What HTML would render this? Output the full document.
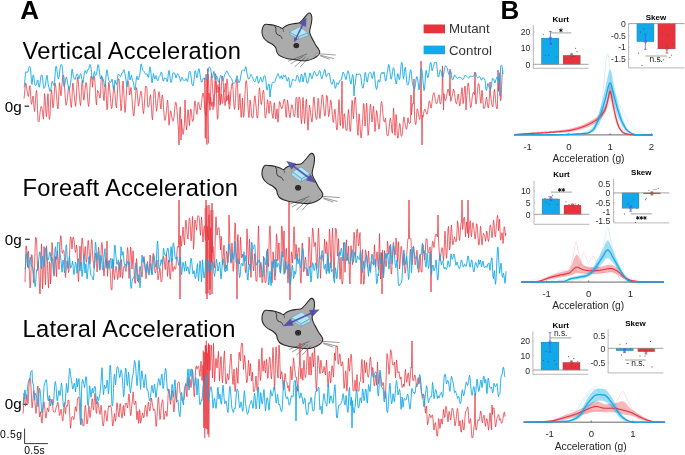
<!DOCTYPE html><html><head><meta charset="utf-8"><style>html,body{margin:0;padding:0;background:#fff;}svg{display:block;will-change:transform}text{font-family:"Liberation Sans",sans-serif;}</style></head><body>
<svg width="685" height="455" viewBox="0 0 685 455">
<rect width="685" height="455" fill="#fff"/>
<text x="20.2" y="18.5" font-size="26" font-weight="700" fill="#000">A</text>
<text x="500.6" y="18.7" font-size="26" font-weight="700" fill="#000">B</text>
<text x="22.6" letter-spacing="0.25" y="58.5" font-size="23.7" fill="#000">Vertical Acceleration</text>
<text x="22.6" letter-spacing="0.25" y="196.2" font-size="23.7" fill="#000">Foreaft Acceleration</text>
<text x="22.6" letter-spacing="0.25" y="336.9" font-size="23.7" fill="#000">Lateral Acceleration</text>
<text x="4.8" y="111.6" font-size="15.2" fill="#000">0g</text>
<line x1="24.5" x2="29.2" y1="106.2" y2="106.2" stroke="#222" stroke-width="1.2"/>
<text x="4.8" y="244.9" font-size="15.2" fill="#000">0g</text>
<line x1="25.1" x2="29.8" y1="239.3" y2="239.3" stroke="#222" stroke-width="1.2"/>
<text x="4.8" y="409.3" font-size="15.2" fill="#000">0g</text>
<line x1="22.9" x2="27.599999999999998" y1="404.3" y2="404.3" stroke="#222" stroke-width="1.2"/>
<path d="M24.6 428.6 V443.6 H47.9" fill="none" stroke="#222" stroke-width="0.9"/>
<text x="0.1" y="437.9" font-size="10.4" letter-spacing="0.6" fill="#000">0.5g</text>
<text x="24.3" y="453.6" font-size="10.4" letter-spacing="0.25" fill="#000">0.5s</text>
<rect x="423.6" y="24.5" width="21.4" height="8.8" fill="#e8333d"/>
<rect x="423.6" y="45.6" width="21.4" height="8.6" fill="#10a9ea"/>
<text x="449" y="33.3" font-size="13.3" fill="#333">Mutant</text>
<text x="449" y="54.6" font-size="13.3" fill="#333">Control</text>
<g transform="translate(296.3 45.6) scale(0.95) translate(-298.1 -187.7)">
<path d="M265.00 165.40 C266.20 164.90 268.38 165.45 270.00 165.60 C271.62 165.75 273.03 165.90 274.70 166.30 C276.37 166.70 278.53 167.45 280.00 168.00 C281.47 168.55 282.48 169.67 283.50 169.60 C284.52 169.53 285.02 168.23 286.10 167.60 C287.18 166.97 288.52 166.30 290.00 165.80 C291.48 165.30 293.25 164.90 295.00 164.60 C296.75 164.30 299.25 164.30 300.50 164.00 C301.75 163.70 301.65 163.55 302.50 162.80 C303.35 162.05 304.50 160.75 305.60 159.50 C306.70 158.25 308.15 156.32 309.10 155.30 C310.05 154.28 310.55 153.52 311.30 153.40 C312.05 153.28 313.07 153.75 313.60 154.60 C314.13 155.45 314.43 156.93 314.50 158.50 C314.57 160.07 314.32 162.08 314.00 164.00 C313.68 165.92 312.90 168.37 312.60 170.00 C312.30 171.63 312.02 172.45 312.20 173.80 C312.38 175.15 313.05 176.65 313.70 178.10 C314.35 179.55 315.25 180.93 316.10 182.50 C316.95 184.07 317.88 186.00 318.80 187.50 C319.72 189.00 320.93 190.33 321.60 191.50 C322.27 192.67 322.85 193.45 322.80 194.50 C322.75 195.55 322.43 196.65 321.30 197.80 C320.17 198.95 318.22 200.43 316.00 201.40 C313.78 202.37 311.08 203.38 308.00 203.60 C304.92 203.82 300.67 203.05 297.50 202.70 C294.33 202.35 291.18 201.93 289.00 201.50 C286.82 201.07 285.98 200.77 284.40 200.10 C282.82 199.43 280.68 198.60 279.50 197.50 C278.32 196.40 277.82 194.78 277.30 193.50 C276.78 192.22 277.20 191.05 276.40 189.80 C275.60 188.55 273.90 187.03 272.50 186.00 C271.10 184.97 269.33 184.52 268.00 183.60 C266.67 182.68 265.43 181.68 264.50 180.50 C263.57 179.32 262.82 177.83 262.40 176.50 C261.98 175.17 261.93 173.82 262.00 172.50 C262.07 171.18 262.30 169.78 262.80 168.60 C263.30 167.42 263.80 165.90 265.00 165.40 Z" fill="#ababab" stroke="#262626" stroke-width="1.1" stroke-linejoin="round"/>
<path d="M274.70 166.60 C275.02 167.03 276.28 168.17 276.60 169.20 C276.92 170.23 276.37 171.67 276.60 172.80 C276.83 173.93 277.20 175.23 278.00 176.00 C278.80 176.77 280.52 176.63 281.40 177.40 C282.28 178.17 282.98 180.07 283.30 180.60" fill="none" stroke="#262626" stroke-width="0.85"/>
<path d="M283.30 169.80 C283.52 170.03 284.42 170.63 284.60 171.20 C284.78 171.77 284.43 172.87 284.40 173.20" fill="none" stroke="#2e2e2e" stroke-width="0.6"/>
<ellipse cx="298.1" cy="187.7" rx="3.0" ry="2.8" fill="#1a1a1a"/>
<ellipse cx="298.3" cy="187.9" rx="1.7" ry="1.5" fill="none" stroke="#6a6a6a" stroke-width="0.5"/>
<ellipse cx="319.6" cy="197.2" rx="1.9" ry="1.1" fill="#f2b3c6" stroke="#555" stroke-width="0.3" transform="rotate(-20 319.6 197.2)"/>
<path d="M322.3 196.3 L339.6 197.6 M323.2 197.8 L337.6 201.4 M323.4 198.6 L333.4 202.2 M309.4 196.4 L289.3 204.3 M308.0 199.6 L296.4 210.0 M310.8 200.6 L302.2 210.2 M305.5 199.0 L292.0 207.0" fill="none" stroke="#333" stroke-width="0.5"/>
</g>
<path d="M307.70 32.80 L298.20 36.70 L298.80 39.30 L308.30 35.40 Z" fill="#a6dcee" stroke="#4f8aa0" stroke-width="0.45" stroke-linejoin="round"/>
<path d="M298.20 36.70 L289.60 32.10 L290.20 34.70 L298.80 39.30 Z" fill="#a6dcee" stroke="#4f8aa0" stroke-width="0.45" stroke-linejoin="round"/>
<path d="M289.60 32.10 L299.80 26.50 L307.70 32.80 L298.20 36.70 Z" fill="#b2e5f5" stroke="#4f8aa0" stroke-width="0.45" stroke-linejoin="round"/>
<line x1="295.32" y1="39.49" x2="303.71" y2="22.91" stroke="#4e4ea6" stroke-width="1.6" stroke-opacity="0.92"/>
<path d="M306.40 17.60 L305.95 26.90 L299.17 23.47 Z" fill="#4e4ea6" fill-opacity="0.92"/>
<path d="M293.90 42.30 L297.72 39.19 L294.15 37.38 Z" fill="#4e4ea6" fill-opacity="0.92"/>
<g transform="translate(0 0)">
<path d="M265.00 165.40 C266.20 164.90 268.38 165.45 270.00 165.60 C271.62 165.75 273.03 165.90 274.70 166.30 C276.37 166.70 278.53 167.45 280.00 168.00 C281.47 168.55 282.48 169.67 283.50 169.60 C284.52 169.53 285.02 168.23 286.10 167.60 C287.18 166.97 288.52 166.30 290.00 165.80 C291.48 165.30 293.25 164.90 295.00 164.60 C296.75 164.30 299.25 164.30 300.50 164.00 C301.75 163.70 301.65 163.55 302.50 162.80 C303.35 162.05 304.50 160.75 305.60 159.50 C306.70 158.25 308.15 156.32 309.10 155.30 C310.05 154.28 310.55 153.52 311.30 153.40 C312.05 153.28 313.07 153.75 313.60 154.60 C314.13 155.45 314.43 156.93 314.50 158.50 C314.57 160.07 314.32 162.08 314.00 164.00 C313.68 165.92 312.90 168.37 312.60 170.00 C312.30 171.63 312.02 172.45 312.20 173.80 C312.38 175.15 313.05 176.65 313.70 178.10 C314.35 179.55 315.25 180.93 316.10 182.50 C316.95 184.07 317.88 186.00 318.80 187.50 C319.72 189.00 320.93 190.33 321.60 191.50 C322.27 192.67 322.85 193.45 322.80 194.50 C322.75 195.55 322.43 196.65 321.30 197.80 C320.17 198.95 318.22 200.43 316.00 201.40 C313.78 202.37 311.08 203.38 308.00 203.60 C304.92 203.82 300.67 203.05 297.50 202.70 C294.33 202.35 291.18 201.93 289.00 201.50 C286.82 201.07 285.98 200.77 284.40 200.10 C282.82 199.43 280.68 198.60 279.50 197.50 C278.32 196.40 277.82 194.78 277.30 193.50 C276.78 192.22 277.20 191.05 276.40 189.80 C275.60 188.55 273.90 187.03 272.50 186.00 C271.10 184.97 269.33 184.52 268.00 183.60 C266.67 182.68 265.43 181.68 264.50 180.50 C263.57 179.32 262.82 177.83 262.40 176.50 C261.98 175.17 261.93 173.82 262.00 172.50 C262.07 171.18 262.30 169.78 262.80 168.60 C263.30 167.42 263.80 165.90 265.00 165.40 Z" fill="#ababab" stroke="#262626" stroke-width="1.1" stroke-linejoin="round"/>
<path d="M274.70 166.60 C275.02 167.03 276.28 168.17 276.60 169.20 C276.92 170.23 276.37 171.67 276.60 172.80 C276.83 173.93 277.20 175.23 278.00 176.00 C278.80 176.77 280.52 176.63 281.40 177.40 C282.28 178.17 282.98 180.07 283.30 180.60" fill="none" stroke="#262626" stroke-width="0.85"/>
<path d="M283.30 169.80 C283.52 170.03 284.42 170.63 284.60 171.20 C284.78 171.77 284.43 172.87 284.40 173.20" fill="none" stroke="#2e2e2e" stroke-width="0.6"/>
<ellipse cx="298.1" cy="187.7" rx="3.0" ry="2.8" fill="#1a1a1a"/>
<ellipse cx="298.3" cy="187.9" rx="1.7" ry="1.5" fill="none" stroke="#6a6a6a" stroke-width="0.5"/>
<ellipse cx="319.6" cy="197.2" rx="1.9" ry="1.1" fill="#f2b3c6" stroke="#555" stroke-width="0.3" transform="rotate(-20 319.6 197.2)"/>
<path d="M322.3 196.3 L339.6 197.6 M323.2 197.8 L337.6 201.4 M323.4 198.6 L333.4 202.2 M309.4 196.4 L289.3 204.3 M308.0 199.6 L296.4 210.0 M310.8 200.6 L302.2 210.2 M305.5 199.0 L292.0 207.0" fill="none" stroke="#333" stroke-width="0.5"/>
</g>
<path d="M310.00 173.80 L301.80 178.60 L300.60 182.00 L308.80 177.20 Z" fill="#a6dcee" stroke="#4f8aa0" stroke-width="0.45" stroke-linejoin="round"/>
<path d="M301.80 178.60 L292.50 171.60 L291.30 175.00 L300.60 182.00 Z" fill="#a6dcee" stroke="#4f8aa0" stroke-width="0.45" stroke-linejoin="round"/>
<path d="M292.50 171.60 L301.10 167.00 L310.00 173.80 L301.80 178.60 Z" fill="#b2e5f5" stroke="#4f8aa0" stroke-width="0.45" stroke-linejoin="round"/>
<line x1="291.63" y1="164.88" x2="310.57" y2="179.02" stroke="#4e4ea6" stroke-width="1.7" stroke-opacity="0.92"/>
<path d="M315.90 183.00 L306.01 180.36 L310.56 174.27 Z" fill="#4e4ea6" fill-opacity="0.92"/>
<path d="M286.30 160.90 L291.64 169.63 L296.19 163.54 Z" fill="#4e4ea6" fill-opacity="0.92"/>
<g transform="translate(0 145.0)">
<path d="M265.00 165.40 C266.20 164.90 268.38 165.45 270.00 165.60 C271.62 165.75 273.03 165.90 274.70 166.30 C276.37 166.70 278.53 167.45 280.00 168.00 C281.47 168.55 282.48 169.67 283.50 169.60 C284.52 169.53 285.02 168.23 286.10 167.60 C287.18 166.97 288.52 166.30 290.00 165.80 C291.48 165.30 293.25 164.90 295.00 164.60 C296.75 164.30 299.25 164.30 300.50 164.00 C301.75 163.70 301.65 163.55 302.50 162.80 C303.35 162.05 304.50 160.75 305.60 159.50 C306.70 158.25 308.15 156.32 309.10 155.30 C310.05 154.28 310.55 153.52 311.30 153.40 C312.05 153.28 313.07 153.75 313.60 154.60 C314.13 155.45 314.43 156.93 314.50 158.50 C314.57 160.07 314.32 162.08 314.00 164.00 C313.68 165.92 312.90 168.37 312.60 170.00 C312.30 171.63 312.02 172.45 312.20 173.80 C312.38 175.15 313.05 176.65 313.70 178.10 C314.35 179.55 315.25 180.93 316.10 182.50 C316.95 184.07 317.88 186.00 318.80 187.50 C319.72 189.00 320.93 190.33 321.60 191.50 C322.27 192.67 322.85 193.45 322.80 194.50 C322.75 195.55 322.43 196.65 321.30 197.80 C320.17 198.95 318.22 200.43 316.00 201.40 C313.78 202.37 311.08 203.38 308.00 203.60 C304.92 203.82 300.67 203.05 297.50 202.70 C294.33 202.35 291.18 201.93 289.00 201.50 C286.82 201.07 285.98 200.77 284.40 200.10 C282.82 199.43 280.68 198.60 279.50 197.50 C278.32 196.40 277.82 194.78 277.30 193.50 C276.78 192.22 277.20 191.05 276.40 189.80 C275.60 188.55 273.90 187.03 272.50 186.00 C271.10 184.97 269.33 184.52 268.00 183.60 C266.67 182.68 265.43 181.68 264.50 180.50 C263.57 179.32 262.82 177.83 262.40 176.50 C261.98 175.17 261.93 173.82 262.00 172.50 C262.07 171.18 262.30 169.78 262.80 168.60 C263.30 167.42 263.80 165.90 265.00 165.40 Z" fill="#ababab" stroke="#262626" stroke-width="1.1" stroke-linejoin="round"/>
<path d="M274.70 166.60 C275.02 167.03 276.28 168.17 276.60 169.20 C276.92 170.23 276.37 171.67 276.60 172.80 C276.83 173.93 277.20 175.23 278.00 176.00 C278.80 176.77 280.52 176.63 281.40 177.40 C282.28 178.17 282.98 180.07 283.30 180.60" fill="none" stroke="#262626" stroke-width="0.85"/>
<path d="M283.30 169.80 C283.52 170.03 284.42 170.63 284.60 171.20 C284.78 171.77 284.43 172.87 284.40 173.20" fill="none" stroke="#2e2e2e" stroke-width="0.6"/>
<ellipse cx="298.1" cy="187.7" rx="3.0" ry="2.8" fill="#1a1a1a"/>
<ellipse cx="298.3" cy="187.9" rx="1.7" ry="1.5" fill="none" stroke="#6a6a6a" stroke-width="0.5"/>
<ellipse cx="319.6" cy="197.2" rx="1.9" ry="1.1" fill="#f2b3c6" stroke="#555" stroke-width="0.3" transform="rotate(-20 319.6 197.2)"/>
<path d="M322.3 196.3 L339.6 197.6 M323.2 197.8 L337.6 201.4 M323.4 198.6 L333.4 202.2 M309.4 196.4 L289.3 204.3 M308.0 199.6 L296.4 210.0 M310.8 200.6 L302.2 210.2 M305.5 199.0 L292.0 207.0" fill="none" stroke="#333" stroke-width="0.5"/>
</g>
<path d="M310.20 318.60 L300.80 323.80 L301.10 326.60 L310.50 321.40 Z" fill="#a6dcee" stroke="#4f8aa0" stroke-width="0.45" stroke-linejoin="round"/>
<path d="M300.80 323.80 L291.40 317.40 L291.70 320.20 L301.10 326.60 Z" fill="#a6dcee" stroke="#4f8aa0" stroke-width="0.45" stroke-linejoin="round"/>
<path d="M291.40 317.40 L301.80 312.10 L310.20 318.60 L300.80 323.80 Z" fill="#b2e5f5" stroke="#4f8aa0" stroke-width="0.45" stroke-linejoin="round"/>
<line x1="289.36" y1="323.28" x2="313.24" y2="312.32" stroke="#4e4ea6" stroke-width="1.7" stroke-opacity="0.92"/>
<path d="M319.60 309.40 L312.10 317.03 L308.93 310.12 Z" fill="#4e4ea6" fill-opacity="0.92"/>
<path d="M283.00 326.20 L293.67 325.48 L290.50 318.57 Z" fill="#4e4ea6" fill-opacity="0.92"/>
<path d="M24.0 98.6 24.5 94.5 25.0 88.0 25.5 83.1 26.0 83.3 26.5 86.3 27.0 90.5 27.5 93.6 28.0 95.6 28.5 96.5 29.0 91.9 29.5 86.0 30.0 85.5 30.5 93.0 31.0 101.7 31.5 104.3 32.0 102.3 32.5 98.3 33.0 96.0 33.5 100.4 34.0 107.3 34.5 111.4 35.0 107.6 35.5 99.9 36.0 93.0 36.5 90.3 37.0 94.1 37.5 109.3 38.0 120.5 38.5 121.1 39.0 121.8 39.5 118.5 40.0 112.9 40.5 108.5 41.0 106.5 41.5 106.7 42.0 108.6 42.5 112.3 43.0 116.7 43.5 119.2 44.0 106.3 44.5 93.5 45.0 97.0 45.5 105.4 46.0 113.1 46.5 116.7 47.0 110.4 47.5 97.9 48.0 93.7 48.5 103.9 49.0 116.9 49.5 119.4 50.0 115.6 50.5 104.3 51.0 94.1 51.5 89.9 52.0 94.4 52.5 102.7 53.0 107.8 53.5 105.5 54.0 98.0 54.5 89.1 55.0 83.1 55.5 84.5 56.0 89.2 56.5 94.9 57.0 101.5 57.5 107.1 58.0 109.0 58.5 101.6 59.0 90.6 59.5 82.6 60.0 86.1 60.5 93.4 61.0 95.8 61.5 90.5 62.0 84.3 62.5 78.8 63.0 75.0 63.5 75.1 64.0 78.0 64.5 85.8 65.0 94.0 65.5 100.9 66.0 105.3 66.5 104.6 67.0 101.7 67.5 97.3 68.0 91.7 68.5 87.1 69.0 86.2 69.5 89.8 70.0 95.4 70.5 101.8 71.0 107.2 71.5 107.3 72.0 98.5 72.5 84.0 73.0 83.1 73.5 87.8 74.0 93.1 74.5 98.0 75.0 102.4 75.5 106.3 76.0 103.1 76.5 93.9 77.0 83.7 77.5 77.2 78.0 78.1 78.5 84.5 79.0 91.3 79.5 97.1 80.0 102.7 80.5 105.6 81.0 100.3 81.5 90.4 82.0 81.6 82.5 80.4 83.0 89.8 83.5 99.3 84.0 100.2 84.5 95.8 85.0 89.9 85.5 84.8 86.0 82.5 86.5 83.8 87.0 89.2 87.5 96.1 88.0 103.0 88.5 106.5 89.0 104.7 89.5 96.8 90.0 87.3 90.5 79.3 91.0 76.1 91.5 76.1 92.0 81.0 92.5 87.2 93.0 82.2 93.5 76.2 94.0 76.2 94.5 76.2 95.0 82.7 95.5 92.5 96.0 101.1 96.5 105.0 97.0 97.4 97.5 90.3 98.0 91.0 98.5 91.6 99.0 93.4 99.5 96.2 100.0 98.1 100.5 95.5 101.0 81.4 101.5 76.7 102.0 76.8 102.5 77.9 103.0 89.4 103.5 98.2 104.0 100.7 104.5 95.5 105.0 88.0 105.5 84.3 106.0 90.2 106.5 102.1 107.0 109.8 107.5 108.3 108.0 95.9 108.5 84.0 109.0 82.3 109.5 86.6 110.0 92.3 110.5 98.7 111.0 104.9 111.5 108.7 112.0 107.6 112.5 102.4 113.0 95.2 113.5 88.8 114.0 85.7 114.5 89.2 115.0 94.7 115.5 100.7 116.0 106.1 116.5 107.9 117.0 101.2 117.5 91.0 118.0 80.6 118.5 78.9 119.0 79.0 119.5 84.4 120.0 93.7 120.5 103.5 121.0 110.8 121.5 107.8 122.0 98.3 122.5 87.2 123.0 81.0 123.5 86.2 124.0 95.9 124.5 105.9 125.0 112.5 125.5 109.1 126.0 100.1 126.5 91.2 127.0 84.1 127.5 81.1 128.0 81.3 128.5 81.4 129.0 87.9 129.5 95.0 130.0 94.0 130.5 89.9 131.0 87.5 131.5 91.7 132.0 98.4 132.5 105.6 133.0 112.0 133.5 116.0 134.0 114.8 134.5 109.0 135.0 102.5 135.5 95.6 136.0 90.0 136.5 87.7 137.0 90.4 137.5 95.9 138.0 102.0 138.5 106.1 139.0 104.4 139.5 100.0 140.0 95.6 140.5 92.8 141.0 91.1 141.5 93.4 142.0 99.3 142.5 105.6 143.0 110.9 143.5 113.7 144.0 109.5 144.5 102.3 145.0 94.2 145.5 86.2 146.0 86.4 146.5 86.5 147.0 88.4 147.5 104.8 148.0 107.3 148.5 106.7 149.0 105.5 149.5 101.7 150.0 96.6 150.5 94.7 151.0 99.6 151.5 108.4 152.0 117.2 152.5 119.9 153.0 112.0 153.5 99.5 154.0 89.3 154.5 89.2 155.0 91.1 155.5 98.3 156.0 106.4 156.5 111.3 157.0 108.5 157.5 103.6 158.0 98.9 158.5 93.9 159.0 91.7 159.5 94.6 160.0 100.6 160.5 107.7 161.0 109.0 161.5 102.7 162.0 95.5 162.5 95.0 163.0 99.8 163.5 107.0 164.0 114.1 164.5 118.3 165.0 120.5 165.5 118.8 166.0 114.9 166.5 110.3 167.0 105.2 167.5 100.0 168.0 103.5 168.5 117.2 169.0 125.2 169.5 121.7 170.0 115.2 170.5 110.8 171.0 111.5 171.5 114.7 172.0 117.9 172.5 120.1 173.0 121.2 173.5 120.3 174.0 117.0 174.5 111.9 175.0 106.3 175.5 102.3 176.0 102.4 176.5 104.8 177.0 110.3 177.5 117.2 178.0 124.7 178.5 130.1 179.0 145.0 179.5 117.1 180.0 107.3 180.5 106.9 181.0 140.0 181.5 119.3 182.0 126.2 182.5 131.3 183.0 134.5 183.5 132.2 184.0 127.9 184.5 122.1 185.0 100.0 185.5 114.6 186.0 124.1 186.5 130.0 187.0 125.6 187.5 115.8 188.0 109.7 188.5 113.9 189.0 121.8 189.5 125.7 190.0 117.7 190.5 109.2 191.0 109.1 191.5 112.8 192.0 118.5 192.5 121.4 193.0 120.7 193.5 120.0 194.0 111.5 194.5 102.9 195.0 100.9 195.5 103.6 196.0 108.8 196.5 113.1 197.0 114.3 197.5 109.1 198.0 102.7 198.5 102.2 199.0 104.2 199.5 106.5 200.0 109.2 200.5 110.0 201.0 108.0 201.5 103.4 202.0 98.5 202.5 94.7 203.0 93.0 203.5 94.3 204.0 98.7 204.5 104.9 205.0 112.0 205.5 114.1 206.0 115.7 206.5 109.9 207.0 97.8 207.5 83.9 208.0 74.0 208.5 79.3 209.0 91.8 209.5 104.8 210.0 110.3 210.5 98.0 211.0 80.1 211.5 73.6 212.0 79.0 212.5 86.7 213.0 95.1 213.5 102.8 214.0 106.6 214.5 97.8 215.0 77.4 215.5 73.7 216.0 76.2 216.5 93.7 217.0 112.6 217.5 119.2 218.0 117.2 218.5 96.1 219.0 86.9 219.5 96.1 220.0 105.2 220.5 102.9 221.0 95.3 221.5 85.7 222.0 77.5 222.5 76.0 223.0 79.2 223.5 86.5 224.0 94.6 224.5 101.8 225.0 105.7 225.5 103.6 226.0 95.3 226.5 85.3 227.0 78.9 227.5 81.7 228.0 89.2 228.5 97.7 229.0 105.0 229.5 109.1 230.0 106.1 230.5 98.1 231.0 90.8 231.5 86.6 232.0 83.7 232.5 83.1 233.0 89.4 233.5 98.5 234.0 106.0 234.5 109.3 235.0 106.1 235.5 98.8 236.0 87.6 236.5 79.1 237.0 79.2 237.5 83.2 238.0 98.7 238.5 109.9 239.0 105.7 239.5 95.9 240.0 93.7 240.5 104.9 241.0 117.2 241.5 117.2 242.0 107.0 242.5 98.1 243.0 108.5 243.5 117.3 244.0 115.4 244.5 105.2 245.0 93.8 245.5 84.4 246.0 80.7 246.5 80.8 247.0 86.4 247.5 96.5 248.0 107.1 248.5 115.6 249.0 117.6 249.5 110.4 250.0 100.1 250.5 101.4 251.0 107.5 251.5 115.9 252.0 117.7 252.5 117.7 253.0 117.8 253.5 112.1 254.0 103.9 254.5 97.1 255.0 95.8 255.5 100.8 256.0 106.0 256.5 111.2 257.0 117.8 257.5 118.0 258.0 114.1 258.5 102.8 259.0 91.8 259.5 87.8 260.0 91.6 260.5 98.3 261.0 104.1 261.5 104.4 262.0 100.8 262.5 95.6 263.0 91.1 263.5 90.2 264.0 94.2 264.5 106.6 265.0 116.9 265.5 118.1 266.0 115.5 266.5 110.8 267.0 104.8 267.5 99.7 268.0 101.3 268.5 108.3 269.0 113.4 269.5 108.7 270.0 101.7 270.5 101.2 271.0 104.3 271.5 108.8 272.0 113.2 272.5 116.5 273.0 118.4 273.5 112.5 274.0 103.6 274.5 102.6 275.0 110.1 275.5 118.4 276.0 118.9 276.5 112.3 277.0 108.9 277.5 115.6 278.0 122.3 278.5 117.2 279.0 106.8 279.5 101.5 280.0 102.4 280.5 104.7 281.0 107.0 281.5 108.5 282.0 108.8 282.5 107.0 283.0 104.7 283.5 102.0 284.0 99.2 284.5 99.0 285.0 102.2 285.5 109.8 286.0 117.0 286.5 117.4 287.0 106.3 287.5 100.0 288.0 102.9 288.5 108.0 289.0 112.8 289.5 116.3 290.0 117.7 290.5 113.9 291.0 109.2 291.5 105.8 292.0 104.7 292.5 106.6 293.0 109.5 293.5 113.4 294.0 116.0 294.5 116.9 295.0 113.8 295.5 106.3 296.0 97.6 296.5 97.5 297.0 97.5 297.5 112.8 298.0 117.9 298.5 105.2 299.0 97.2 299.5 97.2 300.0 99.5 300.5 109.4 301.0 119.0 301.5 123.7 302.0 117.4 302.5 105.0 303.0 97.5 303.5 103.6 304.0 116.1 304.5 123.6 305.0 118.8 305.5 109.7 306.0 100.8 306.5 99.1 307.0 109.8 307.5 123.8 308.0 130.2 308.5 122.6 309.0 111.0 309.5 105.1 310.0 108.3 310.5 112.2 311.0 116.6 311.5 120.3 312.0 122.1 312.5 117.5 313.0 107.8 313.5 99.1 314.0 96.9 314.5 102.0 315.0 109.0 315.5 114.9 316.0 118.1 316.5 119.4 317.0 118.5 317.5 108.2 318.0 98.3 318.5 99.3 319.0 107.0 319.5 116.5 320.0 118.5 320.5 113.5 321.0 107.0 321.5 100.8 322.0 95.4 322.5 94.8 323.0 97.3 323.5 103.9 324.0 110.3 324.5 115.2 325.0 116.1 325.5 112.0 326.0 103.6 326.5 95.5 327.0 95.6 327.5 97.9 328.0 108.6 328.5 116.7 329.0 115.7 329.5 111.0 330.0 105.7 330.5 100.4 331.0 100.4 331.5 104.8 332.0 111.2 332.5 117.0 333.0 121.9 333.5 122.4 334.0 116.7 334.5 110.6 335.0 109.2 335.5 114.2 336.0 121.8 336.5 129.2 337.0 130.1 337.5 127.6 338.0 117.5 338.5 106.5 339.0 99.6 339.5 107.8 340.0 123.7 340.5 125.7 341.0 116.6 341.5 110.5 342.0 81.0 342.5 124.7 343.0 128.4 343.5 125.2 344.0 114.1 344.5 113.7 345.0 118.1 345.5 125.8 346.0 130.0 346.5 130.3 347.0 130.6 347.5 122.5 348.0 113.9 348.5 109.5 349.0 114.3 349.5 124.3 350.0 131.6 350.5 131.2 351.0 122.1 351.5 110.0 352.0 100.3 352.5 101.5 353.0 114.3 353.5 118.7 354.0 110.9 354.5 101.6 355.0 97.1 355.5 97.4 356.0 106.4 356.5 115.6 357.0 123.1 357.5 131.3 358.0 135.4 358.5 123.9 359.0 113.9 359.5 117.6 360.0 125.0 360.5 133.8 361.0 137.9 361.5 135.9 362.0 128.9 362.5 122.0 363.0 113.0 363.5 103.5 364.0 104.6 364.5 115.8 365.0 126.1 365.5 122.8 366.0 111.8 366.5 103.1 367.0 106.7 367.5 122.6 368.0 135.4 368.5 134.1 369.0 126.9 369.5 116.6 370.0 107.1 370.5 104.1 371.0 108.9 371.5 116.5 372.0 122.0 372.5 118.0 373.0 109.6 373.5 106.1 374.0 112.6 374.5 123.3 375.0 131.5 375.5 127.2 376.0 117.6 376.5 110.5 377.0 112.3 377.5 117.2 378.0 122.4 378.5 126.6 379.0 129.2 379.5 127.7 380.0 118.9 380.5 109.5 381.0 103.8 381.5 101.4 382.0 103.6 382.5 108.6 383.0 114.6 383.5 119.6 384.0 121.6 384.5 121.9 385.0 119.5 385.5 118.2 386.0 123.4 386.5 130.0 387.0 134.9 387.5 135.8 388.0 135.9 388.5 133.7 389.0 129.1 389.5 123.8 390.0 119.5 390.5 118.0 391.0 121.9 391.5 127.1 392.0 132.1 392.5 133.2 393.0 119.9 393.5 108.1 394.0 114.8 394.5 127.7 395.0 135.3 395.5 126.1 396.0 114.5 396.5 118.0 397.0 130.3 397.5 138.0 398.0 138.1 398.5 135.5 399.0 128.6 399.5 123.5 400.0 123.7 400.5 129.6 401.0 135.6 401.5 136.4 402.0 135.3 402.5 131.6 403.0 125.0 403.5 118.8 404.0 116.9 404.5 119.7 405.0 123.4 405.5 126.2 406.0 128.0 406.5 129.3 407.0 128.1 407.5 121.5 408.0 117.7 408.5 120.8 409.0 123.2 409.5 123.5 410.0 122.7 410.5 122.5 411.0 95.0 411.5 115.0 412.0 108.4 412.5 103.6 413.0 103.6 413.5 103.8 414.0 79.0 414.5 116.2 415.0 121.6 415.5 124.4 416.0 124.2 416.5 117.1 417.0 109.6 417.5 108.8 418.0 111.4 418.5 114.5 419.0 117.3 419.5 119.5 420.0 118.5 420.5 113.7 421.0 61.0 421.5 106.7 422.0 145.0 422.5 115.3 423.0 117.2 423.5 114.5 424.0 111.1 424.5 109.3 425.0 109.2 425.5 110.0 426.0 112.1 426.5 113.8 427.0 114.2 427.5 112.8 428.0 109.5 428.5 105.2 429.0 101.7 429.5 100.8 430.0 102.9 430.5 106.2 431.0 108.2 431.5 106.2 432.0 102.2 432.5 98.1 433.0 94.9 433.5 93.2 434.0 92.6 434.5 94.7 435.0 98.2 435.5 101.3 436.0 103.1 436.5 103.9 437.0 103.0 437.5 100.9 438.0 98.4 438.5 96.4 439.0 94.8 439.5 97.8 440.0 103.6 440.5 104.0 441.0 101.9 441.5 98.2 442.0 93.8 442.5 66.0 443.0 88.9 443.5 110.0 444.0 93.6 444.5 97.2 445.0 99.8 445.5 100.7 446.0 99.0 446.5 96.7 447.0 93.9 447.5 91.0 448.0 89.1 448.5 89.8 449.0 92.3 449.5 95.6 450.0 69.0 450.5 101.4 451.0 100.8 451.5 98.3 452.0 96.2 452.5 94.5 453.0 91.7 453.5 89.2 454.0 90.3 454.5 93.5 455.0 97.2 455.5 100.7 456.0 103.5 456.5 103.9 457.0 101.9 457.5 98.2 458.0 94.6 458.5 94.0 459.0 100.3 459.5 106.1 460.0 105.0 460.5 101.4 461.0 97.1 461.5 91.6 462.0 87.7 462.5 93.9 463.0 103.7 463.5 102.6 464.0 95.6 464.5 88.9 465.0 86.0 465.5 90.2 466.0 110.0 466.5 99.6 467.0 95.3 467.5 87.6 468.0 83.2 468.5 83.2 469.0 88.0 469.5 95.7 470.0 102.7 470.5 107.4 471.0 107.4 471.5 104.1 472.0 99.1 472.5 95.2 473.0 93.0 473.5 92.2 474.0 93.5 474.5 94.7 475.0 72.0 475.5 100.8 476.0 104.2 476.5 102.1 477.0 96.4 477.5 90.8 478.0 86.3 478.5 83.5 479.0 84.3 479.5 88.7 480.0 95.5 480.5 101.6 481.0 103.4 481.5 96.4 482.0 90.3 482.5 94.0 483.0 102.4 483.5 108.2 484.0 108.2 484.5 108.2 485.0 106.4 485.5 103.1 486.0 99.1 486.5 97.2 487.0 99.9 487.5 103.9 488.0 107.4 488.5 108.0 489.0 103.1 489.5 96.6 490.0 82.0 490.5 94.0 491.0 98.3 491.5 102.4 492.0 105.2 492.5 106.8 493.0 106.2 493.5 99.6 494.0 91.6 494.5 89.4 495.0 93.6 495.5 99.6 496.0 104.8 496.5 108.3 497.0 109.0 497.5 106.9 498.0 70.0 498.5 91.3 499.0 82.3 499.5 78.5 500.0 88.6 500.5 100.8 501.0 99.5 501.5 89.4 502.0 76.8 502.5 71.7 503.0 70.7" fill="none" stroke="#e8333d" stroke-width="0.9" stroke-linejoin="round" stroke-opacity="0.85"/>
<path d="M204.5 77.7 L205.3 138.3 L206.1 74.2 L206.9 144.6 L207.7 68.6 L208.5 143.4" fill="none" stroke="#e8333d" stroke-width="0.9" stroke-linejoin="round" stroke-opacity="0.85"/>
<path d="M208.0 102.9 208.5 96.2 209.0 93.0 209.5 98.5 210.0 104.4 210.5 97.5 211.0 97.4 211.5 106.4 212.0 102.2 212.5 102.0 213.0 109.9 213.5 104.9 214.0 94.4 214.5 93.6 215.0 93.7 215.5 80.7 216.0 81.9 216.5 89.9 217.0 92.6 217.5 86.6 218.0 84.6 218.5 92.5 219.0 91.0 219.5 79.4 220.0 96.1 220.5 104.4 221.0 99.7 221.5 94.2 222.0 98.2 222.5 103.5 223.0 101.5 223.5 93.9 224.0 90.6 224.5 91.7 225.0 85.3 225.5 83.2 226.0 95.3 226.5 101.3 227.0 95.5 227.5 99.6 228.0 100.2 228.5 94.3 229.0 104.3 229.5 101.2 230.0 91.5" fill="none" stroke="#e8333d" stroke-width="0.8" stroke-linejoin="round" stroke-opacity="0.85"/>
<path d="M24.0 87.3 24.5 85.7 25.0 78.7 25.5 72.4 26.0 71.6 26.5 72.6 27.0 72.4 27.5 72.0 28.0 71.9 28.5 69.9 29.0 67.3 29.5 66.4 30.0 66.5 30.5 67.7 31.0 74.6 31.5 82.7 32.0 84.4 32.5 80.0 33.0 75.2 33.5 75.0 34.0 78.3 34.5 82.5 35.0 85.0 35.5 85.3 36.0 85.3 36.5 84.8 37.0 81.9 37.5 79.9 38.0 80.5 38.5 83.8 39.0 86.9 39.5 87.0 40.0 83.3 40.5 79.0 41.0 76.1 41.5 74.9 42.0 75.1 42.5 77.6 43.0 82.5 43.5 86.7 44.0 88.4 44.5 87.8 45.0 86.7 45.5 84.2 46.0 80.3 46.5 76.7 47.0 75.2 47.5 78.2 48.0 83.1 48.5 86.1 49.0 87.5 49.5 90.0 50.0 91.5 50.5 90.8 51.0 88.1 51.5 84.6 52.0 81.4 52.5 81.6 53.0 83.4 53.5 84.1 54.0 85.6 54.5 82.6 55.0 75.6 55.5 68.5 56.0 66.2 56.5 66.6 57.0 70.1 57.5 74.8 58.0 77.9 58.5 79.0 59.0 77.1 59.5 73.1 60.0 68.6 60.5 65.8 61.0 64.5 61.5 64.6 62.0 65.6 62.5 69.6 63.0 77.0 63.5 84.0 64.0 86.5 64.5 85.7 65.0 83.3 65.5 80.2 66.0 77.6 66.5 77.0 67.0 79.1 67.5 82.3 68.0 85.1 68.5 87.7 69.0 89.5 69.5 89.0 70.0 86.6 70.5 83.8 71.0 79.8 71.5 73.9 72.0 69.1 72.5 70.0 73.0 74.1 73.5 76.9 74.0 77.7 74.5 78.8 75.0 79.6 75.5 79.1 76.0 76.7 76.5 74.5 77.0 73.8 77.5 74.2 78.0 75.7 78.5 77.9 79.0 78.8 79.5 77.4 80.0 74.7 80.5 73.6 81.0 74.7 81.5 76.9 82.0 79.7 82.5 82.0 83.0 82.6 83.5 79.6 84.0 75.8 84.5 72.5 85.0 70.6 85.5 70.7 86.0 72.6 86.5 73.6 87.0 72.0 87.5 69.9 88.0 69.2 88.5 69.6 89.0 68.1 89.5 65.4 90.0 64.5 90.5 65.3 91.0 68.0 91.5 72.6 92.0 77.3 92.5 79.3 93.0 79.3 93.5 76.6 94.0 72.7 94.5 71.5 95.0 73.7 95.5 75.3 96.0 75.4 96.5 74.7 97.0 71.5 97.5 66.7 98.0 64.6 98.5 65.7 99.0 68.7 99.5 72.3 100.0 76.4 100.5 79.0 101.0 77.7 101.5 75.6 102.0 77.0 102.5 78.8 103.0 78.7 103.5 79.8 104.0 82.8 104.5 86.8 105.0 86.1 105.5 81.9 106.0 76.0 106.5 71.4 107.0 69.8 107.5 72.2 108.0 76.1 108.5 79.0 109.0 80.7 109.5 81.6 110.0 82.2 110.5 82.4 111.0 82.1 111.5 80.8 112.0 79.1 112.5 81.4 113.0 86.0 113.5 89.8 114.0 88.7 114.5 83.6 115.0 80.1 115.5 81.9 116.0 84.1 116.5 84.6 117.0 82.7 117.5 78.5 118.0 74.7 118.5 74.0 119.0 75.0 119.5 75.3 120.0 76.1 120.5 76.7 121.0 75.5 121.5 73.2 122.0 72.8 122.5 73.0 123.0 71.9 123.5 70.2 124.0 69.7 124.5 71.8 125.0 74.2 125.5 76.7 126.0 80.3 126.5 84.4 127.0 86.8 127.5 84.7 128.0 78.5 128.5 72.1 129.0 71.2 129.5 75.7 130.0 80.0 130.5 79.2 131.0 76.5 131.5 75.1 132.0 77.9 132.5 80.6 133.0 81.3 133.5 82.8 134.0 86.2 134.5 89.2 135.0 90.1 135.5 86.7 136.0 81.5 136.5 77.5 137.0 76.2 137.5 77.9 138.0 79.9 138.5 79.3 139.0 77.3 139.5 75.8 140.0 73.2 140.5 67.7 141.0 64.0 141.5 64.1 142.0 67.1 142.5 69.7 143.0 70.3 143.5 70.8 144.0 71.3 144.5 72.5 145.0 73.6 145.5 74.0 146.0 74.4 146.5 74.1 147.0 73.8 147.5 74.9 148.0 77.3 148.5 77.2 149.0 73.8 149.5 69.6 150.0 66.9 150.5 68.6 151.0 73.4 151.5 79.3 152.0 82.9 152.5 80.5 153.0 75.9 153.5 73.6 154.0 76.0 154.5 78.5 155.0 79.0 155.5 76.6 156.0 75.6 156.5 77.3 157.0 79.6 157.5 80.9 158.0 80.4 158.5 78.5 159.0 76.8 159.5 76.2 160.0 75.5 160.5 74.3 161.0 72.6 161.5 71.9 162.0 74.0 162.5 77.6 163.0 80.9 163.5 81.1 164.0 79.2 164.5 77.8 165.0 78.1 165.5 78.5 166.0 78.2 166.5 79.7 167.0 81.6 167.5 81.4 168.0 76.8 168.5 71.8 169.0 70.4 169.5 73.2 170.0 77.0 170.5 80.8 171.0 82.7 171.5 81.8 172.0 79.0 172.5 75.7 173.0 73.1 173.5 72.6 174.0 73.3 174.5 73.2 175.0 74.0 175.5 76.4 176.0 78.0 176.5 76.9 177.0 74.8 177.5 73.6 178.0 74.1 178.5 75.2 179.0 75.7 179.5 77.1 180.0 79.6 180.5 81.5 181.0 80.6 181.5 78.6 182.0 77.2 182.5 78.3 183.0 79.7 183.5 80.0 184.0 80.3 184.5 81.0 185.0 80.5 185.5 79.5 186.0 78.5 186.5 79.1 187.0 80.9 187.5 81.5 188.0 79.6 188.5 75.8 189.0 72.8 189.5 71.6 190.0 71.2 190.5 72.5 191.0 76.0 191.5 80.6 192.0 84.2 192.5 85.8 193.0 85.7 193.5 83.8 194.0 79.7 194.5 74.7 195.0 70.8 195.5 70.8 196.0 73.6 196.5 77.3 197.0 77.8 197.5 75.3 198.0 72.2 198.5 69.1 199.0 68.7 199.5 70.9 200.0 74.4 200.5 77.9 201.0 80.6 201.5 82.1 202.0 82.1 202.5 80.6 203.0 78.8 203.5 77.9 204.0 78.1 204.5 79.0 205.0 79.2 205.5 78.8 206.0 79.1 206.5 79.8 207.0 80.1 207.5 77.2 208.0 72.3 208.5 68.6 209.0 67.2 209.5 67.2 210.0 67.7 210.5 68.7 211.0 71.4 211.5 75.2 212.0 77.9 212.5 77.6 213.0 75.2 213.5 72.8 214.0 71.4 214.5 73.9 215.0 78.2 215.5 79.8 216.0 77.6 216.5 75.9 217.0 76.8 217.5 78.7 218.0 80.5 218.5 82.1 219.0 82.1 219.5 79.7 220.0 77.3 220.5 75.6 221.0 75.3 221.5 76.5 222.0 79.3 222.5 81.0 223.0 80.5 223.5 79.3 224.0 77.3 224.5 75.3 225.0 74.2 225.5 73.4 226.0 72.2 226.5 71.1 227.0 71.1 227.5 71.7 228.0 73.0 228.5 74.7 229.0 75.7 229.5 75.9 230.0 76.8 230.5 77.6 231.0 78.1 231.5 78.6 232.0 79.8 232.5 81.4 233.0 82.7 233.5 83.4 234.0 83.7 234.5 83.1 235.0 82.4 235.5 81.5 236.0 79.5 236.5 76.8 237.0 75.6 237.5 77.5 238.0 80.2 238.5 82.2 239.0 82.8 239.5 82.1 240.0 80.5 240.5 77.9 241.0 74.8 241.5 72.1 242.0 70.6 242.5 70.0 243.0 69.9 243.5 70.2 244.0 70.8 244.5 70.8 245.0 68.9 245.5 66.8 246.0 66.9 246.5 70.1 247.0 73.7 247.5 76.2 248.0 78.1 248.5 79.0 249.0 79.0 249.5 78.2 250.0 76.6 250.5 74.9 251.0 74.4 251.5 75.3 252.0 76.2 252.5 77.4 253.0 78.7 253.5 80.1 254.0 81.0 254.5 81.5 255.0 81.8 255.5 80.8 256.0 78.6 256.5 77.0 257.0 76.2 257.5 78.0 258.0 81.7 258.5 83.4 259.0 82.2 259.5 80.9 260.0 79.3 260.5 77.5 261.0 77.6 261.5 79.8 262.0 81.9 262.5 81.9 263.0 80.6 263.5 78.2 264.0 76.0 264.5 75.6 265.0 76.1 265.5 77.5 266.0 81.4 266.5 87.0 267.0 90.2 267.5 89.2 268.0 86.4 268.5 84.2 269.0 84.1 269.5 85.0 270.0 97.0 270.5 90.3 271.0 89.0 271.5 86.2 272.0 83.6 272.5 82.3 273.0 81.9 273.5 82.3 274.0 82.2 274.5 82.3 275.0 81.4 275.5 79.7 276.0 78.1 276.5 76.8 277.0 75.8 277.5 74.3 278.0 73.5 278.5 74.6 279.0 76.4 279.5 77.6 280.0 78.5 280.5 77.7 281.0 75.9 281.5 75.9 282.0 78.2 282.5 79.1 283.0 77.4 283.5 75.2 284.0 75.4 284.5 76.5 285.0 76.2 285.5 75.4 286.0 77.1 286.5 79.4 287.0 81.1 287.5 80.9 288.0 79.1 288.5 77.5 289.0 79.2 289.5 83.4 290.0 87.4 290.5 87.2 291.0 85.5 291.5 83.8 292.0 81.5 292.5 79.3 293.0 79.4 293.5 79.8 294.0 80.1 294.5 80.0 295.0 80.5 295.5 80.7 296.0 79.3 296.5 76.9 297.0 75.2 297.5 75.5 298.0 76.4 298.5 78.4 299.0 80.9 299.5 82.4 300.0 81.4 300.5 78.9 301.0 76.0 301.5 73.9 302.0 75.6 302.5 79.5 303.0 82.1 303.5 79.9 304.0 76.4 304.5 73.9 305.0 72.7 305.5 74.4 306.0 77.6 306.5 81.0 307.0 83.0 307.5 83.2 308.0 82.4 308.5 80.0 309.0 77.5 309.5 75.0 310.0 72.9 310.5 73.3 311.0 76.1 311.5 78.3 312.0 78.8 312.5 77.6 313.0 75.1 313.5 73.1 314.0 71.9 314.5 71.4 315.0 72.1 315.5 73.5 316.0 74.8 316.5 75.8 317.0 76.1 317.5 75.4 318.0 74.6 318.5 73.6 319.0 71.6 319.5 70.5 320.0 71.1 320.5 73.2 321.0 76.3 321.5 78.7 322.0 78.7 322.5 76.6 323.0 74.8 323.5 73.5 324.0 71.7 324.5 69.5 325.0 69.7 325.5 73.3 326.0 76.4 326.5 76.6 327.0 75.3 327.5 73.9 328.0 73.5 328.5 73.5 329.0 73.1 329.5 74.1 330.0 76.8 330.5 80.5 331.0 82.9 331.5 83.7 332.0 84.4 332.5 83.7 333.0 81.4 333.5 79.7 334.0 81.1 334.5 84.5 335.0 87.6 335.5 88.4 336.0 86.4 336.5 83.7 337.0 82.6 337.5 83.6 338.0 84.4 338.5 84.2 339.0 82.9 339.5 81.2 340.0 80.2 340.5 80.1 341.0 80.2 341.5 79.2 342.0 76.9 342.5 73.6 343.0 72.0 343.5 72.5 344.0 73.9 344.5 75.1 345.0 76.3 345.5 78.6 346.0 79.6 346.5 78.0 347.0 74.6 347.5 71.6 348.0 70.7 348.5 71.5 349.0 73.8 349.5 76.8 350.0 80.0 350.5 82.9 351.0 84.0 351.5 81.9 352.0 77.4 352.5 74.5 353.0 75.6 353.5 80.0 354.0 96.0 354.5 86.0 355.0 85.5 355.5 82.4 356.0 77.2 356.5 73.6 357.0 74.2 357.5 75.1 358.0 74.4 358.5 74.3 359.0 74.0 359.5 74.0 360.0 74.1 360.5 75.1 361.0 77.8 361.5 82.0 362.0 85.4 362.5 88.0 363.0 88.2 363.5 86.4 364.0 82.6 364.5 77.5 365.0 72.9 365.5 72.4 366.0 75.7 366.5 79.5 367.0 82.0 367.5 81.9 368.0 78.0 368.5 74.3 369.0 73.3 369.5 72.9 370.0 72.7 370.5 72.3 371.0 73.3 371.5 75.7 372.0 78.3 372.5 78.2 373.0 75.9 373.5 72.6 374.0 71.6 374.5 74.9 375.0 79.9 375.5 84.8 376.0 88.0 376.5 89.5 377.0 88.4 377.5 84.5 378.0 81.1 378.5 79.8 379.0 81.0 379.5 82.1 380.0 80.6 380.5 76.9 381.0 73.9 381.5 72.8 382.0 72.1 382.5 72.7 383.0 73.8 383.5 72.9 384.0 72.1 384.5 74.3 385.0 78.5 385.5 81.2 386.0 80.7 386.5 77.4 387.0 74.2 387.5 71.5 388.0 68.0 388.5 64.6 389.0 64.6 389.5 68.2 390.0 71.9 390.5 75.8 391.0 79.2 391.5 78.9 392.0 75.6 392.5 71.5 393.0 68.7 393.5 67.7 394.0 68.6 394.5 72.6 395.0 77.2 395.5 80.5 396.0 83.5 396.5 84.0 397.0 79.1 397.5 73.9 398.0 73.8 398.5 76.0 399.0 78.7 399.5 79.7 400.0 76.8 400.5 71.7 401.0 65.7 401.5 62.5 402.0 62.5 402.5 66.8 403.0 75.6 403.5 79.1 404.0 75.8 404.5 71.2 405.0 67.3 405.5 67.5 406.0 72.5 406.5 79.6 407.0 83.8 407.5 84.8 408.0 84.9 408.5 84.3 409.0 81.2 409.5 75.6 410.0 71.5 410.5 69.7 411.0 70.7 411.5 75.5 412.0 80.7 412.5 83.7 413.0 85.7 413.5 87.4 414.0 88.7 414.5 89.2 415.0 87.3 415.5 83.7 416.0 79.9 416.5 76.8 417.0 76.7 417.5 78.5 418.0 81.3 418.5 86.0 419.0 90.0 419.5 87.8 420.0 80.1 420.5 73.1 421.0 68.4 421.5 68.1 422.0 70.8 422.5 75.5 423.0 81.1 423.5 87.0 424.0 90.6 424.5 89.4 425.0 83.5 425.5 74.9 426.0 70.4 426.5 71.1 427.0 74.5 427.5 77.3 428.0 77.6 428.5 75.9 429.0 72.3 429.5 68.4 430.0 64.3 430.5 62.5 431.0 62.5 431.5 66.3 432.0 70.9 432.5 69.8 433.0 67.4 433.5 66.4 434.0 64.8 434.5 62.5 435.0 62.5 435.5 62.5 436.0 62.5 436.5 62.5 437.0 67.0 437.5 72.6 438.0 76.6 438.5 77.1 439.0 75.9 439.5 73.0 440.0 70.4 440.5 69.8 441.0 70.9 441.5 73.3 442.0 75.9 442.5 77.5 443.0 77.6 443.5 75.2 444.0 71.9 444.5 69.2 445.0 67.1 445.5 65.9 446.0 66.0 446.5 67.2 447.0 67.7 447.5 68.9 448.0 71.6 448.5 74.1 449.0 74.5 449.5 73.5 450.0 72.0 450.5 70.8 451.0 71.9 451.5 75.5 452.0 78.8 452.5 79.9 453.0 79.7 453.5 78.1 454.0 76.1 454.5 75.0 455.0 75.2 455.5 75.9 456.0 77.1 456.5 77.9 457.0 78.3 457.5 78.6 458.0 78.1 458.5 77.5 459.0 77.4 459.5 77.2 460.0 76.9 460.5 77.1 461.0 77.8 461.5 78.6 462.0 79.0 462.5 79.3 463.0 79.5 463.5 79.0 464.0 77.7 464.5 76.2 465.0 75.3 465.5 75.4 466.0 75.9 466.5 76.2 467.0 76.5 467.5 77.0 468.0 77.6 468.5 78.3 469.0 77.8 469.5 76.9 470.0 76.0 470.5 76.0 471.0 76.2 471.5 76.6 472.0 76.7 472.5 76.5 473.0 76.6 473.5 76.3 474.0 75.3 474.5 74.1 475.0 72.8 475.5 72.9 476.0 74.5 476.5 76.2 477.0 76.8 477.5 77.5 478.0 77.9 478.5 77.4 479.0 76.6 479.5 76.6 480.0 77.1 480.5 78.0 481.0 79.3 481.5 80.2 482.0 79.3 482.5 78.1 483.0 77.7 483.5 78.0 484.0 78.4 484.5 78.9 485.0 80.3 485.5 84.0 486.0 89.4 486.5 90.5 487.0 88.7 487.5 84.1 488.0 83.3 488.5 85.5 489.0 87.0 489.5 88.1 490.0 88.8 490.5 89.4 491.0 87.8 491.5 84.4 492.0 80.8 492.5 78.4 493.0 78.4 493.5 79.1 494.0 80.2 494.5 82.1 495.0 83.0 495.5 81.0 496.0 79.4 496.5 78.3 497.0 76.7 497.5 76.8 498.0 80.3 498.5 81.5 499.0 78.0 499.5 72.8 500.0 96.0 500.5 67.5 501.0 65.4 501.5 65.3 502.0 66.6 502.5 69.9 503.0 74.0" fill="none" stroke="#10a9ea" stroke-width="1.0" stroke-linejoin="round" stroke-opacity="0.9"/>
<path d="M25.0 282.2 25.5 263.3 26.0 246.0 26.5 246.0 27.0 255.3 27.5 267.2 28.0 252.1 28.5 251.2 29.0 264.7 29.5 275.4 30.0 287.9 30.5 284.4 31.0 270.4 31.5 254.8 32.0 254.7 32.5 260.1 33.0 271.2 33.5 282.8 34.0 280.6 34.5 267.4 35.0 252.2 35.5 237.5 36.0 237.4 36.5 238.2 37.0 251.9 37.5 269.4 38.0 268.5 38.5 261.2 39.0 275.4 39.5 288.5 40.0 294.0 40.5 282.7 41.0 260.0 41.5 243.8 42.0 256.9 42.5 288.7 43.0 282.5 43.5 264.9 44.0 246.6 44.5 253.7 45.0 275.6 45.5 284.8 46.0 263.7 46.5 245.8 47.0 252.2 47.5 264.5 48.0 279.6 48.5 288.1 49.0 277.5 49.5 261.8 50.0 264.0 50.5 284.0 51.0 276.6 51.5 256.6 52.0 242.5 52.5 246.4 53.0 257.4 53.5 268.4 54.0 276.1 54.5 273.4 55.0 264.5 55.5 256.5 56.0 266.0 56.5 276.8 57.0 263.8 57.5 250.8 58.0 256.8 58.5 264.4 59.0 269.4 59.5 260.8 60.0 246.7 60.5 235.8 61.0 235.9 61.5 242.2 62.0 252.1 62.5 253.3 63.0 251.6 63.5 250.3 64.0 250.7 64.5 259.8 65.0 270.0 65.5 277.5 66.0 272.4 66.5 264.6 67.0 260.9 67.5 261.9 68.0 268.4 68.5 272.5 69.0 270.7 69.5 256.8 70.0 243.0 70.5 236.9 71.0 237.5 71.5 242.6 72.0 249.0 72.5 241.1 73.0 237.2 73.5 237.2 74.0 240.2 74.5 244.5 75.0 250.0 75.5 252.3 76.0 249.8 76.5 245.0 77.0 248.3 77.5 262.4 78.0 275.2 78.5 281.6 79.0 270.9 79.5 255.0 80.0 246.1 80.5 258.2 81.0 266.2 81.5 246.4 82.0 238.1 82.5 238.2 83.0 246.1 83.5 257.4 84.0 258.8 84.5 255.8 85.0 247.6 85.5 246.6 86.0 261.3 86.5 262.4 87.0 258.1 87.5 249.6 88.0 240.4 88.5 240.7 89.0 248.9 89.5 257.0 90.0 263.8 90.5 257.8 91.0 248.3 91.5 239.6 92.0 240.4 92.5 251.9 93.0 259.8 93.5 263.4 94.0 268.2 94.5 267.0 95.0 261.6 95.5 253.2 96.0 254.2 96.5 263.3 97.0 271.9 97.5 268.4 98.0 255.1 98.5 247.2 99.0 250.7 99.5 260.7 100.0 270.3 100.5 264.6 101.0 254.3 101.5 243.5 102.0 242.5 102.5 249.4 103.0 260.3 103.5 271.0 104.0 276.0 104.5 270.3 105.0 263.3 105.5 259.8 106.0 258.9 106.5 266.4 107.0 241.0 107.5 276.4 108.0 268.5 108.5 262.1 109.0 260.3 109.5 260.9 110.0 268.4 110.5 277.0 111.0 288.0 111.5 289.8 112.0 289.7 112.5 273.0 113.0 259.9 113.5 268.5 114.0 277.0 114.5 279.6 115.0 273.4 115.5 268.5 116.0 266.2 116.5 267.5 117.0 273.3 117.5 279.5 118.0 278.2 118.5 270.0 119.0 262.3 119.5 266.6 120.0 277.5 120.5 276.1 121.0 262.0 121.5 259.5 122.0 271.4 122.5 278.3 123.0 273.8 123.5 268.7 124.0 266.3 124.5 266.0 125.0 267.2 125.5 269.4 126.0 271.4 126.5 263.8 127.0 254.6 127.5 247.6 128.0 250.6 128.5 267.1 129.0 278.4 129.5 272.4 130.0 259.1 130.5 247.0 131.0 248.1 131.5 259.1 132.0 269.1 132.5 261.0 133.0 250.8 133.5 257.1 134.0 269.1 134.5 281.2 135.0 283.3 135.5 283.2 136.0 268.5 136.5 258.6 137.0 264.0 137.5 272.4 138.0 280.5 138.5 282.3 139.0 276.2 139.5 270.0 140.0 266.3 140.5 269.0 141.0 271.0 141.5 274.6 142.0 277.1 142.5 271.6 143.0 264.5 143.5 258.5 144.0 256.4 144.5 260.1 145.0 264.4 145.5 270.5 146.0 278.6 146.5 274.4 147.0 264.2 147.5 261.6 148.0 266.9 148.5 271.6 149.0 272.9 149.5 263.7 150.0 255.0 150.5 257.0 151.0 267.6 151.5 273.3 152.0 266.5 152.5 259.3 153.0 253.4 153.5 253.5 154.0 262.0 154.5 268.4 155.0 272.1 155.5 273.1 156.0 270.6 156.5 264.5 157.0 260.2 157.5 270.3 158.0 279.8 158.5 277.6 159.0 274.0 159.5 269.8 160.0 268.4 160.5 274.4 161.0 281.8 161.5 281.8 162.0 280.3 162.5 269.1 163.0 259.2 163.5 256.3 164.0 258.7 164.5 262.9 165.0 268.8 165.5 269.5 166.0 257.1 166.5 253.5 167.0 264.4 167.5 276.4 168.0 269.9 168.5 259.9 169.0 263.0 169.5 270.9 170.0 278.8 170.5 279.0 171.0 269.7 171.5 258.2 172.0 258.9 172.5 269.3 173.0 271.6 173.5 268.6 174.0 267.3 174.5 266.5 175.0 269.1 175.5 269.3 176.0 266.6 176.5 259.6 177.0 252.0 177.5 246.6 178.0 246.6 178.5 247.3 179.0 200.0 179.5 245.6 180.0 299.0 180.5 235.8 181.0 242.2 181.5 246.2 182.0 240.5 182.5 233.1 183.0 227.1 183.5 232.3 184.0 241.0 184.5 245.0 185.0 235.1 185.5 222.1 186.0 220.1 186.5 225.4 187.0 232.0 187.5 237.9 188.0 239.0 188.5 230.8 189.0 220.2 189.5 217.9 190.0 219.9 190.5 230.9 191.0 240.9 191.5 238.3 192.0 226.9 192.5 216.4 193.0 229.5 193.5 249.2 194.0 243.8 194.5 224.4 195.0 220.0 195.5 221.6 196.0 226.0 196.5 230.1 197.0 223.7 197.5 217.6 198.0 215.7 198.5 215.8 199.0 216.8 199.5 221.9 200.0 230.4 200.5 235.3 201.0 225.6 201.5 216.9 202.0 223.1 202.5 234.0 203.0 242.0 203.5 234.6 204.0 226.3 204.5 225.9 205.0 233.2 205.5 240.5 206.0 200.0 206.5 226.8 207.0 299.0 207.5 226.6 208.0 234.3 208.5 239.9 209.0 205.0 209.5 235.1 210.0 295.0 210.5 227.8 211.0 245.0 211.5 262.4 212.0 203.0 212.5 252.6 213.0 246.5 213.5 252.8 214.0 266.4 214.5 268.1 215.0 249.5 215.5 225.8 216.0 216.7 216.5 223.3 217.0 235.1 217.5 230.9 218.0 228.0 218.5 227.7 219.0 227.8 219.5 232.5 220.0 243.5 220.5 249.9 221.0 236.3 221.5 237.8 222.0 256.5 222.5 265.0 223.0 259.9 223.5 250.9 224.0 245.2 224.5 257.2 225.0 269.6 225.5 267.4 226.0 259.4 226.5 251.2 227.0 253.7 227.5 258.2 228.0 262.8 228.5 255.8 229.0 215.0 229.5 229.6 230.0 245.4 230.5 259.7 231.0 263.3 231.5 252.5 232.0 243.2 232.5 253.2 233.0 271.0 233.5 271.2 234.0 259.0 234.5 234.6 235.0 222.8 235.5 225.1 236.0 251.5 236.5 254.9 237.0 299.0 237.5 240.0 238.0 234.5 238.5 246.7 239.0 261.9 239.5 264.0 240.0 250.1 240.5 237.2 241.0 245.8 241.5 258.0 242.0 257.4 242.5 254.3 243.0 256.6 243.5 258.2 244.0 259.2 244.5 261.8 245.0 266.6 245.5 272.7 246.0 272.5 246.5 246.7 247.0 228.9 247.5 240.3 248.0 254.1 248.5 264.8 249.0 256.2 249.5 239.2 250.0 249.1 250.5 268.6 251.0 277.4 251.5 260.6 252.0 248.8 252.5 258.2 253.0 265.4 253.5 270.8 254.0 265.7 254.5 253.7 255.0 255.4 255.5 271.4 256.0 280.9 256.5 281.1 257.0 281.3 257.5 261.7 258.0 240.3 258.5 226.0 259.0 242.7 259.5 270.9 260.0 277.4 260.5 263.5 261.0 262.4 261.5 272.5 262.0 282.6 262.5 282.6 263.0 278.7 263.5 256.4 264.0 261.3 264.5 273.6 265.0 282.7 265.5 282.7 266.0 282.0 266.5 267.5 267.0 254.6 267.5 248.8 268.0 262.5 268.5 266.6 269.0 247.4 269.5 229.7 270.0 225.8 270.5 238.4 271.0 258.2 271.5 275.2 272.0 282.8 272.5 275.1 273.0 251.8 273.5 255.4 274.0 268.4 274.5 278.4 275.0 280.1 275.5 264.4 276.0 246.5 276.5 233.9 277.0 237.5 277.5 260.4 278.0 260.4 278.5 245.2 279.0 243.0 279.5 253.4 280.0 265.3 280.5 273.1 281.0 264.0 281.5 226.2 282.0 226.3 282.5 234.4 283.0 257.1 283.5 243.9 284.0 230.9 284.5 252.1 285.0 272.7 285.5 265.4 286.0 249.0 286.5 248.4 287.0 259.5 287.5 275.3 288.0 283.0 288.5 276.0 289.0 202.0 289.5 268.4 290.0 300.0 290.5 271.5 291.0 262.2 291.5 251.9 292.0 255.9 292.5 263.2 293.0 254.4 293.5 238.4 294.0 226.7 294.5 235.3 295.0 259.3 295.5 256.3 296.0 244.4 296.5 248.5 297.0 259.1 297.5 260.5 298.0 252.3 298.5 249.4 299.0 247.7 299.5 253.8 300.0 267.6 300.5 280.1 301.0 283.2 301.5 272.4 302.0 244.0 302.5 242.9 303.0 260.7 303.5 271.6 304.0 271.6 304.5 266.4 305.0 262.1 305.5 257.1 306.0 261.2 306.5 272.0 307.0 276.0 307.5 275.1 308.0 268.1 308.5 252.8 309.0 237.1 309.5 239.7 310.0 255.9 310.5 267.3 311.0 267.5 311.5 256.2 312.0 239.9 312.5 227.9 313.0 230.1 313.5 237.4 314.0 246.5 314.5 245.8 315.0 242.3 315.5 242.7 316.0 253.5 316.5 268.7 317.0 268.6 317.5 253.3 318.0 236.3 318.5 228.2 319.0 238.9 319.5 253.0 320.0 265.9 320.5 278.3 321.0 268.7 321.5 255.4 322.0 256.0 322.5 255.6 323.0 258.5 323.5 261.6 324.0 250.0 324.5 239.0 325.0 245.1 325.5 251.9 326.0 253.7 326.5 241.7 327.0 243.4 327.5 258.6 328.0 271.4 328.5 261.4 329.0 243.4 329.5 229.0 330.0 236.4 330.5 255.0 331.0 267.8 331.5 259.9 332.0 238.6 332.5 228.2 333.0 239.5 333.5 262.7 334.0 278.3 334.5 264.2 335.0 243.4 335.5 228.4 336.0 228.4 336.5 230.6 337.0 241.4 337.5 256.1 338.0 249.0 338.5 238.7 339.0 250.8 339.5 265.1 340.0 279.3 340.5 271.7 341.0 257.1 341.5 271.1 342.0 283.9 342.5 283.9 343.0 279.4 343.5 242.6 344.0 247.8 344.5 261.2 345.0 272.3 345.5 264.4 346.0 244.6 346.5 239.8 347.0 257.6 347.5 260.3 348.0 252.1 348.5 246.2 349.0 256.7 349.5 278.7 350.0 284.0 350.5 258.9 351.0 245.7 351.5 252.3 352.0 258.6 352.5 264.7 353.0 260.9 353.5 243.5 354.0 232.2 354.5 235.7 355.0 245.5 355.5 257.0 356.0 249.0 356.5 233.5 357.0 229.2 357.5 229.2 358.0 240.2 358.5 246.0 359.0 243.8 359.5 235.9 360.0 232.5 360.5 256.7 361.0 284.2 361.5 274.0 362.0 254.4 362.5 249.6 363.0 268.0 363.5 284.2 364.0 284.2 364.5 278.2 365.0 258.4 365.5 249.9 366.0 252.5 366.5 255.9 367.0 262.7 367.5 267.3 368.0 260.9 368.5 251.0 369.0 256.2 369.5 267.2 370.0 271.1 370.5 269.3 371.0 263.5 371.5 261.2 372.0 262.5 372.5 263.1 373.0 263.8 373.5 260.4 374.0 253.9 374.5 244.8 375.0 257.8 375.5 267.1 376.0 263.9 376.5 256.6 377.0 251.9 377.5 257.5 378.0 264.8 378.5 269.9 379.0 248.3 379.5 233.5 380.0 255.5 380.5 279.0 381.0 269.6 381.5 252.7 382.0 294.0 382.5 250.3 383.0 262.4 383.5 274.0 384.0 261.7 384.5 250.6 385.0 257.8 385.5 263.1 386.0 266.7 386.5 264.9 387.0 252.6 387.5 241.1 388.0 245.7 388.5 254.3 389.0 253.5 389.5 246.6 390.0 245.5 390.5 252.0 391.0 272.6 391.5 274.1 392.0 266.6 392.5 255.2 393.0 244.7 393.5 242.4 394.0 247.2 394.5 251.6 395.0 255.0 395.5 252.1 396.0 238.0 396.5 241.7 397.0 255.6 397.5 261.5 398.0 245.5 398.5 241.7 399.0 258.9 399.5 269.0 400.0 264.5 400.5 254.8 401.0 246.3 401.5 246.8 402.0 253.1 402.5 259.3 403.0 265.3 403.5 260.0 404.0 253.9 404.5 266.2 405.0 273.2 405.5 272.0 406.0 266.5 406.5 257.9 407.0 251.2 407.5 243.5 408.0 238.5 408.5 238.5 409.0 200.0 409.5 238.6 410.0 238.6 410.5 238.6 411.0 238.6 411.5 254.5 412.0 264.9 412.5 262.7 413.0 253.4 413.5 246.2 414.0 248.5 414.5 256.9 415.0 264.9 415.5 264.4 416.0 259.1 416.5 251.7 417.0 250.3 417.5 257.3 418.0 268.1 418.5 272.3 419.0 272.2 419.5 265.7 420.0 254.6 420.5 258.2 421.0 271.0 421.5 272.1 422.0 272.0 422.5 257.0 423.0 244.7 423.5 249.4 424.0 254.5 424.5 260.1 425.0 258.6 425.5 248.0 426.0 239.2 426.5 239.0 427.0 238.8 427.5 247.3 428.0 253.2 428.5 252.7 429.0 250.9 429.5 248.7 430.0 246.9 430.5 252.8 431.0 292.0 431.5 253.3 432.0 246.5 432.5 241.4 433.0 241.4 433.5 246.3 434.0 247.5 434.5 244.6 435.0 237.6 435.5 234.6 436.0 234.4 436.5 234.1 437.0 236.3 437.5 236.9 438.0 215.0 438.5 239.0 439.0 248.0 439.5 256.2 440.0 260.7 440.5 257.9 441.0 253.1 441.5 250.1 442.0 247.7 442.5 248.4 443.0 255.5 443.5 260.7 444.0 254.0 444.5 239.6 445.0 231.1 445.5 239.8 446.0 251.9 446.5 258.2 447.0 253.4 447.5 241.1 448.0 228.9 448.5 226.4 449.0 235.7 449.5 250.0 450.0 248.2 450.5 240.5 451.0 229.3 451.5 224.9 452.0 233.4 452.5 244.1 453.0 244.8 453.5 242.2 454.0 238.6 454.5 236.9 455.0 238.9 455.5 240.6 456.0 241.8 456.5 240.3 457.0 230.6 457.5 220.8 458.0 223.5 458.5 230.0 459.0 236.1 459.5 240.5 460.0 236.5 460.5 228.7 461.0 222.7 461.5 222.6 462.0 200.0 462.5 229.5 463.0 227.2 463.5 218.8 464.0 217.5 464.5 217.5 465.0 226.6 465.5 236.7 466.0 228.7 466.5 222.0 467.0 226.8 467.5 233.4 468.0 200.0 468.5 238.0 469.0 233.4 469.5 227.1 470.0 220.6 470.5 221.5 471.0 234.9 471.5 236.7 472.0 230.2 472.5 224.3 473.0 222.7 473.5 225.5 474.0 229.6 474.5 234.9 475.0 238.9 475.5 236.8 476.0 230.5 476.5 223.8 477.0 224.1 477.5 229.6 478.0 236.9 478.5 244.1 479.0 245.1 479.5 241.2 480.0 233.5 480.5 226.2 481.0 230.2 481.5 239.8 482.0 244.9 482.5 241.5 483.0 235.5 483.5 233.4 484.0 234.9 484.5 235.3 485.0 237.1 485.5 241.2 486.0 238.3 486.5 231.0 487.0 231.9 487.5 235.5 488.0 240.0 488.5 241.6 489.0 238.2 489.5 231.9 490.0 225.4 490.5 225.0 491.0 228.8 491.5 233.5 492.0 237.7 492.5 234.1 493.0 226.2 493.5 220.1 494.0 223.6 494.5 231.3 495.0 236.5 495.5 236.7 496.0 230.2 496.5 223.7 497.0 218.8 497.5 215.3 498.0 218.4 498.5 230.7 499.0 225.7 499.5 219.3 500.0 229.8 500.5 240.2 501.0 239.3 501.5 236.3 502.0 232.7 502.5 236.6 503.0 243.5 503.5 240.6 504.0 227.5 504.5 226.7 505.0 230.7 505.5 235.7 506.0 233.1" fill="none" stroke="#e8333d" stroke-width="0.9" stroke-linejoin="round" stroke-opacity="0.85"/>
<path d="M205.0 208.0 L206.0 293.9 L207.0 205.5 L208.0 293.4 L209.0 214.7 L210.0 289.6 L211.0 210.0 L212.0 294.1 L213.0 210.1" fill="none" stroke="#e8333d" stroke-width="0.8" stroke-linejoin="round" stroke-opacity="0.85"/>
<path d="M25.0 269.1 25.5 266.5 26.0 260.8 26.5 254.1 27.0 252.6 27.5 258.8 28.0 264.6 28.5 268.2 29.0 265.7 29.5 262.1 30.0 257.9 30.5 256.9 31.0 264.1 31.5 266.3 32.0 266.1 32.5 266.9 33.0 269.0 33.5 274.4 34.0 277.9 34.5 281.4 35.0 286.6 35.5 285.4 36.0 278.1 36.5 269.7 37.0 270.5 37.5 270.7 38.0 264.9 38.5 260.7 39.0 256.9 39.5 252.1 40.0 251.7 40.5 257.0 41.0 265.8 41.5 268.8 42.0 261.0 42.5 256.2 43.0 260.3 43.5 264.4 44.0 266.6 44.5 263.5 45.0 256.3 45.5 249.0 46.0 247.7 46.5 253.0 47.0 259.3 47.5 260.4 48.0 259.4 48.5 259.5 49.0 256.7 49.5 252.4 50.0 252.0 50.5 255.0 51.0 260.8 51.5 261.5 52.0 257.4 52.5 258.6 53.0 267.5 53.5 273.8 54.0 269.7 54.5 258.3 55.0 248.9 55.5 246.7 56.0 253.6 56.5 259.4 57.0 254.8 57.5 242.5 58.0 242.4 58.5 242.4 59.0 242.4 59.5 248.9 60.0 254.3 60.5 256.8 61.0 260.7 61.5 266.0 62.0 272.2 62.5 264.9 63.0 260.0 63.5 262.4 64.0 268.2 64.5 272.9 65.0 269.9 65.5 257.6 66.0 246.2 66.5 244.7 67.0 254.8 67.5 264.5 68.0 268.6 68.5 265.8 69.0 258.7 69.5 256.1 70.0 262.1 70.5 268.2 71.0 267.5 71.5 265.7 72.0 264.6 72.5 261.1 73.0 264.0 73.5 272.8 74.0 274.7 74.5 270.9 75.0 265.9 75.5 262.0 76.0 263.7 76.5 268.7 77.0 273.3 77.5 269.5 78.0 263.0 78.5 258.7 79.0 261.8 79.5 267.5 80.0 271.1 80.5 266.4 81.0 262.2 81.5 269.2 82.0 276.5 82.5 274.8 83.0 268.2 83.5 258.0 84.0 254.5 84.5 264.0 85.0 273.0 85.5 265.2 86.0 263.7 86.5 273.2 87.0 278.8 87.5 275.9 88.0 268.9 88.5 260.5 89.0 256.5 89.5 261.0 90.0 267.0 90.5 272.6 91.0 275.4 91.5 276.0 92.0 276.5 92.5 277.2 93.0 279.9 93.5 279.1 94.0 271.1 94.5 259.8 95.0 249.2 95.5 242.0 96.0 245.8 96.5 256.0 97.0 260.4 97.5 257.8 98.0 253.4 98.5 250.9 99.0 262.1 99.5 269.6 100.0 265.9 100.5 259.5 101.0 255.3 101.5 258.9 102.0 264.5 102.5 269.5 103.0 270.2 103.5 264.3 104.0 256.9 104.5 251.8 105.0 248.6 105.5 258.9 106.0 268.2 106.5 268.1 107.0 265.9 107.5 261.2 108.0 263.2 108.5 267.5 109.0 268.5 109.5 265.6 110.0 261.6 110.5 258.1 111.0 258.7 111.5 268.4 112.0 267.6 112.5 258.8 113.0 264.5 113.5 268.9 114.0 257.6 114.5 246.0 115.0 245.0 115.5 251.1 116.0 256.7 116.5 261.4 117.0 264.5 117.5 263.4 118.0 260.3 118.5 260.2 119.0 265.7 119.5 269.2 120.0 270.1 120.5 259.6 121.0 246.7 121.5 250.6 122.0 255.4 122.5 252.6 123.0 251.6 123.5 255.1 124.0 261.7 124.5 264.5 125.0 265.3 125.5 264.2 126.0 266.0 126.5 267.3 127.0 263.9 127.5 261.3 128.0 261.1 128.5 264.7 129.0 263.5 129.5 262.2 130.0 268.3 130.5 281.2 131.0 288.4 131.5 287.9 132.0 282.0 132.5 278.8 133.0 278.7 133.5 277.3 134.0 277.1 134.5 277.4 135.0 272.4 135.5 265.6 136.0 262.7 136.5 267.3 137.0 276.3 137.5 280.9 138.0 279.6 138.5 277.2 139.0 274.7 139.5 280.3 140.0 287.8 140.5 280.4 141.0 271.3 141.5 263.1 142.0 255.1 142.5 258.7 143.0 262.3 143.5 257.7 144.0 258.2 144.5 264.1 145.0 268.7 145.5 272.4 146.0 272.4 146.5 268.0 147.0 263.9 147.5 266.7 148.0 271.3 148.5 273.9 149.0 275.1 149.5 273.1 150.0 267.7 150.5 263.7 151.0 267.2 151.5 271.6 152.0 275.0 152.5 273.4 153.0 265.0 153.5 257.6 154.0 255.6 154.5 258.5 155.0 261.7 155.5 265.9 156.0 267.1 156.5 258.4 157.0 246.7 157.5 240.9 158.0 245.5 158.5 262.7 159.0 269.0 159.5 267.7 160.0 266.5 160.5 264.0 161.0 259.6 161.5 259.8 162.0 263.6 162.5 264.4 163.0 255.7 163.5 248.3 164.0 251.0 164.5 254.4 165.0 255.0 165.5 255.8 166.0 255.1 166.5 253.3 167.0 251.0 167.5 248.3 168.0 248.0 168.5 251.2 169.0 257.1 169.5 262.3 170.0 258.8 170.5 252.1 171.0 246.7 171.5 249.9 172.0 261.5 172.5 254.5 173.0 244.2 173.5 242.8 174.0 246.7 174.5 250.9 175.0 256.2 175.5 259.1 176.0 258.6 176.5 257.7 177.0 257.5 177.5 257.1 178.0 261.2 178.5 265.3 179.0 263.8 179.5 261.9 180.0 259.9 180.5 257.0 181.0 265.8 181.5 274.7 182.0 271.0 182.5 265.3 183.0 262.3 183.5 263.3 184.0 267.5 184.5 271.3 185.0 267.4 185.5 261.3 186.0 266.1 186.5 271.0 187.0 268.8 187.5 267.1 188.0 266.9 188.5 269.8 189.0 273.1 189.5 274.1 190.0 268.5 190.5 261.5 191.0 258.2 191.5 259.0 192.0 264.6 192.5 271.6 193.0 274.0 193.5 272.0 194.0 270.7 194.5 273.1 195.0 277.4 195.5 278.6 196.0 276.0 196.5 271.9 197.0 266.7 197.5 263.5 198.0 274.4 198.5 280.8 199.0 274.9 199.5 267.2 200.0 260.8 200.5 263.2 201.0 272.3 201.5 281.9 202.0 273.1 202.5 259.9 203.0 265.7 203.5 273.1 204.0 278.1 204.5 277.2 205.0 271.4 205.5 265.2 206.0 258.9 206.5 260.6 207.0 266.8 207.5 271.1 208.0 272.6 208.5 268.4 209.0 260.7 209.5 261.5 210.0 267.9 210.5 271.3 211.0 268.0 211.5 265.5 212.0 264.5 212.5 261.8 213.0 262.5 213.5 267.6 214.0 273.7 214.5 276.4 215.0 273.5 215.5 268.5 216.0 263.6 216.5 259.3 217.0 262.5 217.5 268.4 218.0 271.0 218.5 269.2 219.0 265.9 219.5 262.1 220.0 265.5 220.5 272.9 221.0 279.0 221.5 274.9 222.0 267.0 222.5 260.1 223.0 258.8 223.5 260.4 224.0 265.0 224.5 269.6 225.0 271.6 225.5 272.1 226.0 268.6 226.5 265.0 227.0 271.0 227.5 265.9 228.0 254.2 228.5 246.6 229.0 243.9 229.5 246.9 230.0 251.7 230.5 257.4 231.0 261.9 231.5 261.1 232.0 256.8 232.5 252.7 233.0 255.3 233.5 259.1 234.0 255.7 234.5 248.8 235.0 241.4 235.5 248.0 236.0 262.1 236.5 263.4 237.0 263.6 237.5 261.0 238.0 258.4 238.5 264.2 239.0 272.5 239.5 277.7 240.0 276.5 240.5 271.6 241.0 264.6 241.5 263.2 242.0 263.8 242.5 265.1 243.0 266.0 243.5 256.2 244.0 251.7 244.5 257.8 245.0 261.3 245.5 257.4 246.0 255.4 246.5 261.6 247.0 272.4 247.5 279.2 248.0 280.1 248.5 272.4 249.0 264.9 249.5 264.3 250.0 269.5 250.5 270.5 251.0 254.3 251.5 242.1 252.0 242.7 252.5 247.7 253.0 249.1 253.5 247.7 254.0 246.2 254.5 244.7 255.0 247.1 255.5 260.3 256.0 265.1 256.5 264.8 257.0 263.1 257.5 261.6 258.0 262.5 258.5 261.7 259.0 259.8 259.5 260.9 260.0 262.6 260.5 263.4 261.0 265.2 261.5 266.6 262.0 270.7 262.5 277.1 263.0 273.3 263.5 262.5 264.0 257.7 264.5 258.3 265.0 261.4 265.5 264.7 266.0 262.6 266.5 253.8 267.0 250.5 267.5 261.9 268.0 275.4 268.5 284.8 269.0 284.3 269.5 275.6 270.0 271.3 270.5 278.9 271.0 285.6 271.5 276.1 272.0 261.4 272.5 264.2 273.0 267.7 273.5 264.2 274.0 259.5 274.5 259.9 275.0 268.2 275.5 275.6 276.0 263.3 276.5 259.3 277.0 267.2 277.5 266.0 278.0 263.5 278.5 263.4 279.0 264.2 279.5 267.3 280.0 271.7 280.5 273.2 281.0 267.7 281.5 258.7 282.0 251.7 282.5 251.7 283.0 258.8 283.5 267.5 284.0 274.4 284.5 274.0 285.0 268.0 285.5 261.4 286.0 261.7 286.5 267.2 287.0 269.7 287.5 266.7 288.0 266.1 288.5 264.9 289.0 264.0 289.5 273.6 290.0 284.8 290.5 284.7 291.0 280.0 291.5 273.7 292.0 267.0 292.5 265.3 293.0 270.1 293.5 278.6 294.0 276.8 294.5 271.0 295.0 271.8 295.5 274.2 296.0 271.4 296.5 258.9 297.0 253.9 297.5 258.2 298.0 263.9 298.5 262.3 299.0 258.8 299.5 258.5 300.0 263.7 300.5 268.0 301.0 267.3 301.5 261.3 302.0 254.3 302.5 249.1 303.0 248.5 303.5 253.6 304.0 263.0 304.5 268.1 305.0 267.7 305.5 267.7 306.0 268.5 306.5 269.8 307.0 269.0 307.5 270.3 308.0 275.1 308.5 275.8 309.0 272.0 309.5 266.3 310.0 266.6 310.5 275.4 311.0 282.1 311.5 278.6 312.0 269.0 312.5 262.6 313.0 263.5 313.5 266.9 314.0 270.2 314.5 270.5 315.0 266.4 315.5 263.4 316.0 263.4 316.5 267.7 317.0 272.6 317.5 278.6 318.0 278.3 318.5 268.3 319.0 258.4 319.5 256.8 320.0 258.3 320.5 259.2 321.0 257.1 321.5 253.4 322.0 250.5 322.5 250.7 323.0 257.0 323.5 264.2 324.0 268.7 324.5 269.1 325.0 265.3 325.5 264.0 326.0 271.0 326.5 274.2 327.0 263.5 327.5 253.5 328.0 257.0 328.5 265.4 329.0 273.5 329.5 273.1 330.0 262.5 330.5 262.5 331.0 267.8 331.5 271.5 332.0 269.8 332.5 269.7 333.0 270.8 333.5 274.7 334.0 281.2 334.5 282.6 335.0 274.2 335.5 267.8 336.0 271.8 336.5 278.3 337.0 278.6 337.5 272.9 338.0 264.4 338.5 257.4 339.0 252.8 339.5 251.9 340.0 255.7 340.5 254.2 341.0 249.0 341.5 248.2 342.0 252.0 342.5 258.7 343.0 261.0 343.5 254.6 344.0 246.2 344.5 242.4 345.0 243.3 345.5 249.8 346.0 256.9 346.5 261.0 347.0 257.0 347.5 253.5 348.0 256.5 348.5 261.4 349.0 263.9 349.5 263.6 350.0 262.6 350.5 261.7 351.0 258.1 351.5 252.7 352.0 249.6 352.5 250.4 353.0 256.2 353.5 262.2 354.0 257.9 354.5 251.9 355.0 253.9 355.5 259.5 356.0 262.9 356.5 262.1 357.0 258.4 357.5 255.9 358.0 258.1 358.5 259.1 359.0 259.1 359.5 259.3 360.0 253.9 360.5 250.5 361.0 255.9 361.5 263.5 362.0 269.8 362.5 272.5 363.0 266.4 363.5 261.1 364.0 265.4 364.5 268.3 365.0 263.8 365.5 259.5 366.0 256.5 366.5 254.8 367.0 257.5 367.5 263.5 368.0 270.9 368.5 276.4 369.0 268.6 369.5 264.6 370.0 269.2 370.5 272.6 371.0 265.3 371.5 255.9 372.0 254.0 372.5 256.1 373.0 261.0 373.5 265.0 374.0 265.3 374.5 262.9 375.0 259.1 375.5 260.4 376.0 272.8 376.5 283.6 377.0 283.6 377.5 278.5 378.0 273.8 378.5 275.7 379.0 269.0 379.5 254.4 380.0 252.7 380.5 261.3 381.0 263.6 381.5 262.5 382.0 260.2 382.5 261.2 383.0 271.2 383.5 277.8 384.0 271.2 384.5 260.8 385.0 253.1 385.5 255.2 386.0 258.6 386.5 256.2 387.0 253.6 387.5 253.5 388.0 257.3 388.5 264.5 389.0 269.1 389.5 264.4 390.0 252.2 390.5 244.1 391.0 248.4 391.5 258.4 392.0 263.8 392.5 261.2 393.0 252.9 393.5 245.7 394.0 246.7 394.5 255.0 395.0 262.8 395.5 266.9 396.0 267.9 396.5 263.3 397.0 259.9 397.5 265.1 398.0 277.2 398.5 285.1 399.0 285.7 399.5 285.7 400.0 284.1 400.5 283.7 401.0 283.5 401.5 282.5 402.0 278.7 402.5 270.3 403.0 260.7 403.5 252.2 404.0 249.9 404.5 256.9 405.0 263.2 405.5 264.4 406.0 260.0 406.5 256.1 407.0 258.9 407.5 265.2 408.0 272.6 408.5 279.6 409.0 278.1 409.5 265.2 410.0 252.1 410.5 249.1 411.0 263.8 411.5 272.7 412.0 262.9 412.5 251.8 413.0 246.9 413.5 250.2 414.0 252.3 414.5 254.6 415.0 257.6 415.5 258.0 416.0 258.2 416.5 256.6 417.0 260.5 417.5 267.3 418.0 268.7 418.5 264.5 419.0 259.1 419.5 257.2 420.0 254.8 420.5 254.2 421.0 254.8 421.5 251.2 422.0 245.9 422.5 243.1 423.0 251.8 423.5 253.3 424.0 250.3 424.5 251.4 425.0 259.8 425.5 266.2 426.0 267.1 426.5 263.0 427.0 253.3 427.5 256.7 428.0 264.4 428.5 268.5 429.0 265.9 429.5 259.0 430.0 251.9 430.5 256.2 431.0 269.2 431.5 275.1 432.0 269.2 432.5 265.4 433.0 264.9 433.5 267.2 434.0 270.7 434.5 268.9 435.0 268.3 435.5 264.6 436.0 259.9 436.5 263.5 437.0 273.3 437.5 279.9 438.0 279.8 438.5 270.9 439.0 262.2 439.5 256.6 440.0 254.5 440.5 258.5 441.0 263.0 441.5 264.9 442.0 262.3 442.5 260.8 443.0 261.3 443.5 265.5 444.0 268.6 444.5 268.9 445.0 267.3 445.5 267.8 446.0 268.9 446.5 269.5 447.0 267.9 447.5 264.0 448.0 260.8 448.5 261.8 449.0 264.6 449.5 266.8 450.0 265.8 450.5 258.0 451.0 253.8 451.5 255.6 452.0 259.3 452.5 259.1 453.0 257.6 453.5 255.2 454.0 254.0 454.5 255.5 455.0 258.7 455.5 262.7 456.0 265.3 456.5 263.3 457.0 261.9 457.5 263.2 458.0 265.6 458.5 266.8 459.0 268.0 459.5 268.6 460.0 267.2 460.5 264.4 461.0 260.9 461.5 259.9 462.0 261.3 462.5 263.8 463.0 266.6 463.5 267.1 464.0 265.9 464.5 264.2 465.0 264.3 465.5 265.4 466.0 266.4 466.5 265.2 467.0 261.9 467.5 258.1 468.0 255.9 468.5 257.2 469.0 260.8 469.5 265.2 470.0 267.3 470.5 266.1 471.0 262.5 471.5 259.8 472.0 260.7 472.5 264.7 473.0 268.6 473.5 271.6 474.0 272.0 474.5 268.7 475.0 264.8 475.5 262.4 476.0 262.9 476.5 264.9 477.0 266.6 477.5 267.6 478.0 265.9 478.5 259.7 479.0 260.6 479.5 264.3 480.0 262.5 480.5 260.1 481.0 263.1 481.5 267.0 482.0 265.2 482.5 262.5 483.0 261.1 483.5 263.9 484.0 267.2 484.5 267.4 485.0 267.1 485.5 267.2 486.0 266.2 486.5 266.4 487.0 267.4 487.5 264.9 488.0 263.5 488.5 263.9 489.0 262.9 489.5 267.7 490.0 270.3 490.5 266.3 491.0 261.8 491.5 257.9 492.0 257.7 492.5 267.2 493.0 276.8 493.5 278.6 494.0 272.6 494.5 270.7 495.0 279.1 495.5 284.3 496.0 280.1 496.5 269.7 497.0 258.0 497.5 247.5 498.0 246.9 498.5 254.3 499.0 265.3 499.5 273.3 500.0 270.7 500.5 265.8 501.0 263.2 501.5 266.7 502.0 275.1 502.5 277.5 503.0 275.4 503.5 273.1 504.0 275.7 504.5 280.0 505.0 283.3 505.5 278.6 506.0 271.2" fill="none" stroke="#10a9ea" stroke-width="1.0" stroke-linejoin="round" stroke-opacity="0.9"/>
<path d="M23.0 413.5 23.5 408.8 24.0 393.3 24.5 396.3 25.0 401.2 25.5 406.1 26.0 403.3 26.5 397.5 27.0 394.7 27.5 401.1 28.0 403.6 28.5 396.8 29.0 386.0 29.5 378.9 30.0 378.0 30.5 379.3 31.0 387.0 31.5 398.3 32.0 407.8 32.5 406.5 33.0 398.8 33.5 392.0 34.0 390.7 34.5 395.2 35.0 402.2 35.5 408.5 36.0 413.4 36.5 407.3 37.0 396.3 37.5 387.2 38.0 386.0 38.5 394.2 39.0 406.6 39.5 416.9 40.0 416.1 40.5 411.8 41.0 415.2 41.5 421.2 42.0 423.2 42.5 417.8 43.0 410.2 43.5 403.9 44.0 401.9 44.5 405.4 45.0 410.4 45.5 415.4 46.0 418.1 46.5 415.0 47.0 410.6 47.5 407.9 48.0 409.3 48.5 411.8 49.0 408.5 49.5 399.0 50.0 399.0 50.5 399.1 51.0 400.2 51.5 402.7 52.0 399.2 52.5 402.5 53.0 409.4 53.5 411.8 54.0 411.8 54.5 412.3 55.0 412.1 55.5 411.0 56.0 408.0 56.5 405.8 57.0 406.0 57.5 402.5 58.0 402.2 58.5 405.9 59.0 411.9 59.5 415.4 60.0 414.1 60.5 411.4 61.0 409.3 61.5 411.6 62.0 416.9 62.5 421.0 63.0 420.2 63.5 413.6 64.0 404.3 64.5 402.5 65.0 411.2 65.5 413.7 66.0 408.1 66.5 405.5 67.0 406.3 67.5 406.0 68.0 400.3 68.5 400.3 69.0 400.3 69.5 409.9 70.0 419.7 70.5 428.2 71.0 423.0 71.5 417.6 72.0 417.2 72.5 416.3 73.0 417.0 73.5 419.7 74.0 419.2 74.5 415.2 75.0 408.7 75.5 406.7 76.0 410.0 76.5 411.4 77.0 405.8 77.5 398.7 78.0 397.5 78.5 397.2 79.0 397.0 79.5 406.3 80.0 418.1 80.5 424.3 81.0 422.6 81.5 418.4 82.0 418.5 82.5 420.9 83.0 426.0 83.5 425.8 84.0 425.6 84.5 415.1 85.0 406.0 85.5 405.4 86.0 411.7 86.5 418.5 87.0 424.0 87.5 422.0 88.0 416.3 88.5 409.6 89.0 406.0 89.5 412.2 90.0 417.5 90.5 413.6 91.0 409.9 91.5 405.4 92.0 398.6 92.5 399.0 93.0 406.5 93.5 410.0 94.0 405.6 94.5 397.3 95.0 393.3 95.5 398.6 96.0 411.0 96.5 413.4 97.0 408.1 97.5 401.8 98.0 401.9 98.5 405.5 99.0 409.1 99.5 412.8 100.0 414.4 100.5 410.6 101.0 405.4 101.5 408.0 102.0 415.3 102.5 422.9 103.0 425.9 103.5 425.9 104.0 420.8 104.5 413.6 105.0 410.4 105.5 411.2 106.0 414.7 106.5 419.4 107.0 421.3 107.5 417.3 108.0 410.2 108.5 405.8 109.0 406.1 109.5 407.0 110.0 405.4 110.5 405.5 111.0 406.9 111.5 408.5 112.0 417.0 112.5 425.8 113.0 426.0 113.5 422.3 114.0 416.7 114.5 413.6 115.0 417.4 115.5 421.2 116.0 417.5 116.5 407.4 117.0 402.7 117.5 406.0 118.0 410.7 118.5 414.3 119.0 417.0 119.5 410.6 120.0 403.6 120.5 403.9 121.0 411.1 121.5 416.3 122.0 418.2 122.5 414.8 123.0 407.1 123.5 405.5 124.0 412.9 124.5 415.7 125.0 407.0 125.5 403.2 126.0 403.8 126.5 403.1 127.0 405.4 127.5 408.0 128.0 404.4 128.5 398.0 129.0 393.8 129.5 398.6 130.0 409.3 130.5 415.6 131.0 415.0 131.5 408.3 132.0 403.3 132.5 398.7 133.0 391.8 133.5 393.7 134.0 404.6 134.5 404.6 135.0 404.1 135.5 401.0 136.0 402.2 136.5 416.4 137.0 419.7 137.5 411.7 138.0 411.2 138.5 423.3 139.0 421.3 139.5 409.6 140.0 411.5 140.5 423.2 141.0 421.8 141.5 418.2 142.0 415.6 142.5 412.9 143.0 414.5 143.5 417.9 144.0 417.0 144.5 412.7 145.0 407.6 145.5 405.2 146.0 408.3 146.5 412.8 147.0 416.5 147.5 411.4 148.0 404.0 148.5 402.0 149.0 406.4 149.5 410.6 150.0 410.9 150.5 406.6 151.0 401.5 151.5 398.0 152.0 401.4 152.5 404.7 153.0 407.7 153.5 410.5 154.0 409.5 154.5 409.5 155.0 410.9 155.5 418.7 156.0 426.5 156.5 425.6 157.0 416.6 157.5 407.2 158.0 399.4 158.5 397.4 159.0 403.5 159.5 413.2 160.0 419.5 160.5 417.3 161.0 410.9 161.5 404.2 162.0 402.2 162.5 399.7 163.0 402.5 163.5 413.0 164.0 419.6 164.5 418.0 165.0 413.7 165.5 411.0 166.0 411.9 166.5 413.8 167.0 416.4 167.5 409.2 168.0 397.2 168.5 389.2 169.0 389.0 169.5 394.3 170.0 400.5 170.5 404.3 171.0 400.2 171.5 393.5 172.0 390.8 172.5 390.9 173.0 399.5 173.5 411.1 174.0 412.0 174.5 406.0 175.0 396.6 175.5 390.0 176.0 396.2 176.5 402.3 177.0 394.9 177.5 383.3 178.0 382.8 178.5 382.3 179.0 381.8 179.5 385.8 180.0 392.7 180.5 393.8 181.0 395.6 181.5 398.7 182.0 400.6 182.5 400.9 183.0 399.9 183.5 399.2 184.0 399.8 184.5 395.7 185.0 390.2 185.5 383.6 186.0 384.8 186.5 395.0 187.0 396.8 187.5 383.1 188.0 377.6 188.5 384.0 189.0 387.5 189.5 381.2 190.0 379.4 190.5 383.2 191.0 387.5 191.5 383.3 192.0 374.8 192.5 369.7 193.0 375.7 193.5 386.6 194.0 395.4 194.5 396.6 195.0 385.5 195.5 372.0 196.0 366.3 196.5 366.1 197.0 369.1 197.5 368.2 198.0 366.4 198.5 366.3 199.0 368.4 199.5 373.5 200.0 376.3 200.5 368.8 201.0 361.3 201.5 368.9 202.0 380.5 202.5 372.7 203.0 365.0 203.5 375.6 204.0 384.6 204.5 384.7 205.0 373.0 205.5 356.2 206.0 345.4 206.5 350.3 207.0 360.7 207.5 369.7 208.0 359.6 208.5 343.4 209.0 347.8 209.5 362.7 210.0 370.4 210.5 360.4 211.0 345.1 211.5 345.8 212.0 362.9 212.5 378.1 213.0 365.4 213.5 343.4 214.0 361.1 214.5 381.8 215.0 376.4 215.5 362.8 216.0 358.4 216.5 363.2 217.0 368.1 217.5 362.2 218.0 356.0 218.5 351.4 219.0 367.9 219.5 381.0 220.0 370.4 220.5 359.8 221.0 356.6 221.5 365.3 222.0 377.6 222.5 382.7 223.0 375.4 223.5 364.6 224.0 355.6 224.5 350.9 225.0 364.6 225.5 380.9 226.0 384.1 226.5 383.1 227.0 378.0 227.5 373.7 228.0 375.9 228.5 379.9 229.0 378.8 229.5 370.3 230.0 363.6 230.5 357.6 231.0 354.0 231.5 361.1 232.0 371.1 232.5 379.0 233.0 384.4 233.5 378.8 234.0 369.2 234.5 382.4 235.0 391.6 235.5 390.5 236.0 378.7 236.5 367.7 237.0 369.7 237.5 381.3 238.0 383.4 238.5 367.9 239.0 352.3 239.5 352.5 240.0 358.8 240.5 360.9 241.0 348.1 241.5 343.3 242.0 343.4 242.5 343.4 243.0 358.2 243.5 369.6 244.0 363.6 244.5 355.3 245.0 359.6 245.5 365.9 246.0 374.1 246.5 382.4 247.0 382.8 247.5 378.8 248.0 367.8 248.5 360.3 249.0 366.0 249.5 375.8 250.0 370.0 250.5 363.6 251.0 371.7 251.5 381.0 252.0 379.6 252.5 372.2 253.0 382.7 253.5 391.5 254.0 391.5 254.5 391.4 255.0 388.2 255.5 379.6 256.0 376.0 256.5 382.8 257.0 390.2 257.5 391.4 258.0 381.6 258.5 364.6 259.0 359.2 259.5 364.9 260.0 374.7 260.5 380.5 261.0 374.9 261.5 353.1 262.0 347.8 262.5 365.2 263.0 371.2 263.5 368.5 264.0 360.8 264.5 360.9 265.0 370.1 265.5 373.0 266.0 365.0 266.5 359.1 267.0 364.3 267.5 378.4 268.0 377.9 268.5 369.4 269.0 362.9 269.5 356.9 270.0 358.4 270.5 367.0 271.0 375.4 271.5 379.0 272.0 370.5 272.5 358.5 273.0 347.6 273.5 357.0 274.0 374.9 274.5 389.8 275.0 379.4 275.5 360.8 276.0 346.8 276.5 352.3 277.0 363.6 277.5 373.4 278.0 378.1 278.5 359.6 279.0 345.0 279.5 350.8 280.0 367.1 280.5 378.8 281.0 374.8 281.5 371.6 282.0 372.8 282.5 379.3 283.0 385.3 283.5 389.8 284.0 386.9 284.5 377.9 285.0 373.5 285.5 375.1 286.0 381.6 286.5 381.9 287.0 382.4 287.5 387.7 288.0 386.9 288.5 385.7 289.0 391.3 289.5 391.3 290.0 380.6 290.5 366.6 291.0 366.6 291.5 377.9 292.0 380.0 292.5 374.2 293.0 364.7 293.5 357.9 294.0 361.7 294.5 368.2 295.0 371.1 295.5 375.8 296.0 377.8 296.5 377.5 297.0 383.0 297.5 391.3 298.0 386.4 298.5 375.0 299.0 367.3 299.5 364.5 300.0 343.0 300.5 376.1 301.0 378.7 301.5 370.6 302.0 368.2 302.5 378.9 303.0 380.2 303.5 365.8 304.0 360.3 304.5 367.6 305.0 375.7 305.5 377.8 306.0 374.3 306.5 366.6 307.0 357.7 307.5 348.5 308.0 353.6 308.5 365.7 309.0 374.9 309.5 366.6 310.0 356.8 310.5 364.0 311.0 375.1 311.5 372.9 312.0 353.6 312.5 352.8 313.0 360.0 313.5 366.9 314.0 357.1 314.5 348.0 315.0 356.4 315.5 372.2 316.0 386.7 316.5 391.3 317.0 379.7 317.5 365.4 318.0 355.7 318.5 357.5 319.0 362.8 319.5 369.5 320.0 373.8 320.5 362.3 321.0 360.2 321.5 365.9 322.0 369.7 322.5 373.0 323.0 372.1 323.5 370.3 324.0 366.4 324.5 367.6 325.0 373.4 325.5 375.0 326.0 366.6 326.5 360.0 327.0 368.0 327.5 378.7 328.0 386.7 328.5 383.5 329.0 373.6 329.5 371.1 330.0 375.4 330.5 383.1 331.0 381.0 331.5 371.3 332.0 365.7 332.5 368.3 333.0 372.1 333.5 377.2 334.0 366.0 334.5 352.9 335.0 358.2 335.5 360.5 336.0 346.1 336.5 346.1 337.0 346.1 337.5 347.2 338.0 363.7 338.5 364.1 339.0 359.3 339.5 353.8 340.0 354.1 340.5 360.1 341.0 365.8 341.5 365.9 342.0 363.4 342.5 361.7 343.0 365.0 343.5 376.8 344.0 388.4 344.5 386.4 345.0 379.4 345.5 370.8 346.0 372.6 346.5 388.3 347.0 391.2 347.5 381.9 348.0 367.0 348.5 358.0 349.0 368.5 349.5 371.2 350.0 364.6 350.5 358.7 351.0 354.2 351.5 355.4 352.0 367.2 352.5 379.9 353.0 390.7 353.5 391.2 354.0 391.0 354.5 385.7 355.0 380.3 355.5 386.3 356.0 391.2 356.5 381.6 357.0 374.5 357.5 385.3 358.0 391.2 358.5 391.2 359.0 390.5 359.5 382.3 360.0 381.8 360.5 380.5 361.0 372.4 361.5 363.0 362.0 359.4 362.5 370.9 363.0 383.1 363.5 382.5 364.0 368.8 364.5 360.4 365.0 366.6 365.5 372.7 366.0 366.8 366.5 362.3 367.0 368.0 367.5 374.1 368.0 376.8 368.5 377.3 369.0 373.7 369.5 366.1 370.0 359.0 370.5 357.0 371.0 362.5 371.5 368.9 372.0 374.2 372.5 367.6 373.0 367.7 373.5 376.1 374.0 384.9 374.5 386.0 375.0 382.2 375.5 375.4 376.0 375.6 376.5 385.2 377.0 376.1 377.5 362.0 378.0 373.4 378.5 383.7 379.0 378.9 379.5 373.6 380.0 373.1 380.5 374.3 381.0 378.7 381.5 382.4 382.0 385.7 382.5 385.1 383.0 382.3 383.5 383.8 384.0 390.0 384.5 393.4 385.0 398.5 385.5 396.0 386.0 381.2 386.5 364.4 387.0 353.6 387.5 355.3 388.0 360.0 388.5 366.8 389.0 374.4 389.5 370.6 390.0 359.8 390.5 349.7 391.0 350.6 391.5 352.4 392.0 359.5 392.5 364.6 393.0 365.3 393.5 364.9 394.0 363.2 394.5 362.0 395.0 369.5 395.5 377.9 396.0 369.0 396.5 359.9 397.0 365.0 397.5 371.3 398.0 373.0 398.5 372.2 399.0 371.5 399.5 375.0 400.0 379.0 400.5 379.1 401.0 376.9 401.5 382.5 402.0 387.4 402.5 387.4 403.0 386.3 403.5 383.9 404.0 386.6 404.5 383.9 405.0 372.4 405.5 369.4 406.0 375.4 406.5 382.3 407.0 381.4 407.5 377.0 408.0 373.4 408.5 372.8 409.0 379.8 409.5 386.1 410.0 379.9 410.5 373.1 411.0 367.0 411.5 367.7 412.0 341.0 412.5 375.9 413.0 380.6 413.5 380.6 414.0 377.8 414.5 375.3 415.0 375.0 415.5 377.3 416.0 382.1 416.5 386.5 417.0 387.0 417.5 382.3 418.0 377.7 418.5 378.1 419.0 383.7 419.5 381.8 420.0 377.4 420.5 379.8 421.0 385.0 421.5 391.5 422.0 396.5 422.5 398.3 423.0 396.9 423.5 393.9 424.0 395.3 424.5 400.1 425.0 408.7 425.5 413.2 426.0 408.6 426.5 405.9 427.0 416.6 427.5 424.8 428.0 423.2 428.5 420.2 429.0 417.1 429.5 414.0 430.0 415.6 430.5 417.4 431.0 417.8 431.5 416.8 432.0 414.9 432.5 415.2 433.0 419.0 433.5 426.2 434.0 430.1 434.5 427.3 435.0 423.4 435.5 422.6 436.0 426.9 436.5 432.2 437.0 436.0 437.5 436.1 438.0 429.6 438.5 418.6 439.0 419.6 439.5 425.4 440.0 428.4 440.5 424.1 441.0 418.8 441.5 419.9 442.0 423.9 442.5 423.9 443.0 415.3 443.5 409.4 444.0 413.3 444.5 417.5 445.0 416.9 445.5 407.6 446.0 406.3 446.5 407.7 447.0 413.0 447.5 418.1 448.0 421.9 448.5 417.3 449.0 411.4 449.5 412.2 450.0 416.3 450.5 420.1 451.0 418.8 451.5 413.1 452.0 408.7 452.5 408.1 453.0 409.3 453.5 412.8 454.0 417.0 454.5 421.9 455.0 425.9 455.5 424.0 456.0 420.5 456.5 416.5 457.0 410.4 457.5 408.4 458.0 411.8 458.5 419.2 459.0 425.9 459.5 423.1 460.0 420.8 460.5 427.2 461.0 432.0 461.5 432.1 462.0 424.9 462.5 419.8 463.0 425.0 463.5 429.5 464.0 430.1 464.5 425.2 465.0 417.0 465.5 411.8 466.0 411.6 466.5 410.5 467.0 408.7 467.5 407.0 468.0 407.1 468.5 415.4 469.0 423.4 469.5 423.3 470.0 420.8 470.5 418.6 471.0 423.1 471.5 432.9 472.0 437.9 472.5 437.9 473.0 437.1 473.5 431.7 474.0 426.8 474.5 424.3 475.0 393.0 475.5 425.9 476.0 430.1 476.5 429.3 477.0 426.4 477.5 421.4 478.0 419.6 478.5 420.7 479.0 420.6 479.5 419.4 480.0 415.4 480.5 411.0 481.0 411.3 481.5 416.6 482.0 421.2 482.5 423.0 483.0 418.9 483.5 416.1 484.0 415.2 484.5 417.9 485.0 423.8 485.5 426.4 486.0 422.4 486.5 418.9 487.0 418.6 487.5 422.0 488.0 426.0 488.5 430.2 489.0 426.0 489.5 418.4 490.0 412.9 490.5 417.1 491.0 425.2 491.5 429.7 492.0 405.0 492.5 414.5 493.0 408.0 493.5 408.0 494.0 408.0 494.5 414.7 495.0 422.3 495.5 426.9 496.0 425.0 496.5 420.9 497.0 418.5 497.5 416.7 498.0 415.5 498.5 414.3 499.0 415.9 499.5 420.2 500.0 419.7 500.5 418.7 501.0 421.4 501.5 423.4 502.0 422.9 502.5 421.6 503.0 418.5 503.5 415.7 504.0 412.3 504.5 412.1 505.0 416.7" fill="none" stroke="#e8333d" stroke-width="0.9" stroke-linejoin="round" stroke-opacity="0.85"/>
<path d="M203.2 350.4 L203.7 427.5 L204.2 352.6 L204.8 437.6 L205.3 345.5 L205.8 427.9 L206.3 341.1 L206.8 428.7 L207.3 353.0 L207.8 434.0 L208.4 345.5 L208.9 436.8 L209.4 344.8" fill="none" stroke="#e8333d" stroke-width="1.1" stroke-linejoin="round" stroke-opacity="0.85"/>
<path d="M23.0 404.6 23.5 401.1 24.0 396.9 24.5 391.9 25.0 389.9 25.5 393.5 26.0 399.2 26.5 398.2 27.0 394.0 27.5 388.8 28.0 383.6 28.5 381.5 29.0 379.5 29.5 379.4 30.0 378.0 30.5 372.8 31.0 371.9 31.5 371.1 32.0 370.4 32.5 383.0 33.0 383.2 33.5 385.0 34.0 395.4 34.5 400.2 35.0 395.6 35.5 393.3 36.0 394.5 36.5 396.0 37.0 397.7 37.5 402.4 38.0 406.8 38.5 401.6 39.0 393.2 39.5 388.3 40.0 389.5 40.5 394.2 41.0 401.5 41.5 410.8 42.0 413.1 42.5 411.2 43.0 403.8 43.5 395.2 44.0 386.5 44.5 383.8 45.0 382.7 45.5 380.5 46.0 379.6 46.5 380.0 47.0 385.7 47.5 395.0 48.0 400.0 48.5 400.9 49.0 396.2 49.5 395.5 50.0 400.5 50.5 406.0 51.0 403.5 51.5 403.7 52.0 403.2 52.5 403.3 53.0 404.8 53.5 403.4 54.0 395.6 54.5 386.8 55.0 382.4 55.5 381.5 56.0 385.7 56.5 393.3 57.0 400.7 57.5 400.6 58.0 397.0 58.5 392.5 59.0 390.5 59.5 393.5 60.0 395.5 60.5 393.0 61.0 386.3 61.5 383.0 62.0 386.4 62.5 394.5 63.0 403.2 63.5 406.4 64.0 406.2 64.5 405.8 65.0 404.3 65.5 398.6 66.0 390.1 66.5 383.4 67.0 386.7 67.5 392.7 68.0 391.7 68.5 385.4 69.0 375.4 69.5 368.2 70.0 370.0 70.5 374.6 71.0 377.8 71.5 380.3 72.0 384.4 72.5 388.9 73.0 389.0 73.5 385.7 74.0 383.8 74.5 383.2 75.0 387.5 75.5 391.9 76.0 387.1 76.5 378.4 77.0 380.0 77.5 386.9 78.0 383.0 78.5 379.8 79.0 378.6 79.5 386.3 80.0 396.7 80.5 402.9 81.0 425.0 81.5 391.1 82.0 383.1 82.5 379.5 83.0 380.5 83.5 383.4 84.0 384.4 84.5 387.6 85.0 384.3 85.5 378.9 86.0 376.6 86.5 377.2 87.0 387.0 87.5 402.8 88.0 405.7 88.5 405.7 89.0 396.8 89.5 385.8 90.0 387.6 90.5 394.3 91.0 397.3 91.5 394.3 92.0 389.7 92.5 388.3 93.0 393.0 93.5 392.7 94.0 389.2 94.5 386.5 95.0 386.3 95.5 387.6 96.0 397.0 96.5 404.1 97.0 400.1 97.5 396.7 98.0 398.9 98.5 400.5 99.0 398.4 99.5 396.4 100.0 393.2 100.5 388.2 101.0 382.6 101.5 373.4 102.0 367.7 102.5 376.8 103.0 389.3 103.5 394.7 104.0 389.6 104.5 385.1 105.0 386.8 105.5 388.1 106.0 388.3 106.5 387.4 107.0 380.0 107.5 380.6 108.0 388.6 108.5 393.8 109.0 388.7 109.5 375.3 110.0 365.6 110.5 365.1 111.0 375.6 111.5 393.2 112.0 405.7 112.5 405.7 113.0 400.6 113.5 388.3 114.0 377.2 114.5 374.0 115.0 378.8 115.5 384.9 116.0 380.4 116.5 372.0 117.0 367.3 117.5 366.5 118.0 367.5 118.5 369.4 119.0 373.6 119.5 377.6 120.0 376.8 120.5 373.4 121.0 369.8 121.5 370.3 122.0 374.7 122.5 380.2 123.0 388.5 123.5 396.7 124.0 394.8 124.5 385.4 125.0 374.9 125.5 368.0 126.0 369.2 126.5 376.0 127.0 384.6 127.5 385.6 128.0 378.3 128.5 372.1 129.0 376.1 129.5 384.1 130.0 390.0 130.5 393.0 131.0 388.8 131.5 384.6 132.0 380.6 132.5 375.8 133.0 374.5 133.5 371.7 134.0 365.4 134.5 360.5 135.0 362.0 135.5 364.9 136.0 371.6 136.5 380.5 137.0 385.7 137.5 381.4 138.0 374.7 138.5 366.0 139.0 360.4 139.5 365.0 140.0 380.0 140.5 389.3 141.0 381.5 141.5 372.4 142.0 370.8 142.5 376.3 143.0 379.3 143.5 382.7 144.0 387.8 144.5 385.2 145.0 378.1 145.5 374.4 146.0 378.3 146.5 385.5 147.0 390.1 147.5 389.7 148.0 391.1 148.5 395.4 149.0 398.1 149.5 400.2 150.0 401.1 150.5 397.7 151.0 391.7 151.5 386.7 152.0 385.3 152.5 388.5 153.0 392.7 153.5 392.8 154.0 388.1 154.5 384.0 155.0 387.5 155.5 393.9 156.0 397.4 156.5 394.0 157.0 388.6 157.5 385.6 158.0 382.5 158.5 378.7 159.0 378.8 159.5 381.7 160.0 385.5 160.5 384.8 161.0 379.0 161.5 375.1 162.0 374.1 162.5 380.4 163.0 388.5 163.5 387.7 164.0 381.2 164.5 375.8 165.0 371.4 165.5 368.5 166.0 370.1 166.5 377.3 167.0 385.5 167.5 390.7 168.0 390.8 168.5 389.8 169.0 391.7 169.5 394.4 170.0 397.2 170.5 400.1 171.0 400.4 171.5 392.4 172.0 384.4 172.5 384.9 173.0 390.9 173.5 397.1 174.0 391.8 174.5 382.0 175.0 379.8 175.5 386.6 176.0 395.6 176.5 400.6 177.0 400.9 177.5 399.9 178.0 400.6 178.5 406.7 179.0 412.6 179.5 415.8 180.0 416.7 180.5 409.0 181.0 395.6 181.5 392.2 182.0 395.2 182.5 399.6 183.0 403.9 183.5 405.0 184.0 393.7 184.5 387.2 185.0 386.5 185.5 385.0 186.0 384.8 186.5 385.7 187.0 381.2 187.5 374.0 188.0 368.9 188.5 375.7 189.0 390.2 189.5 381.9 190.0 369.4 190.5 373.3 191.0 376.3 191.5 369.2 192.0 369.3 192.5 370.1 193.0 380.6 193.5 385.3 194.0 386.5 194.5 385.7 195.0 382.3 195.5 377.8 196.0 377.5 196.5 386.3 197.0 395.0 197.5 390.4 198.0 378.9 198.5 381.3 199.0 392.8 199.5 401.6 200.0 404.9 200.5 404.2 201.0 401.3 201.5 399.6 202.0 400.5 202.5 395.1 203.0 387.0 203.5 384.5 204.0 384.8 204.5 382.4 205.0 380.0 205.5 379.5 206.0 376.6 206.5 374.7 207.0 382.7 207.5 391.7 208.0 398.8 208.5 401.3 209.0 397.5 209.5 393.5 210.0 390.7 210.5 387.5 211.0 386.6 211.5 388.7 212.0 392.6 212.5 399.7 213.0 408.2 213.5 407.4 214.0 400.0 214.5 398.3 215.0 401.3 215.5 405.8 216.0 408.4 216.5 405.1 217.0 398.9 217.5 390.7 218.0 387.2 218.5 394.0 219.0 399.1 219.5 396.3 220.0 394.1 220.5 398.7 221.0 403.5 221.5 404.3 222.0 397.3 222.5 388.6 223.0 385.1 223.5 390.0 224.0 397.3 224.5 403.3 225.0 403.8 225.5 401.3 226.0 400.9 226.5 402.5 227.0 407.4 227.5 411.7 228.0 412.5 228.5 406.3 229.0 395.8 229.5 387.6 230.0 386.3 230.5 389.7 231.0 397.2 231.5 404.4 232.0 408.5 232.5 409.9 233.0 411.7 233.5 412.6 234.0 409.3 234.5 407.9 235.0 408.7 235.5 405.4 236.0 397.9 236.5 392.1 237.0 389.7 237.5 389.0 238.0 390.8 238.5 395.8 239.0 402.2 239.5 407.5 240.0 407.7 240.5 404.4 241.0 401.8 241.5 403.7 242.0 407.9 242.5 411.3 243.0 410.4 243.5 402.1 244.0 393.4 244.5 390.7 245.0 396.9 245.5 403.5 246.0 406.6 246.5 410.3 247.0 413.2 247.5 414.3 248.0 413.0 248.5 412.4 249.0 408.5 249.5 405.5 250.0 404.2 250.5 403.8 251.0 401.2 251.5 400.4 252.0 402.7 252.5 405.8 253.0 408.4 253.5 404.9 254.0 398.0 254.5 393.0 255.0 395.4 255.5 403.4 256.0 408.8 256.5 407.8 257.0 400.3 257.5 393.8 258.0 388.6 258.5 387.1 259.0 398.4 259.5 408.8 260.0 401.8 260.5 392.6 261.0 393.3 261.5 401.2 262.0 403.8 262.5 403.4 263.0 398.6 263.5 392.2 264.0 389.5 264.5 395.8 265.0 405.7 265.5 410.9 266.0 406.5 266.5 401.1 267.0 397.6 267.5 398.0 268.0 401.2 268.5 406.6 269.0 410.2 269.5 405.9 270.0 397.5 270.5 390.2 271.0 391.5 271.5 394.5 272.0 396.1 272.5 395.1 273.0 392.7 273.5 389.4 274.0 387.0 274.5 386.6 275.0 390.7 275.5 396.9 276.0 402.8 276.5 403.0 277.0 397.9 277.5 394.2 278.0 397.5 278.5 402.8 279.0 404.8 279.5 404.0 280.0 406.3 280.5 409.2 281.0 410.4 281.5 411.7 282.0 409.9 282.5 404.4 283.0 393.2 283.5 382.1 284.0 380.3 284.5 382.7 285.0 390.5 285.5 394.9 286.0 397.2 286.5 398.9 287.0 398.3 287.5 396.8 288.0 398.5 288.5 401.8 289.0 404.7 289.5 405.2 290.0 403.5 290.5 400.4 291.0 397.6 291.5 395.6 292.0 396.2 292.5 397.0 293.0 396.8 293.5 392.7 294.0 383.3 294.5 380.7 295.0 380.6 295.5 380.6 296.0 421.0 296.5 386.8 297.0 387.4 297.5 384.9 298.0 384.9 298.5 390.3 299.0 395.2 299.5 398.1 300.0 398.1 300.5 393.5 301.0 392.8 301.5 395.5 302.0 397.0 302.5 399.0 303.0 403.0 303.5 404.0 304.0 401.2 304.5 398.1 305.0 398.5 305.5 403.7 306.0 409.7 306.5 414.3 307.0 414.6 307.5 414.6 308.0 411.9 308.5 403.4 309.0 402.5 309.5 404.0 310.0 403.4 310.5 400.1 311.0 397.4 311.5 398.0 312.0 403.9 312.5 408.9 313.0 411.0 313.5 410.8 314.0 410.8 314.5 405.2 315.0 396.2 315.5 392.5 316.0 390.8 316.5 390.5 317.0 391.2 317.5 390.4 318.0 388.8 318.5 387.2 319.0 388.6 319.5 401.7 320.0 409.6 320.5 407.5 321.0 406.2 321.5 410.8 322.0 414.1 322.5 408.7 323.0 401.3 323.5 395.9 324.0 393.6 324.5 395.7 325.0 400.8 325.5 402.5 326.0 403.1 326.5 406.2 327.0 404.3 327.5 396.2 328.0 386.2 328.5 384.1 329.0 394.8 329.5 403.3 330.0 400.4 330.5 397.0 331.0 395.8 331.5 397.4 332.0 400.6 332.5 402.1 333.0 403.2 333.5 400.2 334.0 393.1 334.5 386.5 335.0 384.7 335.5 391.9 336.0 405.7 336.5 417.4 337.0 417.4 337.5 417.5 338.0 410.8 338.5 405.8 339.0 405.0 339.5 405.1 340.0 405.3 340.5 404.7 341.0 403.7 341.5 402.3 342.0 400.6 342.5 397.7 343.0 393.7 343.5 394.5 344.0 399.8 344.5 404.1 345.0 405.1 345.5 402.2 346.0 395.5 346.5 398.7 347.0 406.4 347.5 411.8 348.0 412.4 348.5 404.1 349.0 390.6 349.5 387.3 350.0 396.8 350.5 405.4 351.0 402.1 351.5 397.3 352.0 428.0 352.5 400.7 353.0 406.8 353.5 410.7 354.0 413.1 354.5 411.8 355.0 407.1 355.5 401.1 356.0 394.1 356.5 389.5 357.0 392.2 357.5 400.1 358.0 406.6 358.5 408.1 359.0 406.9 359.5 403.2 360.0 398.4 360.5 397.8 361.0 399.9 361.5 402.8 362.0 396.8 362.5 388.9 363.0 390.2 363.5 395.6 364.0 400.7 364.5 400.2 365.0 393.1 365.5 389.0 366.0 389.6 366.5 395.9 367.0 402.7 367.5 402.9 368.0 392.0 368.5 384.6 369.0 386.8 369.5 389.8 370.0 391.6 370.5 387.2 371.0 378.5 371.5 373.6 372.0 373.4 372.5 375.5 373.0 376.8 373.5 377.9 374.0 377.4 374.5 374.1 375.0 372.1 375.5 372.2 376.0 372.0 376.5 373.1 377.0 379.7 377.5 387.6 378.0 394.8 378.5 396.1 379.0 388.2 379.5 374.7 380.0 370.0 380.5 374.5 381.0 385.7 381.5 387.0 382.0 387.3 382.5 388.5 383.0 387.8 383.5 393.2 384.0 401.1 384.5 402.1 385.0 395.6 385.5 390.9 386.0 394.4 386.5 404.2 387.0 411.6 387.5 412.6 388.0 409.3 388.5 401.6 389.0 393.0 389.5 385.7 390.0 383.2 390.5 389.5 391.0 399.3 391.5 403.9 392.0 402.8 392.5 398.5 393.0 393.7 393.5 396.2 394.0 400.7 394.5 401.8 395.0 395.9 395.5 389.5 396.0 384.2 396.5 380.5 397.0 383.3 397.5 389.4 398.0 395.0 398.5 393.9 399.0 391.1 399.5 389.4 400.0 391.6 400.5 399.9 401.0 409.2 401.5 407.4 402.0 397.1 402.5 398.6 403.0 407.3 403.5 404.5 404.0 399.1 404.5 398.4 405.0 399.6 405.5 399.8 406.0 399.9 406.5 399.3 407.0 395.9 407.5 394.2 408.0 394.8 408.5 398.7 409.0 402.8 409.5 406.9 410.0 409.1 410.5 406.3 411.0 398.8 411.5 391.1 412.0 388.3 412.5 389.4 413.0 391.8 413.5 392.6 414.0 392.1 414.5 393.5 415.0 393.4 415.5 389.7 416.0 385.8 416.5 384.2 417.0 384.2 417.5 384.7 418.0 384.5 418.5 381.6 419.0 378.1 419.5 374.8 420.0 374.8 420.5 381.0 421.0 389.1 421.5 393.4 422.0 393.4 422.5 394.8 423.0 397.7 423.5 403.8 424.0 406.9 424.5 403.0 425.0 398.1 425.5 394.2 426.0 389.7 426.5 385.7 427.0 387.0 427.5 393.5 428.0 400.3 428.5 402.8 429.0 400.7 429.5 399.1 430.0 398.1 430.5 396.5 431.0 397.0 431.5 396.7 432.0 390.8 432.5 382.3 433.0 385.6 433.5 393.4 434.0 398.6 434.5 397.5 435.0 392.5 435.5 389.6 436.0 390.4 436.5 392.1 437.0 396.0 437.5 398.6 438.0 395.7 438.5 396.3 439.0 398.1 439.5 397.3 440.0 395.0 440.5 393.6 441.0 392.9 441.5 392.2 442.0 394.5 442.5 397.4 443.0 395.5 443.5 387.2 444.0 378.5 444.5 374.7 445.0 374.7 445.5 374.7 446.0 380.5 446.5 383.9 447.0 382.5 447.5 380.6 448.0 380.6 448.5 381.8 449.0 385.3 449.5 390.4 450.0 391.4 450.5 385.6 451.0 379.2 451.5 376.4 452.0 377.5 452.5 380.7 453.0 382.0 453.5 384.2 454.0 389.6 454.5 392.6 455.0 391.9 455.5 391.0 456.0 392.6 456.5 393.7 457.0 395.8 457.5 398.4 458.0 397.9 458.5 396.5 459.0 396.7 459.5 401.7 460.0 403.4 460.5 403.4 461.0 401.8 461.5 395.1 462.0 391.0 462.5 389.8 463.0 393.0 463.5 395.8 464.0 394.9 464.5 392.0 465.0 389.3 465.5 385.8 466.0 383.0 466.5 381.9 467.0 383.6 467.5 385.5 468.0 384.5 468.5 381.5 469.0 377.8 469.5 375.3 470.0 377.5 470.5 383.4 471.0 389.0 471.5 392.8 472.0 395.5 472.5 394.4 473.0 390.0 473.5 386.9 474.0 386.5 474.5 389.8 475.0 393.6 475.5 395.5 476.0 390.1 476.5 383.4 477.0 379.1 477.5 381.5 478.0 386.8 478.5 391.4 479.0 391.3 479.5 388.0 480.0 384.8 480.5 381.4 481.0 380.0 481.5 384.1 482.0 387.7 482.5 385.1 483.0 380.4 483.5 376.4 484.0 375.9 484.5 381.5 485.0 382.9 485.5 379.6 486.0 380.9 486.5 390.9 487.0 393.6 487.5 386.2 488.0 378.8 488.5 378.1 489.0 382.2 489.5 385.8 490.0 387.5 490.5 388.3 491.0 388.0 491.5 387.0 492.0 389.6 492.5 392.9 493.0 391.9 493.5 386.6 494.0 383.4 494.5 385.1 495.0 386.5 495.5 386.3 496.0 386.0 496.5 384.6 497.0 383.5 497.5 387.8 498.0 393.5 498.5 396.8 499.0 394.6 499.5 394.1 500.0 393.0 500.5 383.6 501.0 377.1 501.5 375.2 502.0 375.1 502.5 371.8 503.0 367.5 503.5 367.2 504.0 370.2 504.5 374.7 505.0 377.2" fill="none" stroke="#10a9ea" stroke-width="1.0" stroke-linejoin="round" stroke-opacity="0.9"/>
<text x="560.75" y="21.7" font-size="8" font-weight="700" fill="#000" text-anchor="middle">Kurt</text>
<rect x="541.4" y="38.1" width="17.50" height="26.20" fill="#10a9ea" stroke="#3a3a3a" stroke-width="0.35" stroke-opacity="0.6"/>
<rect x="563.1" y="55.3" width="17.20" height="9.00" fill="#e8333d" stroke="#3a3a3a" stroke-width="0.35" stroke-opacity="0.6"/>
<line x1="533.3" x2="588.6" y1="64.3" y2="64.3" stroke="#8c8c8c" stroke-width="0.8"/>
<path d="M533.3 25 V68.3 H588.6" fill="none" stroke="#9a9a9a" stroke-width="0.7"/>
<text x="530.4" y="35.10" font-size="8.6" fill="#262626" text-anchor="end">20</text>
<line x1="533.3" x2="534.5" y1="32.1" y2="32.1" stroke="#9a9a9a" stroke-width="0.5"/>
<text x="530.4" y="51.30" font-size="8.6" fill="#262626" text-anchor="end">10</text>
<line x1="533.3" x2="534.5" y1="48.3" y2="48.3" stroke="#9a9a9a" stroke-width="0.5"/>
<text x="530.4" y="67.70" font-size="8.6" fill="#262626" text-anchor="end">0</text>
<line x1="533.3" x2="534.5" y1="64.7" y2="64.7" stroke="#9a9a9a" stroke-width="0.5"/>
<circle cx="543.6" cy="34.2" r="0.55" fill="#555"/>
<circle cx="551.6" cy="43.4" r="0.55" fill="#555"/>
<circle cx="548.6" cy="55.1" r="0.55" fill="#555"/>
<circle cx="545.3" cy="55.1" r="0.55" fill="#555"/>
<circle cx="556.7" cy="57.0" r="0.55" fill="#555"/>
<circle cx="575.5" cy="48.3" r="0.55" fill="#555"/>
<circle cx="573.4" cy="56.2" r="0.55" fill="#555"/>
<circle cx="566.8" cy="58.3" r="0.55" fill="#555"/>
<circle cx="571.0" cy="58.3" r="0.55" fill="#555"/>
<circle cx="574.3" cy="56.5" r="0.55" fill="#555"/>
<circle cx="577.0" cy="51.6" r="0.55" fill="#555"/>
<path d="M550.4 31.4 V44.3 M549.0 31.4 H551.8 M549.0 44.3 H551.8" fill="none" stroke="#4a55e8" stroke-width="0.7"/>
<circle cx="550.4" cy="38.0" r="1.3" fill="none" stroke="#4a55e8" stroke-width="0.6"/>
<path d="M571.7 53.8 V56.8 M570.3000000000001 53.8 H573.1 M570.3000000000001 56.8 H573.1" fill="none" stroke="#b04040" stroke-width="0.7"/>
<circle cx="571.7" cy="55.3" r="1.3" fill="none" stroke="#b04040" stroke-width="0.6"/>
<line x1="550.4" x2="571.4" y1="32.9" y2="32.9" stroke="#8c8c8c" stroke-width="0.8"/>
<path d="M560.90 28.85L560.90 31.75M559.64 29.58L562.16 31.03M562.16 29.58L559.64 31.03" stroke="#111" stroke-width="0.95" stroke-linecap="round"/>
<text x="656.0" y="20.0" font-size="8" font-weight="700" fill="#000" text-anchor="middle">Skew</text>
<rect x="636.9" y="23.6" width="17.10" height="18.10" fill="#10a9ea" stroke="#3a3a3a" stroke-width="0.35" stroke-opacity="0.6"/>
<rect x="657.9" y="23.6" width="17.40" height="25.30" fill="#e8333d" stroke="#3a3a3a" stroke-width="0.35" stroke-opacity="0.6"/>
<line x1="628.6" x2="684.3" y1="23.6" y2="23.6" stroke="#8c8c8c" stroke-width="0.8"/>
<path d="M628.6 23.6 V67.9 H684.3" fill="none" stroke="#9a9a9a" stroke-width="0.7"/>
<text x="625.9" y="27.30" font-size="8.6" fill="#262626" text-anchor="end">0</text>
<line x1="628.6" x2="629.8000000000001" y1="24.3" y2="24.3" stroke="#9a9a9a" stroke-width="0.5"/>
<text x="625.9" y="39.00" font-size="8.6" fill="#262626" text-anchor="end">-0.5</text>
<line x1="628.6" x2="629.8000000000001" y1="36.0" y2="36.0" stroke="#9a9a9a" stroke-width="0.5"/>
<text x="625.9" y="50.40" font-size="8.6" fill="#262626" text-anchor="end">-1</text>
<line x1="628.6" x2="629.8000000000001" y1="47.4" y2="47.4" stroke="#9a9a9a" stroke-width="0.5"/>
<text x="625.9" y="62.30" font-size="8.6" fill="#262626" text-anchor="end">-1.5</text>
<line x1="628.6" x2="629.8000000000001" y1="59.3" y2="59.3" stroke="#9a9a9a" stroke-width="0.5"/>
<circle cx="640.5" cy="32.1" r="0.55" fill="#555"/>
<circle cx="643.9" cy="28.9" r="0.55" fill="#555"/>
<circle cx="651.6" cy="28.3" r="0.55" fill="#555"/>
<circle cx="638.6" cy="53.1" r="0.55" fill="#555"/>
<circle cx="642.0" cy="65.4" r="0.55" fill="#555"/>
<circle cx="662.0" cy="33.1" r="0.55" fill="#555"/>
<circle cx="667.4" cy="35.1" r="0.55" fill="#555"/>
<circle cx="672.9" cy="44.4" r="0.55" fill="#555"/>
<circle cx="669.9" cy="57.4" r="0.55" fill="#555"/>
<circle cx="671.4" cy="55.1" r="0.55" fill="#555"/>
<circle cx="663.6" cy="59.6" r="0.55" fill="#555"/>
<circle cx="657.4" cy="59.4" r="0.55" fill="#555"/>
<path d="M645.4 34.3 V49.3 M644.0 34.3 H646.8 M644.0 49.3 H646.8" fill="none" stroke="#4a55e8" stroke-width="0.7"/>
<circle cx="645.4" cy="41.7" r="1.3" fill="none" stroke="#4a55e8" stroke-width="0.6"/>
<path d="M666.9 44.3 V53.1 M665.5 44.3 H668.3 M665.5 53.1 H668.3" fill="none" stroke="#b04040" stroke-width="0.7"/>
<circle cx="666.9" cy="48.9" r="1.3" fill="none" stroke="#b04040" stroke-width="0.6"/>
<line x1="645.4" x2="666.9" y1="56.0" y2="56.0" stroke="#8c8c8c" stroke-width="0.8"/>
<text x="656.15" y="61.6" font-size="8.4" fill="#222" text-anchor="middle">n.s.</text>
<line x1="514.2" x2="652.5" y1="134.9" y2="134.9" stroke="#262626" stroke-width="0.7"/>
<line x1="527.70" x2="527.70" y1="134.9" y2="133.3" stroke="#262626" stroke-width="0.6"/>
<text x="527.70" y="149.6" font-size="9.6" fill="#262626" text-anchor="middle">-1</text>
<line x1="568.90" x2="568.90" y1="134.9" y2="133.3" stroke="#262626" stroke-width="0.6"/>
<text x="568.90" y="149.6" font-size="9.6" fill="#262626" text-anchor="middle">0</text>
<line x1="610.10" x2="610.10" y1="134.9" y2="133.3" stroke="#262626" stroke-width="0.6"/>
<text x="610.10" y="149.6" font-size="9.6" fill="#262626" text-anchor="middle">1</text>
<line x1="651.30" x2="651.30" y1="134.9" y2="133.3" stroke="#262626" stroke-width="0.6"/>
<text x="651.30" y="149.6" font-size="9.6" fill="#262626" text-anchor="middle">2</text>
<text x="588.5" y="162.3" font-size="10.3" fill="#262626" text-anchor="middle">Acceleration (g)</text>
<path d="M514.2 134.7 514.5 134.7 514.9 134.6 515.2 134.6 515.6 134.6 515.9 134.6 516.3 134.5 516.6 134.5 517.0 134.5 517.3 134.4 517.7 134.4 518.0 134.4 518.4 134.3 518.7 134.3 519.1 134.3 519.4 134.3 519.7 134.2 520.1 134.2 520.4 134.2 520.8 134.1 521.1 134.1 521.5 134.1 521.8 134.0 522.2 134.0 522.5 134.0 522.9 134.0 523.2 133.9 523.6 133.9 523.9 133.9 524.3 133.9 524.6 133.8 524.9 133.8 525.3 133.8 525.6 133.7 526.0 133.7 526.3 133.7 526.7 133.7 527.0 133.6 527.4 133.6 527.7 133.6 528.1 133.6 528.4 133.5 528.8 133.5 529.1 133.5 529.5 133.5 529.8 133.4 530.1 133.4 530.5 133.4 530.8 133.4 531.2 133.3 531.5 133.3 531.9 133.3 532.2 133.3 532.6 133.2 532.9 133.2 533.3 133.2 533.6 133.2 534.0 133.1 534.3 133.1 534.7 133.1 535.0 133.1 535.3 133.1 535.7 133.0 536.0 133.0 536.4 133.0 536.7 133.0 537.1 133.0 537.4 132.9 537.8 132.9 538.1 132.9 538.5 132.9 538.8 132.8 539.2 132.8 539.5 132.8 539.8 132.8 540.2 132.8 540.5 132.7 540.9 132.7 541.2 132.7 541.6 132.7 541.9 132.7 542.3 132.6 542.6 132.6 543.0 132.6 543.3 132.6 543.7 132.5 544.0 132.5 544.4 132.5 544.7 132.5 545.0 132.4 545.4 132.4 545.7 132.4 546.1 132.4 546.4 132.3 546.8 132.3 547.1 132.3 547.5 132.3 547.8 132.2 548.2 132.2 548.5 132.2 548.9 132.2 549.2 132.1 549.6 132.1 549.9 132.1 550.2 132.0 550.6 132.0 550.9 132.0 551.3 132.0 551.6 131.9 552.0 131.9 552.3 131.9 552.7 131.9 553.0 131.8 553.4 131.8 553.7 131.8 554.1 131.7 554.4 131.7 554.8 131.7 555.1 131.6 555.4 131.6 555.8 131.6 556.1 131.6 556.5 131.5 556.8 131.5 557.2 131.5 557.5 131.4 557.9 131.4 558.2 131.4 558.6 131.3 558.9 131.3 559.3 131.3 559.6 131.2 560.0 131.2 560.3 131.2 560.6 131.1 561.0 131.1 561.3 131.1 561.7 131.0 562.0 131.0 562.4 130.9 562.7 130.9 563.1 130.9 563.4 130.8 563.8 130.8 564.1 130.7 564.5 130.7 564.8 130.7 565.2 130.6 565.5 130.6 565.8 130.5 566.2 130.5 566.5 130.4 566.9 130.4 567.2 130.3 567.6 130.3 567.9 130.2 568.3 130.2 568.6 130.1 569.0 130.1 569.3 130.0 569.7 130.0 570.0 129.9 570.4 129.8 570.7 129.8 571.0 129.7 571.4 129.6 571.7 129.6 572.1 129.5 572.4 129.4 572.8 129.3 573.1 129.2 573.5 129.1 573.8 129.1 574.2 129.0 574.5 128.9 574.9 128.8 575.2 128.7 575.6 128.6 575.9 128.4 576.2 128.3 576.6 128.2 576.9 128.1 577.3 128.0 577.6 127.9 578.0 127.8 578.3 127.6 578.7 127.5 579.0 127.4 579.4 127.3 579.7 127.2 580.1 127.0 580.4 126.9 580.8 126.8 581.1 126.6 581.4 126.5 581.8 126.4 582.1 126.3 582.5 126.1 582.8 126.0 583.2 125.8 583.5 125.7 583.9 125.6 584.2 125.4 584.6 125.2 584.9 125.1 585.3 124.9 585.6 124.8 585.9 124.6 586.3 124.4 586.6 124.2 587.0 124.1 587.3 123.9 587.7 123.7 588.0 123.5 588.4 123.3 588.7 123.1 589.1 123.0 589.4 122.8 589.8 122.6 590.1 122.4 590.5 122.2 590.8 122.0 591.1 121.8 591.5 121.6 591.8 121.4 592.2 121.2 592.5 120.9 592.9 120.7 593.2 120.5 593.6 120.3 593.9 120.1 594.3 119.8 594.6 119.6 595.0 119.4 595.3 119.1 595.7 118.9 596.0 118.6 596.3 118.3 596.7 118.1 597.0 117.8 597.4 117.5 597.7 117.2 598.1 116.9 598.4 116.6 598.8 116.3 599.1 115.9 599.5 115.6 599.8 115.2 600.2 114.8 600.5 114.4 600.9 114.0 601.2 113.5 601.5 113.1 601.9 112.6 602.2 112.2 602.6 111.7 602.9 111.2 603.3 110.7 603.6 110.2 604.0 109.6 604.3 109.0 604.7 108.4 605.0 107.7 605.4 107.0 605.7 106.2 606.1 105.2 606.4 104.2 606.7 103.0 607.1 101.7 607.4 100.4 607.8 99.1 608.1 97.7 608.5 96.0 608.8 94.0 609.2 91.9 609.5 89.7 609.9 87.8 610.2 86.2 610.6 85.1 610.9 84.6 611.3 85.0 611.6 86.1 611.9 87.8 612.3 89.9 612.6 92.2 613.0 94.6 613.3 97.0 613.7 99.1 614.0 101.0 614.4 102.9 614.7 104.8 615.1 106.7 615.4 108.6 615.8 110.5 616.1 112.3 616.5 114.0 616.8 115.6 617.1 117.0 617.5 118.4 617.8 119.7 618.2 121.0 618.5 122.2 618.9 123.4 619.2 124.5 619.6 125.5 619.9 126.3 620.3 127.1 620.6 127.7 621.0 128.3 621.3 128.8 621.7 129.4 622.0 129.9 622.3 130.4 622.7 130.8 623.0 131.3 623.4 131.6 623.7 132.0 624.1 132.3 624.4 132.6 624.8 132.8 625.1 133.0 625.5 133.1 625.8 133.2 626.2 133.3 626.5 133.4 626.9 133.5 627.2 133.6 627.5 133.7 627.9 133.8 628.2 133.9 628.6 134.0 628.9 134.1 629.3 134.2 629.6 134.2 630.0 134.3 630.3 134.4 630.7 134.4 631.0 134.5 631.4 134.6 631.7 134.6 632.0 134.7 632.4 134.7 632.7 134.7 633.1 134.8 633.4 134.8 633.8 134.8 634.1 134.9 634.5 134.9 634.8 134.9 635.2 134.9 635.5 134.9 635.9 134.9 636.2 134.9 636.6 134.9 636.9 134.9 637.2 134.9 637.6 134.9 637.9 134.9 638.3 134.9 638.6 134.9 639.0 134.9 639.3 134.9 639.7 134.9 640.0 134.9 640.4 134.9 640.7 134.9 641.1 134.9 641.4 134.9 641.8 134.9 642.1 134.9 642.4 134.9 642.8 134.9 643.1 134.9 643.5 134.9 643.8 134.9 644.2 134.9 644.5 134.9 644.9 134.9 645.2 134.9 645.6 134.9 645.9 134.9 646.3 134.9 646.6 134.9 647.0 134.9 647.3 134.9 647.6 134.9 648.0 134.9 648.3 134.9 648.7 134.9 649.0 134.9 649.4 134.9 649.7 134.9 650.1 134.9 650.4 134.9 650.8 134.9 651.1 134.9 651.5 134.9 651.8 134.9 652.2 134.9 652.5 134.9" fill="none" stroke="#e8333d" stroke-width="0.5" stroke-opacity="0.18"/>
<path d="M514.2 133.8 514.5 133.8 514.9 133.7 515.2 133.7 515.6 133.7 515.9 133.7 516.3 133.7 516.6 133.7 517.0 133.7 517.3 133.7 517.7 133.6 518.0 133.6 518.4 133.6 518.7 133.6 519.1 133.6 519.4 133.6 519.7 133.6 520.1 133.6 520.4 133.5 520.8 133.5 521.1 133.5 521.5 133.5 521.8 133.5 522.2 133.5 522.5 133.5 522.9 133.5 523.2 133.4 523.6 133.4 523.9 133.4 524.3 133.4 524.6 133.4 524.9 133.4 525.3 133.4 525.6 133.4 526.0 133.3 526.3 133.3 526.7 133.3 527.0 133.3 527.4 133.3 527.7 133.3 528.1 133.3 528.4 133.2 528.8 133.2 529.1 133.2 529.5 133.2 529.8 133.2 530.1 133.2 530.5 133.2 530.8 133.2 531.2 133.1 531.5 133.1 531.9 133.1 532.2 133.1 532.6 133.1 532.9 133.1 533.3 133.0 533.6 133.0 534.0 133.0 534.3 133.0 534.7 133.0 535.0 133.0 535.3 132.9 535.7 132.9 536.0 132.9 536.4 132.9 536.7 132.9 537.1 132.9 537.4 132.9 537.8 132.8 538.1 132.8 538.5 132.8 538.8 132.8 539.2 132.8 539.5 132.8 539.8 132.7 540.2 132.7 540.5 132.7 540.9 132.7 541.2 132.7 541.6 132.7 541.9 132.6 542.3 132.6 542.6 132.6 543.0 132.6 543.3 132.6 543.7 132.5 544.0 132.5 544.4 132.5 544.7 132.5 545.0 132.5 545.4 132.5 545.7 132.4 546.1 132.4 546.4 132.4 546.8 132.4 547.1 132.4 547.5 132.3 547.8 132.3 548.2 132.3 548.5 132.3 548.9 132.3 549.2 132.2 549.6 132.2 549.9 132.2 550.2 132.2 550.6 132.2 550.9 132.1 551.3 132.1 551.6 132.1 552.0 132.1 552.3 132.0 552.7 132.0 553.0 132.0 553.4 132.0 553.7 131.9 554.1 131.9 554.4 131.9 554.8 131.9 555.1 131.8 555.4 131.8 555.8 131.8 556.1 131.7 556.5 131.7 556.8 131.7 557.2 131.7 557.5 131.6 557.9 131.6 558.2 131.6 558.6 131.5 558.9 131.5 559.3 131.5 559.6 131.4 560.0 131.4 560.3 131.4 560.6 131.3 561.0 131.3 561.3 131.3 561.7 131.2 562.0 131.2 562.4 131.1 562.7 131.1 563.1 131.0 563.4 131.0 563.8 130.9 564.1 130.9 564.5 130.8 564.8 130.8 565.2 130.7 565.5 130.6 565.8 130.6 566.2 130.5 566.5 130.5 566.9 130.4 567.2 130.3 567.6 130.3 567.9 130.2 568.3 130.1 568.6 130.1 569.0 130.0 569.3 129.9 569.7 129.9 570.0 129.8 570.4 129.7 570.7 129.7 571.0 129.6 571.4 129.5 571.7 129.4 572.1 129.4 572.4 129.3 572.8 129.2 573.1 129.1 573.5 129.1 573.8 129.0 574.2 128.9 574.5 128.8 574.9 128.8 575.2 128.7 575.6 128.6 575.9 128.5 576.2 128.4 576.6 128.3 576.9 128.3 577.3 128.2 577.6 128.1 578.0 128.0 578.3 127.9 578.7 127.8 579.0 127.7 579.4 127.6 579.7 127.5 580.1 127.4 580.4 127.3 580.8 127.2 581.1 127.1 581.4 127.0 581.8 126.9 582.1 126.8 582.5 126.6 582.8 126.5 583.2 126.4 583.5 126.3 583.9 126.2 584.2 126.1 584.6 126.0 584.9 125.8 585.3 125.7 585.6 125.6 585.9 125.5 586.3 125.4 586.6 125.2 587.0 125.1 587.3 125.0 587.7 124.9 588.0 124.7 588.4 124.6 588.7 124.5 589.1 124.3 589.4 124.2 589.8 124.1 590.1 123.9 590.5 123.8 590.8 123.6 591.1 123.5 591.5 123.3 591.8 123.2 592.2 123.0 592.5 122.8 592.9 122.7 593.2 122.5 593.6 122.3 593.9 122.1 594.3 121.9 594.6 121.7 595.0 121.5 595.3 121.3 595.7 121.1 596.0 120.9 596.3 120.6 596.7 120.4 597.0 120.2 597.4 119.9 597.7 119.6 598.1 119.4 598.4 119.1 598.8 118.8 599.1 118.5 599.5 118.3 599.8 118.0 600.2 117.6 600.5 117.3 600.9 117.0 601.2 116.6 601.5 116.2 601.9 115.8 602.2 115.4 602.6 114.9 602.9 114.4 603.3 113.8 603.6 113.2 604.0 112.5 604.3 111.7 604.7 111.0 605.0 110.2 605.4 109.4 605.7 108.5 606.1 107.5 606.4 106.3 606.7 105.0 607.1 103.8 607.4 102.6 607.8 101.6 608.1 100.7 608.5 100.2 608.8 99.9 609.2 100.1 609.5 100.6 609.9 101.5 610.2 102.5 610.6 103.8 610.9 105.1 611.3 106.5 611.6 107.9 611.9 109.2 612.3 110.4 612.6 111.5 613.0 112.6 613.3 113.7 613.7 114.8 614.0 115.9 614.4 117.0 614.7 118.1 615.1 119.1 615.4 120.1 615.8 121.1 616.1 121.9 616.5 122.7 616.8 123.5 617.1 124.3 617.5 125.0 617.8 125.8 618.2 126.5 618.5 127.1 618.9 127.7 619.2 128.3 619.6 128.8 619.9 129.3 620.3 129.6 620.6 130.0 621.0 130.3 621.3 130.7 621.7 131.0 622.0 131.3 622.3 131.6 622.7 131.9 623.0 132.1 623.4 132.4 623.7 132.6 624.1 132.8 624.4 133.0 624.8 133.2 625.1 133.3 625.5 133.4 625.8 133.5 626.2 133.6 626.5 133.7 626.9 133.8 627.2 133.8 627.5 133.9 627.9 133.9 628.2 134.0 628.6 134.1 628.9 134.1 629.3 134.2 629.6 134.2 630.0 134.3 630.3 134.3 630.7 134.4 631.0 134.4 631.4 134.5 631.7 134.5 632.0 134.5 632.4 134.6 632.7 134.6 633.1 134.6 633.4 134.7 633.8 134.7 634.1 134.7 634.5 134.8 634.8 134.8 635.2 134.8 635.5 134.8 635.9 134.8 636.2 134.9 636.6 134.9 636.9 134.9 637.2 134.9 637.6 134.9 637.9 134.9 638.3 134.9 638.6 134.9 639.0 134.9 639.3 134.9 639.7 134.9 640.0 134.9 640.4 134.9 640.7 134.9 641.1 134.9 641.4 134.9 641.8 134.9 642.1 134.9 642.4 134.9 642.8 134.9 643.1 134.9 643.5 134.9 643.8 134.9 644.2 134.9 644.5 134.9 644.9 134.9 645.2 134.9 645.6 134.9 645.9 134.9 646.3 134.9 646.6 134.9 647.0 134.9 647.3 134.9 647.6 134.9 648.0 134.9 648.3 134.9 648.7 134.9 649.0 134.9 649.4 134.9 649.7 134.9 650.1 134.9 650.4 134.9 650.8 134.9 651.1 134.9 651.5 134.9 651.8 134.9 652.2 134.9 652.5 134.9" fill="none" stroke="#e8333d" stroke-width="0.5" stroke-opacity="0.18"/>
<path d="M514.2 133.3 514.5 133.3 514.9 133.3 515.2 133.3 515.6 133.3 515.9 133.3 516.3 133.3 516.6 133.2 517.0 133.2 517.3 133.2 517.7 133.2 518.0 133.2 518.4 133.2 518.7 133.2 519.1 133.1 519.4 133.1 519.7 133.1 520.1 133.1 520.4 133.1 520.8 133.1 521.1 133.1 521.5 133.0 521.8 133.0 522.2 133.0 522.5 133.0 522.9 133.0 523.2 133.0 523.6 133.0 523.9 132.9 524.3 132.9 524.6 132.9 524.9 132.9 525.3 132.9 525.6 132.9 526.0 132.8 526.3 132.8 526.7 132.8 527.0 132.8 527.4 132.8 527.7 132.8 528.1 132.8 528.4 132.7 528.8 132.7 529.1 132.7 529.5 132.7 529.8 132.7 530.1 132.7 530.5 132.6 530.8 132.6 531.2 132.6 531.5 132.6 531.9 132.6 532.2 132.5 532.6 132.5 532.9 132.5 533.3 132.5 533.6 132.5 534.0 132.5 534.3 132.4 534.7 132.4 535.0 132.4 535.3 132.4 535.7 132.4 536.0 132.3 536.4 132.3 536.7 132.3 537.1 132.3 537.4 132.3 537.8 132.2 538.1 132.2 538.5 132.2 538.8 132.2 539.2 132.2 539.5 132.1 539.8 132.1 540.2 132.1 540.5 132.1 540.9 132.1 541.2 132.0 541.6 132.0 541.9 132.0 542.3 132.0 542.6 132.0 543.0 131.9 543.3 131.9 543.7 131.9 544.0 131.9 544.4 131.9 544.7 131.8 545.0 131.8 545.4 131.8 545.7 131.8 546.1 131.8 546.4 131.7 546.8 131.7 547.1 131.7 547.5 131.7 547.8 131.6 548.2 131.6 548.5 131.6 548.9 131.6 549.2 131.5 549.6 131.5 549.9 131.5 550.2 131.5 550.6 131.4 550.9 131.4 551.3 131.4 551.6 131.4 552.0 131.3 552.3 131.3 552.7 131.3 553.0 131.2 553.4 131.2 553.7 131.2 554.1 131.2 554.4 131.1 554.8 131.1 555.1 131.1 555.4 131.0 555.8 131.0 556.1 131.0 556.5 130.9 556.8 130.9 557.2 130.9 557.5 130.8 557.9 130.8 558.2 130.8 558.6 130.7 558.9 130.7 559.3 130.7 559.6 130.6 560.0 130.6 560.3 130.5 560.6 130.5 561.0 130.5 561.3 130.4 561.7 130.4 562.0 130.3 562.4 130.3 562.7 130.2 563.1 130.2 563.4 130.1 563.8 130.1 564.1 130.0 564.5 129.9 564.8 129.9 565.2 129.8 565.5 129.8 565.8 129.7 566.2 129.6 566.5 129.6 566.9 129.5 567.2 129.4 567.6 129.3 567.9 129.3 568.3 129.2 568.6 129.1 569.0 129.1 569.3 129.0 569.7 128.9 570.0 128.8 570.4 128.7 570.7 128.7 571.0 128.6 571.4 128.5 571.7 128.4 572.1 128.3 572.4 128.3 572.8 128.2 573.1 128.1 573.5 128.0 573.8 127.9 574.2 127.8 574.5 127.7 574.9 127.7 575.2 127.6 575.6 127.5 575.9 127.4 576.2 127.3 576.6 127.2 576.9 127.1 577.3 127.0 577.6 126.9 578.0 126.8 578.3 126.7 578.7 126.6 579.0 126.5 579.4 126.4 579.7 126.3 580.1 126.2 580.4 126.1 580.8 126.0 581.1 125.9 581.4 125.8 581.8 125.6 582.1 125.5 582.5 125.4 582.8 125.3 583.2 125.2 583.5 125.0 583.9 124.9 584.2 124.8 584.6 124.7 584.9 124.5 585.3 124.4 585.6 124.3 585.9 124.2 586.3 124.0 586.6 123.9 587.0 123.8 587.3 123.6 587.7 123.5 588.0 123.4 588.4 123.2 588.7 123.1 589.1 122.9 589.4 122.8 589.8 122.7 590.1 122.5 590.5 122.4 590.8 122.2 591.1 122.1 591.5 121.9 591.8 121.8 592.2 121.6 592.5 121.4 592.9 121.3 593.2 121.1 593.6 120.9 593.9 120.8 594.3 120.6 594.6 120.4 595.0 120.2 595.3 120.0 595.7 119.9 596.0 119.7 596.3 119.5 596.7 119.3 597.0 119.1 597.4 118.8 597.7 118.6 598.1 118.4 598.4 118.1 598.8 117.9 599.1 117.6 599.5 117.4 599.8 117.1 600.2 116.8 600.5 116.5 600.9 116.2 601.2 116.0 601.5 115.6 601.9 115.3 602.2 115.0 602.6 114.7 602.9 114.4 603.3 114.0 603.6 113.7 604.0 113.3 604.3 113.0 604.7 112.6 605.0 112.1 605.4 111.7 605.7 111.3 606.1 110.8 606.4 110.3 606.7 109.7 607.1 109.0 607.4 108.3 607.8 107.6 608.1 106.8 608.5 105.9 608.8 105.0 609.2 104.1 609.5 103.2 609.9 102.3 610.2 101.1 610.6 99.8 610.9 98.4 611.3 96.9 611.6 95.5 611.9 94.2 612.3 93.0 612.6 92.1 613.0 91.5 613.3 91.2 613.7 91.3 614.0 91.9 614.4 92.8 614.7 93.9 615.1 95.3 615.4 96.8 615.8 98.4 616.1 100.0 616.5 101.6 616.8 103.1 617.1 104.4 617.5 105.6 617.8 106.9 618.2 108.2 618.5 109.5 618.9 110.8 619.2 112.0 619.6 113.3 619.9 114.5 620.3 115.7 620.6 116.8 621.0 117.9 621.3 118.9 621.7 119.8 622.0 120.7 622.3 121.6 622.7 122.4 623.0 123.3 623.4 124.1 623.7 124.9 624.1 125.6 624.4 126.3 624.8 126.9 625.1 127.5 625.5 128.0 625.8 128.4 626.2 128.8 626.5 129.2 626.9 129.6 627.2 129.9 627.5 130.3 627.9 130.6 628.2 131.0 628.6 131.3 628.9 131.6 629.3 131.8 629.6 132.1 630.0 132.3 630.3 132.5 630.7 132.7 631.0 132.9 631.4 133.1 631.7 133.2 632.0 133.3 632.4 133.4 632.7 133.4 633.1 133.5 633.4 133.6 633.8 133.7 634.1 133.7 634.5 133.8 634.8 133.9 635.2 133.9 635.5 134.0 635.9 134.0 636.2 134.1 636.6 134.2 636.9 134.2 637.2 134.3 637.6 134.3 637.9 134.4 638.3 134.4 638.6 134.5 639.0 134.5 639.3 134.5 639.7 134.6 640.0 134.6 640.4 134.6 640.7 134.7 641.1 134.7 641.4 134.7 641.8 134.8 642.1 134.8 642.4 134.8 642.8 134.8 643.1 134.8 643.5 134.9 643.8 134.9 644.2 134.9 644.5 134.9 644.9 134.9 645.2 134.9 645.6 134.9 645.9 134.9 646.3 134.9 646.6 134.9 647.0 134.9 647.3 134.9 647.6 134.9 648.0 134.9 648.3 134.9 648.7 134.9 649.0 134.9 649.4 134.9 649.7 134.9 650.1 134.9 650.4 134.9 650.8 134.9 651.1 134.9 651.5 134.9 651.8 134.9 652.2 134.9 652.5 134.9" fill="none" stroke="#e8333d" stroke-width="0.5" stroke-opacity="0.15"/>
<path d="M514.20 134.49 L514.55 134.44 L514.89 134.39 L515.24 134.35 L515.59 134.30 L515.93 134.26 L516.28 134.21 L516.63 134.17 L516.97 134.12 L517.32 134.08 L517.67 134.03 L518.01 133.99 L518.36 133.94 L518.71 133.90 L519.05 133.86 L519.40 133.81 L519.75 133.77 L520.09 133.73 L520.44 133.69 L520.79 133.65 L521.13 133.61 L521.48 133.56 L521.83 133.52 L522.17 133.48 L522.52 133.44 L522.87 133.40 L523.21 133.37 L523.56 133.33 L523.91 133.29 L524.25 133.25 L524.60 133.21 L524.95 133.18 L525.29 133.14 L525.64 133.11 L525.98 133.07 L526.33 133.03 L526.68 133.00 L527.02 132.97 L527.37 132.93 L527.72 132.90 L528.06 132.87 L528.41 132.83 L528.76 132.80 L529.10 132.77 L529.45 132.74 L529.80 132.71 L530.14 132.68 L530.49 132.65 L530.84 132.62 L531.18 132.59 L531.53 132.57 L531.88 132.54 L532.22 132.51 L532.57 132.48 L532.92 132.46 L533.26 132.43 L533.61 132.41 L533.96 132.38 L534.30 132.36 L534.65 132.33 L535.00 132.30 L535.34 132.28 L535.69 132.26 L536.04 132.23 L536.38 132.21 L536.73 132.18 L537.08 132.16 L537.42 132.13 L537.77 132.11 L538.12 132.09 L538.46 132.06 L538.81 132.04 L539.16 132.01 L539.50 131.99 L539.85 131.97 L540.20 131.94 L540.54 131.92 L540.89 131.89 L541.24 131.87 L541.58 131.84 L541.93 131.82 L542.28 131.79 L542.62 131.77 L542.97 131.74 L543.32 131.72 L543.66 131.69 L544.01 131.66 L544.36 131.64 L544.70 131.61 L545.05 131.58 L545.40 131.55 L545.74 131.52 L546.09 131.50 L546.44 131.47 L546.78 131.44 L547.13 131.41 L547.48 131.38 L547.82 131.34 L548.17 131.31 L548.52 131.28 L548.86 131.25 L549.21 131.22 L549.55 131.18 L549.90 131.15 L550.25 131.12 L550.59 131.09 L550.94 131.06 L551.29 131.02 L551.63 130.99 L551.98 130.96 L552.33 130.93 L552.67 130.89 L553.02 130.86 L553.37 130.83 L553.71 130.79 L554.06 130.76 L554.41 130.73 L554.75 130.69 L555.10 130.66 L555.45 130.63 L555.79 130.59 L556.14 130.56 L556.49 130.52 L556.83 130.49 L557.18 130.45 L557.53 130.41 L557.87 130.38 L558.22 130.34 L558.57 130.30 L558.91 130.27 L559.26 130.23 L559.61 130.19 L559.95 130.15 L560.30 130.11 L560.65 130.07 L560.99 130.03 L561.34 129.99 L561.69 129.94 L562.03 129.90 L562.38 129.86 L562.73 129.81 L563.07 129.77 L563.42 129.72 L563.77 129.68 L564.11 129.63 L564.46 129.58 L564.81 129.54 L565.15 129.49 L565.50 129.44 L565.85 129.39 L566.19 129.33 L566.54 129.28 L566.89 129.23 L567.23 129.17 L567.58 129.12 L567.93 129.06 L568.27 129.01 L568.62 128.95 L568.97 128.89 L569.31 128.83 L569.66 128.76 L570.01 128.70 L570.35 128.63 L570.70 128.56 L571.05 128.48 L571.39 128.40 L571.74 128.33 L572.08 128.24 L572.43 128.16 L572.78 128.07 L573.12 127.99 L573.47 127.90 L573.82 127.80 L574.16 127.71 L574.51 127.61 L574.86 127.51 L575.20 127.41 L575.55 127.31 L575.90 127.21 L576.24 127.10 L576.59 126.99 L576.94 126.88 L577.28 126.77 L577.63 126.66 L577.98 126.54 L578.32 126.43 L578.67 126.31 L579.02 126.19 L579.36 126.07 L579.71 125.95 L580.06 125.83 L580.40 125.71 L580.75 125.58 L581.10 125.46 L581.44 125.33 L581.79 125.20 L582.14 125.06 L582.48 124.92 L582.83 124.78 L583.18 124.63 L583.52 124.48 L583.87 124.32 L584.22 124.16 L584.56 123.99 L584.91 123.83 L585.26 123.66 L585.60 123.48 L585.95 123.31 L586.30 123.13 L586.64 122.95 L586.99 122.76 L587.34 122.58 L587.68 122.39 L588.03 122.21 L588.38 122.02 L588.72 121.83 L589.07 121.64 L589.42 121.45 L589.76 121.26 L590.11 121.06 L590.46 120.87 L590.80 120.68 L591.15 120.49 L591.50 120.29 L591.84 120.10 L592.19 119.90 L592.54 119.70 L592.88 119.49 L593.23 119.28 L593.58 119.07 L593.92 118.85 L594.27 118.63 L594.62 118.41 L594.96 118.17 L595.31 117.93 L595.65 117.69 L596.00 117.44 L596.35 117.18 L596.69 116.91 L597.04 116.63 L597.39 116.35 L597.73 116.05 L598.08 115.73 L598.43 115.39 L598.77 115.04 L599.12 114.67 L599.47 114.29 L599.81 113.90 L600.16 113.49 L600.51 113.07 L600.85 112.65 L601.20 112.21 L601.55 111.77 L601.89 111.33 L602.24 110.89 L602.59 110.44 L602.93 109.97 L603.28 109.47 L603.63 108.94 L603.97 108.37 L604.32 107.74 L604.67 107.06 L605.01 106.29 L605.36 105.37 L605.71 104.33 L606.05 103.20 L606.40 101.98 L606.75 100.69 L607.09 99.37 L607.44 97.92 L607.79 96.06 L608.13 93.91 L608.48 91.65 L608.83 89.47 L609.17 87.53 L609.52 86.01 L609.87 85.09 L610.21 84.95 L610.56 85.61 L610.91 86.94 L611.25 88.78 L611.60 90.97 L611.95 93.33 L612.29 95.72 L612.64 97.96 L612.99 99.91 L613.33 101.67 L613.68 103.46 L614.03 105.27 L614.37 107.06 L614.72 108.82 L615.07 110.54 L615.41 112.19 L615.76 113.75 L616.11 115.21 L616.45 116.56 L616.80 117.89 L617.15 119.20 L617.49 120.47 L617.84 121.68 L618.18 122.83 L618.53 123.89 L618.88 124.85 L619.22 125.69 L619.57 126.39 L619.92 127.01 L620.26 127.60 L620.61 128.18 L620.96 128.72 L621.30 129.24 L621.65 129.73 L622.00 130.18 L622.34 130.61 L622.69 131.00 L623.04 131.35 L623.38 131.66 L623.73 131.94 L624.08 132.17 L624.42 132.36 L624.77 132.51 L625.12 132.66 L625.46 132.80 L625.81 132.94 L626.16 133.08 L626.50 133.21 L626.85 133.34 L627.20 133.46 L627.54 133.58 L627.89 133.70 L628.24 133.81 L628.58 133.91 L628.93 134.02 L629.28 134.11 L629.62 134.20 L629.97 134.29 L630.32 134.37 L630.66 134.45 L631.01 134.52 L631.36 134.58 L631.70 134.64 L632.05 134.69 L632.40 134.74 L632.74 134.78 L633.09 134.82 L633.44 134.85 L633.78 134.87 L634.13 134.89 L634.48 134.90 L634.82 134.90 L635.17 134.90 L635.52 134.90 L635.86 134.90 L636.21 134.90 L636.56 134.90 L636.90 134.90 L637.25 134.90 L637.60 134.90 L637.94 134.90 L638.29 134.90 L638.64 134.90 L638.98 134.90 L639.33 134.90 L639.68 134.90 L640.02 134.90 L640.37 134.90 L640.72 134.90 L641.06 134.90 L641.41 134.90 L641.75 134.90 L642.10 134.90 L642.45 134.90 L642.79 134.90 L643.14 134.90 L643.49 134.90 L643.83 134.90 L644.18 134.90 L644.53 134.90 L644.87 134.90 L645.22 134.90 L645.57 134.90 L645.91 134.90 L646.26 134.90 L646.61 134.90 L646.95 134.90 L647.30 134.90 L647.65 134.90 L647.99 134.90 L648.34 134.90 L648.69 134.90 L649.03 134.90 L649.38 134.90 L649.73 134.90 L650.07 134.90 L650.42 134.90 L650.77 134.90 L651.11 134.90 L651.46 134.90 L651.81 134.90 L652.15 134.90 L652.50 134.90 L652.50 134.90 L652.15 134.90 L651.81 134.90 L651.46 134.90 L651.11 134.90 L650.77 134.90 L650.42 134.90 L650.07 134.90 L649.73 134.90 L649.38 134.90 L649.03 134.90 L648.69 134.90 L648.34 134.90 L647.99 134.90 L647.65 134.90 L647.30 134.90 L646.95 134.90 L646.61 134.90 L646.26 134.90 L645.91 134.90 L645.57 134.90 L645.22 134.90 L644.87 134.90 L644.53 134.90 L644.18 134.90 L643.83 134.90 L643.49 134.90 L643.14 134.90 L642.79 134.90 L642.45 134.90 L642.10 134.90 L641.75 134.90 L641.41 134.90 L641.06 134.90 L640.72 134.90 L640.37 134.90 L640.02 134.90 L639.68 134.90 L639.33 134.90 L638.98 134.90 L638.64 134.90 L638.29 134.90 L637.94 134.90 L637.60 134.90 L637.25 134.90 L636.90 134.90 L636.56 134.90 L636.21 134.90 L635.86 134.90 L635.52 134.90 L635.17 134.90 L634.82 134.90 L634.48 134.90 L634.13 134.90 L633.78 134.89 L633.44 134.89 L633.09 134.88 L632.74 134.87 L632.40 134.86 L632.05 134.84 L631.70 134.83 L631.36 134.81 L631.01 134.79 L630.66 134.77 L630.32 134.75 L629.97 134.72 L629.62 134.70 L629.28 134.67 L628.93 134.64 L628.58 134.61 L628.24 134.58 L627.89 134.54 L627.54 134.50 L627.20 134.46 L626.85 134.42 L626.50 134.38 L626.16 134.34 L625.81 134.29 L625.46 134.24 L625.12 134.19 L624.77 134.14 L624.42 134.08 L624.08 134.00 L623.73 133.87 L623.38 133.71 L623.04 133.51 L622.69 133.28 L622.34 133.02 L622.00 132.73 L621.65 132.41 L621.30 132.07 L620.96 131.71 L620.61 131.33 L620.26 130.93 L619.92 130.52 L619.57 130.09 L619.22 129.61 L618.88 129.02 L618.53 128.34 L618.18 127.58 L617.84 126.74 L617.49 125.85 L617.15 124.91 L616.80 123.92 L616.45 122.91 L616.11 121.86 L615.76 120.67 L615.41 119.35 L615.07 117.93 L614.72 116.43 L614.37 114.90 L614.03 113.35 L613.68 111.81 L613.33 110.32 L612.99 108.91 L612.64 107.41 L612.29 105.73 L611.95 103.97 L611.60 102.25 L611.25 100.68 L610.91 99.36 L610.56 98.41 L610.21 97.93 L609.87 98.04 L609.52 98.69 L609.17 99.76 L608.83 101.14 L608.48 102.69 L608.13 104.30 L607.79 105.84 L607.44 107.19 L607.09 108.25 L606.75 109.21 L606.40 110.15 L606.05 111.05 L605.71 111.89 L605.36 112.68 L605.01 113.40 L604.67 114.04 L604.32 114.62 L603.97 115.18 L603.63 115.70 L603.28 116.19 L602.93 116.66 L602.59 117.10 L602.24 117.52 L601.89 117.92 L601.55 118.29 L601.20 118.66 L600.85 119.01 L600.51 119.34 L600.16 119.66 L599.81 119.97 L599.47 120.27 L599.12 120.55 L598.77 120.83 L598.43 121.10 L598.08 121.36 L597.73 121.61 L597.39 121.86 L597.04 122.10 L596.69 122.34 L596.35 122.57 L596.00 122.80 L595.65 123.03 L595.31 123.25 L594.96 123.47 L594.62 123.68 L594.27 123.89 L593.92 124.10 L593.58 124.30 L593.23 124.50 L592.88 124.70 L592.54 124.89 L592.19 125.08 L591.84 125.26 L591.50 125.44 L591.15 125.62 L590.80 125.79 L590.46 125.96 L590.11 126.12 L589.76 126.28 L589.42 126.44 L589.07 126.59 L588.72 126.74 L588.38 126.89 L588.03 127.04 L587.68 127.18 L587.34 127.32 L586.99 127.46 L586.64 127.60 L586.30 127.73 L585.95 127.86 L585.60 127.99 L585.26 128.12 L584.91 128.24 L584.56 128.37 L584.22 128.48 L583.87 128.60 L583.52 128.72 L583.18 128.83 L582.83 128.94 L582.48 129.04 L582.14 129.15 L581.79 129.25 L581.44 129.35 L581.10 129.45 L580.75 129.54 L580.40 129.64 L580.06 129.73 L579.71 129.83 L579.36 129.92 L579.02 130.02 L578.67 130.11 L578.32 130.20 L577.98 130.29 L577.63 130.38 L577.28 130.47 L576.94 130.56 L576.59 130.65 L576.24 130.73 L575.90 130.82 L575.55 130.90 L575.20 130.98 L574.86 131.06 L574.51 131.14 L574.16 131.22 L573.82 131.29 L573.47 131.36 L573.12 131.43 L572.78 131.50 L572.43 131.57 L572.08 131.63 L571.74 131.70 L571.39 131.75 L571.05 131.81 L570.70 131.86 L570.35 131.92 L570.01 131.96 L569.66 132.01 L569.31 132.05 L568.97 132.09 L568.62 132.13 L568.27 132.17 L567.93 132.20 L567.58 132.24 L567.23 132.27 L566.89 132.31 L566.54 132.34 L566.19 132.37 L565.85 132.40 L565.50 132.43 L565.15 132.46 L564.81 132.49 L564.46 132.52 L564.11 132.55 L563.77 132.58 L563.42 132.61 L563.07 132.63 L562.73 132.66 L562.38 132.69 L562.03 132.71 L561.69 132.74 L561.34 132.76 L560.99 132.79 L560.65 132.81 L560.30 132.83 L559.95 132.86 L559.61 132.88 L559.26 132.90 L558.91 132.92 L558.57 132.94 L558.22 132.97 L557.87 132.99 L557.53 133.01 L557.18 133.03 L556.83 133.05 L556.49 133.07 L556.14 133.09 L555.79 133.11 L555.45 133.12 L555.10 133.14 L554.75 133.16 L554.41 133.18 L554.06 133.20 L553.71 133.22 L553.37 133.24 L553.02 133.25 L552.67 133.27 L552.33 133.29 L551.98 133.31 L551.63 133.33 L551.29 133.34 L550.94 133.36 L550.59 133.38 L550.25 133.40 L549.90 133.42 L549.55 133.43 L549.21 133.45 L548.86 133.47 L548.52 133.49 L548.17 133.51 L547.82 133.53 L547.48 133.54 L547.13 133.56 L546.78 133.58 L546.44 133.60 L546.09 133.62 L545.74 133.63 L545.40 133.65 L545.05 133.67 L544.70 133.68 L544.36 133.70 L544.01 133.72 L543.66 133.74 L543.32 133.75 L542.97 133.77 L542.62 133.79 L542.28 133.80 L541.93 133.82 L541.58 133.83 L541.24 133.85 L540.89 133.87 L540.54 133.88 L540.20 133.90 L539.85 133.91 L539.50 133.93 L539.16 133.94 L538.81 133.96 L538.46 133.98 L538.12 133.99 L537.77 134.01 L537.42 134.02 L537.08 134.04 L536.73 134.05 L536.38 134.06 L536.04 134.08 L535.69 134.09 L535.34 134.11 L535.00 134.12 L534.65 134.14 L534.30 134.15 L533.96 134.16 L533.61 134.18 L533.26 134.19 L532.92 134.21 L532.57 134.22 L532.22 134.23 L531.88 134.25 L531.53 134.26 L531.18 134.27 L530.84 134.29 L530.49 134.30 L530.14 134.31 L529.80 134.32 L529.45 134.34 L529.10 134.35 L528.76 134.36 L528.41 134.37 L528.06 134.39 L527.72 134.40 L527.37 134.41 L527.02 134.42 L526.68 134.44 L526.33 134.45 L525.98 134.46 L525.64 134.47 L525.29 134.48 L524.95 134.50 L524.60 134.51 L524.25 134.52 L523.91 134.53 L523.56 134.54 L523.21 134.55 L522.87 134.57 L522.52 134.58 L522.17 134.59 L521.83 134.60 L521.48 134.61 L521.13 134.62 L520.79 134.63 L520.44 134.64 L520.09 134.65 L519.75 134.66 L519.40 134.67 L519.05 134.69 L518.71 134.70 L518.36 134.71 L518.01 134.72 L517.67 134.73 L517.32 134.74 L516.97 134.75 L516.63 134.76 L516.28 134.77 L515.93 134.78 L515.59 134.79 L515.24 134.80 L514.89 134.81 L514.55 134.81 L514.20 134.82 Z" fill="#e8333d" fill-opacity="0.35"/>
<path d="M514.2 134.9 514.5 134.9 514.9 134.9 515.2 134.9 515.6 134.9 515.9 134.9 516.3 134.9 516.6 134.9 517.0 134.9 517.3 134.9 517.7 134.9 518.0 134.9 518.4 134.9 518.7 134.9 519.1 134.9 519.4 134.9 519.7 134.9 520.1 134.9 520.4 134.9 520.8 134.9 521.1 134.9 521.5 134.9 521.8 134.9 522.2 134.9 522.5 134.9 522.9 134.9 523.2 134.9 523.6 134.9 523.9 134.9 524.3 134.9 524.6 134.9 524.9 134.9 525.3 134.9 525.6 134.9 526.0 134.9 526.3 134.9 526.7 134.9 527.0 134.9 527.4 134.9 527.7 134.9 528.1 134.9 528.4 134.9 528.8 134.9 529.1 134.9 529.5 134.9 529.8 134.9 530.1 134.9 530.5 134.9 530.8 134.9 531.2 134.9 531.5 134.9 531.9 134.9 532.2 134.9 532.6 134.9 532.9 134.9 533.3 134.9 533.6 134.9 534.0 134.9 534.3 134.9 534.7 134.9 535.0 134.9 535.3 134.9 535.7 134.9 536.0 134.9 536.4 134.9 536.7 134.9 537.1 134.9 537.4 134.9 537.8 134.9 538.1 134.9 538.5 134.9 538.8 134.9 539.2 134.9 539.5 134.9 539.8 134.9 540.2 134.9 540.5 134.9 540.9 134.9 541.2 134.9 541.6 134.9 541.9 134.9 542.3 134.9 542.6 134.9 543.0 134.9 543.3 134.9 543.7 134.9 544.0 134.9 544.4 134.9 544.7 134.9 545.0 134.9 545.4 134.9 545.7 134.9 546.1 134.9 546.4 134.9 546.8 134.9 547.1 134.9 547.5 134.9 547.8 134.9 548.2 134.9 548.5 134.9 548.9 134.9 549.2 134.9 549.6 134.9 549.9 134.9 550.2 134.9 550.6 134.9 550.9 134.9 551.3 134.9 551.6 134.9 552.0 134.9 552.3 134.9 552.7 134.9 553.0 134.9 553.4 134.9 553.7 134.9 554.1 134.9 554.4 134.9 554.8 134.9 555.1 134.9 555.4 134.9 555.8 134.9 556.1 134.9 556.5 134.9 556.8 134.9 557.2 134.9 557.5 134.9 557.9 134.9 558.2 134.9 558.6 134.9 558.9 134.9 559.3 134.9 559.6 134.9 560.0 134.9 560.3 134.9 560.6 134.9 561.0 134.9 561.3 134.9 561.7 134.9 562.0 134.9 562.4 134.9 562.7 134.9 563.1 134.9 563.4 134.9 563.8 134.9 564.1 134.9 564.5 134.9 564.8 134.9 565.2 134.9 565.5 134.9 565.8 134.9 566.2 134.9 566.5 134.9 566.9 134.9 567.2 134.9 567.6 134.9 567.9 134.9 568.3 134.9 568.6 134.9 569.0 134.9 569.3 134.9 569.7 134.9 570.0 134.9 570.4 134.9 570.7 134.9 571.0 134.9 571.4 134.9 571.7 134.9 572.1 134.9 572.4 134.9 572.8 134.9 573.1 134.9 573.5 134.9 573.8 134.9 574.2 134.9 574.5 134.9 574.9 134.9 575.2 134.9 575.6 134.9 575.9 134.9 576.2 134.9 576.6 134.9 576.9 134.9 577.3 134.9 577.6 134.9 578.0 134.9 578.3 134.9 578.7 134.9 579.0 134.9 579.4 134.9 579.7 134.9 580.1 134.9 580.4 134.9 580.8 134.9 581.1 134.9 581.4 134.9 581.8 134.9 582.1 134.9 582.5 134.9 582.8 134.9 583.2 134.9 583.5 134.9 583.9 134.9 584.2 134.8 584.6 134.8 584.9 134.7 585.3 134.6 585.6 134.5 585.9 134.4 586.3 134.2 586.6 134.1 587.0 133.9 587.3 133.7 587.7 133.6 588.0 133.4 588.4 133.1 588.7 132.9 589.1 132.7 589.4 132.5 589.8 132.2 590.1 132.0 590.5 131.7 590.8 131.5 591.1 131.2 591.5 130.9 591.8 130.7 592.2 130.4 592.5 130.0 592.9 129.6 593.2 129.2 593.6 128.8 593.9 128.3 594.3 127.8 594.6 127.3 595.0 126.7 595.3 126.1 595.7 125.5 596.0 124.8 596.3 124.1 596.7 123.3 597.0 122.6 597.4 121.8 597.7 120.9 598.1 120.0 598.4 118.9 598.8 117.6 599.1 116.2 599.5 114.7 599.8 113.1 600.2 111.3 600.5 109.5 600.9 107.6 601.2 105.7 601.5 103.7 601.9 101.7 602.2 99.4 602.6 96.6 602.9 93.4 603.3 89.9 603.6 86.2 604.0 82.3 604.3 78.4 604.7 74.5 605.0 70.8 605.4 67.2 605.7 63.8 606.1 60.9 606.4 58.3 606.7 56.3 607.1 54.8 607.4 54.0 607.8 54.0 608.1 54.9 608.5 56.6 608.8 59.0 609.2 61.9 609.5 65.4 609.9 69.1 610.2 73.1 610.6 77.2 610.9 81.3 611.3 85.2 611.6 88.9 611.9 92.2 612.3 95.1 612.6 97.3 613.0 99.3 613.3 101.2 613.7 103.1 614.0 105.0 614.4 106.7 614.7 108.5 615.1 110.1 615.4 111.7 615.8 113.2 616.1 114.7 616.5 116.0 616.8 117.3 617.1 118.5 617.5 119.6 617.8 120.6 618.2 121.5 618.5 122.4 618.9 123.2 619.2 123.9 619.6 124.7 619.9 125.4 620.3 126.1 620.6 126.8 621.0 127.4 621.3 128.0 621.7 128.6 622.0 129.2 622.3 129.7 622.7 130.1 623.0 130.6 623.4 131.0 623.7 131.3 624.1 131.6 624.4 131.8 624.8 132.1 625.1 132.3 625.5 132.5 625.8 132.7 626.2 132.9 626.5 133.0 626.9 133.2 627.2 133.4 627.5 133.6 627.9 133.7 628.2 133.9 628.6 134.0 628.9 134.1 629.3 134.3 629.6 134.4 630.0 134.5 630.3 134.6 630.7 134.7 631.0 134.7 631.4 134.8 631.7 134.8 632.0 134.9 632.4 134.9 632.7 134.9 633.1 134.9 633.4 134.9 633.8 134.9 634.1 134.9 634.5 134.9 634.8 134.9 635.2 134.9 635.5 134.9 635.9 134.9 636.2 134.9 636.6 134.9 636.9 134.9 637.2 134.9 637.6 134.9 637.9 134.9 638.3 134.9 638.6 134.9 639.0 134.9 639.3 134.9 639.7 134.9 640.0 134.9 640.4 134.9 640.7 134.9 641.1 134.9 641.4 134.9 641.8 134.9 642.1 134.9 642.4 134.9 642.8 134.9 643.1 134.9 643.5 134.9 643.8 134.9 644.2 134.9 644.5 134.9 644.9 134.9 645.2 134.9 645.6 134.9 645.9 134.9 646.3 134.9 646.6 134.9 647.0 134.9 647.3 134.9 647.6 134.9 648.0 134.9 648.3 134.9 648.7 134.9 649.0 134.9 649.4 134.9 649.7 134.9 650.1 134.9 650.4 134.9 650.8 134.9 651.1 134.9 651.5 134.9 651.8 134.9 652.2 134.9 652.5 134.9" fill="none" stroke="#10a9ea" stroke-width="0.55" stroke-opacity="0.3"/>
<path d="M514.2 134.9 514.5 134.9 514.9 134.9 515.2 134.9 515.6 134.9 515.9 134.9 516.3 134.9 516.6 134.9 517.0 134.9 517.3 134.9 517.7 134.9 518.0 134.9 518.4 134.9 518.7 134.9 519.1 134.9 519.4 134.9 519.7 134.9 520.1 134.9 520.4 134.9 520.8 134.9 521.1 134.9 521.5 134.9 521.8 134.9 522.2 134.9 522.5 134.9 522.9 134.9 523.2 134.9 523.6 134.9 523.9 134.9 524.3 134.9 524.6 134.9 524.9 134.9 525.3 134.9 525.6 134.9 526.0 134.9 526.3 134.9 526.7 134.9 527.0 134.9 527.4 134.9 527.7 134.9 528.1 134.9 528.4 134.9 528.8 134.9 529.1 134.9 529.5 134.9 529.8 134.9 530.1 134.9 530.5 134.9 530.8 134.9 531.2 134.9 531.5 134.9 531.9 134.9 532.2 134.9 532.6 134.9 532.9 134.9 533.3 134.9 533.6 134.9 534.0 134.9 534.3 134.9 534.7 134.9 535.0 134.9 535.3 134.9 535.7 134.9 536.0 134.9 536.4 134.9 536.7 134.9 537.1 134.9 537.4 134.9 537.8 134.9 538.1 134.9 538.5 134.9 538.8 134.9 539.2 134.9 539.5 134.9 539.8 134.9 540.2 134.9 540.5 134.9 540.9 134.9 541.2 134.9 541.6 134.9 541.9 134.9 542.3 134.9 542.6 134.9 543.0 134.9 543.3 134.9 543.7 134.9 544.0 134.9 544.4 134.9 544.7 134.9 545.0 134.9 545.4 134.9 545.7 134.9 546.1 134.9 546.4 134.9 546.8 134.9 547.1 134.9 547.5 134.9 547.8 134.9 548.2 134.9 548.5 134.9 548.9 134.9 549.2 134.9 549.6 134.9 549.9 134.9 550.2 134.9 550.6 134.9 550.9 134.9 551.3 134.9 551.6 134.9 552.0 134.9 552.3 134.8 552.7 134.8 553.0 134.8 553.4 134.8 553.7 134.8 554.1 134.8 554.4 134.8 554.8 134.8 555.1 134.8 555.4 134.8 555.8 134.8 556.1 134.8 556.5 134.8 556.8 134.8 557.2 134.8 557.5 134.8 557.9 134.7 558.2 134.7 558.6 134.7 558.9 134.7 559.3 134.7 559.6 134.7 560.0 134.7 560.3 134.7 560.6 134.7 561.0 134.7 561.3 134.6 561.7 134.6 562.0 134.6 562.4 134.6 562.7 134.6 563.1 134.6 563.4 134.6 563.8 134.6 564.1 134.5 564.5 134.5 564.8 134.5 565.2 134.5 565.5 134.5 565.8 134.5 566.2 134.5 566.5 134.4 566.9 134.4 567.2 134.4 567.6 134.4 567.9 134.4 568.3 134.4 568.6 134.3 569.0 134.3 569.3 134.3 569.7 134.3 570.0 134.3 570.4 134.3 570.7 134.2 571.0 134.2 571.4 134.2 571.7 134.2 572.1 134.1 572.4 134.1 572.8 134.1 573.1 134.1 573.5 134.1 573.8 134.0 574.2 134.0 574.5 134.0 574.9 134.0 575.2 133.9 575.6 133.9 575.9 133.9 576.2 133.9 576.6 133.8 576.9 133.8 577.3 133.8 577.6 133.8 578.0 133.7 578.3 133.7 578.7 133.7 579.0 133.6 579.4 133.6 579.7 133.6 580.1 133.6 580.4 133.5 580.8 133.5 581.1 133.5 581.4 133.4 581.8 133.4 582.1 133.4 582.5 133.3 582.8 133.3 583.2 133.3 583.5 133.2 583.9 133.2 584.2 133.2 584.6 133.1 584.9 133.1 585.3 133.0 585.6 133.0 585.9 133.0 586.3 132.9 586.6 132.9 587.0 132.8 587.3 132.8 587.7 132.7 588.0 132.5 588.4 132.4 588.7 132.2 589.1 132.0 589.4 131.8 589.8 131.5 590.1 131.3 590.5 131.0 590.8 130.7 591.1 130.4 591.5 130.1 591.8 129.7 592.2 129.4 592.5 129.0 592.9 128.6 593.2 128.3 593.6 127.8 593.9 127.3 594.3 126.6 594.6 125.9 595.0 125.1 595.3 124.3 595.7 123.5 596.0 122.6 596.3 121.6 596.7 120.7 597.0 119.8 597.4 118.9 597.7 117.9 598.1 117.0 598.4 116.0 598.8 115.0 599.1 113.9 599.5 112.8 599.8 111.7 600.2 110.6 600.5 109.4 600.9 108.3 601.2 107.0 601.5 105.8 601.9 104.5 602.2 103.1 602.6 101.7 602.9 100.2 603.3 98.7 603.6 97.2 604.0 95.6 604.3 94.1 604.7 92.5 605.0 91.0 605.4 89.5 605.7 88.1 606.1 86.4 606.4 84.7 606.7 82.8 607.1 80.9 607.4 79.0 607.8 77.1 608.1 75.4 608.5 73.8 608.8 72.4 609.2 71.3 609.5 70.5 609.9 70.0 610.2 69.9 610.6 70.3 610.9 71.0 611.3 72.1 611.6 73.5 611.9 75.1 612.3 76.8 612.6 78.7 613.0 80.7 613.3 82.6 613.7 84.5 614.0 86.4 614.4 88.0 614.7 89.6 615.1 91.1 615.4 92.7 615.8 94.3 616.1 95.9 616.5 97.5 616.8 99.1 617.1 100.7 617.5 102.3 617.8 103.8 618.2 105.2 618.5 106.6 618.9 107.9 619.2 109.1 619.6 110.4 619.9 111.6 620.3 112.8 620.6 114.0 621.0 115.1 621.3 116.2 621.7 117.2 622.0 118.2 622.3 119.2 622.7 120.1 623.0 120.9 623.4 121.7 623.7 122.6 624.1 123.4 624.4 124.2 624.8 124.9 625.1 125.7 625.5 126.4 625.8 127.0 626.2 127.7 626.5 128.2 626.9 128.8 627.2 129.2 627.5 129.6 627.9 130.0 628.2 130.3 628.6 130.6 628.9 130.9 629.3 131.2 629.6 131.5 630.0 131.7 630.3 132.0 630.7 132.3 631.0 132.5 631.4 132.7 631.7 133.0 632.0 133.2 632.4 133.4 632.7 133.6 633.1 133.7 633.4 133.9 633.8 134.0 634.1 134.1 634.5 134.3 634.8 134.3 635.2 134.4 635.5 134.5 635.9 134.5 636.2 134.5 636.6 134.5 636.9 134.6 637.2 134.6 637.6 134.6 637.9 134.6 638.3 134.6 638.6 134.6 639.0 134.6 639.3 134.7 639.7 134.7 640.0 134.7 640.4 134.7 640.7 134.7 641.1 134.7 641.4 134.7 641.8 134.7 642.1 134.7 642.4 134.7 642.8 134.8 643.1 134.8 643.5 134.8 643.8 134.8 644.2 134.8 644.5 134.8 644.9 134.8 645.2 134.8 645.6 134.8 645.9 134.8 646.3 134.8 646.6 134.8 647.0 134.8 647.3 134.8 647.6 134.8 648.0 134.9 648.3 134.9 648.7 134.9 649.0 134.9 649.4 134.9 649.7 134.9 650.1 134.9 650.4 134.9 650.8 134.9 651.1 134.9 651.5 134.9 651.8 134.9 652.2 134.9 652.5 134.9" fill="none" stroke="#10a9ea" stroke-width="0.5" stroke-opacity="0.25"/>
<path d="M514.2 134.9 514.5 134.9 514.9 134.9 515.2 134.9 515.6 134.9 515.9 134.9 516.3 134.9 516.6 134.9 517.0 134.9 517.3 134.9 517.7 134.9 518.0 134.9 518.4 134.9 518.7 134.9 519.1 134.9 519.4 134.9 519.7 134.9 520.1 134.9 520.4 134.9 520.8 134.9 521.1 134.9 521.5 134.9 521.8 134.9 522.2 134.9 522.5 134.9 522.9 134.9 523.2 134.9 523.6 134.9 523.9 134.9 524.3 134.9 524.6 134.9 524.9 134.9 525.3 134.9 525.6 134.9 526.0 134.9 526.3 134.9 526.7 134.9 527.0 134.9 527.4 134.9 527.7 134.9 528.1 134.9 528.4 134.9 528.8 134.9 529.1 134.9 529.5 134.9 529.8 134.9 530.1 134.9 530.5 134.9 530.8 134.9 531.2 134.9 531.5 134.9 531.9 134.9 532.2 134.9 532.6 134.9 532.9 134.9 533.3 134.9 533.6 134.9 534.0 134.8 534.3 134.8 534.7 134.8 535.0 134.8 535.3 134.8 535.7 134.8 536.0 134.8 536.4 134.8 536.7 134.8 537.1 134.8 537.4 134.8 537.8 134.8 538.1 134.8 538.5 134.8 538.8 134.8 539.2 134.8 539.5 134.8 539.8 134.8 540.2 134.8 540.5 134.8 540.9 134.8 541.2 134.8 541.6 134.8 541.9 134.8 542.3 134.8 542.6 134.8 543.0 134.7 543.3 134.7 543.7 134.7 544.0 134.7 544.4 134.7 544.7 134.7 545.0 134.7 545.4 134.7 545.7 134.7 546.1 134.7 546.4 134.7 546.8 134.7 547.1 134.7 547.5 134.7 547.8 134.7 548.2 134.7 548.5 134.7 548.9 134.6 549.2 134.6 549.6 134.6 549.9 134.6 550.2 134.6 550.6 134.6 550.9 134.6 551.3 134.6 551.6 134.6 552.0 134.6 552.3 134.6 552.7 134.6 553.0 134.6 553.4 134.5 553.7 134.5 554.1 134.5 554.4 134.5 554.8 134.5 555.1 134.5 555.4 134.5 555.8 134.5 556.1 134.5 556.5 134.5 556.8 134.5 557.2 134.5 557.5 134.4 557.9 134.4 558.2 134.4 558.6 134.4 558.9 134.4 559.3 134.4 559.6 134.4 560.0 134.4 560.3 134.4 560.6 134.3 561.0 134.3 561.3 134.3 561.7 134.3 562.0 134.3 562.4 134.3 562.7 134.3 563.1 134.3 563.4 134.3 563.8 134.2 564.1 134.2 564.5 134.2 564.8 134.2 565.2 134.2 565.5 134.2 565.8 134.2 566.2 134.2 566.5 134.1 566.9 134.1 567.2 134.1 567.6 134.1 567.9 134.1 568.3 134.1 568.6 134.1 569.0 134.0 569.3 134.0 569.7 134.0 570.0 134.0 570.4 134.0 570.7 134.0 571.0 134.0 571.4 133.9 571.7 133.9 572.1 133.9 572.4 133.9 572.8 133.9 573.1 133.9 573.5 133.9 573.8 133.8 574.2 133.8 574.5 133.8 574.9 133.8 575.2 133.8 575.6 133.8 575.9 133.7 576.2 133.7 576.6 133.7 576.9 133.7 577.3 133.7 577.6 133.6 578.0 133.6 578.3 133.6 578.7 133.6 579.0 133.6 579.4 133.6 579.7 133.5 580.1 133.5 580.4 133.5 580.8 133.4 581.1 133.4 581.4 133.3 581.8 133.3 582.1 133.2 582.5 133.1 582.8 133.0 583.2 132.9 583.5 132.8 583.9 132.7 584.2 132.6 584.6 132.4 584.9 132.3 585.3 132.2 585.6 132.0 585.9 131.9 586.3 131.7 586.6 131.6 587.0 131.4 587.3 131.2 587.7 131.0 588.0 130.9 588.4 130.7 588.7 130.5 589.1 130.3 589.4 130.1 589.8 129.8 590.1 129.5 590.5 129.2 590.8 128.9 591.1 128.5 591.5 128.1 591.8 127.7 592.2 127.3 592.5 126.9 592.9 126.4 593.2 126.0 593.6 125.5 593.9 125.1 594.3 124.6 594.6 124.2 595.0 123.8 595.3 123.3 595.7 122.8 596.0 122.4 596.3 121.9 596.7 121.4 597.0 120.9 597.4 120.4 597.7 119.8 598.1 119.3 598.4 118.7 598.8 118.2 599.1 117.6 599.5 117.0 599.8 116.5 600.2 115.9 600.5 115.3 600.9 114.6 601.2 114.0 601.5 113.3 601.9 112.6 602.2 111.9 602.6 111.2 602.9 110.5 603.3 109.7 603.6 109.0 604.0 108.2 604.3 107.5 604.7 106.7 605.0 106.0 605.4 105.3 605.7 104.5 606.1 103.8 606.4 103.1 606.7 102.3 607.1 101.5 607.4 100.6 607.8 99.7 608.1 98.8 608.5 97.9 608.8 96.9 609.2 96.0 609.5 95.2 609.9 94.3 610.2 93.6 610.6 92.8 610.9 92.2 611.3 91.7 611.6 91.3 611.9 90.9 612.3 90.7 612.6 90.7 613.0 90.8 613.3 91.1 613.7 91.4 614.0 91.9 614.4 92.5 614.7 93.2 615.1 94.0 615.4 94.8 615.8 95.7 616.1 96.6 616.5 97.6 616.8 98.5 617.1 99.5 617.5 100.4 617.8 101.3 618.2 102.2 618.5 103.0 618.9 103.7 619.2 104.5 619.6 105.2 619.9 106.0 620.3 106.8 620.6 107.6 621.0 108.3 621.3 109.1 621.7 109.9 622.0 110.7 622.3 111.5 622.7 112.2 623.0 113.0 623.4 113.7 623.7 114.4 624.1 115.1 624.4 115.7 624.8 116.4 625.1 117.0 625.5 117.6 625.8 118.2 626.2 118.8 626.5 119.4 626.9 120.0 627.2 120.5 627.5 121.1 627.9 121.6 628.2 122.1 628.6 122.7 628.9 123.2 629.3 123.6 629.6 124.1 630.0 124.5 630.3 125.0 630.7 125.4 631.0 125.8 631.4 126.2 631.7 126.6 632.0 127.0 632.4 127.3 632.7 127.7 633.1 128.1 633.4 128.5 633.8 128.8 634.1 129.1 634.5 129.5 634.8 129.8 635.2 130.1 635.5 130.4 635.9 130.6 636.2 130.9 636.6 131.1 636.9 131.3 637.2 131.4 637.6 131.6 637.9 131.7 638.3 131.9 638.6 132.0 639.0 132.2 639.3 132.3 639.7 132.5 640.0 132.6 640.4 132.7 640.7 132.9 641.1 133.0 641.4 133.1 641.8 133.2 642.1 133.4 642.4 133.5 642.8 133.6 643.1 133.7 643.5 133.8 643.8 133.9 644.2 134.0 644.5 134.0 644.9 134.1 645.2 134.2 645.6 134.3 645.9 134.3 646.3 134.4 646.6 134.5 647.0 134.5 647.3 134.5 647.6 134.6 648.0 134.6 648.3 134.6 648.7 134.6 649.0 134.6 649.4 134.7 649.7 134.7 650.1 134.7 650.4 134.7 650.8 134.7 651.1 134.7 651.5 134.7 651.8 134.7 652.2 134.7 652.5 134.7" fill="none" stroke="#10a9ea" stroke-width="0.5" stroke-opacity="0.25"/>
<path d="M514.2 134.9 514.5 134.9 514.9 134.9 515.2 134.9 515.6 134.9 515.9 134.9 516.3 134.9 516.6 134.9 517.0 134.9 517.3 134.9 517.7 134.9 518.0 134.9 518.4 134.9 518.7 134.9 519.1 134.9 519.4 134.9 519.7 134.9 520.1 134.9 520.4 134.9 520.8 134.9 521.1 134.9 521.5 134.9 521.8 134.9 522.2 134.9 522.5 134.9 522.9 134.9 523.2 134.9 523.6 134.9 523.9 134.9 524.3 134.9 524.6 134.9 524.9 134.9 525.3 134.9 525.6 134.9 526.0 134.9 526.3 134.9 526.7 134.9 527.0 134.9 527.4 134.9 527.7 134.9 528.1 134.9 528.4 134.9 528.8 134.9 529.1 134.9 529.5 134.9 529.8 134.9 530.1 134.9 530.5 134.9 530.8 134.9 531.2 134.9 531.5 134.9 531.9 134.9 532.2 134.9 532.6 134.9 532.9 134.9 533.3 134.9 533.6 134.9 534.0 134.9 534.3 134.9 534.7 134.9 535.0 134.9 535.3 134.9 535.7 134.9 536.0 134.9 536.4 134.9 536.7 134.9 537.1 134.9 537.4 134.9 537.8 134.9 538.1 134.9 538.5 134.9 538.8 134.9 539.2 134.9 539.5 134.9 539.8 134.9 540.2 134.9 540.5 134.9 540.9 134.9 541.2 134.9 541.6 134.9 541.9 134.9 542.3 134.9 542.6 134.9 543.0 134.9 543.3 134.9 543.7 134.9 544.0 134.9 544.4 134.9 544.7 134.9 545.0 134.9 545.4 134.9 545.7 134.9 546.1 134.9 546.4 134.9 546.8 134.9 547.1 134.9 547.5 134.9 547.8 134.9 548.2 134.9 548.5 134.9 548.9 134.9 549.2 134.9 549.6 134.9 549.9 134.9 550.2 134.9 550.6 134.9 550.9 134.9 551.3 134.9 551.6 134.9 552.0 134.9 552.3 134.9 552.7 134.9 553.0 134.9 553.4 134.9 553.7 134.9 554.1 134.9 554.4 134.9 554.8 134.9 555.1 134.9 555.4 134.9 555.8 134.9 556.1 134.9 556.5 134.9 556.8 134.9 557.2 134.8 557.5 134.8 557.9 134.8 558.2 134.8 558.6 134.8 558.9 134.8 559.3 134.8 559.6 134.8 560.0 134.8 560.3 134.8 560.6 134.8 561.0 134.8 561.3 134.8 561.7 134.8 562.0 134.7 562.4 134.7 562.7 134.7 563.1 134.7 563.4 134.7 563.8 134.7 564.1 134.7 564.5 134.7 564.8 134.7 565.2 134.7 565.5 134.6 565.8 134.6 566.2 134.6 566.5 134.6 566.9 134.6 567.2 134.6 567.6 134.6 567.9 134.6 568.3 134.5 568.6 134.5 569.0 134.5 569.3 134.5 569.7 134.5 570.0 134.5 570.4 134.4 570.7 134.4 571.0 134.4 571.4 134.4 571.7 134.4 572.1 134.4 572.4 134.3 572.8 134.3 573.1 134.3 573.5 134.3 573.8 134.3 574.2 134.2 574.5 134.2 574.9 134.2 575.2 134.2 575.6 134.2 575.9 134.1 576.2 134.1 576.6 134.1 576.9 134.1 577.3 134.0 577.6 134.0 578.0 134.0 578.3 134.0 578.7 133.9 579.0 133.9 579.4 133.9 579.7 133.9 580.1 133.8 580.4 133.8 580.8 133.8 581.1 133.7 581.4 133.7 581.8 133.7 582.1 133.7 582.5 133.6 582.8 133.6 583.2 133.6 583.5 133.5 583.9 133.5 584.2 133.5 584.6 133.4 584.9 133.4 585.3 133.4 585.6 133.3 585.9 133.3 586.3 133.2 586.6 133.2 587.0 133.2 587.3 133.1 587.7 133.1 588.0 133.0 588.4 132.9 588.7 132.7 589.1 132.6 589.4 132.4 589.8 132.2 590.1 132.0 590.5 131.7 590.8 131.4 591.1 131.1 591.5 130.8 591.8 130.5 592.2 130.2 592.5 129.8 592.9 129.5 593.2 129.1 593.6 128.7 593.9 128.1 594.3 127.5 594.6 126.8 595.0 126.0 595.3 125.2 595.7 124.3 596.0 123.4 596.3 122.5 596.7 121.6 597.0 120.7 597.4 119.8 597.7 118.9 598.1 117.9 598.4 116.9 598.8 115.8 599.1 114.8 599.5 113.6 599.8 112.5 600.2 111.3 600.5 110.2 600.9 108.9 601.2 107.6 601.5 106.3 601.9 104.8 602.2 103.4 602.6 101.9 602.9 100.4 603.3 98.9 603.6 97.3 604.0 95.9 604.3 94.4 604.7 92.9 605.0 91.2 605.4 89.4 605.7 87.6 606.1 85.7 606.4 83.9 606.7 82.2 607.1 80.7 607.4 79.5 607.8 78.5 608.1 77.9 608.5 77.7 608.8 78.0 609.2 78.7 609.5 79.8 609.9 81.1 610.2 82.7 610.6 84.5 610.9 86.4 611.3 88.3 611.6 90.2 611.9 92.0 612.3 93.6 612.6 95.1 613.0 96.7 613.3 98.2 613.7 99.8 614.0 101.4 614.4 102.9 614.7 104.5 615.1 106.0 615.4 107.5 615.8 108.9 616.1 110.2 616.5 111.5 616.8 112.7 617.1 113.9 617.5 115.1 617.8 116.2 618.2 117.4 618.5 118.4 618.9 119.4 619.2 120.4 619.6 121.3 619.9 122.2 620.3 123.0 620.6 123.8 621.0 124.6 621.3 125.4 621.7 126.1 622.0 126.8 622.3 127.5 622.7 128.2 623.0 128.8 623.4 129.3 623.7 129.8 624.1 130.2 624.4 130.5 624.8 130.8 625.1 131.1 625.5 131.4 625.8 131.7 626.2 132.0 626.5 132.2 626.9 132.5 627.2 132.7 627.5 133.0 627.9 133.2 628.2 133.4 628.6 133.6 628.9 133.8 629.3 133.9 629.6 134.1 630.0 134.2 630.3 134.3 630.7 134.4 631.0 134.5 631.4 134.5 631.7 134.6 632.0 134.6 632.4 134.6 632.7 134.6 633.1 134.6 633.4 134.6 633.8 134.6 634.1 134.7 634.5 134.7 634.8 134.7 635.2 134.7 635.5 134.7 635.9 134.7 636.2 134.7 636.6 134.7 636.9 134.7 637.2 134.8 637.6 134.8 637.9 134.8 638.3 134.8 638.6 134.8 639.0 134.8 639.3 134.8 639.7 134.8 640.0 134.8 640.4 134.8 640.7 134.8 641.1 134.8 641.4 134.8 641.8 134.8 642.1 134.9 642.4 134.9 642.8 134.9 643.1 134.9 643.5 134.9 643.8 134.9 644.2 134.9 644.5 134.9 644.9 134.9 645.2 134.9 645.6 134.9 645.9 134.9 646.3 134.9 646.6 134.9 647.0 134.9 647.3 134.9 647.6 134.9 648.0 134.9 648.3 134.9 648.7 134.9 649.0 134.9 649.4 134.9 649.7 134.9 650.1 134.9 650.4 134.9 650.8 134.9 651.1 134.9 651.5 134.9 651.8 134.9 652.2 134.9 652.5 134.9" fill="none" stroke="#10a9ea" stroke-width="0.5" stroke-opacity="0.2"/>
<path d="M514.2 134.9 514.5 134.9 514.9 134.9 515.2 134.9 515.6 134.9 515.9 134.9 516.3 134.9 516.6 134.9 517.0 134.9 517.3 134.9 517.7 134.9 518.0 134.9 518.4 134.9 518.7 134.9 519.1 134.9 519.4 134.9 519.7 134.9 520.1 134.9 520.4 134.9 520.8 134.9 521.1 134.9 521.5 134.9 521.8 134.9 522.2 134.9 522.5 134.9 522.9 134.9 523.2 134.9 523.6 134.9 523.9 134.9 524.3 134.9 524.6 134.9 524.9 134.9 525.3 134.8 525.6 134.8 526.0 134.8 526.3 134.8 526.7 134.8 527.0 134.8 527.4 134.8 527.7 134.8 528.1 134.8 528.4 134.8 528.8 134.8 529.1 134.8 529.5 134.8 529.8 134.8 530.1 134.8 530.5 134.8 530.8 134.8 531.2 134.8 531.5 134.8 531.9 134.8 532.2 134.8 532.6 134.8 532.9 134.8 533.3 134.8 533.6 134.8 534.0 134.8 534.3 134.8 534.7 134.8 535.0 134.8 535.3 134.8 535.7 134.8 536.0 134.8 536.4 134.7 536.7 134.7 537.1 134.7 537.4 134.7 537.8 134.7 538.1 134.7 538.5 134.7 538.8 134.7 539.2 134.7 539.5 134.7 539.8 134.7 540.2 134.7 540.5 134.7 540.9 134.7 541.2 134.7 541.6 134.7 541.9 134.7 542.3 134.7 542.6 134.7 543.0 134.7 543.3 134.6 543.7 134.6 544.0 134.6 544.4 134.6 544.7 134.6 545.0 134.6 545.4 134.6 545.7 134.6 546.1 134.6 546.4 134.6 546.8 134.6 547.1 134.6 547.5 134.6 547.8 134.6 548.2 134.6 548.5 134.6 548.9 134.5 549.2 134.5 549.6 134.5 549.9 134.5 550.2 134.5 550.6 134.5 550.9 134.5 551.3 134.5 551.6 134.5 552.0 134.5 552.3 134.5 552.7 134.5 553.0 134.5 553.4 134.4 553.7 134.4 554.1 134.4 554.4 134.4 554.8 134.4 555.1 134.4 555.4 134.4 555.8 134.4 556.1 134.4 556.5 134.4 556.8 134.4 557.2 134.4 557.5 134.3 557.9 134.3 558.2 134.3 558.6 134.3 558.9 134.3 559.3 134.3 559.6 134.3 560.0 134.3 560.3 134.3 560.6 134.3 561.0 134.3 561.3 134.2 561.7 134.2 562.0 134.2 562.4 134.2 562.7 134.2 563.1 134.2 563.4 134.2 563.8 134.2 564.1 134.2 564.5 134.1 564.8 134.1 565.2 134.1 565.5 134.1 565.8 134.1 566.2 134.1 566.5 134.1 566.9 134.1 567.2 134.1 567.6 134.0 567.9 134.0 568.3 134.0 568.6 134.0 569.0 134.0 569.3 134.0 569.7 134.0 570.0 134.0 570.4 133.9 570.7 133.9 571.0 133.9 571.4 133.9 571.7 133.9 572.1 133.9 572.4 133.9 572.8 133.9 573.1 133.8 573.5 133.8 573.8 133.8 574.2 133.8 574.5 133.8 574.9 133.8 575.2 133.8 575.6 133.7 575.9 133.7 576.2 133.7 576.6 133.7 576.9 133.7 577.3 133.7 577.6 133.6 578.0 133.6 578.3 133.6 578.7 133.5 579.0 133.5 579.4 133.4 579.7 133.3 580.1 133.3 580.4 133.2 580.8 133.1 581.1 133.0 581.4 132.9 581.8 132.8 582.1 132.7 582.5 132.6 582.8 132.5 583.2 132.4 583.5 132.3 583.9 132.2 584.2 132.1 584.6 132.0 584.9 131.8 585.3 131.7 585.6 131.6 585.9 131.4 586.3 131.3 586.6 131.2 587.0 131.0 587.3 130.9 587.7 130.7 588.0 130.5 588.4 130.3 588.7 130.1 589.1 129.8 589.4 129.5 589.8 129.3 590.1 129.0 590.5 128.6 590.8 128.3 591.1 128.0 591.5 127.7 591.8 127.3 592.2 127.0 592.5 126.6 592.9 126.3 593.2 125.9 593.6 125.6 593.9 125.2 594.3 124.9 594.6 124.5 595.0 124.2 595.3 123.8 595.7 123.4 596.0 123.1 596.3 122.7 596.7 122.3 597.0 121.9 597.4 121.5 597.7 121.0 598.1 120.6 598.4 120.2 598.8 119.7 599.1 119.3 599.5 118.9 599.8 118.4 600.2 117.9 600.5 117.5 600.9 117.0 601.2 116.5 601.5 116.0 601.9 115.4 602.2 114.9 602.6 114.4 602.9 113.8 603.3 113.2 603.6 112.7 604.0 112.1 604.3 111.5 604.7 110.9 605.0 110.3 605.4 109.8 605.7 109.2 606.1 108.6 606.4 108.1 606.7 107.5 607.1 107.0 607.4 106.4 607.8 105.7 608.1 105.1 608.5 104.4 608.8 103.7 609.2 103.0 609.5 102.3 609.9 101.6 610.2 100.9 610.6 100.2 610.9 99.5 611.3 98.9 611.6 98.3 611.9 97.8 612.3 97.3 612.6 96.8 613.0 96.5 613.3 96.2 613.7 96.0 614.0 95.9 614.4 95.9 614.7 96.0 615.1 96.2 615.4 96.5 615.8 96.8 616.1 97.3 616.5 97.8 616.8 98.3 617.1 98.9 617.5 99.6 617.8 100.3 618.2 101.0 618.5 101.7 618.9 102.4 619.2 103.2 619.6 103.9 619.9 104.6 620.3 105.3 620.6 106.0 621.0 106.6 621.3 107.2 621.7 107.8 622.0 108.4 622.3 108.9 622.7 109.5 623.0 110.1 623.4 110.7 623.7 111.3 624.1 111.9 624.4 112.6 624.8 113.2 625.1 113.8 625.5 114.3 625.8 114.9 626.2 115.5 626.5 116.1 626.9 116.6 627.2 117.1 627.5 117.7 627.9 118.2 628.2 118.6 628.6 119.1 628.9 119.6 629.3 120.1 629.6 120.5 630.0 121.0 630.3 121.4 630.7 121.9 631.0 122.3 631.4 122.7 631.7 123.2 632.0 123.6 632.4 124.0 632.7 124.4 633.1 124.7 633.4 125.1 633.8 125.4 634.1 125.8 634.5 126.1 634.8 126.4 635.2 126.7 635.5 127.0 635.9 127.4 636.2 127.7 636.6 128.0 636.9 128.3 637.2 128.6 637.6 128.8 637.9 129.1 638.3 129.4 638.6 129.7 639.0 129.9 639.3 130.2 639.7 130.4 640.0 130.6 640.4 130.8 640.7 131.0 641.1 131.2 641.4 131.4 641.8 131.6 642.1 131.7 642.4 131.9 642.8 132.0 643.1 132.1 643.5 132.2 643.8 132.3 644.2 132.4 644.5 132.5 644.9 132.7 645.2 132.8 645.6 132.9 645.9 133.0 646.3 133.1 646.6 133.2 647.0 133.3 647.3 133.4 647.6 133.5 648.0 133.5 648.3 133.6 648.7 133.7 649.0 133.8 649.4 133.9 649.7 133.9 650.1 134.0 650.4 134.1 650.8 134.2 651.1 134.2 651.5 134.3 651.8 134.3 652.2 134.4 652.5 134.4" fill="none" stroke="#10a9ea" stroke-width="0.5" stroke-opacity="0.2"/>
<path d="M514.20 134.90 L514.55 134.90 L514.89 134.90 L515.24 134.90 L515.59 134.90 L515.93 134.90 L516.28 134.90 L516.63 134.90 L516.97 134.90 L517.32 134.90 L517.67 134.90 L518.01 134.90 L518.36 134.90 L518.71 134.90 L519.05 134.90 L519.40 134.90 L519.75 134.90 L520.09 134.90 L520.44 134.90 L520.79 134.90 L521.13 134.90 L521.48 134.90 L521.83 134.90 L522.17 134.90 L522.52 134.90 L522.87 134.90 L523.21 134.90 L523.56 134.90 L523.91 134.90 L524.25 134.90 L524.60 134.90 L524.95 134.90 L525.29 134.90 L525.64 134.90 L525.98 134.90 L526.33 134.90 L526.68 134.90 L527.02 134.90 L527.37 134.90 L527.72 134.90 L528.06 134.90 L528.41 134.90 L528.76 134.90 L529.10 134.90 L529.45 134.90 L529.80 134.90 L530.14 134.90 L530.49 134.90 L530.84 134.90 L531.18 134.90 L531.53 134.90 L531.88 134.90 L532.22 134.90 L532.57 134.90 L532.92 134.90 L533.26 134.90 L533.61 134.90 L533.96 134.90 L534.30 134.90 L534.65 134.90 L535.00 134.90 L535.34 134.90 L535.69 134.90 L536.04 134.90 L536.38 134.90 L536.73 134.90 L537.08 134.90 L537.42 134.90 L537.77 134.90 L538.12 134.90 L538.46 134.90 L538.81 134.90 L539.16 134.90 L539.50 134.90 L539.85 134.90 L540.20 134.90 L540.54 134.90 L540.89 134.90 L541.24 134.90 L541.58 134.90 L541.93 134.90 L542.28 134.90 L542.62 134.90 L542.97 134.90 L543.32 134.90 L543.66 134.90 L544.01 134.90 L544.36 134.90 L544.70 134.90 L545.05 134.90 L545.40 134.90 L545.74 134.90 L546.09 134.90 L546.44 134.90 L546.78 134.89 L547.13 134.89 L547.48 134.89 L547.82 134.89 L548.17 134.89 L548.52 134.88 L548.86 134.88 L549.21 134.88 L549.55 134.87 L549.90 134.87 L550.25 134.87 L550.59 134.86 L550.94 134.86 L551.29 134.85 L551.63 134.85 L551.98 134.84 L552.33 134.84 L552.67 134.83 L553.02 134.82 L553.37 134.82 L553.71 134.81 L554.06 134.80 L554.41 134.80 L554.75 134.79 L555.10 134.78 L555.45 134.77 L555.79 134.76 L556.14 134.75 L556.49 134.74 L556.83 134.74 L557.18 134.73 L557.53 134.72 L557.87 134.70 L558.22 134.69 L558.57 134.68 L558.91 134.67 L559.26 134.66 L559.61 134.65 L559.95 134.63 L560.30 134.62 L560.65 134.61 L560.99 134.60 L561.34 134.58 L561.69 134.57 L562.03 134.55 L562.38 134.54 L562.73 134.52 L563.07 134.51 L563.42 134.49 L563.77 134.47 L564.11 134.46 L564.46 134.44 L564.81 134.42 L565.15 134.40 L565.50 134.38 L565.85 134.37 L566.19 134.35 L566.54 134.33 L566.89 134.31 L567.23 134.29 L567.58 134.27 L567.93 134.24 L568.27 134.22 L568.62 134.20 L568.97 134.18 L569.31 134.16 L569.66 134.13 L570.01 134.11 L570.35 134.08 L570.70 134.06 L571.05 134.03 L571.39 134.01 L571.74 133.98 L572.08 133.96 L572.43 133.93 L572.78 133.90 L573.12 133.87 L573.47 133.85 L573.82 133.82 L574.16 133.79 L574.51 133.76 L574.86 133.73 L575.20 133.70 L575.55 133.67 L575.90 133.63 L576.24 133.60 L576.59 133.57 L576.94 133.54 L577.28 133.50 L577.63 133.47 L577.98 133.43 L578.32 133.40 L578.67 133.36 L579.02 133.33 L579.36 133.29 L579.71 133.25 L580.06 133.22 L580.40 133.18 L580.75 133.14 L581.10 133.10 L581.44 133.06 L581.79 133.02 L582.14 132.98 L582.48 132.94 L582.83 132.89 L583.18 132.85 L583.52 132.81 L583.87 132.77 L584.22 132.72 L584.56 132.68 L584.91 132.63 L585.26 132.59 L585.60 132.54 L585.95 132.49 L586.30 132.44 L586.64 132.40 L586.99 132.33 L587.34 132.23 L587.68 132.09 L588.03 131.93 L588.38 131.73 L588.72 131.51 L589.07 131.26 L589.42 130.99 L589.76 130.70 L590.11 130.38 L590.46 130.05 L590.80 129.70 L591.15 129.33 L591.50 128.95 L591.84 128.55 L592.19 128.15 L592.54 127.73 L592.88 127.31 L593.23 126.87 L593.58 126.39 L593.92 125.84 L594.27 125.21 L594.62 124.52 L594.96 123.78 L595.31 122.99 L595.65 122.17 L596.00 121.31 L596.35 120.43 L596.69 119.54 L597.04 118.64 L597.39 117.74 L597.73 116.82 L598.08 115.85 L598.43 114.84 L598.77 113.79 L599.12 112.71 L599.47 111.61 L599.81 110.47 L600.16 109.32 L600.51 108.15 L600.85 106.96 L601.20 105.76 L601.55 104.55 L601.89 103.32 L602.24 102.05 L602.59 100.75 L602.93 99.42 L603.28 98.08 L603.63 96.71 L603.97 95.33 L604.32 93.94 L604.67 92.54 L605.01 91.14 L605.36 89.74 L605.71 88.32 L606.05 86.73 L606.40 84.98 L606.75 83.11 L607.09 81.19 L607.44 79.25 L607.79 77.37 L608.13 75.58 L608.48 73.95 L608.83 72.52 L609.17 71.35 L609.52 70.49 L609.87 70.00 L610.21 69.93 L610.56 70.32 L610.91 71.15 L611.25 72.34 L611.60 73.84 L611.95 75.57 L612.29 77.49 L612.64 79.52 L612.99 81.61 L613.33 83.70 L613.68 85.72 L614.03 87.60 L614.37 89.30 L614.72 90.79 L615.07 92.27 L615.41 93.73 L615.76 95.19 L616.11 96.63 L616.45 98.06 L616.80 99.47 L617.15 100.85 L617.49 102.21 L617.84 103.55 L618.18 104.85 L618.53 106.11 L618.88 107.35 L619.22 108.57 L619.57 109.78 L619.92 110.98 L620.26 112.16 L620.61 113.32 L620.96 114.45 L621.30 115.54 L621.65 116.60 L622.00 117.60 L622.34 118.56 L622.69 119.46 L623.04 120.30 L623.38 121.13 L623.73 121.95 L624.08 122.76 L624.42 123.56 L624.77 124.33 L625.12 125.07 L625.46 125.78 L625.81 126.46 L626.16 127.09 L626.50 127.68 L626.85 128.22 L627.20 128.70 L627.54 129.12 L627.89 129.47 L628.24 129.80 L628.58 130.13 L628.93 130.45 L629.28 130.76 L629.62 131.06 L629.97 131.36 L630.32 131.64 L630.66 131.92 L631.01 132.18 L631.36 132.44 L631.70 132.68 L632.05 132.91 L632.40 133.12 L632.74 133.33 L633.09 133.51 L633.44 133.68 L633.78 133.84 L634.13 133.98 L634.48 134.10 L634.82 134.20 L635.17 134.28 L635.52 134.34 L635.86 134.39 L636.21 134.41 L636.56 134.43 L636.90 134.45 L637.25 134.46 L637.60 134.48 L637.94 134.50 L638.29 134.52 L638.64 134.53 L638.98 134.55 L639.33 134.57 L639.68 134.58 L640.02 134.60 L640.37 134.61 L640.72 134.62 L641.06 134.64 L641.41 134.65 L641.75 134.66 L642.10 134.68 L642.45 134.69 L642.79 134.70 L643.14 134.71 L643.49 134.72 L643.83 134.73 L644.18 134.74 L644.53 134.75 L644.87 134.76 L645.22 134.77 L645.57 134.78 L645.91 134.79 L646.26 134.80 L646.61 134.81 L646.95 134.81 L647.30 134.82 L647.65 134.83 L647.99 134.84 L648.34 134.84 L648.69 134.85 L649.03 134.85 L649.38 134.86 L649.73 134.86 L650.07 134.87 L650.42 134.87 L650.77 134.88 L651.11 134.88 L651.46 134.88 L651.81 134.89 L652.15 134.89 L652.50 134.89 L652.50 134.90 L652.15 134.90 L651.81 134.90 L651.46 134.90 L651.11 134.90 L650.77 134.90 L650.42 134.89 L650.07 134.89 L649.73 134.89 L649.38 134.89 L649.03 134.89 L648.69 134.89 L648.34 134.89 L647.99 134.89 L647.65 134.89 L647.30 134.89 L646.95 134.88 L646.61 134.88 L646.26 134.88 L645.91 134.88 L645.57 134.88 L645.22 134.88 L644.87 134.87 L644.53 134.87 L644.18 134.87 L643.83 134.87 L643.49 134.87 L643.14 134.86 L642.79 134.86 L642.45 134.86 L642.10 134.86 L641.75 134.85 L641.41 134.85 L641.06 134.85 L640.72 134.85 L640.37 134.84 L640.02 134.84 L639.68 134.84 L639.33 134.83 L638.98 134.83 L638.64 134.83 L638.29 134.82 L637.94 134.82 L637.60 134.82 L637.25 134.81 L636.90 134.81 L636.56 134.81 L636.21 134.80 L635.86 134.80 L635.52 134.78 L635.17 134.76 L634.82 134.72 L634.48 134.68 L634.13 134.62 L633.78 134.56 L633.44 134.49 L633.09 134.41 L632.74 134.32 L632.40 134.23 L632.05 134.12 L631.70 134.01 L631.36 133.90 L631.01 133.77 L630.66 133.65 L630.32 133.51 L629.97 133.37 L629.62 133.23 L629.28 133.08 L628.93 132.92 L628.58 132.76 L628.24 132.60 L627.89 132.44 L627.54 132.25 L627.20 132.03 L626.85 131.77 L626.50 131.46 L626.16 131.13 L625.81 130.77 L625.46 130.37 L625.12 129.96 L624.77 129.52 L624.42 129.07 L624.08 128.60 L623.73 128.12 L623.38 127.63 L623.04 127.14 L622.69 126.64 L622.34 126.11 L622.00 125.55 L621.65 124.95 L621.30 124.33 L620.96 123.67 L620.61 122.99 L620.26 122.28 L619.92 121.55 L619.57 120.79 L619.22 120.00 L618.88 119.20 L618.53 118.36 L618.18 117.44 L617.84 116.44 L617.49 115.39 L617.15 114.29 L616.80 113.16 L616.45 112.01 L616.11 110.86 L615.76 109.72 L615.41 108.60 L615.07 107.52 L614.72 106.49 L614.37 105.52 L614.03 104.48 L613.68 103.37 L613.33 102.23 L612.99 101.07 L612.64 99.94 L612.29 98.85 L611.95 97.83 L611.60 96.93 L611.25 96.15 L610.91 95.54 L610.56 95.12 L610.21 94.91 L609.87 94.96 L609.52 95.26 L609.17 95.78 L608.83 96.50 L608.48 97.37 L608.13 98.38 L607.79 99.48 L607.44 100.66 L607.09 101.87 L606.75 103.10 L606.40 104.30 L606.05 105.44 L605.71 106.50 L605.36 107.49 L605.01 108.50 L604.67 109.54 L604.32 110.60 L603.97 111.68 L603.63 112.76 L603.28 113.83 L602.93 114.88 L602.59 115.90 L602.24 116.88 L601.89 117.80 L601.55 118.67 L601.20 119.47 L600.85 120.25 L600.51 121.02 L600.16 121.76 L599.81 122.48 L599.47 123.17 L599.12 123.85 L598.77 124.49 L598.43 125.11 L598.08 125.71 L597.73 126.27 L597.39 126.81 L597.04 127.33 L596.69 127.85 L596.35 128.37 L596.00 128.87 L595.65 129.36 L595.31 129.83 L594.96 130.28 L594.62 130.69 L594.27 131.06 L593.92 131.39 L593.58 131.67 L593.23 131.89 L592.88 132.08 L592.54 132.26 L592.19 132.43 L591.84 132.60 L591.50 132.77 L591.15 132.92 L590.80 133.07 L590.46 133.21 L590.11 133.34 L589.76 133.47 L589.42 133.58 L589.07 133.68 L588.72 133.78 L588.38 133.86 L588.03 133.93 L587.68 133.99 L587.34 134.04 L586.99 134.08 L586.64 134.10 L586.30 134.11 L585.95 134.13 L585.60 134.15 L585.26 134.16 L584.91 134.18 L584.56 134.19 L584.22 134.20 L583.87 134.22 L583.52 134.23 L583.18 134.25 L582.83 134.26 L582.48 134.27 L582.14 134.29 L581.79 134.30 L581.44 134.31 L581.10 134.33 L580.75 134.34 L580.40 134.35 L580.06 134.37 L579.71 134.38 L579.36 134.39 L579.02 134.40 L578.67 134.41 L578.32 134.42 L577.98 134.44 L577.63 134.45 L577.28 134.46 L576.94 134.47 L576.59 134.48 L576.24 134.49 L575.90 134.50 L575.55 134.51 L575.20 134.52 L574.86 134.53 L574.51 134.54 L574.16 134.55 L573.82 134.56 L573.47 134.57 L573.12 134.58 L572.78 134.59 L572.43 134.60 L572.08 134.60 L571.74 134.61 L571.39 134.62 L571.05 134.63 L570.70 134.64 L570.35 134.64 L570.01 134.65 L569.66 134.66 L569.31 134.67 L568.97 134.67 L568.62 134.68 L568.27 134.69 L567.93 134.70 L567.58 134.70 L567.23 134.71 L566.89 134.72 L566.54 134.72 L566.19 134.73 L565.85 134.73 L565.50 134.74 L565.15 134.75 L564.81 134.75 L564.46 134.76 L564.11 134.76 L563.77 134.77 L563.42 134.77 L563.07 134.78 L562.73 134.78 L562.38 134.79 L562.03 134.79 L561.69 134.80 L561.34 134.80 L560.99 134.81 L560.65 134.81 L560.30 134.81 L559.95 134.82 L559.61 134.82 L559.26 134.83 L558.91 134.83 L558.57 134.83 L558.22 134.84 L557.87 134.84 L557.53 134.84 L557.18 134.85 L556.83 134.85 L556.49 134.85 L556.14 134.86 L555.79 134.86 L555.45 134.86 L555.10 134.86 L554.75 134.87 L554.41 134.87 L554.06 134.87 L553.71 134.87 L553.37 134.87 L553.02 134.88 L552.67 134.88 L552.33 134.88 L551.98 134.88 L551.63 134.88 L551.29 134.89 L550.94 134.89 L550.59 134.89 L550.25 134.89 L549.90 134.89 L549.55 134.89 L549.21 134.89 L548.86 134.89 L548.52 134.89 L548.17 134.90 L547.82 134.90 L547.48 134.90 L547.13 134.90 L546.78 134.90 L546.44 134.90 L546.09 134.90 L545.74 134.90 L545.40 134.90 L545.05 134.90 L544.70 134.90 L544.36 134.90 L544.01 134.90 L543.66 134.90 L543.32 134.90 L542.97 134.90 L542.62 134.90 L542.28 134.90 L541.93 134.90 L541.58 134.90 L541.24 134.90 L540.89 134.90 L540.54 134.90 L540.20 134.90 L539.85 134.90 L539.50 134.90 L539.16 134.90 L538.81 134.90 L538.46 134.90 L538.12 134.90 L537.77 134.90 L537.42 134.90 L537.08 134.90 L536.73 134.90 L536.38 134.90 L536.04 134.90 L535.69 134.90 L535.34 134.90 L535.00 134.90 L534.65 134.90 L534.30 134.90 L533.96 134.90 L533.61 134.90 L533.26 134.90 L532.92 134.90 L532.57 134.90 L532.22 134.90 L531.88 134.90 L531.53 134.90 L531.18 134.90 L530.84 134.90 L530.49 134.90 L530.14 134.90 L529.80 134.90 L529.45 134.90 L529.10 134.90 L528.76 134.90 L528.41 134.90 L528.06 134.90 L527.72 134.90 L527.37 134.90 L527.02 134.90 L526.68 134.90 L526.33 134.90 L525.98 134.90 L525.64 134.90 L525.29 134.90 L524.95 134.90 L524.60 134.90 L524.25 134.90 L523.91 134.90 L523.56 134.90 L523.21 134.90 L522.87 134.90 L522.52 134.90 L522.17 134.90 L521.83 134.90 L521.48 134.90 L521.13 134.90 L520.79 134.90 L520.44 134.90 L520.09 134.90 L519.75 134.90 L519.40 134.90 L519.05 134.90 L518.71 134.90 L518.36 134.90 L518.01 134.90 L517.67 134.90 L517.32 134.90 L516.97 134.90 L516.63 134.90 L516.28 134.90 L515.93 134.90 L515.59 134.90 L515.24 134.90 L514.89 134.90 L514.55 134.90 L514.20 134.90 Z" fill="#10a9ea" fill-opacity="0.38"/>
<path d="M514.2 134.7 514.5 134.6 514.9 134.6 515.2 134.6 515.6 134.6 515.9 134.5 516.3 134.5 516.6 134.5 517.0 134.5 517.3 134.4 517.7 134.4 518.0 134.4 518.4 134.4 518.7 134.3 519.1 134.3 519.4 134.3 519.7 134.2 520.1 134.2 520.4 134.2 520.8 134.2 521.1 134.1 521.5 134.1 521.8 134.1 522.2 134.1 522.5 134.1 522.9 134.0 523.2 134.0 523.6 134.0 523.9 134.0 524.3 133.9 524.6 133.9 524.9 133.9 525.3 133.9 525.6 133.8 526.0 133.8 526.3 133.8 526.7 133.8 527.0 133.7 527.4 133.7 527.7 133.7 528.1 133.7 528.4 133.7 528.8 133.6 529.1 133.6 529.5 133.6 529.8 133.6 530.1 133.5 530.5 133.5 530.8 133.5 531.2 133.5 531.5 133.5 531.9 133.4 532.2 133.4 532.6 133.4 532.9 133.4 533.3 133.4 533.6 133.4 534.0 133.3 534.3 133.3 534.7 133.3 535.0 133.3 535.3 133.3 535.7 133.2 536.0 133.2 536.4 133.2 536.7 133.2 537.1 133.2 537.4 133.1 537.8 133.1 538.1 133.1 538.5 133.1 538.8 133.1 539.2 133.1 539.5 133.0 539.8 133.0 540.2 133.0 540.5 133.0 540.9 133.0 541.2 132.9 541.6 132.9 541.9 132.9 542.3 132.9 542.6 132.9 543.0 132.8 543.3 132.8 543.7 132.8 544.0 132.8 544.4 132.8 544.7 132.7 545.0 132.7 545.4 132.7 545.7 132.7 546.1 132.7 546.4 132.6 546.8 132.6 547.1 132.6 547.5 132.6 547.8 132.5 548.2 132.5 548.5 132.5 548.9 132.5 549.2 132.4 549.6 132.4 549.9 132.4 550.2 132.4 550.6 132.3 550.9 132.3 551.3 132.3 551.6 132.3 552.0 132.2 552.3 132.2 552.7 132.2 553.0 132.2 553.4 132.1 553.7 132.1 554.1 132.1 554.4 132.1 554.8 132.0 555.1 132.0 555.4 132.0 555.8 132.0 556.1 131.9 556.5 131.9 556.8 131.9 557.2 131.8 557.5 131.8 557.9 131.8 558.2 131.8 558.6 131.7 558.9 131.7 559.3 131.7 559.6 131.6 560.0 131.6 560.3 131.6 560.6 131.5 561.0 131.5 561.3 131.5 561.7 131.4 562.0 131.4 562.4 131.4 562.7 131.3 563.1 131.3 563.4 131.3 563.8 131.2 564.1 131.2 564.5 131.2 564.8 131.1 565.2 131.1 565.5 131.0 565.8 131.0 566.2 131.0 566.5 130.9 566.9 130.9 567.2 130.8 567.6 130.8 567.9 130.7 568.3 130.7 568.6 130.6 569.0 130.6 569.3 130.5 569.7 130.5 570.0 130.4 570.4 130.4 570.7 130.3 571.0 130.2 571.4 130.2 571.7 130.1 572.1 130.0 572.4 129.9 572.8 129.9 573.1 129.8 573.5 129.7 573.8 129.6 574.2 129.5 574.5 129.4 574.9 129.3 575.2 129.3 575.6 129.2 575.9 129.1 576.2 129.0 576.6 128.9 576.9 128.8 577.3 128.7 577.6 128.6 578.0 128.4 578.3 128.3 578.7 128.2 579.0 128.1 579.4 128.0 579.7 127.9 580.1 127.8 580.4 127.7 580.8 127.6 581.1 127.5 581.4 127.3 581.8 127.2 582.1 127.1 582.5 127.0 582.8 126.9 583.2 126.7 583.5 126.6 583.9 126.5 584.2 126.3 584.6 126.2 584.9 126.0 585.3 125.9 585.6 125.7 585.9 125.6 586.3 125.4 586.6 125.3 587.0 125.1 587.3 124.9 587.7 124.8 588.0 124.6 588.4 124.5 588.7 124.3 589.1 124.1 589.4 123.9 589.8 123.8 590.1 123.6 590.5 123.4 590.8 123.2 591.1 123.1 591.5 122.9 591.8 122.7 592.2 122.5 592.5 122.3 592.9 122.1 593.2 121.9 593.6 121.7 593.9 121.5 594.3 121.3 594.6 121.1 595.0 120.9 595.3 120.6 595.7 120.4 596.0 120.2 596.3 119.9 596.7 119.7 597.0 119.4 597.4 119.2 597.7 118.9 598.1 118.6 598.4 118.3 598.8 118.0 599.1 117.6 599.5 117.3 599.8 116.9 600.2 116.6 600.5 116.2 600.9 115.8 601.2 115.4 601.5 115.0 601.9 114.6 602.2 114.1 602.6 113.7 602.9 113.2 603.3 112.7 603.6 112.2 604.0 111.6 604.3 111.0 604.7 110.4 605.0 109.6 605.4 108.8 605.7 107.8 606.1 106.8 606.4 105.6 606.7 104.5 607.1 103.3 607.4 102.1 607.8 100.5 608.1 98.7 608.5 96.8 608.8 95.0 609.2 93.4 609.5 92.1 609.9 91.4 610.2 91.2 610.6 91.8 610.9 93.0 611.3 94.6 611.6 96.5 611.9 98.6 612.3 100.7 612.6 102.7 613.0 104.4 613.3 106.0 613.7 107.7 614.0 109.3 614.4 111.0 614.7 112.7 615.1 114.3 615.4 115.8 615.8 117.3 616.1 118.6 616.5 119.8 616.8 121.0 617.1 122.1 617.5 123.2 617.8 124.3 618.2 125.3 618.5 126.2 618.9 127.0 619.2 127.7 619.6 128.3 619.9 128.8 620.3 129.3 620.6 129.8 621.0 130.3 621.3 130.7 621.7 131.1 622.0 131.5 622.3 131.9 622.7 132.2 623.0 132.5 623.4 132.7 623.7 133.0 624.1 133.1 624.4 133.3 624.8 133.4 625.1 133.5 625.5 133.6 625.8 133.7 626.2 133.7 626.5 133.8 626.9 133.9 627.2 134.0 627.5 134.1 627.9 134.2 628.2 134.2 628.6 134.3 628.9 134.4 629.3 134.4 629.6 134.5 630.0 134.5 630.3 134.6 630.7 134.6 631.0 134.7 631.4 134.7 631.7 134.7 632.0 134.8 632.4 134.8 632.7 134.8 633.1 134.9 633.4 134.9 633.8 134.9 634.1 134.9 634.5 134.9 634.8 134.9 635.2 134.9 635.5 134.9 635.9 134.9 636.2 134.9 636.6 134.9 636.9 134.9 637.2 134.9 637.6 134.9 637.9 134.9 638.3 134.9 638.6 134.9 639.0 134.9 639.3 134.9 639.7 134.9 640.0 134.9 640.4 134.9 640.7 134.9 641.1 134.9 641.4 134.9 641.8 134.9 642.1 134.9 642.4 134.9 642.8 134.9 643.1 134.9 643.5 134.9 643.8 134.9 644.2 134.9 644.5 134.9 644.9 134.9 645.2 134.9 645.6 134.9 645.9 134.9 646.3 134.9 646.6 134.9 647.0 134.9 647.3 134.9 647.6 134.9 648.0 134.9 648.3 134.9 648.7 134.9 649.0 134.9 649.4 134.9 649.7 134.9 650.1 134.9 650.4 134.9 650.8 134.9 651.1 134.9 651.5 134.9 651.8 134.9 652.2 134.9 652.5 134.9" fill="none" stroke="#e8333d" stroke-width="1.1"/>
<path d="M514.2 134.9 514.5 134.9 514.9 134.9 515.2 134.9 515.6 134.9 515.9 134.9 516.3 134.9 516.6 134.9 517.0 134.9 517.3 134.9 517.7 134.9 518.0 134.9 518.4 134.9 518.7 134.9 519.1 134.9 519.4 134.9 519.7 134.9 520.1 134.9 520.4 134.9 520.8 134.9 521.1 134.9 521.5 134.9 521.8 134.9 522.2 134.9 522.5 134.9 522.9 134.9 523.2 134.9 523.6 134.9 523.9 134.9 524.3 134.9 524.6 134.9 524.9 134.9 525.3 134.9 525.6 134.9 526.0 134.9 526.3 134.9 526.7 134.9 527.0 134.9 527.4 134.9 527.7 134.9 528.1 134.9 528.4 134.9 528.8 134.9 529.1 134.9 529.5 134.9 529.8 134.9 530.1 134.9 530.5 134.9 530.8 134.9 531.2 134.9 531.5 134.9 531.9 134.9 532.2 134.9 532.6 134.9 532.9 134.9 533.3 134.9 533.6 134.9 534.0 134.9 534.3 134.9 534.7 134.9 535.0 134.9 535.3 134.9 535.7 134.9 536.0 134.9 536.4 134.9 536.7 134.9 537.1 134.9 537.4 134.9 537.8 134.9 538.1 134.9 538.5 134.9 538.8 134.9 539.2 134.9 539.5 134.9 539.8 134.9 540.2 134.9 540.5 134.9 540.9 134.9 541.2 134.9 541.6 134.9 541.9 134.9 542.3 134.9 542.6 134.9 543.0 134.9 543.3 134.9 543.7 134.9 544.0 134.9 544.4 134.9 544.7 134.9 545.0 134.9 545.4 134.9 545.7 134.9 546.1 134.9 546.4 134.9 546.8 134.9 547.1 134.9 547.5 134.9 547.8 134.9 548.2 134.9 548.5 134.9 548.9 134.9 549.2 134.9 549.6 134.9 549.9 134.9 550.2 134.9 550.6 134.9 550.9 134.9 551.3 134.9 551.6 134.9 552.0 134.9 552.3 134.9 552.7 134.9 553.0 134.9 553.4 134.8 553.7 134.8 554.1 134.8 554.4 134.8 554.8 134.8 555.1 134.8 555.4 134.8 555.8 134.8 556.1 134.8 556.5 134.8 556.8 134.8 557.2 134.8 557.5 134.8 557.9 134.8 558.2 134.8 558.6 134.8 558.9 134.8 559.3 134.7 559.6 134.7 560.0 134.7 560.3 134.7 560.6 134.7 561.0 134.7 561.3 134.7 561.7 134.7 562.0 134.7 562.4 134.7 562.7 134.7 563.1 134.6 563.4 134.6 563.8 134.6 564.1 134.6 564.5 134.6 564.8 134.6 565.2 134.6 565.5 134.6 565.8 134.6 566.2 134.5 566.5 134.5 566.9 134.5 567.2 134.5 567.6 134.5 567.9 134.5 568.3 134.5 568.6 134.5 569.0 134.4 569.3 134.4 569.7 134.4 570.0 134.4 570.4 134.4 570.7 134.4 571.0 134.3 571.4 134.3 571.7 134.3 572.1 134.3 572.4 134.3 572.8 134.3 573.1 134.2 573.5 134.2 573.8 134.2 574.2 134.2 574.5 134.2 574.9 134.2 575.2 134.1 575.6 134.1 575.9 134.1 576.2 134.1 576.6 134.1 576.9 134.0 577.3 134.0 577.6 134.0 578.0 134.0 578.3 133.9 578.7 133.9 579.0 133.9 579.4 133.9 579.7 133.8 580.1 133.8 580.4 133.8 580.8 133.8 581.1 133.7 581.4 133.7 581.8 133.7 582.1 133.7 582.5 133.6 582.8 133.6 583.2 133.6 583.5 133.6 583.9 133.5 584.2 133.5 584.6 133.5 584.9 133.4 585.3 133.4 585.6 133.4 585.9 133.4 586.3 133.3 586.6 133.3 587.0 133.3 587.3 133.2 587.7 133.1 588.0 133.0 588.4 132.9 588.7 132.7 589.1 132.6 589.4 132.4 589.8 132.2 590.1 132.0 590.5 131.8 590.8 131.5 591.1 131.3 591.5 131.0 591.8 130.8 592.2 130.5 592.5 130.2 592.9 129.9 593.2 129.6 593.6 129.2 593.9 128.8 594.3 128.3 594.6 127.7 595.0 127.1 595.3 126.4 595.7 125.7 596.0 125.0 596.3 124.3 596.7 123.5 597.0 122.8 597.4 122.1 597.7 121.3 598.1 120.6 598.4 119.8 598.8 119.0 599.1 118.1 599.5 117.3 599.8 116.4 600.2 115.5 600.5 114.5 600.9 113.6 601.2 112.6 601.5 111.6 601.9 110.6 602.2 109.5 602.6 108.3 602.9 107.2 603.3 105.9 603.6 104.7 604.0 103.5 604.3 102.2 604.7 101.0 605.0 99.8 605.4 98.6 605.7 97.4 606.1 96.1 606.4 94.7 606.7 93.2 607.1 91.7 607.4 90.2 607.8 88.7 608.1 87.3 608.5 86.0 608.8 84.9 609.2 84.0 609.5 83.4 609.9 83.0 610.2 82.9 610.6 83.2 610.9 83.8 611.3 84.7 611.6 85.8 611.9 87.0 612.3 88.4 612.6 89.9 613.0 91.5 613.3 93.1 613.7 94.6 614.0 96.1 614.4 97.4 614.7 98.6 615.1 99.9 615.4 101.1 615.8 102.4 616.1 103.7 616.5 105.0 616.8 106.3 617.1 107.6 617.5 108.8 617.8 110.0 618.2 111.1 618.5 112.2 618.9 113.3 619.2 114.3 619.6 115.3 619.9 116.3 620.3 117.2 620.6 118.2 621.0 119.1 621.3 119.9 621.7 120.8 622.0 121.6 622.3 122.3 622.7 123.0 623.0 123.7 623.4 124.4 623.7 125.0 624.1 125.7 624.4 126.3 624.8 126.9 625.1 127.5 625.5 128.1 625.8 128.6 626.2 129.1 626.5 129.6 626.9 130.0 627.2 130.4 627.5 130.7 627.9 131.0 628.2 131.2 628.6 131.4 628.9 131.7 629.3 131.9 629.6 132.1 630.0 132.4 630.3 132.6 630.7 132.8 631.0 133.0 631.4 133.2 631.7 133.3 632.0 133.5 632.4 133.7 632.7 133.8 633.1 134.0 633.4 134.1 633.8 134.2 634.1 134.3 634.5 134.4 634.8 134.5 635.2 134.5 635.5 134.6 635.9 134.6 636.2 134.6 636.6 134.6 636.9 134.6 637.2 134.6 637.6 134.7 637.9 134.7 638.3 134.7 638.6 134.7 639.0 134.7 639.3 134.7 639.7 134.7 640.0 134.7 640.4 134.7 640.7 134.7 641.1 134.7 641.4 134.8 641.8 134.8 642.1 134.8 642.4 134.8 642.8 134.8 643.1 134.8 643.5 134.8 643.8 134.8 644.2 134.8 644.5 134.8 644.9 134.8 645.2 134.8 645.6 134.8 645.9 134.8 646.3 134.8 646.6 134.8 647.0 134.8 647.3 134.9 647.6 134.9 648.0 134.9 648.3 134.9 648.7 134.9 649.0 134.9 649.4 134.9 649.7 134.9 650.1 134.9 650.4 134.9 650.8 134.9 651.1 134.9 651.5 134.9 651.8 134.9 652.2 134.9 652.5 134.9" fill="none" stroke="#10a9ea" stroke-width="1.3"/>
<text x="561.5" y="177.4" font-size="8" font-weight="700" fill="#000" text-anchor="middle">Kurt</text>
<rect x="542.1" y="198.9" width="17.60" height="15.40" fill="#10a9ea" stroke="#3a3a3a" stroke-width="0.35" stroke-opacity="0.6"/>
<rect x="564.0" y="205.1" width="17.00" height="9.20" fill="#e8333d" stroke="#3a3a3a" stroke-width="0.35" stroke-opacity="0.6"/>
<line x1="534.0" x2="589.3" y1="214.3" y2="214.3" stroke="#8c8c8c" stroke-width="0.8"/>
<path d="M534.0 180.7 V224.3 H589.3" fill="none" stroke="#9a9a9a" stroke-width="0.7"/>
<text x="530.6" y="194.10" font-size="8.6" fill="#262626" text-anchor="end">10</text>
<line x1="534.0" x2="535.2" y1="191.1" y2="191.1" stroke="#9a9a9a" stroke-width="0.5"/>
<text x="530.6" y="205.90" font-size="8.6" fill="#262626" text-anchor="end">5</text>
<line x1="534.0" x2="535.2" y1="202.9" y2="202.9" stroke="#9a9a9a" stroke-width="0.5"/>
<text x="530.6" y="217.70" font-size="8.6" fill="#262626" text-anchor="end">0</text>
<line x1="534.0" x2="535.2" y1="214.7" y2="214.7" stroke="#9a9a9a" stroke-width="0.5"/>
<circle cx="545.0" cy="198.5" r="0.55" fill="#555"/>
<circle cx="549.0" cy="196.8" r="0.55" fill="#555"/>
<circle cx="552.6" cy="195.3" r="0.55" fill="#555"/>
<circle cx="546.2" cy="202.5" r="0.55" fill="#555"/>
<circle cx="549.5" cy="204.8" r="0.55" fill="#555"/>
<circle cx="557.4" cy="204.5" r="0.55" fill="#555"/>
<circle cx="566.0" cy="201.8" r="0.55" fill="#555"/>
<circle cx="573.6" cy="207.7" r="0.55" fill="#555"/>
<circle cx="578.6" cy="204.4" r="0.55" fill="#555"/>
<circle cx="575.2" cy="204.0" r="0.55" fill="#555"/>
<circle cx="569.0" cy="204.6" r="0.55" fill="#555"/>
<path d="M550.9 196.8 V200.6 M549.5 196.8 H552.3 M549.5 200.6 H552.3" fill="none" stroke="#4a55e8" stroke-width="0.7"/>
<circle cx="550.9" cy="198.7" r="1.3" fill="none" stroke="#4a55e8" stroke-width="0.6"/>
<path d="M572.5 204.3 V206.0 M571.1 204.3 H573.9 M571.1 206.0 H573.9" fill="none" stroke="#b04040" stroke-width="0.7"/>
<circle cx="572.5" cy="205.1" r="1.3" fill="none" stroke="#b04040" stroke-width="0.6"/>
<line x1="551.0" x2="572.0" y1="192.1" y2="192.1" stroke="#8c8c8c" stroke-width="0.8"/>
<path d="M559.70 188.45L559.70 191.35M558.44 189.18L560.96 190.62M560.96 189.18L558.44 190.62M563.30 188.45L563.30 191.35M562.04 189.18L564.56 190.62M564.56 189.18L562.04 190.62" stroke="#111" stroke-width="0.95" stroke-linecap="round"/>
<text x="641.3" y="175.0" font-size="8" font-weight="700" fill="#000" text-anchor="middle">Skew</text>
<rect x="622.1" y="192.9" width="16.90" height="15.40" fill="#10a9ea" stroke="#3a3a3a" stroke-width="0.35" stroke-opacity="0.6"/>
<rect x="643.6" y="192.9" width="16.80" height="1.00" fill="#e8333d" stroke="#3a3a3a" stroke-width="0.35" stroke-opacity="0.6"/>
<line x1="613.6" x2="669.3" y1="192.9" y2="192.9" stroke="#8c8c8c" stroke-width="0.8"/>
<path d="M613.6 178.6 V222.9 H669.3" fill="none" stroke="#9a9a9a" stroke-width="0.7"/>
<text x="610.2" y="187.00" font-size="8.6" fill="#262626" text-anchor="end">0.5</text>
<line x1="613.6" x2="614.8000000000001" y1="184.0" y2="184.0" stroke="#9a9a9a" stroke-width="0.5"/>
<text x="610.2" y="196.10" font-size="8.6" fill="#262626" text-anchor="end">0</text>
<line x1="613.6" x2="614.8000000000001" y1="193.1" y2="193.1" stroke="#9a9a9a" stroke-width="0.5"/>
<text x="610.2" y="205.60" font-size="8.6" fill="#262626" text-anchor="end">-0.5</text>
<line x1="613.6" x2="614.8000000000001" y1="202.6" y2="202.6" stroke="#9a9a9a" stroke-width="0.5"/>
<text x="610.2" y="215.10" font-size="8.6" fill="#262626" text-anchor="end">-1</text>
<line x1="613.6" x2="614.8000000000001" y1="212.1" y2="212.1" stroke="#9a9a9a" stroke-width="0.5"/>
<text x="610.2" y="224.10" font-size="8.6" fill="#262626" text-anchor="end">-1.5</text>
<line x1="613.6" x2="614.8000000000001" y1="221.1" y2="221.1" stroke="#9a9a9a" stroke-width="0.5"/>
<circle cx="624.5" cy="214.0" r="0.55" fill="#555"/>
<circle cx="627.5" cy="204.5" r="0.55" fill="#555"/>
<circle cx="628.8" cy="203.0" r="0.55" fill="#555"/>
<circle cx="633.8" cy="199.7" r="0.55" fill="#555"/>
<circle cx="636.9" cy="208.6" r="0.55" fill="#555"/>
<circle cx="645.5" cy="199.7" r="0.55" fill="#555"/>
<circle cx="646.2" cy="198.3" r="0.55" fill="#555"/>
<circle cx="648.9" cy="190.2" r="0.55" fill="#555"/>
<circle cx="654.0" cy="189.5" r="0.55" fill="#555"/>
<circle cx="656.0" cy="189.2" r="0.55" fill="#555"/>
<circle cx="658.2" cy="188.5" r="0.55" fill="#555"/>
<circle cx="635.5" cy="222.5" r="0.55" fill="#555"/>
<path d="M630.7 205.8 V211.2 M629.3000000000001 205.8 H632.1 M629.3000000000001 211.2 H632.1" fill="none" stroke="#4a55e8" stroke-width="0.7"/>
<circle cx="630.7" cy="208.3" r="1.3" fill="none" stroke="#4a55e8" stroke-width="0.6"/>
<path d="M651.9 192.0 V195.0 M650.5 192.0 H653.3 M650.5 195.0 H653.3" fill="none" stroke="#b04040" stroke-width="0.7"/>
<circle cx="651.9" cy="193.3" r="1.3" fill="none" stroke="#b04040" stroke-width="0.6"/>
<line x1="630.7" x2="651.9" y1="213.9" y2="213.9" stroke="#8c8c8c" stroke-width="0.8"/>
<path d="M637.70 216.45L637.70 219.35M636.44 217.18L638.96 218.62M638.96 217.18L636.44 218.62M641.30 216.45L641.30 219.35M640.04 217.18L642.56 218.62M642.56 217.18L640.04 218.62M644.90 216.45L644.90 219.35M643.64 217.18L646.16 218.62M646.16 217.18L643.64 218.62" stroke="#111" stroke-width="0.95" stroke-linecap="round"/>
<line x1="521.2" x2="663.9" y1="282.1" y2="282.1" stroke="#262626" stroke-width="0.7"/>
<line x1="546.70" x2="546.70" y1="282.1" y2="280.5" stroke="#262626" stroke-width="0.6"/>
<text x="546.70" y="296.7" font-size="9.6" fill="#262626" text-anchor="middle">-1</text>
<line x1="588.60" x2="588.60" y1="282.1" y2="280.5" stroke="#262626" stroke-width="0.6"/>
<text x="588.60" y="296.7" font-size="9.6" fill="#262626" text-anchor="middle">0</text>
<line x1="630.50" x2="630.50" y1="282.1" y2="280.5" stroke="#262626" stroke-width="0.6"/>
<text x="630.50" y="296.7" font-size="9.6" fill="#262626" text-anchor="middle">1</text>
<text x="588.2" y="309.4" font-size="10.3" fill="#262626" text-anchor="middle">Acceleration (g)</text>
<path d="M521.2 282.1 521.6 282.1 521.9 282.1 522.3 282.1 522.6 282.1 523.0 282.1 523.3 282.1 523.7 282.1 524.1 282.1 524.4 282.1 524.8 282.1 525.1 282.1 525.5 282.1 525.8 282.1 526.2 282.1 526.6 282.1 526.9 282.1 527.3 282.1 527.6 282.1 528.0 282.1 528.4 282.1 528.7 282.1 529.1 282.1 529.4 282.1 529.8 282.1 530.1 282.1 530.5 282.1 530.9 282.1 531.2 282.1 531.6 282.1 531.9 282.1 532.3 282.1 532.6 282.1 533.0 282.1 533.4 282.1 533.7 282.1 534.1 282.1 534.4 282.1 534.8 282.1 535.1 282.1 535.5 282.1 535.9 282.1 536.2 282.1 536.6 282.1 536.9 282.1 537.3 282.1 537.7 282.1 538.0 282.1 538.4 282.1 538.7 281.9 539.1 281.8 539.4 281.7 539.8 281.5 540.2 281.4 540.5 281.3 540.9 281.1 541.2 281.0 541.6 280.9 541.9 280.7 542.3 280.6 542.7 280.5 543.0 280.3 543.4 280.2 543.7 280.1 544.1 279.9 544.4 279.8 544.8 279.7 545.2 279.6 545.5 279.4 545.9 279.3 546.2 279.2 546.6 279.0 547.0 278.9 547.3 278.8 547.7 278.7 548.0 278.5 548.4 278.4 548.7 278.3 549.1 278.2 549.5 278.0 549.8 277.9 550.2 277.8 550.5 277.7 550.9 277.5 551.2 277.4 551.6 277.3 552.0 277.2 552.3 277.0 552.7 276.9 553.0 276.8 553.4 276.7 553.7 276.6 554.1 276.4 554.5 276.3 554.8 276.2 555.2 276.1 555.5 276.0 555.9 275.8 556.2 275.7 556.6 275.6 557.0 275.6 557.3 275.5 557.7 275.4 558.0 275.3 558.4 275.2 558.8 275.1 559.1 275.1 559.5 275.0 559.8 274.9 560.2 274.8 560.5 274.8 560.9 274.7 561.3 274.6 561.6 274.5 562.0 274.4 562.3 274.3 562.7 274.3 563.0 274.1 563.4 274.0 563.8 273.9 564.1 273.8 564.5 273.7 564.8 273.5 565.2 273.4 565.5 273.2 565.9 273.1 566.3 272.9 566.6 272.7 567.0 272.5 567.3 272.3 567.7 272.1 568.1 271.7 568.4 271.2 568.8 270.6 569.1 269.8 569.5 268.9 569.8 267.9 570.2 266.8 570.6 265.7 570.9 264.5 571.3 263.2 571.6 261.9 572.0 260.6 572.3 259.3 572.7 258.0 573.1 256.5 573.4 254.5 573.8 252.3 574.1 250.0 574.5 247.8 574.8 245.7 575.2 244.0 575.6 242.7 575.9 242.1 576.3 242.3 576.6 243.0 577.0 244.3 577.4 245.9 577.7 247.8 578.1 249.8 578.4 251.8 578.8 253.7 579.1 255.2 579.5 256.4 579.9 257.5 580.2 258.6 580.6 259.7 580.9 260.7 581.3 261.7 581.6 262.6 582.0 263.5 582.4 264.2 582.7 264.9 583.1 265.5 583.4 266.0 583.8 266.3 584.1 266.6 584.5 266.9 584.9 267.2 585.2 267.4 585.6 267.7 585.9 267.9 586.3 268.1 586.6 268.3 587.0 268.5 587.4 268.6 587.7 268.8 588.1 268.9 588.4 269.0 588.8 269.2 589.2 269.3 589.5 269.4 589.9 269.5 590.2 269.7 590.6 269.8 590.9 269.9 591.3 270.0 591.7 270.1 592.0 270.2 592.4 270.3 592.7 270.4 593.1 270.5 593.4 270.6 593.8 270.7 594.2 270.8 594.5 270.9 594.9 271.0 595.2 271.1 595.6 271.1 595.9 271.2 596.3 271.3 596.7 271.4 597.0 271.4 597.4 271.5 597.7 271.6 598.1 271.6 598.5 271.7 598.8 271.8 599.2 271.8 599.5 271.9 599.9 271.9 600.2 272.0 600.6 272.0 601.0 272.1 601.3 272.1 601.7 272.2 602.0 272.2 602.4 272.2 602.7 272.3 603.1 272.3 603.5 272.3 603.8 272.4 604.2 272.4 604.5 272.4 604.9 272.4 605.2 272.4 605.6 272.5 606.0 272.5 606.3 272.5 606.7 272.5 607.0 272.5 607.4 272.6 607.7 272.6 608.1 272.6 608.5 272.6 608.8 272.7 609.2 272.7 609.5 272.7 609.9 272.7 610.3 272.7 610.6 272.8 611.0 272.8 611.3 272.8 611.7 272.9 612.0 272.9 612.4 272.9 612.8 273.0 613.1 273.0 613.5 273.1 613.8 273.1 614.2 273.2 614.5 273.3 614.9 273.3 615.3 273.5 615.6 273.6 616.0 273.7 616.3 273.8 616.7 274.0 617.0 274.2 617.4 274.3 617.8 274.5 618.1 274.7 618.5 274.9 618.8 275.1 619.2 275.3 619.6 275.5 619.9 275.7 620.3 276.0 620.6 276.2 621.0 276.4 621.3 276.6 621.7 276.8 622.1 277.0 622.4 277.3 622.8 277.5 623.1 277.7 623.5 277.9 623.8 278.0 624.2 278.2 624.6 278.4 624.9 278.6 625.3 278.7 625.6 278.9 626.0 279.0 626.3 279.1 626.7 279.2 627.1 279.3 627.4 279.4 627.8 279.6 628.1 279.7 628.5 279.8 628.9 279.9 629.2 280.0 629.6 280.1 629.9 280.2 630.3 280.3 630.6 280.4 631.0 280.5 631.4 280.6 631.7 280.7 632.1 280.8 632.4 280.9 632.8 281.0 633.1 281.0 633.5 281.1 633.9 281.2 634.2 281.3 634.6 281.4 634.9 281.4 635.3 281.5 635.6 281.6 636.0 281.7 636.4 281.7 636.7 281.8 637.1 281.8 637.4 281.9 637.8 282.0 638.1 282.0 638.5 282.1 638.9 282.1 639.2 282.1 639.6 282.1 639.9 282.1 640.3 282.1 640.7 282.1 641.0 282.1 641.4 282.1 641.7 282.1 642.1 282.1 642.4 282.1 642.8 282.1 643.2 282.1 643.5 282.1 643.9 282.1 644.2 282.1 644.6 282.1 644.9 282.1 645.3 282.1 645.7 282.1 646.0 282.1 646.4 282.1 646.7 282.1 647.1 282.1 647.4 282.1 647.8 282.1 648.2 282.1 648.5 282.1 648.9 282.1 649.2 282.1 649.6 282.1 650.0 282.1 650.3 282.1 650.7 282.1 651.0 282.1 651.4 282.1 651.7 282.1 652.1 282.1 652.5 282.1 652.8 282.1 653.2 282.1 653.5 282.1 653.9 282.1 654.2 282.1 654.6 282.1 655.0 282.1 655.3 282.1 655.7 282.1 656.0 282.1 656.4 282.1 656.7 282.1 657.1 282.1 657.5 282.1 657.8 282.1 658.2 282.1 658.5 282.1 658.9 282.1 659.3 282.1 659.6 282.1 660.0 282.1 660.3 282.1 660.7 282.1 661.0 282.1 661.4 282.1 661.8 282.1 662.1 282.1 662.5 282.1 662.8 282.1 663.2 282.1 663.5 282.1 663.9 282.1" fill="none" stroke="#e8333d" stroke-width="0.55" stroke-opacity="0.28"/>
<path d="M521.2 282.1 521.6 282.1 521.9 282.1 522.3 282.1 522.6 282.1 523.0 282.1 523.3 282.1 523.7 282.1 524.1 282.1 524.4 282.1 524.8 282.1 525.1 282.1 525.5 282.1 525.8 282.1 526.2 282.1 526.6 282.1 526.9 282.1 527.3 282.1 527.6 282.1 528.0 282.1 528.4 282.1 528.7 282.1 529.1 282.1 529.4 282.1 529.8 282.1 530.1 282.1 530.5 282.1 530.9 282.1 531.2 282.1 531.6 282.1 531.9 282.1 532.3 282.1 532.6 282.1 533.0 282.1 533.4 282.1 533.7 282.1 534.1 282.1 534.4 282.1 534.8 282.0 535.1 281.9 535.5 281.9 535.9 281.8 536.2 281.7 536.6 281.7 536.9 281.6 537.3 281.5 537.7 281.4 538.0 281.3 538.4 281.3 538.7 281.2 539.1 281.1 539.4 281.0 539.8 280.9 540.2 280.8 540.5 280.7 540.9 280.6 541.2 280.5 541.6 280.4 541.9 280.3 542.3 280.2 542.7 280.1 543.0 280.0 543.4 279.8 543.7 279.7 544.1 279.6 544.4 279.5 544.8 279.4 545.2 279.2 545.5 279.1 545.9 279.0 546.2 278.9 546.6 278.7 547.0 278.6 547.3 278.5 547.7 278.3 548.0 278.2 548.4 278.1 548.7 277.9 549.1 277.8 549.5 277.7 549.8 277.5 550.2 277.4 550.5 277.2 550.9 277.1 551.2 277.0 551.6 276.8 552.0 276.6 552.3 276.4 552.7 276.2 553.0 276.0 553.4 275.7 553.7 275.5 554.1 275.3 554.5 275.0 554.8 274.7 555.2 274.5 555.5 274.2 555.9 273.9 556.2 273.7 556.6 273.4 557.0 273.1 557.3 272.9 557.7 272.6 558.0 272.4 558.4 272.1 558.8 271.9 559.1 271.6 559.5 271.4 559.8 271.2 560.2 271.0 560.5 270.9 560.9 270.7 561.3 270.5 561.6 270.4 562.0 270.3 562.3 270.2 562.7 270.2 563.0 270.1 563.4 270.1 563.8 270.1 564.1 270.2 564.5 270.3 564.8 270.4 565.2 270.5 565.5 270.7 565.9 270.9 566.3 271.1 566.6 271.4 567.0 271.6 567.3 271.9 567.7 272.1 568.1 272.4 568.4 272.6 568.8 272.9 569.1 273.1 569.5 273.3 569.8 273.5 570.2 273.7 570.6 273.8 570.9 274.0 571.3 274.0 571.6 274.1 572.0 274.1 572.3 274.1 572.7 274.0 573.1 273.8 573.4 273.6 573.8 273.4 574.1 273.1 574.5 272.8 574.8 272.5 575.2 272.1 575.6 271.7 575.9 271.3 576.3 270.8 576.6 270.3 577.0 269.8 577.4 269.2 577.7 268.6 578.1 268.0 578.4 267.4 578.8 266.8 579.1 266.1 579.5 265.5 579.9 264.8 580.2 264.1 580.6 263.2 580.9 261.9 581.3 260.3 581.6 258.5 582.0 256.8 582.4 255.1 582.7 253.7 583.1 252.7 583.4 252.2 583.8 252.2 584.1 252.5 584.5 253.0 584.9 253.7 585.2 254.6 585.6 255.6 585.9 256.6 586.3 257.7 586.6 258.8 587.0 259.7 587.4 260.6 587.7 261.3 588.1 261.8 588.4 262.1 588.8 262.1 589.2 261.8 589.5 261.4 589.9 260.8 590.2 260.1 590.6 259.3 590.9 258.6 591.3 257.8 591.7 257.2 592.0 256.6 592.4 256.3 592.7 256.1 593.1 256.2 593.4 256.4 593.8 256.9 594.2 257.5 594.5 258.2 594.9 259.0 595.2 259.9 595.6 260.9 595.9 261.8 596.3 262.8 596.7 263.8 597.0 264.7 597.4 265.6 597.7 266.4 598.1 267.1 598.5 267.6 598.8 267.9 599.2 268.1 599.5 268.3 599.9 268.4 600.2 268.5 600.6 268.6 601.0 268.7 601.3 268.7 601.7 268.8 602.0 268.9 602.4 268.9 602.7 269.0 603.1 269.1 603.5 269.1 603.8 269.2 604.2 269.2 604.5 269.2 604.9 269.3 605.2 269.3 605.6 269.4 606.0 269.4 606.3 269.5 606.7 269.5 607.0 269.6 607.4 269.6 607.7 269.7 608.1 269.8 608.5 269.8 608.8 269.9 609.2 270.0 609.5 270.1 609.9 270.2 610.3 270.3 610.6 270.5 611.0 270.6 611.3 270.7 611.7 270.9 612.0 271.1 612.4 271.3 612.8 271.5 613.1 271.6 613.5 271.8 613.8 272.1 614.2 272.3 614.5 272.5 614.9 272.7 615.3 272.9 615.6 273.2 616.0 273.4 616.3 273.6 616.7 273.9 617.0 274.1 617.4 274.3 617.8 274.6 618.1 274.8 618.5 275.0 618.8 275.3 619.2 275.5 619.6 275.7 619.9 275.9 620.3 276.1 620.6 276.3 621.0 276.5 621.3 276.7 621.7 276.9 622.1 277.1 622.4 277.2 622.8 277.4 623.1 277.6 623.5 277.7 623.8 277.9 624.2 278.0 624.6 278.2 624.9 278.4 625.3 278.5 625.6 278.7 626.0 278.8 626.3 279.0 626.7 279.1 627.1 279.3 627.4 279.4 627.8 279.6 628.1 279.7 628.5 279.9 628.9 280.0 629.2 280.1 629.6 280.3 629.9 280.4 630.3 280.6 630.6 280.7 631.0 280.8 631.4 281.0 631.7 281.1 632.1 281.2 632.4 281.3 632.8 281.5 633.1 281.6 633.5 281.7 633.9 281.8 634.2 281.9 634.6 282.1 634.9 282.1 635.3 282.1 635.6 282.1 636.0 282.1 636.4 282.1 636.7 282.1 637.1 282.1 637.4 282.1 637.8 282.1 638.1 282.1 638.5 282.1 638.9 282.1 639.2 282.1 639.6 282.1 639.9 282.1 640.3 282.1 640.7 282.1 641.0 282.1 641.4 282.1 641.7 282.1 642.1 282.1 642.4 282.1 642.8 282.1 643.2 282.1 643.5 282.1 643.9 282.1 644.2 282.1 644.6 282.1 644.9 282.1 645.3 282.1 645.7 282.1 646.0 282.1 646.4 282.1 646.7 282.1 647.1 282.1 647.4 282.1 647.8 282.1 648.2 282.1 648.5 282.1 648.9 282.1 649.2 282.1 649.6 282.1 650.0 282.1 650.3 282.1 650.7 282.1 651.0 282.1 651.4 282.1 651.7 282.1 652.1 282.1 652.5 282.1 652.8 282.1 653.2 282.1 653.5 282.1 653.9 282.1 654.2 282.1 654.6 282.1 655.0 282.1 655.3 282.1 655.7 282.1 656.0 282.1 656.4 282.1 656.7 282.1 657.1 282.1 657.5 282.1 657.8 282.1 658.2 282.1 658.5 282.1 658.9 282.1 659.3 282.1 659.6 282.1 660.0 282.1 660.3 282.1 660.7 282.1 661.0 282.1 661.4 282.1 661.8 282.1 662.1 282.1 662.5 282.1 662.8 282.1 663.2 282.1 663.5 282.1 663.9 282.1" fill="none" stroke="#e8333d" stroke-width="0.55" stroke-opacity="0.22"/>
<path d="M521.2 282.1 521.6 282.1 521.9 282.1 522.3 282.1 522.6 282.1 523.0 282.1 523.3 282.1 523.7 282.1 524.1 282.1 524.4 282.1 524.8 282.1 525.1 282.1 525.5 282.1 525.8 282.1 526.2 282.1 526.6 282.1 526.9 282.1 527.3 282.1 527.6 282.1 528.0 282.1 528.4 282.1 528.7 282.1 529.1 282.1 529.4 282.1 529.8 282.1 530.1 282.1 530.5 282.1 530.9 282.1 531.2 282.1 531.6 282.1 531.9 282.1 532.3 282.1 532.6 282.1 533.0 282.1 533.4 282.1 533.7 282.1 534.1 282.1 534.4 282.1 534.8 282.1 535.1 282.1 535.5 282.1 535.9 282.1 536.2 282.1 536.6 282.1 536.9 282.1 537.3 282.1 537.7 282.1 538.0 282.1 538.4 282.1 538.7 282.1 539.1 282.1 539.4 282.1 539.8 282.0 540.2 282.0 540.5 282.0 540.9 282.0 541.2 282.0 541.6 282.0 541.9 282.0 542.3 282.0 542.7 282.0 543.0 281.9 543.4 281.9 543.7 281.9 544.1 281.9 544.4 281.9 544.8 281.8 545.2 281.8 545.5 281.8 545.9 281.8 546.2 281.8 546.6 281.7 547.0 281.7 547.3 281.7 547.7 281.6 548.0 281.6 548.4 281.5 548.7 281.4 549.1 281.3 549.5 281.2 549.8 281.0 550.2 280.9 550.5 280.8 550.9 280.6 551.2 280.5 551.6 280.3 552.0 280.1 552.3 280.0 552.7 279.8 553.0 279.6 553.4 279.4 553.7 279.2 554.1 279.0 554.5 278.8 554.8 278.6 555.2 278.4 555.5 278.2 555.9 278.0 556.2 277.9 556.6 277.7 557.0 277.5 557.3 277.3 557.7 277.1 558.0 277.0 558.4 276.8 558.8 276.6 559.1 276.5 559.5 276.3 559.8 276.2 560.2 276.0 560.5 275.9 560.9 275.8 561.3 275.6 561.6 275.5 562.0 275.3 562.3 275.2 562.7 275.1 563.0 274.9 563.4 274.8 563.8 274.7 564.1 274.5 564.5 274.4 564.8 274.3 565.2 274.1 565.5 274.0 565.9 273.9 566.3 273.8 566.6 273.6 567.0 273.5 567.3 273.4 567.7 273.3 568.1 273.2 568.4 273.1 568.8 273.0 569.1 272.9 569.5 272.8 569.8 272.7 570.2 272.6 570.6 272.6 570.9 272.5 571.3 272.4 571.6 272.3 572.0 272.1 572.3 272.0 572.7 271.9 573.1 271.7 573.4 271.6 573.8 271.4 574.1 271.1 574.5 270.8 574.8 270.4 575.2 269.9 575.6 269.4 575.9 268.9 576.3 268.4 576.6 267.8 577.0 267.3 577.4 266.8 577.7 266.3 578.1 265.8 578.4 265.4 578.8 265.0 579.1 264.7 579.5 264.4 579.9 264.3 580.2 264.2 580.6 264.3 580.9 264.4 581.3 264.5 581.6 264.7 582.0 264.9 582.4 265.2 582.7 265.5 583.1 265.8 583.4 266.1 583.8 266.4 584.1 266.6 584.5 266.9 584.9 267.1 585.2 267.2 585.6 267.3 585.9 267.4 586.3 267.6 586.6 267.7 587.0 267.8 587.4 267.9 587.7 268.0 588.1 268.1 588.4 268.2 588.8 268.3 589.2 268.4 589.5 268.4 589.9 268.5 590.2 268.6 590.6 268.6 590.9 268.6 591.3 268.7 591.7 268.7 592.0 268.7 592.4 268.6 592.7 268.6 593.1 268.6 593.4 268.6 593.8 268.5 594.2 268.5 594.5 268.5 594.9 268.4 595.2 268.4 595.6 268.3 595.9 268.3 596.3 268.2 596.7 268.2 597.0 268.1 597.4 268.0 597.7 268.0 598.1 267.9 598.5 267.8 598.8 267.8 599.2 267.7 599.5 267.7 599.9 267.6 600.2 267.5 600.6 267.4 601.0 267.3 601.3 267.2 601.7 267.1 602.0 267.0 602.4 266.8 602.7 266.7 603.1 266.6 603.5 266.5 603.8 266.4 604.2 266.3 604.5 266.2 604.9 266.1 605.2 266.0 605.6 265.9 606.0 265.9 606.3 265.8 606.7 265.8 607.0 265.8 607.4 265.8 607.7 265.9 608.1 265.9 608.5 266.1 608.8 266.2 609.2 266.4 609.5 266.6 609.9 266.8 610.3 267.1 610.6 267.3 611.0 267.6 611.3 267.8 611.7 268.1 612.0 268.4 612.4 268.7 612.8 269.0 613.1 269.3 613.5 269.8 613.8 270.3 614.2 270.8 614.5 271.3 614.9 271.9 615.3 272.4 615.6 273.0 616.0 273.5 616.3 274.1 616.7 274.5 617.0 275.0 617.4 275.4 617.8 275.7 618.1 276.1 618.5 276.4 618.8 276.7 619.2 277.1 619.6 277.4 619.9 277.7 620.3 278.0 620.6 278.3 621.0 278.6 621.3 278.9 621.7 279.1 622.1 279.3 622.4 279.6 622.8 279.7 623.1 279.9 623.5 280.1 623.8 280.2 624.2 280.3 624.6 280.4 624.9 280.5 625.3 280.6 625.6 280.7 626.0 280.8 626.3 280.9 626.7 281.0 627.1 281.0 627.4 281.1 627.8 281.2 628.1 281.2 628.5 281.3 628.9 281.3 629.2 281.4 629.6 281.4 629.9 281.5 630.3 281.5 630.6 281.5 631.0 281.6 631.4 281.6 631.7 281.6 632.1 281.7 632.4 281.7 632.8 281.7 633.1 281.8 633.5 281.8 633.9 281.8 634.2 281.9 634.6 281.9 634.9 281.9 635.3 281.9 635.6 282.0 636.0 282.0 636.4 282.0 636.7 282.0 637.1 282.0 637.4 282.1 637.8 282.1 638.1 282.1 638.5 282.1 638.9 282.1 639.2 282.1 639.6 282.1 639.9 282.1 640.3 282.1 640.7 282.1 641.0 282.1 641.4 282.1 641.7 282.1 642.1 282.1 642.4 282.1 642.8 282.1 643.2 282.1 643.5 282.1 643.9 282.1 644.2 282.1 644.6 282.1 644.9 282.1 645.3 282.1 645.7 282.1 646.0 282.1 646.4 282.1 646.7 282.1 647.1 282.1 647.4 282.1 647.8 282.1 648.2 282.1 648.5 282.1 648.9 282.1 649.2 282.1 649.6 282.1 650.0 282.1 650.3 282.1 650.7 282.1 651.0 282.1 651.4 282.1 651.7 282.1 652.1 282.1 652.5 282.1 652.8 282.1 653.2 282.1 653.5 282.1 653.9 282.1 654.2 282.1 654.6 282.1 655.0 282.1 655.3 282.1 655.7 282.1 656.0 282.1 656.4 282.1 656.7 282.1 657.1 282.1 657.5 282.1 657.8 282.1 658.2 282.1 658.5 282.1 658.9 282.1 659.3 282.1 659.6 282.1 660.0 282.1 660.3 282.1 660.7 282.1 661.0 282.1 661.4 282.1 661.8 282.1 662.1 282.1 662.5 282.1 662.8 282.1 663.2 282.1 663.5 282.1 663.9 282.1" fill="none" stroke="#e8333d" stroke-width="0.5" stroke-opacity="0.18"/>
<path d="M521.2 281.9 521.6 281.9 521.9 281.9 522.3 281.9 522.6 281.9 523.0 281.8 523.3 281.8 523.7 281.8 524.1 281.8 524.4 281.7 524.8 281.7 525.1 281.7 525.5 281.6 525.8 281.6 526.2 281.5 526.6 281.5 526.9 281.4 527.3 281.4 527.6 281.3 528.0 281.2 528.4 281.2 528.7 281.1 529.1 281.0 529.4 281.0 529.8 280.9 530.1 280.8 530.5 280.7 530.9 280.7 531.2 280.6 531.6 280.5 531.9 280.4 532.3 280.3 532.6 280.3 533.0 280.2 533.4 280.1 533.7 280.0 534.1 279.9 534.4 279.8 534.8 279.7 535.1 279.6 535.5 279.6 535.9 279.5 536.2 279.4 536.6 279.3 536.9 279.2 537.3 279.1 537.7 279.1 538.0 279.0 538.4 278.9 538.7 278.8 539.1 278.7 539.4 278.7 539.8 278.6 540.2 278.5 540.5 278.4 540.9 278.4 541.2 278.3 541.6 278.2 541.9 278.2 542.3 278.1 542.7 278.1 543.0 278.0 543.4 277.9 543.7 277.9 544.1 277.8 544.4 277.7 544.8 277.7 545.2 277.6 545.5 277.6 545.9 277.5 546.2 277.4 546.6 277.4 547.0 277.3 547.3 277.3 547.7 277.2 548.0 277.1 548.4 277.1 548.7 277.0 549.1 277.0 549.5 276.9 549.8 276.8 550.2 276.8 550.5 276.7 550.9 276.7 551.2 276.6 551.6 276.6 552.0 276.5 552.3 276.5 552.7 276.4 553.0 276.3 553.4 276.3 553.7 276.2 554.1 276.2 554.5 276.2 554.8 276.1 555.2 276.1 555.5 276.0 555.9 276.0 556.2 275.9 556.6 275.9 557.0 275.9 557.3 275.8 557.7 275.8 558.0 275.8 558.4 275.7 558.8 275.7 559.1 275.6 559.5 275.6 559.8 275.5 560.2 275.5 560.5 275.4 560.9 275.4 561.3 275.3 561.6 275.3 562.0 275.2 562.3 275.1 562.7 275.0 563.0 275.0 563.4 274.8 563.8 274.7 564.1 274.5 564.5 274.4 564.8 274.2 565.2 274.0 565.5 273.8 565.9 273.5 566.3 273.3 566.6 273.1 567.0 272.8 567.3 272.6 567.7 272.3 568.1 272.1 568.4 271.9 568.8 271.6 569.1 271.4 569.5 271.2 569.8 271.0 570.2 270.8 570.6 270.7 570.9 270.5 571.3 270.4 571.6 270.3 572.0 270.2 572.3 270.2 572.7 270.2 573.1 270.2 573.4 270.2 573.8 270.3 574.1 270.3 574.5 270.4 574.8 270.5 575.2 270.6 575.6 270.7 575.9 270.9 576.3 271.0 576.6 271.1 577.0 271.2 577.4 271.4 577.7 271.5 578.1 271.6 578.4 271.7 578.8 271.8 579.1 272.0 579.5 272.0 579.9 272.1 580.2 272.2 580.6 272.2 580.9 272.3 581.3 272.3 581.6 272.4 582.0 272.4 582.4 272.5 582.7 272.5 583.1 272.6 583.4 272.6 583.8 272.7 584.1 272.7 584.5 272.8 584.9 272.8 585.2 272.9 585.6 272.9 585.9 272.9 586.3 273.0 586.6 273.0 587.0 273.0 587.4 273.1 587.7 273.1 588.1 273.1 588.4 273.1 588.8 273.1 589.2 273.1 589.5 273.1 589.9 273.1 590.2 273.1 590.6 273.1 590.9 273.1 591.3 273.1 591.7 273.1 592.0 273.1 592.4 273.1 592.7 273.1 593.1 273.1 593.4 273.0 593.8 273.0 594.2 273.0 594.5 273.0 594.9 273.0 595.2 272.9 595.6 272.9 595.9 272.9 596.3 272.9 596.7 272.9 597.0 272.8 597.4 272.8 597.7 272.8 598.1 272.7 598.5 272.7 598.8 272.7 599.2 272.7 599.5 272.6 599.9 272.6 600.2 272.6 600.6 272.6 601.0 272.5 601.3 272.5 601.7 272.5 602.0 272.4 602.4 272.4 602.7 272.4 603.1 272.3 603.5 272.3 603.8 272.2 604.2 272.2 604.5 272.1 604.9 272.1 605.2 272.0 605.6 272.0 606.0 271.9 606.3 271.9 606.7 271.8 607.0 271.8 607.4 271.7 607.7 271.7 608.1 271.6 608.5 271.6 608.8 271.5 609.2 271.5 609.5 271.4 609.9 271.4 610.3 271.4 610.6 271.3 611.0 271.3 611.3 271.3 611.7 271.3 612.0 271.2 612.4 271.2 612.8 271.2 613.1 271.2 613.5 271.2 613.8 271.3 614.2 271.3 614.5 271.3 614.9 271.4 615.3 271.5 615.6 271.5 616.0 271.6 616.3 271.7 616.7 271.8 617.0 271.9 617.4 272.0 617.8 272.1 618.1 272.2 618.5 272.3 618.8 272.4 619.2 272.5 619.6 272.7 619.9 272.8 620.3 272.9 620.6 273.0 621.0 273.2 621.3 273.3 621.7 273.4 622.1 273.6 622.4 273.8 622.8 274.0 623.1 274.2 623.5 274.5 623.8 274.7 624.2 274.9 624.6 275.2 624.9 275.4 625.3 275.7 625.6 275.9 626.0 276.2 626.3 276.4 626.7 276.6 627.1 276.9 627.4 277.1 627.8 277.3 628.1 277.5 628.5 277.6 628.9 277.8 629.2 277.9 629.6 278.1 629.9 278.2 630.3 278.4 630.6 278.5 631.0 278.7 631.4 278.8 631.7 279.0 632.1 279.1 632.4 279.3 632.8 279.4 633.1 279.5 633.5 279.6 633.9 279.8 634.2 279.9 634.6 280.0 634.9 280.1 635.3 280.2 635.6 280.3 636.0 280.4 636.4 280.5 636.7 280.6 637.1 280.7 637.4 280.7 637.8 280.8 638.1 280.8 638.5 280.9 638.9 280.9 639.2 281.0 639.6 281.0 639.9 281.1 640.3 281.1 640.7 281.2 641.0 281.2 641.4 281.2 641.7 281.3 642.1 281.3 642.4 281.3 642.8 281.4 643.2 281.4 643.5 281.4 643.9 281.5 644.2 281.5 644.6 281.5 644.9 281.6 645.3 281.6 645.7 281.6 646.0 281.6 646.4 281.6 646.7 281.7 647.1 281.7 647.4 281.7 647.8 281.7 648.2 281.7 648.5 281.7 648.9 281.8 649.2 281.8 649.6 281.8 650.0 281.8 650.3 281.8 650.7 281.8 651.0 281.8 651.4 281.9 651.7 281.9 652.1 281.9 652.5 281.9 652.8 281.9 653.2 281.9 653.5 281.9 653.9 281.9 654.2 282.0 654.6 282.0 655.0 282.0 655.3 282.0 655.7 282.0 656.0 282.0 656.4 282.0 656.7 282.0 657.1 282.0 657.5 282.0 657.8 282.1 658.2 282.1 658.5 282.1 658.9 282.1 659.3 282.1 659.6 282.1 660.0 282.1 660.3 282.1 660.7 282.1 661.0 282.1 661.4 282.1 661.8 282.1 662.1 282.1 662.5 282.1 662.8 282.1 663.2 282.1 663.5 282.1 663.9 282.1" fill="none" stroke="#e8333d" stroke-width="0.5" stroke-opacity="0.18"/>
<path d="M521.20 282.10 L521.56 282.10 L521.92 282.10 L522.27 282.10 L522.63 282.10 L522.99 282.09 L523.35 282.09 L523.70 282.08 L524.06 282.07 L524.42 282.07 L524.78 282.06 L525.13 282.05 L525.49 282.04 L525.85 282.03 L526.21 282.02 L526.56 282.00 L526.92 281.99 L527.28 281.98 L527.64 281.96 L528.00 281.94 L528.35 281.93 L528.71 281.91 L529.07 281.89 L529.43 281.87 L529.78 281.85 L530.14 281.83 L530.50 281.81 L530.86 281.79 L531.21 281.77 L531.57 281.74 L531.93 281.72 L532.29 281.70 L532.64 281.67 L533.00 281.65 L533.36 281.62 L533.72 281.60 L534.08 281.57 L534.43 281.54 L534.79 281.51 L535.15 281.48 L535.51 281.45 L535.86 281.40 L536.22 281.34 L536.58 281.27 L536.94 281.20 L537.29 281.11 L537.65 281.02 L538.01 280.92 L538.37 280.81 L538.72 280.70 L539.08 280.58 L539.44 280.45 L539.80 280.31 L540.16 280.18 L540.51 280.03 L540.87 279.88 L541.23 279.73 L541.59 279.57 L541.94 279.41 L542.30 279.25 L542.66 279.08 L543.02 278.91 L543.37 278.74 L543.73 278.57 L544.09 278.39 L544.45 278.22 L544.80 278.04 L545.16 277.86 L545.52 277.69 L545.88 277.51 L546.24 277.33 L546.59 277.16 L546.95 276.99 L547.31 276.82 L547.67 276.65 L548.02 276.48 L548.38 276.32 L548.74 276.16 L549.10 276.01 L549.45 275.86 L549.81 275.71 L550.17 275.57 L550.53 275.43 L550.88 275.30 L551.24 275.17 L551.60 275.05 L551.96 274.92 L552.32 274.79 L552.67 274.67 L553.03 274.54 L553.39 274.41 L553.75 274.29 L554.10 274.16 L554.46 274.04 L554.82 273.92 L555.18 273.79 L555.53 273.67 L555.89 273.55 L556.25 273.43 L556.61 273.31 L556.96 273.20 L557.32 273.08 L557.68 272.96 L558.04 272.85 L558.39 272.74 L558.75 272.63 L559.11 272.52 L559.47 272.41 L559.83 272.30 L560.18 272.20 L560.54 272.10 L560.90 272.00 L561.26 271.91 L561.61 271.82 L561.97 271.74 L562.33 271.67 L562.69 271.60 L563.04 271.53 L563.40 271.46 L563.76 271.40 L564.12 271.33 L564.47 271.26 L564.83 271.19 L565.19 271.11 L565.55 271.04 L565.91 270.95 L566.26 270.86 L566.62 270.76 L566.98 270.66 L567.34 270.54 L567.69 270.42 L568.05 270.28 L568.41 270.13 L568.77 269.94 L569.12 269.61 L569.48 269.17 L569.84 268.62 L570.20 267.97 L570.55 267.25 L570.91 266.46 L571.27 265.62 L571.63 264.73 L571.99 263.81 L572.34 262.87 L572.70 261.93 L573.06 261.00 L573.42 260.08 L573.77 259.20 L574.13 258.37 L574.49 257.59 L574.85 256.88 L575.20 256.25 L575.56 255.72 L575.92 255.30 L576.28 255.00 L576.63 254.83 L576.99 254.81 L577.35 254.96 L577.71 255.26 L578.07 255.70 L578.42 256.25 L578.78 256.90 L579.14 257.63 L579.50 258.41 L579.85 259.23 L580.21 260.07 L580.57 260.91 L580.93 261.72 L581.28 262.50 L581.64 263.21 L582.00 263.84 L582.36 264.37 L582.71 264.79 L583.07 265.06 L583.43 265.22 L583.79 265.38 L584.15 265.53 L584.50 265.67 L584.86 265.81 L585.22 265.94 L585.58 266.07 L585.93 266.19 L586.29 266.30 L586.65 266.41 L587.01 266.51 L587.36 266.61 L587.72 266.69 L588.08 266.77 L588.44 266.84 L588.79 266.90 L589.15 266.96 L589.51 267.00 L589.87 267.04 L590.23 267.07 L590.58 267.09 L590.94 267.10 L591.30 267.10 L591.66 267.10 L592.01 267.09 L592.37 267.09 L592.73 267.08 L593.09 267.07 L593.44 267.06 L593.80 267.05 L594.16 267.04 L594.52 267.02 L594.87 267.01 L595.23 266.99 L595.59 266.97 L595.95 266.95 L596.31 266.93 L596.66 266.91 L597.02 266.88 L597.38 266.86 L597.74 266.83 L598.09 266.81 L598.45 266.78 L598.81 266.76 L599.17 266.73 L599.52 266.70 L599.88 266.67 L600.24 266.64 L600.60 266.61 L600.95 266.58 L601.31 266.54 L601.67 266.49 L602.03 266.42 L602.39 266.35 L602.74 266.27 L603.10 266.19 L603.46 266.10 L603.82 266.00 L604.17 265.90 L604.53 265.80 L604.89 265.70 L605.25 265.59 L605.60 265.49 L605.96 265.39 L606.32 265.29 L606.68 265.19 L607.03 265.09 L607.39 265.01 L607.75 264.92 L608.11 264.85 L608.47 264.78 L608.82 264.72 L609.18 264.68 L609.54 264.64 L609.90 264.61 L610.25 264.60 L610.61 264.61 L610.97 264.63 L611.33 264.69 L611.68 264.77 L612.04 264.86 L612.40 264.98 L612.76 265.12 L613.11 265.27 L613.47 265.44 L613.83 265.62 L614.19 265.81 L614.55 266.02 L614.90 266.23 L615.26 266.44 L615.62 266.67 L615.98 266.89 L616.33 267.12 L616.69 267.35 L617.05 267.57 L617.41 267.81 L617.76 268.09 L618.12 268.40 L618.48 268.74 L618.84 269.10 L619.19 269.49 L619.55 269.89 L619.91 270.30 L620.27 270.73 L620.63 271.15 L620.98 271.58 L621.34 272.00 L621.70 272.41 L622.06 272.81 L622.41 273.19 L622.77 273.55 L623.13 273.88 L623.49 274.19 L623.84 274.49 L624.20 274.79 L624.56 275.09 L624.92 275.40 L625.27 275.70 L625.63 275.99 L625.99 276.28 L626.35 276.57 L626.71 276.86 L627.06 277.13 L627.42 277.40 L627.78 277.66 L628.14 277.92 L628.49 278.16 L628.85 278.39 L629.21 278.61 L629.57 278.81 L629.92 279.00 L630.28 279.18 L630.64 279.34 L631.00 279.48 L631.35 279.61 L631.71 279.72 L632.07 279.83 L632.43 279.94 L632.78 280.04 L633.14 280.14 L633.50 280.24 L633.86 280.33 L634.22 280.42 L634.57 280.50 L634.93 280.59 L635.29 280.66 L635.65 280.74 L636.00 280.81 L636.36 280.88 L636.72 280.94 L637.08 281.00 L637.43 281.06 L637.79 281.11 L638.15 281.16 L638.51 281.21 L638.86 281.25 L639.22 281.29 L639.58 281.33 L639.94 281.37 L640.30 281.40 L640.65 281.44 L641.01 281.48 L641.37 281.51 L641.73 281.55 L642.08 281.58 L642.44 281.61 L642.80 281.65 L643.16 281.68 L643.51 281.71 L643.87 281.74 L644.23 281.77 L644.59 281.80 L644.94 281.83 L645.30 281.85 L645.66 281.88 L646.02 281.90 L646.38 281.93 L646.73 281.95 L647.09 281.97 L647.45 281.99 L647.81 282.01 L648.16 282.02 L648.52 282.04 L648.88 282.05 L649.24 282.06 L649.59 282.07 L649.95 282.08 L650.31 282.09 L650.67 282.10 L651.02 282.10 L651.38 282.10 L651.74 282.10 L652.10 282.10 L652.46 282.10 L652.81 282.10 L653.17 282.10 L653.53 282.10 L653.89 282.10 L654.24 282.10 L654.60 282.10 L654.96 282.10 L655.32 282.10 L655.67 282.10 L656.03 282.10 L656.39 282.10 L656.75 282.10 L657.10 282.10 L657.46 282.10 L657.82 282.10 L658.18 282.10 L658.54 282.10 L658.89 282.10 L659.25 282.10 L659.61 282.10 L659.97 282.10 L660.32 282.10 L660.68 282.10 L661.04 282.10 L661.40 282.10 L661.75 282.10 L662.11 282.10 L662.47 282.10 L662.83 282.10 L663.18 282.10 L663.54 282.10 L663.90 282.10 L663.90 282.10 L663.54 282.10 L663.18 282.10 L662.83 282.10 L662.47 282.10 L662.11 282.10 L661.75 282.10 L661.40 282.10 L661.04 282.10 L660.68 282.10 L660.32 282.10 L659.97 282.10 L659.61 282.10 L659.25 282.10 L658.89 282.10 L658.54 282.10 L658.18 282.10 L657.82 282.10 L657.46 282.10 L657.10 282.10 L656.75 282.10 L656.39 282.10 L656.03 282.10 L655.67 282.10 L655.32 282.10 L654.96 282.10 L654.60 282.10 L654.24 282.10 L653.89 282.10 L653.53 282.10 L653.17 282.10 L652.81 282.10 L652.46 282.10 L652.10 282.10 L651.74 282.10 L651.38 282.10 L651.02 282.10 L650.67 282.10 L650.31 282.10 L649.95 282.10 L649.59 282.09 L649.24 282.09 L648.88 282.09 L648.52 282.09 L648.16 282.08 L647.81 282.08 L647.45 282.07 L647.09 282.07 L646.73 282.06 L646.38 282.06 L646.02 282.05 L645.66 282.05 L645.30 282.04 L644.94 282.04 L644.59 282.03 L644.23 282.02 L643.87 282.01 L643.51 282.01 L643.16 282.00 L642.80 281.99 L642.44 281.98 L642.08 281.97 L641.73 281.96 L641.37 281.96 L641.01 281.95 L640.65 281.94 L640.30 281.93 L639.94 281.92 L639.58 281.91 L639.22 281.90 L638.86 281.89 L638.51 281.87 L638.15 281.86 L637.79 281.84 L637.43 281.83 L637.08 281.81 L636.72 281.79 L636.36 281.77 L636.00 281.74 L635.65 281.72 L635.29 281.69 L634.93 281.66 L634.57 281.64 L634.22 281.60 L633.86 281.57 L633.50 281.54 L633.14 281.50 L632.78 281.47 L632.43 281.43 L632.07 281.39 L631.71 281.35 L631.35 281.30 L631.00 281.25 L630.64 281.20 L630.28 281.13 L629.92 281.05 L629.57 280.97 L629.21 280.88 L628.85 280.78 L628.49 280.68 L628.14 280.56 L627.78 280.45 L627.42 280.32 L627.06 280.19 L626.71 280.06 L626.35 279.91 L625.99 279.77 L625.63 279.62 L625.27 279.47 L624.92 279.31 L624.56 279.15 L624.20 278.99 L623.84 278.82 L623.49 278.65 L623.13 278.47 L622.77 278.26 L622.41 278.02 L622.06 277.76 L621.70 277.48 L621.34 277.18 L620.98 276.86 L620.63 276.54 L620.27 276.22 L619.91 275.90 L619.55 275.58 L619.19 275.27 L618.84 274.98 L618.48 274.71 L618.12 274.46 L617.76 274.23 L617.41 274.04 L617.05 273.88 L616.69 273.74 L616.33 273.60 L615.98 273.46 L615.62 273.32 L615.26 273.19 L614.90 273.06 L614.55 272.93 L614.19 272.81 L613.83 272.69 L613.47 272.59 L613.11 272.49 L612.76 272.40 L612.40 272.32 L612.04 272.25 L611.68 272.20 L611.33 272.15 L610.97 272.12 L610.61 272.10 L610.25 272.10 L609.90 272.11 L609.54 272.13 L609.18 272.15 L608.82 272.18 L608.47 272.22 L608.11 272.27 L607.75 272.32 L607.39 272.38 L607.03 272.44 L606.68 272.51 L606.32 272.58 L605.96 272.65 L605.60 272.72 L605.25 272.80 L604.89 272.87 L604.53 272.95 L604.17 273.03 L603.82 273.10 L603.46 273.17 L603.10 273.24 L602.74 273.31 L602.39 273.37 L602.03 273.43 L601.67 273.49 L601.31 273.54 L600.95 273.58 L600.60 273.62 L600.24 273.65 L599.88 273.69 L599.52 273.72 L599.17 273.76 L598.81 273.80 L598.45 273.83 L598.09 273.87 L597.74 273.90 L597.38 273.94 L597.02 273.97 L596.66 274.01 L596.31 274.04 L595.95 274.07 L595.59 274.10 L595.23 274.13 L594.87 274.15 L594.52 274.18 L594.16 274.20 L593.80 274.22 L593.44 274.24 L593.09 274.26 L592.73 274.27 L592.37 274.28 L592.01 274.29 L591.66 274.30 L591.30 274.30 L590.94 274.30 L590.58 274.29 L590.23 274.28 L589.87 274.26 L589.51 274.24 L589.15 274.22 L588.79 274.19 L588.44 274.15 L588.08 274.12 L587.72 274.08 L587.36 274.04 L587.01 274.00 L586.65 273.95 L586.29 273.91 L585.93 273.87 L585.58 273.83 L585.22 273.79 L584.86 273.75 L584.50 273.71 L584.15 273.68 L583.79 273.65 L583.43 273.62 L583.07 273.60 L582.71 273.57 L582.36 273.55 L582.00 273.53 L581.64 273.50 L581.28 273.48 L580.93 273.46 L580.57 273.43 L580.21 273.41 L579.85 273.39 L579.50 273.37 L579.14 273.36 L578.78 273.34 L578.42 273.33 L578.07 273.32 L577.71 273.31 L577.35 273.30 L576.99 273.30 L576.63 273.31 L576.28 273.33 L575.92 273.38 L575.56 273.45 L575.20 273.53 L574.85 273.63 L574.49 273.75 L574.13 273.88 L573.77 274.01 L573.42 274.16 L573.06 274.31 L572.70 274.47 L572.34 274.63 L571.99 274.80 L571.63 274.96 L571.27 275.12 L570.91 275.28 L570.55 275.43 L570.20 275.57 L569.84 275.71 L569.48 275.83 L569.12 275.94 L568.77 276.04 L568.41 276.12 L568.05 276.19 L567.69 276.25 L567.34 276.32 L566.98 276.38 L566.62 276.44 L566.26 276.49 L565.91 276.55 L565.55 276.60 L565.19 276.65 L564.83 276.70 L564.47 276.74 L564.12 276.79 L563.76 276.84 L563.40 276.89 L563.04 276.93 L562.69 276.98 L562.33 277.03 L561.97 277.08 L561.61 277.13 L561.26 277.18 L560.90 277.24 L560.54 277.30 L560.18 277.36 L559.83 277.42 L559.47 277.48 L559.11 277.54 L558.75 277.61 L558.39 277.67 L558.04 277.74 L557.68 277.80 L557.32 277.87 L556.96 277.94 L556.61 278.01 L556.25 278.07 L555.89 278.14 L555.53 278.21 L555.18 278.28 L554.82 278.35 L554.46 278.42 L554.10 278.49 L553.75 278.56 L553.39 278.63 L553.03 278.70 L552.67 278.76 L552.32 278.83 L551.96 278.90 L551.60 278.97 L551.24 279.03 L550.88 279.10 L550.53 279.17 L550.17 279.24 L549.81 279.31 L549.45 279.38 L549.10 279.46 L548.74 279.54 L548.38 279.62 L548.02 279.70 L547.67 279.78 L547.31 279.86 L546.95 279.95 L546.59 280.03 L546.24 280.12 L545.88 280.20 L545.52 280.29 L545.16 280.37 L544.80 280.46 L544.45 280.54 L544.09 280.62 L543.73 280.71 L543.37 280.79 L543.02 280.87 L542.66 280.95 L542.30 281.03 L541.94 281.10 L541.59 281.18 L541.23 281.25 L540.87 281.32 L540.51 281.39 L540.16 281.45 L539.80 281.52 L539.44 281.58 L539.08 281.63 L538.72 281.69 L538.37 281.74 L538.01 281.78 L537.65 281.82 L537.29 281.86 L536.94 281.90 L536.58 281.93 L536.22 281.95 L535.86 281.97 L535.51 281.99 L535.15 282.00 L534.79 282.00 L534.43 282.01 L534.08 282.01 L533.72 282.02 L533.36 282.02 L533.00 282.03 L532.64 282.03 L532.29 282.03 L531.93 282.04 L531.57 282.04 L531.21 282.05 L530.86 282.05 L530.50 282.05 L530.14 282.06 L529.78 282.06 L529.43 282.06 L529.07 282.07 L528.71 282.07 L528.35 282.07 L528.00 282.08 L527.64 282.08 L527.28 282.08 L526.92 282.08 L526.56 282.08 L526.21 282.09 L525.85 282.09 L525.49 282.09 L525.13 282.09 L524.78 282.09 L524.42 282.09 L524.06 282.10 L523.70 282.10 L523.35 282.10 L522.99 282.10 L522.63 282.10 L522.27 282.10 L521.92 282.10 L521.56 282.10 L521.20 282.10 Z" fill="#e8333d" fill-opacity="0.35"/>
<path d="M521.2 282.1 521.6 282.1 521.9 282.1 522.3 282.1 522.6 282.1 523.0 282.1 523.3 282.1 523.7 282.1 524.1 282.1 524.4 282.1 524.8 282.1 525.1 282.1 525.5 282.1 525.8 282.1 526.2 282.1 526.6 282.1 526.9 282.1 527.3 282.1 527.6 282.1 528.0 282.1 528.4 282.1 528.7 282.1 529.1 282.1 529.4 282.1 529.8 282.1 530.1 282.1 530.5 282.1 530.9 282.1 531.2 282.1 531.6 282.1 531.9 282.1 532.3 282.1 532.6 282.1 533.0 282.1 533.4 282.1 533.7 282.1 534.1 282.1 534.4 282.1 534.8 282.1 535.1 282.1 535.5 282.1 535.9 282.1 536.2 282.1 536.6 282.1 536.9 282.1 537.3 282.1 537.7 282.1 538.0 282.1 538.4 282.1 538.7 282.1 539.1 282.1 539.4 282.1 539.8 282.1 540.2 282.1 540.5 282.1 540.9 282.1 541.2 282.1 541.6 282.1 541.9 282.1 542.3 282.1 542.7 282.1 543.0 282.1 543.4 282.1 543.7 282.1 544.1 282.1 544.4 282.1 544.8 282.1 545.2 282.1 545.5 282.1 545.9 282.1 546.2 282.1 546.6 282.1 547.0 282.1 547.3 282.1 547.7 282.1 548.0 282.1 548.4 282.1 548.7 282.1 549.1 282.1 549.5 282.1 549.8 282.1 550.2 282.1 550.5 282.1 550.9 282.1 551.2 282.1 551.6 282.1 552.0 282.1 552.3 282.1 552.7 282.1 553.0 282.1 553.4 282.1 553.7 282.1 554.1 282.1 554.5 282.1 554.8 282.1 555.2 282.1 555.5 282.1 555.9 282.1 556.2 282.1 556.6 282.1 557.0 282.1 557.3 282.1 557.7 282.1 558.0 282.1 558.4 282.1 558.8 282.1 559.1 282.1 559.5 282.1 559.8 282.1 560.2 282.1 560.5 282.1 560.9 282.1 561.3 282.1 561.6 282.1 562.0 282.1 562.3 282.0 562.7 282.0 563.0 282.0 563.4 282.0 563.8 282.0 564.1 282.0 564.5 282.0 564.8 282.0 565.2 282.0 565.5 282.0 565.9 282.0 566.3 281.9 566.6 281.9 567.0 281.9 567.3 281.9 567.7 281.9 568.1 281.9 568.4 281.9 568.8 281.8 569.1 281.8 569.5 281.8 569.8 281.8 570.2 281.8 570.6 281.7 570.9 281.7 571.3 281.7 571.6 281.7 572.0 281.7 572.3 281.6 572.7 281.6 573.1 281.6 573.4 281.6 573.8 281.5 574.1 281.5 574.5 281.5 574.8 281.4 575.2 281.4 575.6 281.4 575.9 281.3 576.3 281.3 576.6 281.3 577.0 281.2 577.4 281.2 577.7 281.2 578.1 281.1 578.4 281.1 578.8 281.1 579.1 281.0 579.5 281.0 579.9 280.9 580.2 280.9 580.6 280.8 580.9 280.8 581.3 280.8 581.6 280.7 582.0 280.5 582.4 280.2 582.7 279.8 583.1 279.3 583.4 278.8 583.8 278.3 584.1 277.8 584.5 277.3 584.9 276.9 585.2 276.6 585.6 276.4 585.9 276.1 586.3 275.9 586.6 275.7 587.0 275.5 587.4 275.4 587.7 275.2 588.1 275.0 588.4 274.8 588.8 274.7 589.2 274.5 589.5 274.3 589.9 274.1 590.2 273.9 590.6 273.7 590.9 273.6 591.3 273.4 591.7 273.2 592.0 273.1 592.4 272.9 592.7 272.7 593.1 272.6 593.4 272.4 593.8 272.1 594.2 271.9 594.5 271.6 594.9 271.3 595.2 271.0 595.6 270.5 595.9 269.9 596.3 269.2 596.7 268.5 597.0 267.7 597.4 266.8 597.7 265.9 598.1 264.9 598.5 263.9 598.8 262.9 599.2 261.8 599.5 260.6 599.9 259.2 600.2 257.8 600.6 256.4 601.0 254.9 601.3 253.4 601.7 251.9 602.0 250.5 602.4 248.9 602.7 247.4 603.1 245.9 603.5 244.3 603.8 242.8 604.2 241.3 604.5 239.8 604.9 238.2 605.2 236.5 605.6 234.7 606.0 232.8 606.3 231.1 606.7 229.7 607.0 228.5 607.4 227.8 607.7 227.5 608.1 227.9 608.5 228.7 608.8 229.8 609.2 231.3 609.5 233.1 609.9 235.0 610.3 236.9 610.6 238.9 611.0 240.8 611.3 242.5 611.7 244.2 612.0 245.9 612.4 247.7 612.8 249.6 613.1 251.4 613.5 253.2 613.8 255.0 614.2 256.7 614.5 258.4 614.9 260.1 615.3 261.8 615.6 263.5 616.0 265.1 616.3 266.7 616.7 268.2 617.0 269.6 617.4 271.1 617.8 272.6 618.1 274.1 618.5 275.6 618.8 276.9 619.2 278.0 619.6 278.9 619.9 279.4 620.3 279.8 620.6 280.1 621.0 280.4 621.3 280.7 621.7 281.0 622.1 281.2 622.4 281.4 622.8 281.5 623.1 281.6 623.5 281.7 623.8 281.8 624.2 281.8 624.6 281.8 624.9 281.8 625.3 281.8 625.6 281.8 626.0 281.8 626.3 281.9 626.7 281.9 627.1 281.9 627.4 281.9 627.8 281.9 628.1 281.9 628.5 281.9 628.9 281.9 629.2 282.0 629.6 282.0 629.9 282.0 630.3 282.0 630.6 282.0 631.0 282.0 631.4 282.0 631.7 282.0 632.1 282.0 632.4 282.0 632.8 282.0 633.1 282.0 633.5 282.0 633.9 282.1 634.2 282.1 634.6 282.1 634.9 282.1 635.3 282.1 635.6 282.1 636.0 282.1 636.4 282.1 636.7 282.1 637.1 282.1 637.4 282.1 637.8 282.1 638.1 282.1 638.5 282.1 638.9 282.1 639.2 282.1 639.6 282.1 639.9 282.1 640.3 282.1 640.7 282.1 641.0 282.1 641.4 282.1 641.7 282.1 642.1 282.1 642.4 282.1 642.8 282.1 643.2 282.1 643.5 282.1 643.9 282.1 644.2 282.1 644.6 282.1 644.9 282.1 645.3 282.1 645.7 282.1 646.0 282.1 646.4 282.1 646.7 282.1 647.1 282.1 647.4 282.1 647.8 282.1 648.2 282.1 648.5 282.1 648.9 282.1 649.2 282.1 649.6 282.1 650.0 282.1 650.3 282.1 650.7 282.1 651.0 282.1 651.4 282.1 651.7 282.1 652.1 282.1 652.5 282.1 652.8 282.1 653.2 282.1 653.5 282.1 653.9 282.1 654.2 282.1 654.6 282.1 655.0 282.1 655.3 282.1 655.7 282.1 656.0 282.1 656.4 282.1 656.7 282.1 657.1 282.1 657.5 282.1 657.8 282.1 658.2 282.1 658.5 282.1 658.9 282.1 659.3 282.1 659.6 282.1 660.0 282.1 660.3 282.1 660.7 282.1 661.0 282.1 661.4 282.1 661.8 282.1 662.1 282.1 662.5 282.1 662.8 282.1 663.2 282.1 663.5 282.1 663.9 282.1" fill="none" stroke="#10a9ea" stroke-width="0.5" stroke-opacity="0.3"/>
<path d="M521.2 282.1 521.6 282.1 521.9 282.1 522.3 282.1 522.6 282.1 523.0 282.1 523.3 282.1 523.7 282.1 524.1 282.1 524.4 282.1 524.8 282.1 525.1 282.1 525.5 282.1 525.8 282.1 526.2 282.1 526.6 282.1 526.9 282.1 527.3 282.1 527.6 282.1 528.0 282.1 528.4 282.1 528.7 282.1 529.1 282.1 529.4 282.1 529.8 282.1 530.1 282.1 530.5 282.1 530.9 282.1 531.2 282.1 531.6 282.1 531.9 282.1 532.3 282.1 532.6 282.1 533.0 282.1 533.4 282.1 533.7 282.1 534.1 282.1 534.4 282.1 534.8 282.1 535.1 282.1 535.5 282.1 535.9 282.1 536.2 282.1 536.6 282.1 536.9 282.1 537.3 282.1 537.7 282.1 538.0 282.1 538.4 282.1 538.7 282.1 539.1 282.1 539.4 282.1 539.8 282.1 540.2 282.1 540.5 282.1 540.9 282.1 541.2 282.1 541.6 282.1 541.9 282.1 542.3 282.1 542.7 282.1 543.0 282.1 543.4 282.1 543.7 282.1 544.1 282.1 544.4 282.1 544.8 282.1 545.2 282.1 545.5 282.0 545.9 282.0 546.2 282.0 546.6 282.0 547.0 282.0 547.3 282.0 547.7 282.0 548.0 282.0 548.4 282.0 548.7 282.0 549.1 282.0 549.5 282.0 549.8 282.0 550.2 282.0 550.5 282.0 550.9 282.0 551.2 282.0 551.6 282.0 552.0 281.9 552.3 281.9 552.7 281.9 553.0 281.9 553.4 281.9 553.7 281.9 554.1 281.9 554.5 281.9 554.8 281.9 555.2 281.9 555.5 281.9 555.9 281.8 556.2 281.8 556.6 281.8 557.0 281.8 557.3 281.8 557.7 281.8 558.0 281.8 558.4 281.8 558.8 281.8 559.1 281.7 559.5 281.7 559.8 281.7 560.2 281.7 560.5 281.7 560.9 281.7 561.3 281.7 561.6 281.6 562.0 281.6 562.3 281.6 562.7 281.6 563.0 281.6 563.4 281.6 563.8 281.6 564.1 281.5 564.5 281.5 564.8 281.5 565.2 281.5 565.5 281.5 565.9 281.5 566.3 281.4 566.6 281.4 567.0 281.4 567.3 281.4 567.7 281.4 568.1 281.3 568.4 281.3 568.8 281.3 569.1 281.3 569.5 281.3 569.8 281.2 570.2 281.2 570.6 281.2 570.9 281.2 571.3 281.1 571.6 281.1 572.0 281.0 572.3 280.9 572.7 280.7 573.1 280.5 573.4 280.3 573.8 280.0 574.1 279.8 574.5 279.5 574.8 279.3 575.2 279.0 575.6 278.8 575.9 278.6 576.3 278.4 576.6 278.3 577.0 278.1 577.4 278.0 577.7 277.9 578.1 277.8 578.4 277.7 578.8 277.6 579.1 277.5 579.5 277.4 579.9 277.3 580.2 277.2 580.6 277.1 580.9 277.0 581.3 277.0 581.6 276.9 582.0 276.8 582.4 276.7 582.7 276.6 583.1 276.5 583.4 276.4 583.8 276.3 584.1 276.2 584.5 276.1 584.9 276.1 585.2 276.0 585.6 275.9 585.9 275.8 586.3 275.7 586.6 275.7 587.0 275.6 587.4 275.5 587.7 275.4 588.1 275.3 588.4 275.2 588.8 275.1 589.2 275.0 589.5 274.8 589.9 274.7 590.2 274.6 590.6 274.4 590.9 274.2 591.3 274.0 591.7 273.7 592.0 273.4 592.4 273.0 592.7 272.7 593.1 272.3 593.4 271.9 593.8 271.4 594.2 271.0 594.5 270.5 594.9 270.0 595.2 269.5 595.6 269.0 595.9 268.5 596.3 268.0 596.7 267.4 597.0 266.8 597.4 266.1 597.7 265.4 598.1 264.7 598.5 264.0 598.8 263.2 599.2 262.5 599.5 261.7 599.9 261.0 600.2 260.3 600.6 259.6 601.0 258.8 601.3 258.0 601.7 257.3 602.0 256.5 602.4 255.7 602.7 255.0 603.1 254.2 603.5 253.4 603.8 252.7 604.2 252.0 604.5 251.2 604.9 250.3 605.2 249.4 605.6 248.5 606.0 247.6 606.3 246.7 606.7 245.9 607.0 245.2 607.4 244.6 607.7 244.1 608.1 243.7 608.5 243.6 608.8 243.6 609.2 243.9 609.5 244.3 609.9 244.8 610.3 245.5 610.6 246.2 611.0 247.1 611.3 248.0 611.7 248.9 612.0 249.9 612.4 250.9 612.8 251.9 613.1 252.8 613.5 253.7 613.8 254.5 614.2 255.3 614.5 256.2 614.9 257.1 615.3 258.0 615.6 258.9 616.0 259.8 616.3 260.8 616.7 261.7 617.0 262.5 617.4 263.4 617.8 264.3 618.1 265.1 618.5 266.0 618.8 266.8 619.2 267.6 619.6 268.5 619.9 269.3 620.3 270.1 620.6 270.9 621.0 271.7 621.3 272.4 621.7 273.1 622.1 273.8 622.4 274.6 622.8 275.3 623.1 276.1 623.5 276.8 623.8 277.6 624.2 278.2 624.6 278.8 624.9 279.4 625.3 279.8 625.6 280.1 626.0 280.3 626.3 280.5 626.7 280.6 627.1 280.8 627.4 280.9 627.8 281.1 628.1 281.2 628.5 281.3 628.9 281.4 629.2 281.5 629.6 281.6 629.9 281.7 630.3 281.8 630.6 281.8 631.0 281.8 631.4 281.9 631.7 281.9 632.1 281.9 632.4 281.9 632.8 281.9 633.1 281.9 633.5 281.9 633.9 281.9 634.2 281.9 634.6 281.9 634.9 281.9 635.3 281.9 635.6 281.9 636.0 282.0 636.4 282.0 636.7 282.0 637.1 282.0 637.4 282.0 637.8 282.0 638.1 282.0 638.5 282.0 638.9 282.0 639.2 282.0 639.6 282.0 639.9 282.0 640.3 282.0 640.7 282.0 641.0 282.0 641.4 282.0 641.7 282.0 642.1 282.0 642.4 282.0 642.8 282.0 643.2 282.0 643.5 282.0 643.9 282.1 644.2 282.1 644.6 282.1 644.9 282.1 645.3 282.1 645.7 282.1 646.0 282.1 646.4 282.1 646.7 282.1 647.1 282.1 647.4 282.1 647.8 282.1 648.2 282.1 648.5 282.1 648.9 282.1 649.2 282.1 649.6 282.1 650.0 282.1 650.3 282.1 650.7 282.1 651.0 282.1 651.4 282.1 651.7 282.1 652.1 282.1 652.5 282.1 652.8 282.1 653.2 282.1 653.5 282.1 653.9 282.1 654.2 282.1 654.6 282.1 655.0 282.1 655.3 282.1 655.7 282.1 656.0 282.1 656.4 282.1 656.7 282.1 657.1 282.1 657.5 282.1 657.8 282.1 658.2 282.1 658.5 282.1 658.9 282.1 659.3 282.1 659.6 282.1 660.0 282.1 660.3 282.1 660.7 282.1 661.0 282.1 661.4 282.1 661.8 282.1 662.1 282.1 662.5 282.1 662.8 282.1 663.2 282.1 663.5 282.1 663.9 282.1" fill="none" stroke="#10a9ea" stroke-width="0.5" stroke-opacity="0.25"/>
<path d="M521.2 282.0 521.6 282.0 521.9 282.0 522.3 282.0 522.6 282.0 523.0 282.0 523.3 282.0 523.7 281.9 524.1 281.9 524.4 281.9 524.8 281.9 525.1 281.9 525.5 281.9 525.8 281.9 526.2 281.9 526.6 281.9 526.9 281.9 527.3 281.9 527.6 281.9 528.0 281.9 528.4 281.9 528.7 281.9 529.1 281.9 529.4 281.9 529.8 281.9 530.1 281.9 530.5 281.9 530.9 281.8 531.2 281.8 531.6 281.8 531.9 281.8 532.3 281.8 532.6 281.8 533.0 281.8 533.4 281.8 533.7 281.8 534.1 281.8 534.4 281.8 534.8 281.8 535.1 281.8 535.5 281.8 535.9 281.8 536.2 281.8 536.6 281.7 536.9 281.7 537.3 281.7 537.7 281.7 538.0 281.7 538.4 281.7 538.7 281.7 539.1 281.7 539.4 281.7 539.8 281.7 540.2 281.7 540.5 281.7 540.9 281.7 541.2 281.7 541.6 281.6 541.9 281.6 542.3 281.6 542.7 281.6 543.0 281.6 543.4 281.6 543.7 281.6 544.1 281.6 544.4 281.6 544.8 281.6 545.2 281.6 545.5 281.5 545.9 281.5 546.2 281.5 546.6 281.5 547.0 281.5 547.3 281.5 547.7 281.5 548.0 281.5 548.4 281.5 548.7 281.5 549.1 281.4 549.5 281.4 549.8 281.4 550.2 281.3 550.5 281.2 550.9 281.1 551.2 281.1 551.6 281.0 552.0 280.9 552.3 280.8 552.7 280.6 553.0 280.5 553.4 280.4 553.7 280.3 554.1 280.2 554.5 280.1 554.8 280.0 555.2 279.9 555.5 279.8 555.9 279.7 556.2 279.6 556.6 279.6 557.0 279.5 557.3 279.5 557.7 279.4 558.0 279.4 558.4 279.3 558.8 279.3 559.1 279.2 559.5 279.2 559.8 279.1 560.2 279.1 560.5 279.0 560.9 279.0 561.3 279.0 561.6 278.9 562.0 278.9 562.3 278.8 562.7 278.8 563.0 278.8 563.4 278.7 563.8 278.7 564.1 278.7 564.5 278.6 564.8 278.6 565.2 278.5 565.5 278.5 565.9 278.5 566.3 278.4 566.6 278.4 567.0 278.3 567.3 278.3 567.7 278.3 568.1 278.2 568.4 278.2 568.8 278.1 569.1 278.1 569.5 278.1 569.8 278.0 570.2 278.0 570.6 278.0 570.9 277.9 571.3 277.9 571.6 277.8 572.0 277.8 572.3 277.8 572.7 277.7 573.1 277.7 573.4 277.7 573.8 277.6 574.1 277.6 574.5 277.5 574.8 277.5 575.2 277.4 575.6 277.4 575.9 277.3 576.3 277.3 576.6 277.2 577.0 277.2 577.4 277.1 577.7 277.0 578.1 277.0 578.4 276.9 578.8 276.8 579.1 276.7 579.5 276.6 579.9 276.5 580.2 276.3 580.6 276.2 580.9 276.0 581.3 275.9 581.6 275.7 582.0 275.5 582.4 275.4 582.7 275.2 583.1 275.0 583.4 274.8 583.8 274.6 584.1 274.4 584.5 274.2 584.9 274.0 585.2 273.7 585.6 273.5 585.9 273.3 586.3 273.1 586.6 272.9 587.0 272.6 587.4 272.4 587.7 272.1 588.1 271.8 588.4 271.5 588.8 271.2 589.2 270.9 589.5 270.6 589.9 270.3 590.2 270.0 590.6 269.6 590.9 269.3 591.3 269.0 591.7 268.7 592.0 268.4 592.4 268.0 592.7 267.7 593.1 267.4 593.4 267.1 593.8 266.8 594.2 266.4 594.5 266.1 594.9 265.8 595.2 265.4 595.6 265.1 595.9 264.8 596.3 264.4 596.7 264.1 597.0 263.7 597.4 263.4 597.7 263.1 598.1 262.8 598.5 262.4 598.8 262.1 599.2 261.8 599.5 261.4 599.9 261.1 600.2 260.7 600.6 260.3 601.0 259.9 601.3 259.5 601.7 259.1 602.0 258.7 602.4 258.3 602.7 258.0 603.1 257.7 603.5 257.4 603.8 257.1 604.2 256.9 604.5 256.7 604.9 256.5 605.2 256.5 605.6 256.4 606.0 256.4 606.3 256.5 606.7 256.7 607.0 256.8 607.4 257.0 607.7 257.3 608.1 257.6 608.5 257.9 608.8 258.2 609.2 258.6 609.5 259.0 609.9 259.4 610.3 259.8 610.6 260.2 611.0 260.6 611.3 261.1 611.7 261.5 612.0 261.9 612.4 262.3 612.8 262.7 613.1 263.1 613.5 263.5 613.8 263.8 614.2 264.2 614.5 264.6 614.9 265.0 615.3 265.3 615.6 265.7 616.0 266.1 616.3 266.5 616.7 266.9 617.0 267.3 617.4 267.7 617.8 268.1 618.1 268.5 618.5 268.9 618.8 269.3 619.2 269.7 619.6 270.0 619.9 270.4 620.3 270.8 620.6 271.2 621.0 271.5 621.3 271.9 621.7 272.3 622.1 272.6 622.4 273.0 622.8 273.3 623.1 273.7 623.5 274.1 623.8 274.4 624.2 274.7 624.6 275.1 624.9 275.4 625.3 275.7 625.6 276.0 626.0 276.3 626.3 276.7 626.7 277.0 627.1 277.3 627.4 277.6 627.8 278.0 628.1 278.3 628.5 278.6 628.9 278.9 629.2 279.2 629.6 279.5 629.9 279.8 630.3 280.0 630.6 280.3 631.0 280.5 631.4 280.6 631.7 280.7 632.1 280.8 632.4 280.9 632.8 281.0 633.1 281.1 633.5 281.1 633.9 281.2 634.2 281.3 634.6 281.3 634.9 281.4 635.3 281.5 635.6 281.5 636.0 281.6 636.4 281.6 636.7 281.7 637.1 281.7 637.4 281.7 637.8 281.8 638.1 281.8 638.5 281.8 638.9 281.9 639.2 281.9 639.6 281.9 639.9 281.9 640.3 281.9 640.7 281.9 641.0 281.9 641.4 281.9 641.7 282.0 642.1 282.0 642.4 282.0 642.8 282.0 643.2 282.0 643.5 282.0 643.9 282.0 644.2 282.0 644.6 282.0 644.9 282.0 645.3 282.0 645.7 282.0 646.0 282.0 646.4 282.0 646.7 282.0 647.1 282.0 647.4 282.0 647.8 282.0 648.2 282.0 648.5 282.0 648.9 282.0 649.2 282.0 649.6 282.0 650.0 282.0 650.3 282.0 650.7 282.0 651.0 282.0 651.4 282.0 651.7 282.0 652.1 282.0 652.5 282.0 652.8 282.0 653.2 282.0 653.5 282.0 653.9 282.0 654.2 282.0 654.6 282.0 655.0 282.0 655.3 282.0 655.7 282.1 656.0 282.1 656.4 282.1 656.7 282.1 657.1 282.1 657.5 282.1 657.8 282.1 658.2 282.1 658.5 282.1 658.9 282.1 659.3 282.1 659.6 282.1 660.0 282.1 660.3 282.1 660.7 282.1 661.0 282.1 661.4 282.1 661.8 282.1 662.1 282.1 662.5 282.1 662.8 282.1 663.2 282.1 663.5 282.1 663.9 282.1" fill="none" stroke="#10a9ea" stroke-width="0.5" stroke-opacity="0.2"/>
<path d="M521.2 282.1 521.6 282.1 521.9 282.1 522.3 282.1 522.6 282.1 523.0 282.1 523.3 282.1 523.7 282.1 524.1 282.1 524.4 282.1 524.8 282.1 525.1 282.1 525.5 282.1 525.8 282.1 526.2 282.1 526.6 282.1 526.9 282.1 527.3 282.1 527.6 282.1 528.0 282.1 528.4 282.1 528.7 282.1 529.1 282.1 529.4 282.1 529.8 282.1 530.1 282.1 530.5 282.1 530.9 282.1 531.2 282.1 531.6 282.1 531.9 282.1 532.3 282.1 532.6 282.1 533.0 282.1 533.4 282.1 533.7 282.1 534.1 282.1 534.4 282.1 534.8 282.1 535.1 282.1 535.5 282.1 535.9 282.1 536.2 282.0 536.6 282.0 536.9 282.0 537.3 282.0 537.7 282.0 538.0 282.0 538.4 282.0 538.7 282.0 539.1 282.0 539.4 282.0 539.8 282.0 540.2 282.0 540.5 282.0 540.9 282.0 541.2 282.0 541.6 282.0 541.9 282.0 542.3 282.0 542.7 282.0 543.0 282.0 543.4 282.0 543.7 281.9 544.1 281.9 544.4 281.9 544.8 281.9 545.2 281.9 545.5 281.9 545.9 281.9 546.2 281.9 546.6 281.9 547.0 281.9 547.3 281.9 547.7 281.9 548.0 281.9 548.4 281.9 548.7 281.8 549.1 281.8 549.5 281.8 549.8 281.8 550.2 281.8 550.5 281.8 550.9 281.8 551.2 281.8 551.6 281.8 552.0 281.8 552.3 281.8 552.7 281.7 553.0 281.7 553.4 281.7 553.7 281.7 554.1 281.7 554.5 281.7 554.8 281.7 555.2 281.7 555.5 281.7 555.9 281.6 556.2 281.6 556.6 281.6 557.0 281.6 557.3 281.6 557.7 281.6 558.0 281.6 558.4 281.6 558.8 281.5 559.1 281.5 559.5 281.5 559.8 281.5 560.2 281.5 560.5 281.5 560.9 281.5 561.3 281.4 561.6 281.4 562.0 281.4 562.3 281.4 562.7 281.4 563.0 281.4 563.4 281.3 563.8 281.3 564.1 281.3 564.5 281.3 564.8 281.3 565.2 281.3 565.5 281.2 565.9 281.2 566.3 281.2 566.6 281.1 567.0 281.0 567.3 280.9 567.7 280.8 568.1 280.6 568.4 280.5 568.8 280.3 569.1 280.1 569.5 279.9 569.8 279.7 570.2 279.5 570.6 279.3 570.9 279.1 571.3 278.9 571.6 278.8 572.0 278.7 572.3 278.6 572.7 278.5 573.1 278.4 573.4 278.3 573.8 278.2 574.1 278.1 574.5 278.0 574.8 277.9 575.2 277.9 575.6 277.8 575.9 277.7 576.3 277.7 576.6 277.6 577.0 277.5 577.4 277.5 577.7 277.4 578.1 277.3 578.4 277.3 578.8 277.2 579.1 277.1 579.5 277.1 579.9 277.0 580.2 276.9 580.6 276.8 580.9 276.8 581.3 276.7 581.6 276.6 582.0 276.6 582.4 276.5 582.7 276.4 583.1 276.4 583.4 276.3 583.8 276.2 584.1 276.2 584.5 276.1 584.9 276.0 585.2 276.0 585.6 275.9 585.9 275.8 586.3 275.7 586.6 275.6 587.0 275.6 587.4 275.5 587.7 275.3 588.1 275.2 588.4 275.1 588.8 275.0 589.2 274.8 589.5 274.6 589.9 274.4 590.2 274.2 590.6 273.9 590.9 273.7 591.3 273.4 591.7 273.1 592.0 272.7 592.4 272.4 592.7 272.1 593.1 271.7 593.4 271.3 593.8 270.9 594.2 270.6 594.5 270.2 594.9 269.8 595.2 269.4 595.6 268.9 595.9 268.5 596.3 268.0 596.7 267.5 597.0 266.9 597.4 266.4 597.7 265.8 598.1 265.2 598.5 264.6 598.8 264.1 599.2 263.5 599.5 262.9 599.9 262.4 600.2 261.8 600.6 261.2 601.0 260.6 601.3 260.0 601.7 259.4 602.0 258.8 602.4 258.2 602.7 257.6 603.1 257.0 603.5 256.4 603.8 255.8 604.2 255.3 604.5 254.7 604.9 254.1 605.2 253.5 605.6 252.8 606.0 252.1 606.3 251.4 606.7 250.6 607.0 250.0 607.4 249.3 607.7 248.7 608.1 248.1 608.5 247.7 608.8 247.3 609.2 247.0 609.5 246.8 609.9 246.8 610.3 246.9 610.6 247.1 611.0 247.4 611.3 247.8 611.7 248.3 612.0 248.9 612.4 249.5 612.8 250.2 613.1 250.9 613.5 251.6 613.8 252.4 614.2 253.2 614.5 253.9 614.9 254.7 615.3 255.4 615.6 256.1 616.0 256.7 616.3 257.4 616.7 258.0 617.0 258.7 617.4 259.4 617.8 260.1 618.1 260.8 618.5 261.6 618.8 262.3 619.2 263.0 619.6 263.7 619.9 264.4 620.3 265.1 620.6 265.7 621.0 266.4 621.3 267.0 621.7 267.7 622.1 268.3 622.4 269.0 622.8 269.6 623.1 270.3 623.5 270.9 623.8 271.5 624.2 272.1 624.6 272.7 624.9 273.3 625.3 273.9 625.6 274.4 626.0 275.0 626.3 275.6 626.7 276.2 627.1 276.8 627.4 277.3 627.8 277.9 628.1 278.4 628.5 278.9 628.9 279.4 629.2 279.7 629.6 280.0 629.9 280.3 630.3 280.4 630.6 280.6 631.0 280.7 631.4 280.8 631.7 280.9 632.1 281.1 632.4 281.2 632.8 281.3 633.1 281.4 633.5 281.5 633.9 281.5 634.2 281.6 634.6 281.7 634.9 281.7 635.3 281.8 635.6 281.8 636.0 281.8 636.4 281.9 636.7 281.9 637.1 281.9 637.4 281.9 637.8 281.9 638.1 281.9 638.5 281.9 638.9 281.9 639.2 281.9 639.6 281.9 639.9 281.9 640.3 281.9 640.7 281.9 641.0 281.9 641.4 282.0 641.7 282.0 642.1 282.0 642.4 282.0 642.8 282.0 643.2 282.0 643.5 282.0 643.9 282.0 644.2 282.0 644.6 282.0 644.9 282.0 645.3 282.0 645.7 282.0 646.0 282.0 646.4 282.0 646.7 282.0 647.1 282.0 647.4 282.0 647.8 282.0 648.2 282.0 648.5 282.0 648.9 282.0 649.2 282.0 649.6 282.0 650.0 282.0 650.3 282.0 650.7 282.1 651.0 282.1 651.4 282.1 651.7 282.1 652.1 282.1 652.5 282.1 652.8 282.1 653.2 282.1 653.5 282.1 653.9 282.1 654.2 282.1 654.6 282.1 655.0 282.1 655.3 282.1 655.7 282.1 656.0 282.1 656.4 282.1 656.7 282.1 657.1 282.1 657.5 282.1 657.8 282.1 658.2 282.1 658.5 282.1 658.9 282.1 659.3 282.1 659.6 282.1 660.0 282.1 660.3 282.1 660.7 282.1 661.0 282.1 661.4 282.1 661.8 282.1 662.1 282.1 662.5 282.1 662.8 282.1 663.2 282.1 663.5 282.1 663.9 282.1" fill="none" stroke="#10a9ea" stroke-width="0.5" stroke-opacity="0.2"/>
<path d="M521.20 282.10 L521.56 282.10 L521.92 282.10 L522.27 282.10 L522.63 282.10 L522.99 282.10 L523.35 282.10 L523.70 282.10 L524.06 282.10 L524.42 282.10 L524.78 282.10 L525.13 282.09 L525.49 282.09 L525.85 282.09 L526.21 282.09 L526.56 282.09 L526.92 282.09 L527.28 282.09 L527.64 282.08 L528.00 282.08 L528.35 282.08 L528.71 282.08 L529.07 282.08 L529.43 282.07 L529.78 282.07 L530.14 282.07 L530.50 282.06 L530.86 282.06 L531.21 282.06 L531.57 282.06 L531.93 282.05 L532.29 282.05 L532.64 282.04 L533.00 282.04 L533.36 282.04 L533.72 282.03 L534.08 282.03 L534.43 282.02 L534.79 282.02 L535.15 282.01 L535.51 282.01 L535.86 282.00 L536.22 282.00 L536.58 281.99 L536.94 281.99 L537.29 281.98 L537.65 281.97 L538.01 281.97 L538.37 281.96 L538.72 281.95 L539.08 281.95 L539.44 281.94 L539.80 281.93 L540.16 281.93 L540.51 281.92 L540.87 281.91 L541.23 281.90 L541.59 281.89 L541.94 281.88 L542.30 281.88 L542.66 281.87 L543.02 281.86 L543.37 281.85 L543.73 281.84 L544.09 281.83 L544.45 281.82 L544.80 281.81 L545.16 281.80 L545.52 281.79 L545.88 281.78 L546.24 281.77 L546.59 281.76 L546.95 281.74 L547.31 281.73 L547.67 281.72 L548.02 281.71 L548.38 281.70 L548.74 281.68 L549.10 281.67 L549.45 281.66 L549.81 281.64 L550.17 281.63 L550.53 281.62 L550.88 281.60 L551.24 281.59 L551.60 281.57 L551.96 281.56 L552.32 281.54 L552.67 281.53 L553.03 281.51 L553.39 281.49 L553.75 281.48 L554.10 281.46 L554.46 281.45 L554.82 281.43 L555.18 281.41 L555.53 281.39 L555.89 281.38 L556.25 281.36 L556.61 281.34 L556.96 281.32 L557.32 281.30 L557.68 281.28 L558.04 281.26 L558.39 281.24 L558.75 281.22 L559.11 281.20 L559.47 281.18 L559.83 281.16 L560.18 281.14 L560.54 281.12 L560.90 281.10 L561.26 281.07 L561.61 281.05 L561.97 281.03 L562.33 281.00 L562.69 280.98 L563.04 280.96 L563.40 280.93 L563.76 280.91 L564.12 280.87 L564.47 280.80 L564.83 280.69 L565.19 280.54 L565.55 280.37 L565.91 280.18 L566.26 279.96 L566.62 279.73 L566.98 279.49 L567.34 279.24 L567.69 278.99 L568.05 278.75 L568.41 278.51 L568.77 278.28 L569.12 278.07 L569.48 277.88 L569.84 277.72 L570.20 277.59 L570.55 277.47 L570.91 277.36 L571.27 277.26 L571.63 277.16 L571.99 277.06 L572.34 276.97 L572.70 276.88 L573.06 276.79 L573.42 276.71 L573.77 276.63 L574.13 276.55 L574.49 276.48 L574.85 276.40 L575.20 276.33 L575.56 276.25 L575.92 276.18 L576.28 276.11 L576.63 276.03 L576.99 275.95 L577.35 275.88 L577.71 275.80 L578.07 275.71 L578.42 275.63 L578.78 275.54 L579.14 275.46 L579.50 275.38 L579.85 275.30 L580.21 275.23 L580.57 275.16 L580.93 275.09 L581.28 275.02 L581.64 274.94 L582.00 274.87 L582.36 274.80 L582.71 274.72 L583.07 274.64 L583.43 274.56 L583.79 274.47 L584.15 274.38 L584.50 274.28 L584.86 274.18 L585.22 274.07 L585.58 273.95 L585.93 273.82 L586.29 273.69 L586.65 273.54 L587.01 273.36 L587.36 273.16 L587.72 272.93 L588.08 272.67 L588.44 272.39 L588.79 272.08 L589.15 271.75 L589.51 271.40 L589.87 271.04 L590.23 270.66 L590.58 270.26 L590.94 269.85 L591.30 269.43 L591.66 269.00 L592.01 268.57 L592.37 268.12 L592.73 267.68 L593.09 267.21 L593.44 266.70 L593.80 266.14 L594.16 265.56 L594.52 264.94 L594.87 264.29 L595.23 263.62 L595.59 262.95 L595.95 262.26 L596.31 261.56 L596.66 260.87 L597.02 260.19 L597.38 259.52 L597.74 258.87 L598.09 258.21 L598.45 257.55 L598.81 256.89 L599.17 256.22 L599.52 255.55 L599.88 254.88 L600.24 254.21 L600.60 253.53 L600.95 252.86 L601.31 252.18 L601.67 251.51 L602.03 250.84 L602.39 250.18 L602.74 249.48 L603.10 248.72 L603.46 247.90 L603.82 247.04 L604.17 246.17 L604.53 245.30 L604.89 244.44 L605.25 243.62 L605.60 242.86 L605.96 242.16 L606.32 241.56 L606.68 241.06 L607.03 240.69 L607.39 240.47 L607.75 240.40 L608.11 240.51 L608.47 240.77 L608.82 241.18 L609.18 241.72 L609.54 242.37 L609.90 243.12 L610.25 243.95 L610.61 244.85 L610.97 245.79 L611.33 246.77 L611.68 247.77 L612.04 248.77 L612.40 249.76 L612.76 250.73 L613.11 251.64 L613.47 252.50 L613.83 253.29 L614.19 254.06 L614.55 254.84 L614.90 255.62 L615.26 256.41 L615.62 257.20 L615.98 257.98 L616.33 258.77 L616.69 259.55 L617.05 260.33 L617.41 261.11 L617.76 261.87 L618.12 262.63 L618.48 263.37 L618.84 264.12 L619.19 264.87 L619.55 265.63 L619.91 266.38 L620.27 267.13 L620.63 267.88 L620.98 268.62 L621.34 269.34 L621.70 270.05 L622.06 270.74 L622.41 271.41 L622.77 272.06 L623.13 272.68 L623.49 273.28 L623.84 273.88 L624.20 274.50 L624.56 275.11 L624.92 275.73 L625.27 276.32 L625.63 276.90 L625.99 277.45 L626.35 277.96 L626.71 278.43 L627.06 278.84 L627.42 279.19 L627.78 279.47 L628.14 279.68 L628.49 279.87 L628.85 280.06 L629.21 280.24 L629.57 280.41 L629.92 280.58 L630.28 280.73 L630.64 280.88 L631.00 281.02 L631.35 281.15 L631.71 281.27 L632.07 281.38 L632.43 281.47 L632.78 281.56 L633.14 281.63 L633.50 281.69 L633.86 281.74 L634.22 281.78 L634.57 281.80 L634.93 281.81 L635.29 281.81 L635.65 281.82 L636.00 281.83 L636.36 281.84 L636.72 281.85 L637.08 281.86 L637.43 281.86 L637.79 281.87 L638.15 281.88 L638.51 281.89 L638.86 281.89 L639.22 281.90 L639.58 281.91 L639.94 281.91 L640.30 281.92 L640.65 281.93 L641.01 281.93 L641.37 281.94 L641.73 281.94 L642.08 281.95 L642.44 281.96 L642.80 281.96 L643.16 281.97 L643.51 281.97 L643.87 281.98 L644.23 281.98 L644.59 281.99 L644.94 281.99 L645.30 282.00 L645.66 282.00 L646.02 282.01 L646.38 282.01 L646.73 282.01 L647.09 282.02 L647.45 282.02 L647.81 282.03 L648.16 282.03 L648.52 282.03 L648.88 282.04 L649.24 282.04 L649.59 282.04 L649.95 282.05 L650.31 282.05 L650.67 282.05 L651.02 282.05 L651.38 282.06 L651.74 282.06 L652.10 282.06 L652.46 282.07 L652.81 282.07 L653.17 282.07 L653.53 282.07 L653.89 282.07 L654.24 282.08 L654.60 282.08 L654.96 282.08 L655.32 282.08 L655.67 282.08 L656.03 282.08 L656.39 282.09 L656.75 282.09 L657.10 282.09 L657.46 282.09 L657.82 282.09 L658.18 282.09 L658.54 282.09 L658.89 282.09 L659.25 282.09 L659.61 282.10 L659.97 282.10 L660.32 282.10 L660.68 282.10 L661.04 282.10 L661.40 282.10 L661.75 282.10 L662.11 282.10 L662.47 282.10 L662.83 282.10 L663.18 282.10 L663.54 282.10 L663.90 282.10 L663.90 282.10 L663.54 282.10 L663.18 282.10 L662.83 282.10 L662.47 282.10 L662.11 282.10 L661.75 282.10 L661.40 282.10 L661.04 282.10 L660.68 282.10 L660.32 282.10 L659.97 282.10 L659.61 282.10 L659.25 282.10 L658.89 282.10 L658.54 282.10 L658.18 282.10 L657.82 282.10 L657.46 282.10 L657.10 282.10 L656.75 282.10 L656.39 282.10 L656.03 282.09 L655.67 282.09 L655.32 282.09 L654.96 282.09 L654.60 282.09 L654.24 282.09 L653.89 282.09 L653.53 282.09 L653.17 282.09 L652.81 282.09 L652.46 282.09 L652.10 282.09 L651.74 282.09 L651.38 282.09 L651.02 282.08 L650.67 282.08 L650.31 282.08 L649.95 282.08 L649.59 282.08 L649.24 282.08 L648.88 282.08 L648.52 282.08 L648.16 282.08 L647.81 282.08 L647.45 282.07 L647.09 282.07 L646.73 282.07 L646.38 282.07 L646.02 282.07 L645.66 282.07 L645.30 282.07 L644.94 282.06 L644.59 282.06 L644.23 282.06 L643.87 282.06 L643.51 282.06 L643.16 282.06 L642.80 282.05 L642.44 282.05 L642.08 282.05 L641.73 282.05 L641.37 282.05 L641.01 282.04 L640.65 282.04 L640.30 282.04 L639.94 282.04 L639.58 282.04 L639.22 282.03 L638.86 282.03 L638.51 282.03 L638.15 282.03 L637.79 282.02 L637.43 282.02 L637.08 282.02 L636.72 282.02 L636.36 282.01 L636.00 282.01 L635.65 282.01 L635.29 282.00 L634.93 282.00 L634.57 282.00 L634.22 281.99 L633.86 281.98 L633.50 281.97 L633.14 281.95 L632.78 281.92 L632.43 281.89 L632.07 281.86 L631.71 281.82 L631.35 281.78 L631.00 281.74 L630.64 281.69 L630.28 281.63 L629.92 281.58 L629.57 281.52 L629.21 281.45 L628.85 281.38 L628.49 281.31 L628.14 281.23 L627.78 281.14 L627.42 280.98 L627.06 280.76 L626.71 280.49 L626.35 280.17 L625.99 279.80 L625.63 279.41 L625.27 278.99 L624.92 278.56 L624.56 278.12 L624.20 277.67 L623.84 277.24 L623.49 276.82 L623.13 276.42 L622.77 276.00 L622.41 275.57 L622.06 275.12 L621.70 274.66 L621.34 274.19 L620.98 273.71 L620.63 273.23 L620.27 272.74 L619.91 272.25 L619.55 271.76 L619.19 271.26 L618.84 270.77 L618.48 270.28 L618.12 269.79 L617.76 269.28 L617.41 268.76 L617.05 268.22 L616.69 267.68 L616.33 267.14 L615.98 266.61 L615.62 266.08 L615.26 265.56 L614.90 265.06 L614.55 264.58 L614.19 264.13 L613.83 263.70 L613.47 263.30 L613.11 262.87 L612.76 262.44 L612.40 262.00 L612.04 261.56 L611.68 261.12 L611.33 260.69 L610.97 260.28 L610.61 259.89 L610.25 259.52 L609.90 259.18 L609.54 258.88 L609.18 258.62 L608.82 258.41 L608.47 258.25 L608.11 258.14 L607.75 258.10 L607.39 258.13 L607.03 258.24 L606.68 258.43 L606.32 258.68 L605.96 258.98 L605.60 259.32 L605.25 259.71 L604.89 260.13 L604.53 260.56 L604.17 261.01 L603.82 261.46 L603.46 261.91 L603.10 262.35 L602.74 262.76 L602.39 263.14 L602.03 263.52 L601.67 263.91 L601.31 264.31 L600.95 264.72 L600.60 265.14 L600.24 265.56 L599.88 265.98 L599.52 266.40 L599.17 266.82 L598.81 267.24 L598.45 267.66 L598.09 268.06 L597.74 268.46 L597.38 268.85 L597.02 269.25 L596.66 269.65 L596.31 270.05 L595.95 270.45 L595.59 270.85 L595.23 271.25 L594.87 271.63 L594.52 272.01 L594.16 272.37 L593.80 272.72 L593.44 273.05 L593.09 273.36 L592.73 273.65 L592.37 273.93 L592.01 274.21 L591.66 274.49 L591.30 274.76 L590.94 275.03 L590.58 275.29 L590.23 275.55 L589.87 275.80 L589.51 276.04 L589.15 276.27 L588.79 276.48 L588.44 276.68 L588.08 276.87 L587.72 277.05 L587.36 277.20 L587.01 277.34 L586.65 277.46 L586.29 277.56 L585.93 277.65 L585.58 277.74 L585.22 277.82 L584.86 277.90 L584.50 277.98 L584.15 278.05 L583.79 278.11 L583.43 278.17 L583.07 278.23 L582.71 278.29 L582.36 278.35 L582.00 278.40 L581.64 278.45 L581.28 278.50 L580.93 278.55 L580.57 278.60 L580.21 278.65 L579.85 278.70 L579.50 278.76 L579.14 278.81 L578.78 278.86 L578.42 278.92 L578.07 278.97 L577.71 279.03 L577.35 279.08 L576.99 279.13 L576.63 279.18 L576.28 279.22 L575.92 279.27 L575.56 279.32 L575.20 279.36 L574.85 279.41 L574.49 279.45 L574.13 279.50 L573.77 279.55 L573.42 279.59 L573.06 279.64 L572.70 279.69 L572.34 279.74 L571.99 279.80 L571.63 279.85 L571.27 279.91 L570.91 279.97 L570.55 280.03 L570.20 280.09 L569.84 280.17 L569.48 280.25 L569.12 280.35 L568.77 280.45 L568.41 280.57 L568.05 280.68 L567.69 280.80 L567.34 280.92 L566.98 281.04 L566.62 281.16 L566.26 281.27 L565.91 281.37 L565.55 281.46 L565.19 281.54 L564.83 281.61 L564.47 281.66 L564.12 281.69 L563.76 281.70 L563.40 281.71 L563.04 281.72 L562.69 281.73 L562.33 281.74 L561.97 281.74 L561.61 281.75 L561.26 281.76 L560.90 281.77 L560.54 281.77 L560.18 281.78 L559.83 281.79 L559.47 281.80 L559.11 281.80 L558.75 281.81 L558.39 281.82 L558.04 281.82 L557.68 281.83 L557.32 281.84 L556.96 281.84 L556.61 281.85 L556.25 281.86 L555.89 281.86 L555.53 281.87 L555.18 281.87 L554.82 281.88 L554.46 281.89 L554.10 281.89 L553.75 281.90 L553.39 281.90 L553.03 281.91 L552.67 281.91 L552.32 281.92 L551.96 281.92 L551.60 281.93 L551.24 281.93 L550.88 281.94 L550.53 281.94 L550.17 281.95 L549.81 281.95 L549.45 281.96 L549.10 281.96 L548.74 281.96 L548.38 281.97 L548.02 281.97 L547.67 281.98 L547.31 281.98 L546.95 281.98 L546.59 281.99 L546.24 281.99 L545.88 282.00 L545.52 282.00 L545.16 282.00 L544.80 282.01 L544.45 282.01 L544.09 282.01 L543.73 282.02 L543.37 282.02 L543.02 282.02 L542.66 282.03 L542.30 282.03 L541.94 282.03 L541.59 282.03 L541.23 282.04 L540.87 282.04 L540.51 282.04 L540.16 282.04 L539.80 282.05 L539.44 282.05 L539.08 282.05 L538.72 282.05 L538.37 282.06 L538.01 282.06 L537.65 282.06 L537.29 282.06 L536.94 282.06 L536.58 282.07 L536.22 282.07 L535.86 282.07 L535.51 282.07 L535.15 282.07 L534.79 282.07 L534.43 282.08 L534.08 282.08 L533.72 282.08 L533.36 282.08 L533.00 282.08 L532.64 282.08 L532.29 282.08 L531.93 282.09 L531.57 282.09 L531.21 282.09 L530.86 282.09 L530.50 282.09 L530.14 282.09 L529.78 282.09 L529.43 282.09 L529.07 282.09 L528.71 282.09 L528.35 282.09 L528.00 282.09 L527.64 282.10 L527.28 282.10 L526.92 282.10 L526.56 282.10 L526.21 282.10 L525.85 282.10 L525.49 282.10 L525.13 282.10 L524.78 282.10 L524.42 282.10 L524.06 282.10 L523.70 282.10 L523.35 282.10 L522.99 282.10 L522.63 282.10 L522.27 282.10 L521.92 282.10 L521.56 282.10 L521.20 282.10 Z" fill="#10a9ea" fill-opacity="0.38"/>
<path d="M521.2 282.1 521.6 282.1 521.9 282.1 522.3 282.1 522.6 282.1 523.0 282.1 523.3 282.1 523.7 282.1 524.1 282.1 524.4 282.1 524.8 282.1 525.1 282.1 525.5 282.1 525.8 282.1 526.2 282.1 526.6 282.1 526.9 282.0 527.3 282.0 527.6 282.0 528.0 282.0 528.4 282.0 528.7 282.0 529.1 282.0 529.4 282.0 529.8 282.0 530.1 282.0 530.5 282.0 530.9 281.9 531.2 281.9 531.6 281.9 531.9 281.9 532.3 281.9 532.6 281.9 533.0 281.9 533.4 281.9 533.7 281.8 534.1 281.8 534.4 281.8 534.8 281.8 535.1 281.8 535.5 281.8 535.9 281.7 536.2 281.7 536.6 281.7 536.9 281.6 537.3 281.5 537.7 281.5 538.0 281.4 538.4 281.3 538.7 281.3 539.1 281.2 539.4 281.1 539.8 281.0 540.2 280.9 540.5 280.8 540.9 280.7 541.2 280.6 541.6 280.4 541.9 280.3 542.3 280.2 542.7 280.1 543.0 280.0 543.4 279.8 543.7 279.7 544.1 279.6 544.4 279.5 544.8 279.3 545.2 279.2 545.5 279.1 545.9 278.9 546.2 278.8 546.6 278.7 547.0 278.5 547.3 278.4 547.7 278.3 548.0 278.2 548.4 278.1 548.7 277.9 549.1 277.8 549.5 277.7 549.8 277.6 550.2 277.5 550.5 277.4 550.9 277.3 551.2 277.2 551.6 277.1 552.0 277.0 552.3 276.9 552.7 276.8 553.0 276.7 553.4 276.6 553.7 276.6 554.1 276.5 554.5 276.4 554.8 276.3 555.2 276.2 555.5 276.1 555.9 276.0 556.2 275.9 556.6 275.8 557.0 275.7 557.3 275.6 557.7 275.6 558.0 275.5 558.4 275.4 558.8 275.3 559.1 275.2 559.5 275.1 559.8 275.1 560.2 275.0 560.5 274.9 560.9 274.8 561.3 274.7 561.6 274.7 562.0 274.6 562.3 274.6 562.7 274.5 563.0 274.4 563.4 274.4 563.8 274.3 564.1 274.3 564.5 274.2 564.8 274.1 565.2 274.1 565.5 274.0 565.9 273.9 566.3 273.9 566.6 273.8 567.0 273.7 567.3 273.6 567.7 273.5 568.1 273.4 568.4 273.3 568.8 273.2 569.1 273.0 569.5 272.8 569.8 272.6 570.2 272.3 570.6 272.0 570.9 271.7 571.3 271.3 571.6 271.0 572.0 270.6 572.3 270.3 572.7 269.9 573.1 269.5 573.4 269.2 573.8 268.9 574.1 268.5 574.5 268.2 574.8 268.0 575.2 267.7 575.6 267.5 575.9 267.4 576.3 267.3 576.6 267.2 577.0 267.2 577.4 267.2 577.7 267.3 578.1 267.4 578.4 267.5 578.8 267.7 579.1 267.8 579.5 268.0 579.9 268.2 580.2 268.4 580.6 268.6 580.9 268.8 581.3 269.0 581.6 269.1 582.0 269.3 582.4 269.5 582.7 269.6 583.1 269.7 583.4 269.8 583.8 269.8 584.1 269.9 584.5 270.0 584.9 270.1 585.2 270.2 585.6 270.2 585.9 270.3 586.3 270.4 586.6 270.4 587.0 270.5 587.4 270.6 587.7 270.6 588.1 270.7 588.4 270.7 588.8 270.8 589.2 270.8 589.5 270.8 589.9 270.9 590.2 270.9 590.6 270.9 590.9 270.9 591.3 270.9 591.7 270.9 592.0 270.9 592.4 270.9 592.7 270.9 593.1 270.8 593.4 270.8 593.8 270.8 594.2 270.8 594.5 270.8 594.9 270.7 595.2 270.7 595.6 270.7 595.9 270.6 596.3 270.6 596.7 270.6 597.0 270.5 597.4 270.5 597.7 270.4 598.1 270.4 598.5 270.4 598.8 270.3 599.2 270.3 599.5 270.2 599.9 270.2 600.2 270.2 600.6 270.1 601.0 270.1 601.3 270.0 601.7 270.0 602.0 269.9 602.4 269.9 602.7 269.8 603.1 269.7 603.5 269.6 603.8 269.6 604.2 269.5 604.5 269.4 604.9 269.3 605.2 269.2 605.6 269.2 606.0 269.1 606.3 269.0 606.7 268.9 607.0 268.9 607.4 268.8 607.7 268.7 608.1 268.7 608.5 268.6 608.8 268.6 609.2 268.6 609.5 268.5 609.9 268.5 610.3 268.5 610.6 268.5 611.0 268.5 611.3 268.6 611.7 268.6 612.0 268.7 612.4 268.8 612.8 268.9 613.1 269.0 613.5 269.2 613.8 269.3 614.2 269.5 614.5 269.6 614.9 269.8 615.3 270.0 615.6 270.1 616.0 270.3 616.3 270.5 616.7 270.7 617.0 270.9 617.4 271.1 617.8 271.3 618.1 271.6 618.5 271.9 618.8 272.2 619.2 272.5 619.6 272.9 619.9 273.3 620.3 273.6 620.6 274.0 621.0 274.4 621.3 274.7 621.7 275.1 622.1 275.4 622.4 275.8 622.8 276.1 623.1 276.3 623.5 276.6 623.8 276.8 624.2 277.0 624.6 277.3 624.9 277.5 625.3 277.7 625.6 277.9 626.0 278.2 626.3 278.4 626.7 278.6 627.1 278.8 627.4 279.0 627.8 279.2 628.1 279.3 628.5 279.5 628.9 279.7 629.2 279.8 629.6 280.0 629.9 280.1 630.3 280.2 630.6 280.3 631.0 280.4 631.4 280.5 631.7 280.6 632.1 280.7 632.4 280.7 632.8 280.8 633.1 280.9 633.5 280.9 633.9 281.0 634.2 281.0 634.6 281.1 634.9 281.1 635.3 281.2 635.6 281.2 636.0 281.3 636.4 281.3 636.7 281.4 637.1 281.4 637.4 281.4 637.8 281.5 638.1 281.5 638.5 281.5 638.9 281.6 639.2 281.6 639.6 281.6 639.9 281.6 640.3 281.7 640.7 281.7 641.0 281.7 641.4 281.7 641.7 281.8 642.1 281.8 642.4 281.8 642.8 281.8 643.2 281.8 643.5 281.9 643.9 281.9 644.2 281.9 644.6 281.9 644.9 281.9 645.3 281.9 645.7 282.0 646.0 282.0 646.4 282.0 646.7 282.0 647.1 282.0 647.4 282.0 647.8 282.0 648.2 282.1 648.5 282.1 648.9 282.1 649.2 282.1 649.6 282.1 650.0 282.1 650.3 282.1 650.7 282.1 651.0 282.1 651.4 282.1 651.7 282.1 652.1 282.1 652.5 282.1 652.8 282.1 653.2 282.1 653.5 282.1 653.9 282.1 654.2 282.1 654.6 282.1 655.0 282.1 655.3 282.1 655.7 282.1 656.0 282.1 656.4 282.1 656.7 282.1 657.1 282.1 657.5 282.1 657.8 282.1 658.2 282.1 658.5 282.1 658.9 282.1 659.3 282.1 659.6 282.1 660.0 282.1 660.3 282.1 660.7 282.1 661.0 282.1 661.4 282.1 661.8 282.1 662.1 282.1 662.5 282.1 662.8 282.1 663.2 282.1 663.5 282.1 663.9 282.1" fill="none" stroke="#e8333d" stroke-width="1.1"/>
<path d="M521.2 282.1 521.6 282.1 521.9 282.1 522.3 282.1 522.6 282.1 523.0 282.1 523.3 282.1 523.7 282.1 524.1 282.1 524.4 282.1 524.8 282.1 525.1 282.1 525.5 282.1 525.8 282.1 526.2 282.1 526.6 282.1 526.9 282.1 527.3 282.1 527.6 282.1 528.0 282.1 528.4 282.1 528.7 282.1 529.1 282.1 529.4 282.1 529.8 282.1 530.1 282.1 530.5 282.1 530.9 282.1 531.2 282.1 531.6 282.1 531.9 282.1 532.3 282.1 532.6 282.1 533.0 282.1 533.4 282.1 533.7 282.1 534.1 282.1 534.4 282.0 534.8 282.0 535.1 282.0 535.5 282.0 535.9 282.0 536.2 282.0 536.6 282.0 536.9 282.0 537.3 282.0 537.7 282.0 538.0 282.0 538.4 282.0 538.7 282.0 539.1 282.0 539.4 282.0 539.8 282.0 540.2 282.0 540.5 282.0 540.9 282.0 541.2 282.0 541.6 282.0 541.9 282.0 542.3 282.0 542.7 281.9 543.0 281.9 543.4 281.9 543.7 281.9 544.1 281.9 544.4 281.9 544.8 281.9 545.2 281.9 545.5 281.9 545.9 281.9 546.2 281.9 546.6 281.9 547.0 281.9 547.3 281.9 547.7 281.8 548.0 281.8 548.4 281.8 548.7 281.8 549.1 281.8 549.5 281.8 549.8 281.8 550.2 281.8 550.5 281.8 550.9 281.8 551.2 281.8 551.6 281.8 552.0 281.7 552.3 281.7 552.7 281.7 553.0 281.7 553.4 281.7 553.7 281.7 554.1 281.7 554.5 281.7 554.8 281.7 555.2 281.6 555.5 281.6 555.9 281.6 556.2 281.6 556.6 281.6 557.0 281.6 557.3 281.6 557.7 281.6 558.0 281.5 558.4 281.5 558.8 281.5 559.1 281.5 559.5 281.5 559.8 281.5 560.2 281.5 560.5 281.4 560.9 281.4 561.3 281.4 561.6 281.4 562.0 281.4 562.3 281.4 562.7 281.4 563.0 281.3 563.4 281.3 563.8 281.3 564.1 281.3 564.5 281.2 564.8 281.2 565.2 281.0 565.5 280.9 565.9 280.8 566.3 280.6 566.6 280.5 567.0 280.3 567.3 280.1 567.7 279.9 568.1 279.8 568.4 279.6 568.8 279.4 569.1 279.3 569.5 279.1 569.8 279.0 570.2 278.9 570.6 278.8 570.9 278.7 571.3 278.6 571.6 278.6 572.0 278.5 572.3 278.4 572.7 278.3 573.1 278.3 573.4 278.2 573.8 278.1 574.1 278.1 574.5 278.0 574.8 277.9 575.2 277.9 575.6 277.8 575.9 277.8 576.3 277.7 576.6 277.6 577.0 277.6 577.4 277.5 577.7 277.5 578.1 277.4 578.4 277.3 578.8 277.3 579.1 277.2 579.5 277.1 579.9 277.1 580.2 277.0 580.6 276.9 580.9 276.9 581.3 276.8 581.6 276.8 582.0 276.7 582.4 276.7 582.7 276.6 583.1 276.5 583.4 276.5 583.8 276.4 584.1 276.3 584.5 276.2 584.9 276.2 585.2 276.1 585.6 276.0 585.9 275.9 586.3 275.8 586.6 275.7 587.0 275.5 587.4 275.3 587.7 275.2 588.1 275.0 588.4 274.7 588.8 274.5 589.2 274.2 589.5 273.9 589.9 273.6 590.2 273.3 590.6 273.0 590.9 272.7 591.3 272.4 591.7 272.0 592.0 271.7 592.4 271.3 592.7 271.0 593.1 270.6 593.4 270.2 593.8 269.8 594.2 269.3 594.5 268.9 594.9 268.4 595.2 267.9 595.6 267.3 595.9 266.8 596.3 266.3 596.7 265.8 597.0 265.2 597.4 264.7 597.7 264.2 598.1 263.7 598.5 263.2 598.8 262.6 599.2 262.1 599.5 261.6 599.9 261.0 600.2 260.5 600.6 259.9 601.0 259.4 601.3 258.8 601.7 258.3 602.0 257.8 602.4 257.3 602.7 256.7 603.1 256.1 603.5 255.5 603.8 254.9 604.2 254.2 604.5 253.6 604.9 253.0 605.2 252.4 605.6 251.8 606.0 251.3 606.3 250.8 606.7 250.5 607.0 250.2 607.4 250.0 607.7 250.0 608.1 250.1 608.5 250.2 608.8 250.5 609.2 250.9 609.5 251.3 609.9 251.8 610.3 252.4 610.6 253.0 611.0 253.6 611.3 254.3 611.7 255.0 612.0 255.7 612.4 256.4 612.8 257.1 613.1 257.7 613.5 258.4 613.8 258.9 614.2 259.5 614.5 260.1 614.9 260.8 615.3 261.4 615.6 262.0 616.0 262.7 616.3 263.3 616.7 264.0 617.0 264.6 617.4 265.3 617.8 265.9 618.1 266.5 618.5 267.1 618.8 267.7 619.2 268.3 619.6 268.9 619.9 269.5 620.3 270.1 620.6 270.7 621.0 271.3 621.3 271.9 621.7 272.4 622.1 273.0 622.4 273.5 622.8 274.0 623.1 274.6 623.5 275.1 623.8 275.6 624.2 276.1 624.6 276.6 624.9 277.2 625.3 277.7 625.6 278.2 626.0 278.7 626.3 279.1 626.7 279.5 627.1 279.9 627.4 280.2 627.8 280.4 628.1 280.6 628.5 280.7 628.9 280.8 629.2 280.9 629.6 281.0 629.9 281.1 630.3 281.2 630.6 281.3 631.0 281.4 631.4 281.5 631.7 281.6 632.1 281.6 632.4 281.7 632.8 281.8 633.1 281.8 633.5 281.8 633.9 281.9 634.2 281.9 634.6 281.9 634.9 281.9 635.3 281.9 635.6 281.9 636.0 281.9 636.4 281.9 636.7 281.9 637.1 281.9 637.4 281.9 637.8 281.9 638.1 282.0 638.5 282.0 638.9 282.0 639.2 282.0 639.6 282.0 639.9 282.0 640.3 282.0 640.7 282.0 641.0 282.0 641.4 282.0 641.7 282.0 642.1 282.0 642.4 282.0 642.8 282.0 643.2 282.0 643.5 282.0 643.9 282.0 644.2 282.0 644.6 282.0 644.9 282.0 645.3 282.0 645.7 282.0 646.0 282.0 646.4 282.0 646.7 282.0 647.1 282.0 647.4 282.0 647.8 282.1 648.2 282.1 648.5 282.1 648.9 282.1 649.2 282.1 649.6 282.1 650.0 282.1 650.3 282.1 650.7 282.1 651.0 282.1 651.4 282.1 651.7 282.1 652.1 282.1 652.5 282.1 652.8 282.1 653.2 282.1 653.5 282.1 653.9 282.1 654.2 282.1 654.6 282.1 655.0 282.1 655.3 282.1 655.7 282.1 656.0 282.1 656.4 282.1 656.7 282.1 657.1 282.1 657.5 282.1 657.8 282.1 658.2 282.1 658.5 282.1 658.9 282.1 659.3 282.1 659.6 282.1 660.0 282.1 660.3 282.1 660.7 282.1 661.0 282.1 661.4 282.1 661.8 282.1 662.1 282.1 662.5 282.1 662.8 282.1 663.2 282.1 663.5 282.1 663.9 282.1" fill="none" stroke="#10a9ea" stroke-width="1.3"/>
<text x="560.75" y="327.9" font-size="8" font-weight="700" fill="#000" text-anchor="middle">Kurt</text>
<rect x="541.1" y="342.1" width="17.80" height="27.90" fill="#10a9ea" stroke="#3a3a3a" stroke-width="0.35" stroke-opacity="0.6"/>
<rect x="562.9" y="362.4" width="17.10" height="7.60" fill="#e8333d" stroke="#3a3a3a" stroke-width="0.35" stroke-opacity="0.6"/>
<line x1="532.9" x2="588.3" y1="370.0" y2="370.0" stroke="#8c8c8c" stroke-width="0.8"/>
<path d="M532.9 331.4 V374.3 H588.3" fill="none" stroke="#9a9a9a" stroke-width="0.7"/>
<text x="530.0" y="344.00" font-size="8.6" fill="#262626" text-anchor="end">20</text>
<line x1="532.9" x2="534.1" y1="341.0" y2="341.0" stroke="#9a9a9a" stroke-width="0.5"/>
<text x="530.0" y="358.70" font-size="8.6" fill="#262626" text-anchor="end">10</text>
<line x1="532.9" x2="534.1" y1="355.7" y2="355.7" stroke="#9a9a9a" stroke-width="0.5"/>
<text x="530.0" y="373.70" font-size="8.6" fill="#262626" text-anchor="end">0</text>
<line x1="532.9" x2="534.1" y1="370.7" y2="370.7" stroke="#9a9a9a" stroke-width="0.5"/>
<circle cx="543.5" cy="360.4" r="0.55" fill="#555"/>
<circle cx="546.0" cy="351.3" r="0.55" fill="#555"/>
<circle cx="548.3" cy="361.6" r="0.55" fill="#555"/>
<circle cx="554.6" cy="360.4" r="0.55" fill="#555"/>
<circle cx="556.3" cy="364.6" r="0.55" fill="#555"/>
<circle cx="565.3" cy="366.0" r="0.55" fill="#555"/>
<circle cx="568.6" cy="356.6" r="0.55" fill="#555"/>
<circle cx="573.8" cy="358.4" r="0.55" fill="#555"/>
<circle cx="577.6" cy="361.2" r="0.55" fill="#555"/>
<circle cx="571.2" cy="366.4" r="0.55" fill="#555"/>
<circle cx="575.6" cy="366.4" r="0.55" fill="#555"/>
<path d="M550.0 332.6 V352.1 M548.6 332.6 H551.4 M548.6 352.1 H551.4" fill="none" stroke="#4a55e8" stroke-width="0.7"/>
<circle cx="550.0" cy="342.1" r="1.3" fill="none" stroke="#4a55e8" stroke-width="0.6"/>
<path d="M571.5 361.0 V363.8 M570.1 361.0 H572.9 M570.1 363.8 H572.9" fill="none" stroke="#b04040" stroke-width="0.7"/>
<circle cx="571.5" cy="362.4" r="1.3" fill="none" stroke="#b04040" stroke-width="0.6"/>
<line x1="550.0" x2="571.4" y1="337.9" y2="337.9" stroke="#8c8c8c" stroke-width="0.8"/>
<text x="560.70" y="335.8" font-size="8.4" fill="#222" text-anchor="middle">n.s.</text>
<text x="635.5" y="325.7" font-size="8" font-weight="700" fill="#000" text-anchor="middle">Skew</text>
<rect x="616.1" y="348.3" width="17.20" height="2.40" fill="#10a9ea" stroke="#3a3a3a" stroke-width="0.35" stroke-opacity="0.6"/>
<rect x="637.9" y="348.3" width="16.80" height="3.40" fill="#e8333d" stroke="#3a3a3a" stroke-width="0.35" stroke-opacity="0.6"/>
<line x1="608.1" x2="663.3" y1="348.3" y2="348.3" stroke="#8c8c8c" stroke-width="0.8"/>
<path d="M608.1 329.3 V372.9 H663.3" fill="none" stroke="#9a9a9a" stroke-width="0.7"/>
<text x="605.3" y="338.70" font-size="8.6" fill="#262626" text-anchor="end">0.5</text>
<line x1="608.1" x2="609.3000000000001" y1="335.7" y2="335.7" stroke="#9a9a9a" stroke-width="0.5"/>
<text x="605.3" y="351.90" font-size="8.6" fill="#262626" text-anchor="end">0</text>
<line x1="608.1" x2="609.3000000000001" y1="348.9" y2="348.9" stroke="#9a9a9a" stroke-width="0.5"/>
<text x="605.3" y="365.90" font-size="8.6" fill="#262626" text-anchor="end">-0.5</text>
<line x1="608.1" x2="609.3000000000001" y1="362.9" y2="362.9" stroke="#9a9a9a" stroke-width="0.5"/>
<circle cx="620.0" cy="344.3" r="0.55" fill="#555"/>
<circle cx="626.3" cy="343.6" r="0.55" fill="#555"/>
<circle cx="621.5" cy="355.1" r="0.55" fill="#555"/>
<circle cx="630.6" cy="348.6" r="0.55" fill="#555"/>
<circle cx="640.0" cy="355.9" r="0.55" fill="#555"/>
<circle cx="650.5" cy="341.4" r="0.55" fill="#555"/>
<circle cx="652.0" cy="366.9" r="0.55" fill="#555"/>
<circle cx="645.0" cy="356.0" r="0.55" fill="#555"/>
<path d="M624.5 349.0 V352.5 M623.1 349.0 H625.9 M623.1 352.5 H625.9" fill="none" stroke="#4a55e8" stroke-width="0.7"/>
<circle cx="624.5" cy="350.7" r="1.3" fill="none" stroke="#4a55e8" stroke-width="0.6"/>
<path d="M646.0 350.5 V354.0 M644.6 350.5 H647.4 M644.6 354.0 H647.4" fill="none" stroke="#b04040" stroke-width="0.7"/>
<circle cx="646.0" cy="351.7" r="1.3" fill="none" stroke="#b04040" stroke-width="0.6"/>
<line x1="625.0" x2="646.1" y1="360.0" y2="360.0" stroke="#8c8c8c" stroke-width="0.8"/>
<text x="635.55" y="366.4" font-size="8.4" fill="#222" text-anchor="middle">- n.s.</text>
<line x1="523.7" x2="665.1" y1="422.2" y2="422.2" stroke="#262626" stroke-width="0.7"/>
<line x1="549.70" x2="549.70" y1="422.2" y2="420.59999999999997" stroke="#262626" stroke-width="0.6"/>
<text x="549.70" y="437.4" font-size="9.6" fill="#262626" text-anchor="middle">-1</text>
<line x1="591.30" x2="591.30" y1="422.2" y2="420.59999999999997" stroke="#262626" stroke-width="0.6"/>
<text x="591.30" y="437.4" font-size="9.6" fill="#262626" text-anchor="middle">0</text>
<line x1="632.90" x2="632.90" y1="422.2" y2="420.59999999999997" stroke="#262626" stroke-width="0.6"/>
<text x="632.90" y="437.4" font-size="9.6" fill="#262626" text-anchor="middle">1</text>
<text x="590.7" y="449.6" font-size="10.3" fill="#262626" text-anchor="middle">Acceleration (g)</text>
<path d="M523.7 422.2 524.1 422.2 524.4 422.2 524.8 422.2 525.1 422.2 525.5 422.2 525.8 422.2 526.2 422.2 526.5 422.2 526.9 422.2 527.2 422.2 527.6 422.2 528.0 422.2 528.3 422.2 528.7 422.2 529.0 422.2 529.4 422.2 529.7 422.2 530.1 422.2 530.4 422.2 530.8 422.2 531.1 422.2 531.5 422.2 531.9 422.2 532.2 422.2 532.6 422.2 532.9 422.2 533.3 422.2 533.6 422.2 534.0 422.2 534.3 422.2 534.7 422.2 535.0 422.2 535.4 422.2 535.7 422.2 536.1 422.2 536.5 422.2 536.8 422.2 537.2 422.2 537.5 422.2 537.9 422.2 538.2 422.2 538.6 422.2 538.9 422.2 539.3 422.2 539.6 422.2 540.0 422.2 540.4 422.2 540.7 422.2 541.1 422.2 541.4 422.2 541.8 422.2 542.1 422.2 542.5 422.2 542.8 422.2 543.2 422.2 543.5 422.2 543.9 422.2 544.3 422.2 544.6 422.2 545.0 422.2 545.3 422.2 545.7 422.2 546.0 422.2 546.4 422.2 546.7 422.2 547.1 422.2 547.4 422.2 547.8 422.2 548.2 422.2 548.5 422.2 548.9 422.2 549.2 422.2 549.6 422.2 549.9 422.2 550.3 422.1 550.6 422.0 551.0 421.9 551.3 421.9 551.7 421.8 552.1 421.7 552.4 421.6 552.8 421.6 553.1 421.5 553.5 421.4 553.8 421.3 554.2 421.3 554.5 421.2 554.9 421.1 555.2 421.0 555.6 420.9 555.9 420.9 556.3 420.8 556.7 420.7 557.0 420.6 557.4 420.5 557.7 420.4 558.1 420.4 558.4 420.3 558.8 420.2 559.1 420.1 559.5 420.0 559.8 419.9 560.2 419.8 560.6 419.7 560.9 419.6 561.3 419.6 561.6 419.5 562.0 419.4 562.3 419.3 562.7 419.2 563.0 419.1 563.4 419.0 563.7 418.9 564.1 418.8 564.5 418.7 564.8 418.6 565.2 418.5 565.5 418.4 565.9 418.3 566.2 418.2 566.6 418.1 566.9 418.0 567.3 417.9 567.6 417.8 568.0 417.7 568.4 417.6 568.7 417.5 569.1 417.4 569.4 417.3 569.8 417.1 570.1 417.0 570.5 416.9 570.8 416.8 571.2 416.7 571.5 416.6 571.9 416.4 572.3 416.3 572.6 416.2 573.0 416.1 573.3 415.9 573.7 415.8 574.0 415.7 574.4 415.6 574.7 415.5 575.1 415.3 575.4 415.2 575.8 415.1 576.1 415.0 576.5 414.9 576.9 414.8 577.2 414.7 577.6 414.6 577.9 414.5 578.3 414.4 578.6 414.3 579.0 414.2 579.3 414.1 579.7 414.0 580.0 413.9 580.4 413.8 580.8 413.7 581.1 413.6 581.5 413.5 581.8 413.4 582.2 413.3 582.5 413.2 582.9 413.1 583.2 413.0 583.6 412.9 583.9 412.8 584.3 412.7 584.7 412.6 585.0 412.5 585.4 412.4 585.7 412.3 586.1 412.2 586.4 412.1 586.8 412.0 587.1 411.9 587.5 411.9 587.8 411.8 588.2 411.7 588.6 411.6 588.9 411.6 589.3 411.5 589.6 411.4 590.0 411.4 590.3 411.3 590.7 411.3 591.0 411.2 591.4 411.2 591.7 411.1 592.1 411.1 592.5 411.1 592.8 411.0 593.2 411.0 593.5 411.0 593.9 411.0 594.2 410.9 594.6 410.9 594.9 410.9 595.3 410.9 595.6 410.8 596.0 410.8 596.3 410.8 596.7 410.8 597.1 410.8 597.4 410.7 597.8 410.7 598.1 410.7 598.5 410.7 598.8 410.7 599.2 410.6 599.5 410.6 599.9 410.6 600.2 410.6 600.6 410.5 601.0 410.5 601.3 410.5 601.7 410.4 602.0 410.4 602.4 410.4 602.7 410.3 603.1 410.3 603.4 410.2 603.8 410.2 604.1 410.1 604.5 410.1 604.9 410.0 605.2 409.9 605.6 409.8 605.9 409.7 606.3 409.6 606.6 409.5 607.0 409.4 607.3 409.3 607.7 409.1 608.0 409.0 608.4 408.8 608.8 408.7 609.1 408.5 609.5 408.3 609.8 408.1 610.2 407.9 610.5 407.7 610.9 407.5 611.2 407.3 611.6 407.1 611.9 406.8 612.3 406.6 612.7 406.3 613.0 406.1 613.4 405.8 613.7 405.6 614.1 405.3 614.4 405.0 614.8 404.6 615.1 404.2 615.5 403.7 615.8 403.1 616.2 402.5 616.5 401.9 616.9 401.2 617.3 400.6 617.6 399.9 618.0 399.2 618.3 398.5 618.7 397.8 619.0 397.2 619.4 396.5 619.7 395.9 620.1 395.2 620.4 394.5 620.8 393.7 621.2 393.0 621.5 392.3 621.9 391.8 622.2 391.5 622.6 391.4 622.9 391.5 623.3 391.8 623.6 392.2 624.0 392.8 624.3 393.4 624.7 394.1 625.1 394.9 625.4 395.6 625.8 396.4 626.1 397.2 626.5 397.9 626.8 398.5 627.2 399.2 627.5 399.9 627.9 400.6 628.2 401.3 628.6 402.1 629.0 402.8 629.3 403.6 629.7 404.4 630.0 405.1 630.4 405.9 630.7 406.6 631.1 407.3 631.4 408.0 631.8 408.6 632.1 409.2 632.5 409.7 632.9 410.1 633.2 410.6 633.6 411.0 633.9 411.4 634.3 411.7 634.6 412.1 635.0 412.5 635.3 412.8 635.7 413.2 636.0 413.5 636.4 413.8 636.7 414.1 637.1 414.4 637.5 414.7 637.8 415.0 638.2 415.2 638.5 415.5 638.9 415.7 639.2 416.0 639.6 416.2 639.9 416.4 640.3 416.7 640.6 416.9 641.0 417.1 641.4 417.3 641.7 417.5 642.1 417.7 642.4 417.9 642.8 418.1 643.1 418.2 643.5 418.4 643.8 418.6 644.2 418.8 644.5 419.0 644.9 419.2 645.3 419.3 645.6 419.5 646.0 419.7 646.3 419.8 646.7 420.0 647.0 420.2 647.4 420.3 647.7 420.5 648.1 420.6 648.4 420.8 648.8 420.9 649.2 421.0 649.5 421.2 649.9 421.3 650.2 421.4 650.6 421.5 650.9 421.6 651.3 421.7 651.6 421.8 652.0 421.9 652.3 422.0 652.7 422.0 653.1 422.1 653.4 422.2 653.8 422.2 654.1 422.2 654.5 422.2 654.8 422.2 655.2 422.2 655.5 422.2 655.9 422.2 656.2 422.2 656.6 422.2 656.9 422.2 657.3 422.2 657.7 422.2 658.0 422.2 658.4 422.2 658.7 422.2 659.1 422.2 659.4 422.2 659.8 422.2 660.1 422.2 660.5 422.2 660.8 422.2 661.2 422.2 661.6 422.2 661.9 422.2 662.3 422.2 662.6 422.2 663.0 422.2 663.3 422.2 663.7 422.2 664.0 422.2 664.4 422.2 664.7 422.2 665.1 422.2" fill="none" stroke="#e8333d" stroke-width="0.55" stroke-opacity="0.3"/>
<path d="M523.7 422.2 524.1 422.2 524.4 422.2 524.8 422.2 525.1 422.2 525.5 422.2 525.8 422.2 526.2 422.2 526.5 422.2 526.9 422.2 527.2 422.2 527.6 422.2 528.0 422.2 528.3 422.2 528.7 422.2 529.0 422.2 529.4 422.2 529.7 422.2 530.1 422.2 530.4 422.2 530.8 422.2 531.1 422.2 531.5 422.2 531.9 422.2 532.2 422.2 532.6 422.2 532.9 422.2 533.3 422.2 533.6 422.2 534.0 422.2 534.3 422.2 534.7 422.2 535.0 422.2 535.4 422.2 535.7 422.2 536.1 422.2 536.5 422.2 536.8 422.2 537.2 422.2 537.5 422.2 537.9 422.2 538.2 422.2 538.6 422.2 538.9 422.2 539.3 422.2 539.6 422.2 540.0 422.2 540.4 422.2 540.7 422.2 541.1 422.2 541.4 422.2 541.8 422.2 542.1 422.2 542.5 422.2 542.8 422.2 543.2 422.2 543.5 422.2 543.9 422.2 544.3 422.2 544.6 422.2 545.0 422.2 545.3 422.2 545.7 422.2 546.0 422.2 546.4 422.1 546.7 422.1 547.1 422.0 547.4 422.0 547.8 421.9 548.2 421.9 548.5 421.8 548.9 421.8 549.2 421.7 549.6 421.6 549.9 421.5 550.3 421.5 550.6 421.4 551.0 421.3 551.3 421.2 551.7 421.1 552.1 421.0 552.4 420.9 552.8 420.8 553.1 420.7 553.5 420.6 553.8 420.5 554.2 420.3 554.5 420.2 554.9 420.1 555.2 420.0 555.6 419.8 555.9 419.7 556.3 419.6 556.7 419.5 557.0 419.3 557.4 419.2 557.7 419.0 558.1 418.9 558.4 418.8 558.8 418.6 559.1 418.5 559.5 418.3 559.8 418.2 560.2 418.0 560.6 417.9 560.9 417.7 561.3 417.6 561.6 417.4 562.0 417.3 562.3 417.1 562.7 417.0 563.0 416.8 563.4 416.5 563.7 416.3 564.1 416.0 564.5 415.7 564.8 415.5 565.2 415.2 565.5 414.8 565.9 414.5 566.2 414.2 566.6 413.9 566.9 413.5 567.3 413.2 567.6 412.9 568.0 412.6 568.4 412.3 568.7 412.0 569.1 411.7 569.4 411.5 569.8 411.2 570.1 411.0 570.5 410.8 570.8 410.6 571.2 410.5 571.5 410.4 571.9 410.3 572.3 410.2 572.6 410.2 573.0 410.2 573.3 410.3 573.7 410.4 574.0 410.5 574.4 410.6 574.7 410.7 575.1 410.9 575.4 411.1 575.8 411.2 576.1 411.4 576.5 411.6 576.9 411.7 577.2 411.9 577.6 412.0 577.9 412.1 578.3 412.2 578.6 412.2 579.0 412.2 579.3 412.2 579.7 412.2 580.0 412.1 580.4 412.1 580.8 412.0 581.1 411.9 581.5 411.8 581.8 411.7 582.2 411.6 582.5 411.5 582.9 411.4 583.2 411.3 583.6 411.1 583.9 411.0 584.3 410.8 584.7 410.7 585.0 410.5 585.4 410.3 585.7 410.1 586.1 410.0 586.4 409.8 586.8 409.6 587.1 409.4 587.5 409.2 587.8 409.0 588.2 408.8 588.6 408.6 588.9 408.4 589.3 408.3 589.6 408.1 590.0 407.9 590.3 407.7 590.7 407.5 591.0 407.3 591.4 407.2 591.7 407.0 592.1 406.8 592.5 406.5 592.8 406.3 593.2 406.0 593.5 405.7 593.9 405.5 594.2 405.2 594.6 404.9 594.9 404.6 595.3 404.3 595.6 404.1 596.0 403.8 596.3 403.5 596.7 403.3 597.1 403.1 597.4 402.9 597.8 402.7 598.1 402.5 598.5 402.4 598.8 402.3 599.2 402.2 599.5 402.2 599.9 402.2 600.2 402.3 600.6 402.4 601.0 402.6 601.3 402.8 601.7 403.1 602.0 403.3 602.4 403.6 602.7 404.0 603.1 404.3 603.4 404.7 603.8 405.1 604.1 405.4 604.5 405.8 604.9 406.2 605.2 406.5 605.6 406.8 605.9 407.1 606.3 407.4 606.6 407.7 607.0 407.9 607.3 408.0 607.7 408.1 608.0 408.2 608.4 408.3 608.8 408.3 609.1 408.4 609.5 408.4 609.8 408.4 610.2 408.5 610.5 408.5 610.9 408.5 611.2 408.6 611.6 408.6 611.9 408.6 612.3 408.6 612.7 408.7 613.0 408.7 613.4 408.7 613.7 408.7 614.1 408.7 614.4 408.7 614.8 408.8 615.1 408.8 615.5 408.8 615.8 408.8 616.2 408.8 616.5 408.9 616.9 408.9 617.3 408.9 617.6 408.9 618.0 408.9 618.3 409.0 618.7 409.0 619.0 409.0 619.4 409.1 619.7 409.1 620.1 409.2 620.4 409.2 620.8 409.3 621.2 409.3 621.5 409.4 621.9 409.5 622.2 409.6 622.6 409.7 622.9 409.8 623.3 409.9 623.6 410.0 624.0 410.1 624.3 410.2 624.7 410.4 625.1 410.5 625.4 410.7 625.8 410.8 626.1 411.0 626.5 411.1 626.8 411.3 627.2 411.5 627.5 411.6 627.9 411.8 628.2 412.0 628.6 412.1 629.0 412.3 629.3 412.5 629.7 412.7 630.0 412.8 630.4 413.0 630.7 413.2 631.1 413.4 631.4 413.5 631.8 413.7 632.1 413.9 632.5 414.0 632.9 414.2 633.2 414.3 633.6 414.5 633.9 414.7 634.3 414.8 634.6 415.0 635.0 415.2 635.3 415.4 635.7 415.6 636.0 415.8 636.4 416.0 636.7 416.2 637.1 416.4 637.5 416.6 637.8 416.8 638.2 417.0 638.5 417.2 638.9 417.4 639.2 417.6 639.6 417.8 639.9 417.9 640.3 418.1 640.6 418.3 641.0 418.5 641.4 418.7 641.7 418.8 642.1 419.0 642.4 419.2 642.8 419.3 643.1 419.5 643.5 419.6 643.8 419.7 644.2 419.9 644.5 420.0 644.9 420.1 645.3 420.2 645.6 420.3 646.0 420.3 646.3 420.4 646.7 420.5 647.0 420.6 647.4 420.7 647.7 420.8 648.1 420.8 648.4 420.9 648.8 421.0 649.2 421.1 649.5 421.2 649.9 421.2 650.2 421.3 650.6 421.4 650.9 421.4 651.3 421.5 651.6 421.6 652.0 421.6 652.3 421.7 652.7 421.8 653.1 421.8 653.4 421.9 653.8 421.9 654.1 422.0 654.5 422.0 654.8 422.0 655.2 422.1 655.5 422.1 655.9 422.1 656.2 422.2 656.6 422.2 656.9 422.2 657.3 422.2 657.7 422.2 658.0 422.2 658.4 422.2 658.7 422.2 659.1 422.2 659.4 422.2 659.8 422.2 660.1 422.2 660.5 422.2 660.8 422.2 661.2 422.2 661.6 422.2 661.9 422.2 662.3 422.2 662.6 422.2 663.0 422.2 663.3 422.2 663.7 422.2 664.0 422.2 664.4 422.2 664.7 422.2 665.1 422.2" fill="none" stroke="#e8333d" stroke-width="0.55" stroke-opacity="0.2"/>
<path d="M523.7 422.1 524.1 422.1 524.4 422.1 524.8 422.1 525.1 422.1 525.5 422.1 525.8 422.1 526.2 422.1 526.5 422.1 526.9 422.1 527.2 422.1 527.6 422.0 528.0 422.0 528.3 422.0 528.7 422.0 529.0 422.0 529.4 422.0 529.7 422.0 530.1 422.0 530.4 422.0 530.8 421.9 531.1 421.9 531.5 421.9 531.9 421.9 532.2 421.9 532.6 421.9 532.9 421.9 533.3 421.8 533.6 421.8 534.0 421.8 534.3 421.8 534.7 421.8 535.0 421.8 535.4 421.7 535.7 421.7 536.1 421.7 536.5 421.7 536.8 421.7 537.2 421.7 537.5 421.6 537.9 421.6 538.2 421.6 538.6 421.6 538.9 421.6 539.3 421.5 539.6 421.5 540.0 421.5 540.4 421.5 540.7 421.5 541.1 421.4 541.4 421.4 541.8 421.4 542.1 421.4 542.5 421.4 542.8 421.3 543.2 421.3 543.5 421.3 543.9 421.3 544.3 421.2 544.6 421.2 545.0 421.2 545.3 421.2 545.7 421.1 546.0 421.1 546.4 421.0 546.7 421.0 547.1 420.9 547.4 420.8 547.8 420.8 548.2 420.7 548.5 420.6 548.9 420.5 549.2 420.4 549.6 420.4 549.9 420.3 550.3 420.2 550.6 420.1 551.0 420.0 551.3 419.9 551.7 419.8 552.1 419.7 552.4 419.6 552.8 419.5 553.1 419.4 553.5 419.3 553.8 419.2 554.2 419.1 554.5 419.0 554.9 418.9 555.2 418.8 555.6 418.7 555.9 418.6 556.3 418.5 556.7 418.4 557.0 418.3 557.4 418.1 557.7 418.0 558.1 417.9 558.4 417.8 558.8 417.6 559.1 417.5 559.5 417.4 559.8 417.3 560.2 417.2 560.6 417.0 560.9 416.9 561.3 416.8 561.6 416.7 562.0 416.5 562.3 416.4 562.7 416.3 563.0 416.2 563.4 416.1 563.7 416.0 564.1 415.9 564.5 415.8 564.8 415.6 565.2 415.5 565.5 415.4 565.9 415.3 566.2 415.2 566.6 415.1 566.9 415.0 567.3 414.9 567.6 414.8 568.0 414.6 568.4 414.5 568.7 414.4 569.1 414.3 569.4 414.2 569.8 414.0 570.1 413.9 570.5 413.8 570.8 413.7 571.2 413.5 571.5 413.4 571.9 413.2 572.3 413.1 572.6 412.9 573.0 412.8 573.3 412.6 573.7 412.5 574.0 412.3 574.4 412.2 574.7 412.0 575.1 411.8 575.4 411.7 575.8 411.5 576.1 411.3 576.5 411.2 576.9 411.0 577.2 410.8 577.6 410.7 577.9 410.5 578.3 410.4 578.6 410.2 579.0 410.1 579.3 409.9 579.7 409.8 580.0 409.6 580.4 409.4 580.8 409.3 581.1 409.1 581.5 408.9 581.8 408.8 582.2 408.6 582.5 408.4 582.9 408.2 583.2 408.0 583.6 407.9 583.9 407.7 584.3 407.5 584.7 407.3 585.0 407.1 585.4 407.0 585.7 406.8 586.1 406.6 586.4 406.5 586.8 406.3 587.1 406.1 587.5 406.0 587.8 405.9 588.2 405.7 588.6 405.6 588.9 405.5 589.3 405.4 589.6 405.3 590.0 405.2 590.3 405.1 590.7 405.0 591.0 405.0 591.4 405.0 591.7 404.9 592.1 404.9 592.5 404.9 592.8 405.0 593.2 405.0 593.5 405.1 593.9 405.1 594.2 405.2 594.6 405.3 594.9 405.4 595.3 405.5 595.6 405.6 596.0 405.8 596.3 405.9 596.7 406.0 597.1 406.1 597.4 406.2 597.8 406.3 598.1 406.4 598.5 406.5 598.8 406.6 599.2 406.7 599.5 406.7 599.9 406.8 600.2 406.8 600.6 406.8 601.0 406.8 601.3 406.8 601.7 406.8 602.0 406.8 602.4 406.8 602.7 406.8 603.1 406.8 603.4 406.8 603.8 406.8 604.1 406.8 604.5 406.8 604.9 406.8 605.2 406.8 605.6 406.8 605.9 406.8 606.3 406.8 606.6 406.8 607.0 406.8 607.3 406.8 607.7 406.8 608.0 406.8 608.4 406.8 608.8 406.8 609.1 406.8 609.5 406.8 609.8 406.8 610.2 406.8 610.5 406.8 610.9 406.9 611.2 406.9 611.6 407.0 611.9 407.0 612.3 407.1 612.7 407.2 613.0 407.3 613.4 407.3 613.7 407.4 614.1 407.5 614.4 407.6 614.8 407.7 615.1 407.8 615.5 407.9 615.8 408.0 616.2 408.2 616.5 408.3 616.9 408.4 617.3 408.5 617.6 408.6 618.0 408.7 618.3 408.8 618.7 408.9 619.0 409.0 619.4 409.1 619.7 409.2 620.1 409.3 620.4 409.4 620.8 409.5 621.2 409.6 621.5 409.7 621.9 409.8 622.2 409.9 622.6 410.0 622.9 410.1 623.3 410.2 623.6 410.4 624.0 410.5 624.3 410.6 624.7 410.7 625.1 410.9 625.4 411.0 625.8 411.1 626.1 411.3 626.5 411.4 626.8 411.5 627.2 411.7 627.5 411.8 627.9 412.0 628.2 412.2 628.6 412.3 629.0 412.5 629.3 412.7 629.7 412.9 630.0 413.1 630.4 413.3 630.7 413.5 631.1 413.8 631.4 414.0 631.8 414.2 632.1 414.4 632.5 414.6 632.9 414.8 633.2 415.0 633.6 415.2 633.9 415.5 634.3 415.7 634.6 415.9 635.0 416.1 635.3 416.2 635.7 416.4 636.0 416.6 636.4 416.8 636.7 416.9 637.1 417.1 637.5 417.3 637.8 417.5 638.2 417.6 638.5 417.8 638.9 418.0 639.2 418.2 639.6 418.3 639.9 418.5 640.3 418.7 640.6 418.8 641.0 419.0 641.4 419.1 641.7 419.3 642.1 419.4 642.4 419.6 642.8 419.7 643.1 419.9 643.5 420.0 643.8 420.1 644.2 420.2 644.5 420.3 644.9 420.4 645.3 420.5 645.6 420.7 646.0 420.8 646.3 420.9 646.7 421.0 647.0 421.1 647.4 421.2 647.7 421.3 648.1 421.4 648.4 421.5 648.8 421.6 649.2 421.6 649.5 421.7 649.9 421.8 650.2 421.8 650.6 421.9 650.9 421.9 651.3 422.0 651.6 422.0 652.0 422.0 652.3 422.0 652.7 422.0 653.1 422.0 653.4 422.0 653.8 422.1 654.1 422.1 654.5 422.1 654.8 422.1 655.2 422.1 655.5 422.1 655.9 422.1 656.2 422.1 656.6 422.1 656.9 422.1 657.3 422.2 657.7 422.2 658.0 422.2 658.4 422.2 658.7 422.2 659.1 422.2 659.4 422.2 659.8 422.2 660.1 422.2 660.5 422.2 660.8 422.2 661.2 422.2 661.6 422.2 661.9 422.2 662.3 422.2 662.6 422.2 663.0 422.2 663.3 422.2 663.7 422.2 664.0 422.2 664.4 422.2 664.7 422.2 665.1 422.2" fill="none" stroke="#e8333d" stroke-width="0.5" stroke-opacity="0.16"/>
<path d="M523.70 422.18 L524.05 422.18 L524.41 422.17 L524.76 422.16 L525.12 422.16 L525.47 422.15 L525.83 422.15 L526.18 422.14 L526.54 422.13 L526.89 422.12 L527.24 422.11 L527.60 422.10 L527.95 422.09 L528.31 422.08 L528.66 422.07 L529.02 422.06 L529.37 422.05 L529.72 422.03 L530.08 422.02 L530.43 422.01 L530.79 421.99 L531.14 421.98 L531.50 421.97 L531.85 421.95 L532.21 421.93 L532.56 421.92 L532.91 421.90 L533.27 421.88 L533.62 421.87 L533.98 421.85 L534.33 421.83 L534.69 421.81 L535.04 421.79 L535.39 421.77 L535.75 421.75 L536.10 421.73 L536.46 421.71 L536.81 421.69 L537.17 421.67 L537.52 421.64 L537.88 421.62 L538.23 421.60 L538.58 421.57 L538.94 421.55 L539.29 421.53 L539.65 421.50 L540.00 421.48 L540.36 421.45 L540.71 421.42 L541.06 421.40 L541.42 421.37 L541.77 421.34 L542.13 421.31 L542.48 421.28 L542.84 421.26 L543.19 421.23 L543.55 421.20 L543.90 421.17 L544.25 421.14 L544.61 421.10 L544.96 421.07 L545.32 421.04 L545.67 421.01 L546.03 420.98 L546.38 420.94 L546.74 420.91 L547.09 420.88 L547.44 420.84 L547.80 420.81 L548.15 420.77 L548.51 420.74 L548.86 420.70 L549.22 420.66 L549.57 420.61 L549.92 420.55 L550.28 420.49 L550.63 420.42 L550.99 420.34 L551.34 420.25 L551.70 420.16 L552.05 420.06 L552.41 419.96 L552.76 419.85 L553.11 419.74 L553.47 419.63 L553.82 419.51 L554.18 419.39 L554.53 419.27 L554.89 419.15 L555.24 419.02 L555.59 418.90 L555.95 418.77 L556.30 418.65 L556.66 418.52 L557.01 418.40 L557.37 418.28 L557.72 418.16 L558.08 418.04 L558.43 417.91 L558.78 417.78 L559.14 417.65 L559.49 417.51 L559.85 417.37 L560.20 417.23 L560.56 417.08 L560.91 416.94 L561.26 416.79 L561.62 416.64 L561.97 416.49 L562.33 416.34 L562.68 416.19 L563.04 416.04 L563.39 415.89 L563.75 415.74 L564.10 415.59 L564.45 415.44 L564.81 415.30 L565.16 415.15 L565.52 415.01 L565.87 414.88 L566.23 414.74 L566.58 414.61 L566.94 414.48 L567.29 414.36 L567.64 414.24 L568.00 414.12 L568.35 414.00 L568.71 413.89 L569.06 413.77 L569.42 413.66 L569.77 413.54 L570.12 413.43 L570.48 413.32 L570.83 413.21 L571.19 413.09 L571.54 412.98 L571.90 412.86 L572.25 412.74 L572.61 412.62 L572.96 412.50 L573.31 412.37 L573.67 412.25 L574.02 412.11 L574.38 411.98 L574.73 411.84 L575.09 411.70 L575.44 411.55 L575.79 411.39 L576.15 411.23 L576.50 411.06 L576.86 410.89 L577.21 410.72 L577.57 410.54 L577.92 410.36 L578.28 410.17 L578.63 409.98 L578.98 409.79 L579.34 409.60 L579.69 409.41 L580.05 409.21 L580.40 409.02 L580.76 408.82 L581.11 408.63 L581.46 408.44 L581.82 408.24 L582.17 408.05 L582.53 407.86 L582.88 407.68 L583.24 407.49 L583.59 407.31 L583.95 407.13 L584.30 406.95 L584.65 406.76 L585.01 406.56 L585.36 406.35 L585.72 406.14 L586.07 405.93 L586.43 405.71 L586.78 405.48 L587.14 405.26 L587.49 405.03 L587.84 404.81 L588.20 404.58 L588.55 404.35 L588.91 404.13 L589.26 403.91 L589.62 403.69 L589.97 403.47 L590.32 403.26 L590.68 403.06 L591.03 402.86 L591.39 402.67 L591.74 402.49 L592.10 402.31 L592.45 402.15 L592.81 401.99 L593.16 401.85 L593.51 401.72 L593.87 401.60 L594.22 401.50 L594.58 401.41 L594.93 401.33 L595.29 401.27 L595.64 401.23 L595.99 401.21 L596.35 401.20 L596.70 401.22 L597.06 401.27 L597.41 401.35 L597.77 401.45 L598.12 401.57 L598.48 401.71 L598.83 401.87 L599.18 402.04 L599.54 402.21 L599.89 402.40 L600.25 402.59 L600.60 402.78 L600.96 402.97 L601.31 403.16 L601.66 403.34 L602.02 403.51 L602.37 403.67 L602.73 403.81 L603.08 403.93 L603.44 404.04 L603.79 404.12 L604.15 404.17 L604.50 404.20 L604.85 404.20 L605.21 404.20 L605.56 404.19 L605.92 404.19 L606.27 404.18 L606.63 404.17 L606.98 404.16 L607.34 404.15 L607.69 404.13 L608.04 404.12 L608.40 404.10 L608.75 404.08 L609.11 404.06 L609.46 404.04 L609.82 404.02 L610.17 403.99 L610.52 403.97 L610.88 403.94 L611.23 403.92 L611.59 403.89 L611.94 403.86 L612.30 403.83 L612.65 403.80 L613.01 403.77 L613.36 403.74 L613.71 403.70 L614.07 403.66 L614.42 403.61 L614.78 403.53 L615.13 403.45 L615.49 403.34 L615.84 403.23 L616.19 403.11 L616.55 402.98 L616.90 402.84 L617.26 402.70 L617.61 402.56 L617.97 402.42 L618.32 402.27 L618.68 402.13 L619.03 401.99 L619.38 401.86 L619.74 401.74 L620.09 401.62 L620.45 401.52 L620.80 401.42 L621.16 401.34 L621.51 401.28 L621.86 401.23 L622.22 401.21 L622.57 401.20 L622.93 401.24 L623.28 401.33 L623.64 401.48 L623.99 401.66 L624.35 401.89 L624.70 402.16 L625.05 402.46 L625.41 402.79 L625.76 403.14 L626.12 403.52 L626.47 403.92 L626.83 404.34 L627.18 404.76 L627.54 405.19 L627.89 405.63 L628.24 406.06 L628.60 406.49 L628.95 406.92 L629.31 407.33 L629.66 407.72 L630.02 408.10 L630.37 408.46 L630.72 408.78 L631.08 409.08 L631.43 409.35 L631.79 409.60 L632.14 409.86 L632.50 410.11 L632.85 410.35 L633.21 410.59 L633.56 410.83 L633.91 411.06 L634.27 411.28 L634.62 411.51 L634.98 411.73 L635.33 411.95 L635.69 412.17 L636.04 412.38 L636.39 412.59 L636.75 412.81 L637.10 413.01 L637.46 413.22 L637.81 413.43 L638.17 413.64 L638.52 413.85 L638.88 414.05 L639.23 414.26 L639.58 414.47 L639.94 414.68 L640.29 414.89 L640.65 415.11 L641.00 415.32 L641.36 415.54 L641.71 415.76 L642.06 415.98 L642.42 416.19 L642.77 416.41 L643.13 416.63 L643.48 416.85 L643.84 417.06 L644.19 417.28 L644.55 417.49 L644.90 417.69 L645.25 417.90 L645.61 418.10 L645.96 418.29 L646.32 418.48 L646.67 418.67 L647.03 418.85 L647.38 419.02 L647.74 419.18 L648.09 419.34 L648.44 419.49 L648.80 419.64 L649.15 419.78 L649.51 419.92 L649.86 420.07 L650.22 420.21 L650.57 420.35 L650.92 420.49 L651.28 420.63 L651.63 420.77 L651.99 420.90 L652.34 421.02 L652.70 421.14 L653.05 421.25 L653.41 421.36 L653.76 421.45 L654.11 421.54 L654.47 421.62 L654.82 421.68 L655.18 421.74 L655.53 421.78 L655.89 421.81 L656.24 421.83 L656.59 421.86 L656.95 421.88 L657.30 421.90 L657.66 421.93 L658.01 421.95 L658.37 421.97 L658.72 421.99 L659.08 422.01 L659.43 422.02 L659.78 422.04 L660.14 422.06 L660.49 422.07 L660.85 422.09 L661.20 422.10 L661.56 422.12 L661.91 422.13 L662.26 422.14 L662.62 422.15 L662.97 422.16 L663.33 422.17 L663.68 422.17 L664.04 422.18 L664.39 422.19 L664.75 422.19 L665.10 422.20 L665.10 422.20 L664.75 422.20 L664.39 422.20 L664.04 422.20 L663.68 422.19 L663.33 422.19 L662.97 422.19 L662.62 422.19 L662.26 422.19 L661.91 422.18 L661.56 422.18 L661.20 422.18 L660.85 422.17 L660.49 422.17 L660.14 422.17 L659.78 422.16 L659.43 422.16 L659.08 422.15 L658.72 422.15 L658.37 422.14 L658.01 422.14 L657.66 422.13 L657.30 422.13 L656.95 422.12 L656.59 422.11 L656.24 422.11 L655.89 422.10 L655.53 422.09 L655.18 422.08 L654.82 422.06 L654.47 422.04 L654.11 422.02 L653.76 421.98 L653.41 421.95 L653.05 421.91 L652.70 421.87 L652.34 421.83 L651.99 421.78 L651.63 421.74 L651.28 421.69 L650.92 421.64 L650.57 421.58 L650.22 421.53 L649.86 421.48 L649.51 421.42 L649.15 421.37 L648.80 421.31 L648.44 421.26 L648.09 421.20 L647.74 421.14 L647.38 421.08 L647.03 421.01 L646.67 420.94 L646.32 420.87 L645.96 420.79 L645.61 420.71 L645.25 420.63 L644.90 420.55 L644.55 420.46 L644.19 420.38 L643.84 420.29 L643.48 420.19 L643.13 420.10 L642.77 420.01 L642.42 419.91 L642.06 419.81 L641.71 419.71 L641.36 419.61 L641.00 419.51 L640.65 419.40 L640.29 419.30 L639.94 419.19 L639.58 419.08 L639.23 418.96 L638.88 418.83 L638.52 418.69 L638.17 418.54 L637.81 418.39 L637.46 418.24 L637.10 418.08 L636.75 417.92 L636.39 417.75 L636.04 417.59 L635.69 417.42 L635.33 417.26 L634.98 417.09 L634.62 416.93 L634.27 416.78 L633.91 416.62 L633.56 416.48 L633.21 416.33 L632.85 416.20 L632.50 416.07 L632.14 415.95 L631.79 415.85 L631.43 415.75 L631.08 415.66 L630.72 415.58 L630.37 415.50 L630.02 415.43 L629.66 415.36 L629.31 415.30 L628.95 415.23 L628.60 415.17 L628.24 415.11 L627.89 415.06 L627.54 415.00 L627.18 414.95 L626.83 414.90 L626.47 414.84 L626.12 414.79 L625.76 414.74 L625.41 414.69 L625.05 414.63 L624.70 414.58 L624.35 414.52 L623.99 414.47 L623.64 414.41 L623.28 414.35 L622.93 414.28 L622.57 414.21 L622.22 414.14 L621.86 414.06 L621.51 413.98 L621.16 413.88 L620.80 413.79 L620.45 413.68 L620.09 413.58 L619.74 413.47 L619.38 413.37 L619.03 413.26 L618.68 413.15 L618.32 413.04 L617.97 412.94 L617.61 412.84 L617.26 412.74 L616.90 412.65 L616.55 412.56 L616.19 412.48 L615.84 412.41 L615.49 412.35 L615.13 412.30 L614.78 412.25 L614.42 412.22 L614.07 412.21 L613.71 412.20 L613.36 412.20 L613.01 412.20 L612.65 412.20 L612.30 412.20 L611.94 412.20 L611.59 412.20 L611.23 412.20 L610.88 412.20 L610.52 412.20 L610.17 412.20 L609.82 412.20 L609.46 412.20 L609.11 412.20 L608.75 412.20 L608.40 412.20 L608.04 412.20 L607.69 412.20 L607.34 412.20 L606.98 412.20 L606.63 412.20 L606.27 412.20 L605.92 412.20 L605.56 412.20 L605.21 412.20 L604.85 412.20 L604.50 412.20 L604.15 412.20 L603.79 412.19 L603.44 412.17 L603.08 412.16 L602.73 412.13 L602.37 412.11 L602.02 412.08 L601.66 412.06 L601.31 412.03 L600.96 412.00 L600.60 411.96 L600.25 411.93 L599.89 411.90 L599.54 411.87 L599.18 411.84 L598.83 411.81 L598.48 411.79 L598.12 411.76 L597.77 411.74 L597.41 411.72 L597.06 411.71 L596.70 411.70 L596.35 411.70 L595.99 411.70 L595.64 411.72 L595.29 411.74 L594.93 411.76 L594.58 411.80 L594.22 411.84 L593.87 411.90 L593.51 411.95 L593.16 412.02 L592.81 412.09 L592.45 412.16 L592.10 412.24 L591.74 412.33 L591.39 412.42 L591.03 412.51 L590.68 412.61 L590.32 412.71 L589.97 412.81 L589.62 412.92 L589.26 413.03 L588.91 413.14 L588.55 413.25 L588.20 413.36 L587.84 413.48 L587.49 413.59 L587.14 413.71 L586.78 413.82 L586.43 413.93 L586.07 414.04 L585.72 414.15 L585.36 414.26 L585.01 414.37 L584.65 414.47 L584.30 414.57 L583.95 414.66 L583.59 414.76 L583.24 414.85 L582.88 414.95 L582.53 415.05 L582.17 415.16 L581.82 415.26 L581.46 415.36 L581.11 415.47 L580.76 415.58 L580.40 415.68 L580.05 415.79 L579.69 415.90 L579.34 416.01 L578.98 416.11 L578.63 416.22 L578.28 416.33 L577.92 416.43 L577.57 416.53 L577.21 416.64 L576.86 416.74 L576.50 416.83 L576.15 416.93 L575.79 417.02 L575.44 417.11 L575.09 417.20 L574.73 417.28 L574.38 417.36 L574.02 417.44 L573.67 417.52 L573.31 417.60 L572.96 417.68 L572.61 417.75 L572.25 417.83 L571.90 417.90 L571.54 417.97 L571.19 418.04 L570.83 418.11 L570.48 418.18 L570.12 418.25 L569.77 418.32 L569.42 418.39 L569.06 418.46 L568.71 418.53 L568.35 418.60 L568.00 418.67 L567.64 418.74 L567.29 418.81 L566.94 418.88 L566.58 418.95 L566.23 419.02 L565.87 419.10 L565.52 419.17 L565.16 419.25 L564.81 419.33 L564.45 419.41 L564.10 419.49 L563.75 419.57 L563.39 419.65 L563.04 419.73 L562.68 419.81 L562.33 419.89 L561.97 419.96 L561.62 420.04 L561.26 420.12 L560.91 420.19 L560.56 420.27 L560.20 420.34 L559.85 420.41 L559.49 420.48 L559.14 420.55 L558.78 420.61 L558.43 420.67 L558.08 420.73 L557.72 420.78 L557.37 420.84 L557.01 420.89 L556.66 420.94 L556.30 420.99 L555.95 421.05 L555.59 421.10 L555.24 421.15 L554.89 421.20 L554.53 421.25 L554.18 421.30 L553.82 421.35 L553.47 421.40 L553.11 421.44 L552.76 421.49 L552.41 421.53 L552.05 421.57 L551.70 421.61 L551.34 421.64 L550.99 421.67 L550.63 421.70 L550.28 421.73 L549.92 421.75 L549.57 421.77 L549.22 421.79 L548.86 421.80 L548.51 421.81 L548.15 421.82 L547.80 421.83 L547.44 421.84 L547.09 421.85 L546.74 421.86 L546.38 421.87 L546.03 421.88 L545.67 421.89 L545.32 421.90 L544.96 421.91 L544.61 421.91 L544.25 421.92 L543.90 421.93 L543.55 421.94 L543.19 421.95 L542.84 421.96 L542.48 421.96 L542.13 421.97 L541.77 421.98 L541.42 421.99 L541.06 421.99 L540.71 422.00 L540.36 422.01 L540.00 422.02 L539.65 422.02 L539.29 422.03 L538.94 422.04 L538.58 422.04 L538.23 422.05 L537.88 422.05 L537.52 422.06 L537.17 422.07 L536.81 422.07 L536.46 422.08 L536.10 422.08 L535.75 422.09 L535.39 422.09 L535.04 422.10 L534.69 422.10 L534.33 422.11 L533.98 422.11 L533.62 422.12 L533.27 422.12 L532.91 422.13 L532.56 422.13 L532.21 422.13 L531.85 422.14 L531.50 422.14 L531.14 422.15 L530.79 422.15 L530.43 422.15 L530.08 422.16 L529.72 422.16 L529.37 422.16 L529.02 422.17 L528.66 422.17 L528.31 422.17 L527.95 422.17 L527.60 422.18 L527.24 422.18 L526.89 422.18 L526.54 422.18 L526.18 422.19 L525.83 422.19 L525.47 422.19 L525.12 422.19 L524.76 422.19 L524.41 422.19 L524.05 422.19 L523.70 422.20 Z" fill="#e8333d" fill-opacity="0.35"/>
<path d="M523.7 422.2 524.1 422.2 524.4 422.2 524.8 422.2 525.1 422.2 525.5 422.2 525.8 422.2 526.2 422.2 526.5 422.2 526.9 422.2 527.2 422.2 527.6 422.2 528.0 422.2 528.3 422.2 528.7 422.2 529.0 422.2 529.4 422.2 529.7 422.2 530.1 422.2 530.4 422.2 530.8 422.2 531.1 422.2 531.5 422.2 531.9 422.2 532.2 422.2 532.6 422.2 532.9 422.2 533.3 422.2 533.6 422.2 534.0 422.2 534.3 422.2 534.7 422.2 535.0 422.2 535.4 422.2 535.7 422.2 536.1 422.2 536.5 422.2 536.8 422.2 537.2 422.2 537.5 422.2 537.9 422.2 538.2 422.2 538.6 422.2 538.9 422.2 539.3 422.2 539.6 422.2 540.0 422.2 540.4 422.2 540.7 422.2 541.1 422.2 541.4 422.2 541.8 422.2 542.1 422.2 542.5 422.2 542.8 422.2 543.2 422.2 543.5 422.2 543.9 422.2 544.3 422.2 544.6 422.2 545.0 422.2 545.3 422.2 545.7 422.2 546.0 422.2 546.4 422.2 546.7 422.2 547.1 422.2 547.4 422.2 547.8 422.2 548.2 422.2 548.5 422.2 548.9 422.2 549.2 422.2 549.6 422.2 549.9 422.2 550.3 422.2 550.6 422.2 551.0 422.2 551.3 422.2 551.7 422.2 552.1 422.2 552.4 422.2 552.8 422.2 553.1 422.2 553.5 422.2 553.8 422.2 554.2 422.2 554.5 422.2 554.9 422.2 555.2 422.1 555.6 422.1 555.9 422.1 556.3 422.0 556.7 422.0 557.0 422.0 557.4 421.9 557.7 421.8 558.1 421.8 558.4 421.7 558.8 421.6 559.1 421.5 559.5 421.5 559.8 421.4 560.2 421.3 560.6 421.2 560.9 421.1 561.3 421.0 561.6 420.9 562.0 420.8 562.3 420.6 562.7 420.5 563.0 420.4 563.4 420.3 563.7 420.2 564.1 420.0 564.5 419.9 564.8 419.8 565.2 419.6 565.5 419.5 565.9 419.4 566.2 419.2 566.6 419.1 566.9 418.9 567.3 418.8 567.6 418.6 568.0 418.4 568.4 418.2 568.7 418.0 569.1 417.7 569.4 417.5 569.8 417.2 570.1 416.9 570.5 416.6 570.8 416.3 571.2 416.0 571.5 415.7 571.9 415.4 572.3 415.0 572.6 414.7 573.0 414.3 573.3 414.0 573.7 413.6 574.0 413.2 574.4 412.9 574.7 412.5 575.1 412.1 575.4 411.7 575.8 411.3 576.1 410.9 576.5 410.5 576.9 410.1 577.2 409.6 577.6 409.1 577.9 408.6 578.3 408.1 578.6 407.5 579.0 406.9 579.3 406.3 579.7 405.6 580.0 405.0 580.4 404.3 580.8 403.7 581.1 403.0 581.5 402.3 581.8 401.6 582.2 401.0 582.5 400.3 582.9 399.7 583.2 399.0 583.6 398.4 583.9 397.9 584.3 397.3 584.7 396.8 585.0 396.3 585.4 395.8 585.7 395.3 586.1 394.9 586.4 394.4 586.8 394.0 587.1 393.5 587.5 393.1 587.8 392.7 588.2 392.2 588.6 391.8 588.9 391.4 589.3 391.1 589.6 390.7 590.0 390.4 590.3 390.0 590.7 389.7 591.0 389.4 591.4 389.1 591.7 388.8 592.1 388.6 592.5 388.3 592.8 388.0 593.2 387.7 593.5 387.4 593.9 387.2 594.2 386.9 594.6 386.7 594.9 386.5 595.3 386.4 595.6 386.3 596.0 386.2 596.3 386.2 596.7 386.4 597.1 386.9 597.4 387.5 597.8 388.3 598.1 389.1 598.5 390.0 598.8 390.8 599.2 391.5 599.5 392.1 599.9 392.5 600.2 392.9 600.6 393.2 601.0 393.5 601.3 393.8 601.7 394.1 602.0 394.3 602.4 394.5 602.7 394.8 603.1 395.0 603.4 395.2 603.8 395.5 604.1 395.7 604.5 396.0 604.9 396.3 605.2 396.6 605.6 396.9 605.9 397.3 606.3 397.7 606.6 398.1 607.0 398.6 607.3 399.0 607.7 399.6 608.0 400.1 608.4 400.7 608.8 401.3 609.1 401.9 609.5 402.5 609.8 403.1 610.2 403.7 610.5 404.3 610.9 405.0 611.2 405.6 611.6 406.2 611.9 406.8 612.3 407.4 612.7 408.0 613.0 408.5 613.4 409.1 613.7 409.6 614.1 410.1 614.4 410.5 614.8 411.0 615.1 411.4 615.5 411.9 615.8 412.4 616.2 412.8 616.5 413.3 616.9 413.8 617.3 414.2 617.6 414.7 618.0 415.1 618.3 415.5 618.7 415.9 619.0 416.3 619.4 416.7 619.7 417.1 620.1 417.4 620.4 417.8 620.8 418.1 621.2 418.4 621.5 418.6 621.9 418.9 622.2 419.1 622.6 419.2 622.9 419.4 623.3 419.6 623.6 419.7 624.0 419.9 624.3 420.0 624.7 420.2 625.1 420.3 625.4 420.5 625.8 420.6 626.1 420.8 626.5 420.9 626.8 421.0 627.2 421.1 627.5 421.3 627.9 421.4 628.2 421.5 628.6 421.6 629.0 421.7 629.3 421.8 629.7 421.8 630.0 421.9 630.4 422.0 630.7 422.0 631.1 422.1 631.4 422.1 631.8 422.2 632.1 422.2 632.5 422.2 632.9 422.2 633.2 422.2 633.6 422.2 633.9 422.2 634.3 422.2 634.6 422.2 635.0 422.2 635.3 422.2 635.7 422.2 636.0 422.2 636.4 422.2 636.7 422.2 637.1 422.2 637.5 422.2 637.8 422.2 638.2 422.2 638.5 422.2 638.9 422.2 639.2 422.2 639.6 422.2 639.9 422.2 640.3 422.2 640.6 422.2 641.0 422.2 641.4 422.2 641.7 422.2 642.1 422.2 642.4 422.2 642.8 422.2 643.1 422.2 643.5 422.2 643.8 422.2 644.2 422.2 644.5 422.2 644.9 422.2 645.3 422.2 645.6 422.2 646.0 422.2 646.3 422.2 646.7 422.2 647.0 422.2 647.4 422.2 647.7 422.2 648.1 422.2 648.4 422.2 648.8 422.2 649.2 422.2 649.5 422.2 649.9 422.2 650.2 422.2 650.6 422.2 650.9 422.2 651.3 422.2 651.6 422.2 652.0 422.2 652.3 422.2 652.7 422.2 653.1 422.2 653.4 422.2 653.8 422.2 654.1 422.2 654.5 422.2 654.8 422.2 655.2 422.2 655.5 422.2 655.9 422.2 656.2 422.2 656.6 422.2 656.9 422.2 657.3 422.2 657.7 422.2 658.0 422.2 658.4 422.2 658.7 422.2 659.1 422.2 659.4 422.2 659.8 422.2 660.1 422.2 660.5 422.2 660.8 422.2 661.2 422.2 661.6 422.2 661.9 422.2 662.3 422.2 662.6 422.2 663.0 422.2 663.3 422.2 663.7 422.2 664.0 422.2 664.4 422.2 664.7 422.2 665.1 422.2" fill="none" stroke="#10a9ea" stroke-width="0.55" stroke-opacity="0.3"/>
<path d="M523.7 422.2 524.1 422.2 524.4 422.2 524.8 422.2 525.1 422.2 525.5 422.2 525.8 422.2 526.2 422.2 526.5 422.2 526.9 422.2 527.2 422.2 527.6 422.2 528.0 422.2 528.3 422.2 528.7 422.2 529.0 422.2 529.4 422.2 529.7 422.2 530.1 422.2 530.4 422.2 530.8 422.2 531.1 422.2 531.5 422.2 531.9 422.2 532.2 422.1 532.6 422.1 532.9 422.1 533.3 422.1 533.6 422.1 534.0 422.1 534.3 422.1 534.7 422.1 535.0 422.1 535.4 422.1 535.7 422.1 536.1 422.1 536.5 422.1 536.8 422.1 537.2 422.1 537.5 422.1 537.9 422.1 538.2 422.1 538.6 422.1 538.9 422.1 539.3 422.1 539.6 422.0 540.0 422.0 540.4 422.0 540.7 422.0 541.1 422.0 541.4 422.0 541.8 422.0 542.1 422.0 542.5 422.0 542.8 422.0 543.2 422.0 543.5 422.0 543.9 422.0 544.3 421.9 544.6 421.9 545.0 421.9 545.3 421.9 545.7 421.9 546.0 421.9 546.4 421.9 546.7 421.9 547.1 421.9 547.4 421.9 547.8 421.8 548.2 421.8 548.5 421.8 548.9 421.8 549.2 421.8 549.6 421.8 549.9 421.8 550.3 421.8 550.6 421.8 551.0 421.7 551.3 421.7 551.7 421.7 552.1 421.7 552.4 421.7 552.8 421.7 553.1 421.7 553.5 421.7 553.8 421.6 554.2 421.6 554.5 421.6 554.9 421.6 555.2 421.6 555.6 421.6 555.9 421.6 556.3 421.5 556.7 421.5 557.0 421.5 557.4 421.5 557.7 421.5 558.1 421.5 558.4 421.4 558.8 421.4 559.1 421.4 559.5 421.4 559.8 421.4 560.2 421.4 560.6 421.3 560.9 421.3 561.3 421.3 561.6 421.3 562.0 421.3 562.3 421.3 562.7 421.2 563.0 421.2 563.4 421.2 563.7 421.2 564.1 421.2 564.5 421.1 564.8 421.1 565.2 421.1 565.5 421.0 565.9 421.0 566.2 420.9 566.6 420.8 566.9 420.7 567.3 420.6 567.6 420.5 568.0 420.4 568.4 420.3 568.7 420.1 569.1 420.0 569.4 419.8 569.8 419.7 570.1 419.5 570.5 419.3 570.8 419.2 571.2 419.0 571.5 418.8 571.9 418.6 572.3 418.4 572.6 418.2 573.0 418.0 573.3 417.8 573.7 417.6 574.0 417.3 574.4 417.0 574.7 416.7 575.1 416.4 575.4 416.0 575.8 415.7 576.1 415.3 576.5 414.9 576.9 414.4 577.2 414.0 577.6 413.6 577.9 413.1 578.3 412.6 578.6 412.1 579.0 411.5 579.3 410.8 579.7 410.1 580.0 409.3 580.4 408.6 580.8 407.8 581.1 407.0 581.5 406.2 581.8 405.4 582.2 404.7 582.5 404.0 582.9 403.3 583.2 402.7 583.6 402.0 583.9 401.4 584.3 400.8 584.7 400.2 585.0 399.6 585.4 399.0 585.7 398.4 586.1 397.8 586.4 397.2 586.8 396.7 587.1 396.2 587.5 395.6 587.8 395.2 588.2 394.7 588.6 394.2 588.9 393.7 589.3 393.2 589.6 392.7 590.0 392.2 590.3 391.7 590.7 391.3 591.0 390.9 591.4 390.5 591.7 390.2 592.1 390.0 592.5 389.8 592.8 389.7 593.2 389.6 593.5 389.5 593.9 389.4 594.2 389.4 594.6 389.3 594.9 389.3 595.3 389.2 595.6 389.2 596.0 389.2 596.3 389.2 596.7 389.2 597.1 389.2 597.4 389.2 597.8 389.3 598.1 389.3 598.5 389.3 598.8 389.3 599.2 389.4 599.5 389.4 599.9 389.5 600.2 389.5 600.6 389.6 601.0 389.7 601.3 389.8 601.7 389.9 602.0 390.2 602.4 390.5 602.7 390.9 603.1 391.3 603.4 391.7 603.8 392.2 604.1 392.8 604.5 393.3 604.9 393.9 605.2 394.4 605.6 395.0 605.9 395.5 606.3 396.1 606.6 396.6 607.0 397.2 607.3 397.8 607.7 398.4 608.0 399.1 608.4 399.8 608.8 400.5 609.1 401.2 609.5 401.9 609.8 402.6 610.2 403.2 610.5 403.9 610.9 404.6 611.2 405.3 611.6 405.9 611.9 406.6 612.3 407.2 612.7 407.9 613.0 408.6 613.4 409.3 613.7 410.0 614.1 410.6 614.4 411.3 614.8 411.9 615.1 412.5 615.5 413.0 615.8 413.5 616.2 414.0 616.5 414.4 616.9 414.9 617.3 415.3 617.6 415.7 618.0 416.1 618.3 416.5 618.7 416.9 619.0 417.3 619.4 417.6 619.7 417.9 620.1 418.3 620.4 418.5 620.8 418.8 621.2 419.1 621.5 419.3 621.9 419.5 622.2 419.8 622.6 420.0 622.9 420.2 623.3 420.4 623.6 420.6 624.0 420.8 624.3 421.0 624.7 421.1 625.1 421.3 625.4 421.4 625.8 421.5 626.1 421.6 626.5 421.6 626.8 421.7 627.2 421.7 627.5 421.7 627.9 421.8 628.2 421.8 628.6 421.8 629.0 421.9 629.3 421.9 629.7 421.9 630.0 422.0 630.4 422.0 630.7 422.0 631.1 422.0 631.4 422.1 631.8 422.1 632.1 422.1 632.5 422.1 632.9 422.1 633.2 422.2 633.6 422.2 633.9 422.2 634.3 422.2 634.6 422.2 635.0 422.2 635.3 422.2 635.7 422.2 636.0 422.2 636.4 422.2 636.7 422.2 637.1 422.2 637.5 422.2 637.8 422.2 638.2 422.2 638.5 422.2 638.9 422.2 639.2 422.2 639.6 422.2 639.9 422.2 640.3 422.2 640.6 422.2 641.0 422.2 641.4 422.2 641.7 422.2 642.1 422.2 642.4 422.2 642.8 422.2 643.1 422.2 643.5 422.2 643.8 422.2 644.2 422.2 644.5 422.2 644.9 422.2 645.3 422.2 645.6 422.2 646.0 422.2 646.3 422.2 646.7 422.2 647.0 422.2 647.4 422.2 647.7 422.2 648.1 422.2 648.4 422.2 648.8 422.2 649.2 422.2 649.5 422.2 649.9 422.2 650.2 422.2 650.6 422.2 650.9 422.2 651.3 422.2 651.6 422.2 652.0 422.2 652.3 422.2 652.7 422.2 653.1 422.2 653.4 422.2 653.8 422.2 654.1 422.2 654.5 422.2 654.8 422.2 655.2 422.2 655.5 422.2 655.9 422.2 656.2 422.2 656.6 422.2 656.9 422.2 657.3 422.2 657.7 422.2 658.0 422.2 658.4 422.2 658.7 422.2 659.1 422.2 659.4 422.2 659.8 422.2 660.1 422.2 660.5 422.2 660.8 422.2 661.2 422.2 661.6 422.2 661.9 422.2 662.3 422.2 662.6 422.2 663.0 422.2 663.3 422.2 663.7 422.2 664.0 422.2 664.4 422.2 664.7 422.2 665.1 422.2" fill="none" stroke="#10a9ea" stroke-width="0.5" stroke-opacity="0.22"/>
<path d="M523.7 422.2 524.1 422.2 524.4 422.2 524.8 422.2 525.1 422.2 525.5 422.2 525.8 422.2 526.2 422.2 526.5 422.2 526.9 422.2 527.2 422.2 527.6 422.2 528.0 422.1 528.3 422.1 528.7 422.1 529.0 422.1 529.4 422.1 529.7 422.1 530.1 422.1 530.4 422.1 530.8 422.1 531.1 422.1 531.5 422.1 531.9 422.1 532.2 422.1 532.6 422.1 532.9 422.1 533.3 422.1 533.6 422.1 534.0 422.1 534.3 422.1 534.7 422.1 535.0 422.1 535.4 422.1 535.7 422.1 536.1 422.1 536.5 422.1 536.8 422.1 537.2 422.1 537.5 422.1 537.9 422.0 538.2 422.0 538.6 422.0 538.9 422.0 539.3 422.0 539.6 422.0 540.0 422.0 540.4 422.0 540.7 422.0 541.1 422.0 541.4 422.0 541.8 422.0 542.1 422.0 542.5 422.0 542.8 422.0 543.2 422.0 543.5 422.0 543.9 422.0 544.3 422.0 544.6 421.9 545.0 421.9 545.3 421.9 545.7 421.9 546.0 421.9 546.4 421.9 546.7 421.9 547.1 421.9 547.4 421.9 547.8 421.9 548.2 421.9 548.5 421.9 548.9 421.9 549.2 421.9 549.6 421.8 549.9 421.8 550.3 421.8 550.6 421.8 551.0 421.8 551.3 421.8 551.7 421.8 552.1 421.8 552.4 421.8 552.8 421.8 553.1 421.8 553.5 421.8 553.8 421.7 554.2 421.7 554.5 421.7 554.9 421.7 555.2 421.7 555.6 421.7 555.9 421.7 556.3 421.7 556.7 421.7 557.0 421.7 557.4 421.7 557.7 421.6 558.1 421.6 558.4 421.6 558.8 421.6 559.1 421.6 559.5 421.6 559.8 421.6 560.2 421.6 560.6 421.6 560.9 421.5 561.3 421.5 561.6 421.5 562.0 421.5 562.3 421.5 562.7 421.5 563.0 421.5 563.4 421.5 563.7 421.5 564.1 421.4 564.5 421.4 564.8 421.4 565.2 421.4 565.5 421.4 565.9 421.4 566.2 421.4 566.6 421.3 566.9 421.3 567.3 421.2 567.6 421.2 568.0 421.1 568.4 421.1 568.7 421.0 569.1 421.0 569.4 420.9 569.8 420.8 570.1 420.7 570.5 420.6 570.8 420.5 571.2 420.4 571.5 420.3 571.9 420.2 572.3 420.1 572.6 420.0 573.0 419.9 573.3 419.8 573.7 419.7 574.0 419.6 574.4 419.5 574.7 419.3 575.1 419.2 575.4 419.1 575.8 419.0 576.1 418.8 576.5 418.7 576.9 418.5 577.2 418.3 577.6 418.1 577.9 417.9 578.3 417.7 578.6 417.5 579.0 417.3 579.3 417.0 579.7 416.8 580.0 416.5 580.4 416.3 580.8 416.0 581.1 415.7 581.5 415.4 581.8 415.1 582.2 414.8 582.5 414.5 582.9 414.1 583.2 413.7 583.6 413.2 583.9 412.8 584.3 412.3 584.7 411.8 585.0 411.3 585.4 410.8 585.7 410.3 586.1 409.9 586.4 409.4 586.8 408.9 587.1 408.5 587.5 408.1 587.8 407.7 588.2 407.3 588.6 406.9 588.9 406.5 589.3 406.1 589.6 405.8 590.0 405.4 590.3 405.0 590.7 404.6 591.0 404.3 591.4 403.9 591.7 403.6 592.1 403.2 592.5 402.9 592.8 402.6 593.2 402.3 593.5 402.0 593.9 401.7 594.2 401.4 594.6 401.1 594.9 400.7 595.3 400.4 595.6 400.1 596.0 399.8 596.3 399.5 596.7 399.2 597.1 399.0 597.4 398.7 597.8 398.5 598.1 398.3 598.5 398.1 598.8 398.0 599.2 397.9 599.5 397.8 599.9 397.8 600.2 397.7 600.6 397.7 601.0 397.6 601.3 397.6 601.7 397.5 602.0 397.5 602.4 397.5 602.7 397.5 603.1 397.5 603.4 397.5 603.8 397.5 604.1 397.5 604.5 397.5 604.9 397.5 605.2 397.5 605.6 397.5 605.9 397.5 606.3 397.5 606.6 397.5 607.0 397.6 607.3 397.6 607.7 397.6 608.0 397.7 608.4 397.7 608.8 397.7 609.1 397.8 609.5 397.8 609.8 397.9 610.2 398.0 610.5 398.1 610.9 398.3 611.2 398.5 611.6 398.7 611.9 399.0 612.3 399.2 612.7 399.6 613.0 399.9 613.4 400.2 613.7 400.5 614.1 400.9 614.4 401.2 614.8 401.6 615.1 401.9 615.5 402.3 615.8 402.6 616.2 402.9 616.5 403.3 616.9 403.6 617.3 404.0 617.6 404.4 618.0 404.8 618.3 405.2 618.7 405.7 619.0 406.1 619.4 406.5 619.7 407.0 620.1 407.4 620.4 407.8 620.8 408.3 621.2 408.7 621.5 409.1 621.9 409.5 622.2 409.9 622.6 410.3 622.9 410.7 623.3 411.1 623.6 411.6 624.0 412.0 624.3 412.4 624.7 412.8 625.1 413.2 625.4 413.6 625.8 414.0 626.1 414.4 626.5 414.8 626.8 415.1 627.2 415.5 627.5 415.8 627.9 416.1 628.2 416.3 628.6 416.6 629.0 416.9 629.3 417.1 629.7 417.4 630.0 417.7 630.4 417.9 630.7 418.1 631.1 418.4 631.4 418.6 631.8 418.8 632.1 419.0 632.5 419.2 632.9 419.4 633.2 419.5 633.6 419.7 633.9 419.9 634.3 420.0 634.6 420.1 635.0 420.3 635.3 420.4 635.7 420.6 636.0 420.7 636.4 420.8 636.7 421.0 637.1 421.1 637.5 421.2 637.8 421.3 638.2 421.4 638.5 421.5 638.9 421.6 639.2 421.6 639.6 421.7 639.9 421.7 640.3 421.8 640.6 421.8 641.0 421.8 641.4 421.8 641.7 421.9 642.1 421.9 642.4 421.9 642.8 421.9 643.1 421.9 643.5 422.0 643.8 422.0 644.2 422.0 644.5 422.0 644.9 422.0 645.3 422.1 645.6 422.1 646.0 422.1 646.3 422.1 646.7 422.1 647.0 422.1 647.4 422.1 647.7 422.1 648.1 422.2 648.4 422.2 648.8 422.2 649.2 422.2 649.5 422.2 649.9 422.2 650.2 422.2 650.6 422.2 650.9 422.2 651.3 422.2 651.6 422.2 652.0 422.2 652.3 422.2 652.7 422.2 653.1 422.2 653.4 422.2 653.8 422.2 654.1 422.2 654.5 422.2 654.8 422.2 655.2 422.2 655.5 422.2 655.9 422.2 656.2 422.2 656.6 422.2 656.9 422.2 657.3 422.2 657.7 422.2 658.0 422.2 658.4 422.2 658.7 422.2 659.1 422.2 659.4 422.2 659.8 422.2 660.1 422.2 660.5 422.2 660.8 422.2 661.2 422.2 661.6 422.2 661.9 422.2 662.3 422.2 662.6 422.2 663.0 422.2 663.3 422.2 663.7 422.2 664.0 422.2 664.4 422.2 664.7 422.2 665.1 422.2" fill="none" stroke="#10a9ea" stroke-width="0.5" stroke-opacity="0.2"/>
<path d="M523.7 422.2 524.1 422.2 524.4 422.2 524.8 422.2 525.1 422.2 525.5 422.2 525.8 422.2 526.2 422.2 526.5 422.1 526.9 422.1 527.2 422.1 527.6 422.1 528.0 422.1 528.3 422.1 528.7 422.1 529.0 422.1 529.4 422.1 529.7 422.1 530.1 422.1 530.4 422.1 530.8 422.1 531.1 422.1 531.5 422.1 531.9 422.1 532.2 422.1 532.6 422.1 532.9 422.1 533.3 422.1 533.6 422.1 534.0 422.1 534.3 422.1 534.7 422.0 535.0 422.0 535.4 422.0 535.7 422.0 536.1 422.0 536.5 422.0 536.8 422.0 537.2 422.0 537.5 422.0 537.9 422.0 538.2 422.0 538.6 422.0 538.9 422.0 539.3 422.0 539.6 422.0 540.0 421.9 540.4 421.9 540.7 421.9 541.1 421.9 541.4 421.9 541.8 421.9 542.1 421.9 542.5 421.9 542.8 421.9 543.2 421.9 543.5 421.9 543.9 421.9 544.3 421.8 544.6 421.8 545.0 421.8 545.3 421.8 545.7 421.8 546.0 421.8 546.4 421.8 546.7 421.8 547.1 421.8 547.4 421.8 547.8 421.7 548.2 421.7 548.5 421.7 548.9 421.7 549.2 421.7 549.6 421.7 549.9 421.7 550.3 421.7 550.6 421.6 551.0 421.6 551.3 421.6 551.7 421.6 552.1 421.6 552.4 421.6 552.8 421.6 553.1 421.6 553.5 421.5 553.8 421.5 554.2 421.5 554.5 421.5 554.9 421.5 555.2 421.5 555.6 421.5 555.9 421.4 556.3 421.4 556.7 421.4 557.0 421.4 557.4 421.4 557.7 421.4 558.1 421.3 558.4 421.3 558.8 421.3 559.1 421.3 559.5 421.3 559.8 421.3 560.2 421.2 560.6 421.2 560.9 421.2 561.3 421.1 561.6 421.1 562.0 421.0 562.3 421.0 562.7 420.9 563.0 420.8 563.4 420.7 563.7 420.6 564.1 420.5 564.5 420.4 564.8 420.2 565.2 420.1 565.5 420.0 565.9 419.8 566.2 419.7 566.6 419.5 566.9 419.4 567.3 419.2 567.6 419.1 568.0 418.9 568.4 418.8 568.7 418.6 569.1 418.4 569.4 418.2 569.8 418.0 570.1 417.8 570.5 417.5 570.8 417.3 571.2 417.0 571.5 416.7 571.9 416.4 572.3 416.1 572.6 415.7 573.0 415.4 573.3 415.0 573.7 414.6 574.0 414.3 574.4 413.9 574.7 413.4 575.1 412.9 575.4 412.4 575.8 411.8 576.1 411.2 576.5 410.5 576.9 409.9 577.2 409.2 577.6 408.6 577.9 407.9 578.3 407.3 578.6 406.7 579.0 406.1 579.3 405.6 579.7 405.0 580.0 404.5 580.4 404.0 580.8 403.5 581.1 402.9 581.5 402.4 581.8 401.9 582.2 401.4 582.5 401.0 582.9 400.5 583.2 400.0 583.6 399.6 583.9 399.2 584.3 398.8 584.7 398.4 585.0 398.0 585.4 397.5 585.7 397.1 586.1 396.7 586.4 396.3 586.8 395.9 587.1 395.5 587.5 395.1 587.8 394.8 588.2 394.5 588.6 394.2 588.9 394.0 589.3 393.9 589.6 393.7 590.0 393.7 590.3 393.6 590.7 393.6 591.0 393.5 591.4 393.5 591.7 393.4 592.1 393.4 592.5 393.4 592.8 393.3 593.2 393.3 593.5 393.3 593.9 393.3 594.2 393.3 594.6 393.4 594.9 393.4 595.3 393.4 595.6 393.4 596.0 393.4 596.3 393.5 596.7 393.5 597.1 393.6 597.4 393.6 597.8 393.7 598.1 393.7 598.5 393.8 598.8 393.9 599.2 394.0 599.5 394.3 599.9 394.5 600.2 394.9 600.6 395.2 601.0 395.6 601.3 396.0 601.7 396.5 602.0 396.9 602.4 397.4 602.7 397.9 603.1 398.3 603.4 398.8 603.8 399.2 604.1 399.7 604.5 400.1 604.9 400.6 605.2 401.2 605.6 401.7 605.9 402.3 606.3 402.8 606.6 403.4 607.0 404.0 607.3 404.6 607.7 405.1 608.0 405.7 608.4 406.3 608.8 406.8 609.1 407.4 609.5 407.9 609.8 408.5 610.2 409.0 610.5 409.6 610.9 410.2 611.2 410.7 611.6 411.3 611.9 411.8 612.3 412.4 612.7 412.9 613.0 413.4 613.4 413.9 613.7 414.3 614.1 414.7 614.4 415.1 614.8 415.5 615.1 415.9 615.5 416.2 615.8 416.6 616.2 416.9 616.5 417.2 616.9 417.5 617.3 417.8 617.6 418.1 618.0 418.4 618.3 418.7 618.7 418.9 619.0 419.1 619.4 419.4 619.7 419.6 620.1 419.7 620.4 419.9 620.8 420.1 621.2 420.3 621.5 420.5 621.9 420.7 622.2 420.8 622.6 421.0 622.9 421.1 623.3 421.3 623.6 421.4 624.0 421.5 624.3 421.6 624.7 421.6 625.1 421.7 625.4 421.7 625.8 421.7 626.1 421.8 626.5 421.8 626.8 421.8 627.2 421.9 627.5 421.9 627.9 421.9 628.2 422.0 628.6 422.0 629.0 422.0 629.3 422.0 629.7 422.0 630.0 422.1 630.4 422.1 630.7 422.1 631.1 422.1 631.4 422.1 631.8 422.1 632.1 422.2 632.5 422.2 632.9 422.2 633.2 422.2 633.6 422.2 633.9 422.2 634.3 422.2 634.6 422.2 635.0 422.2 635.3 422.2 635.7 422.2 636.0 422.2 636.4 422.2 636.7 422.2 637.1 422.2 637.5 422.2 637.8 422.2 638.2 422.2 638.5 422.2 638.9 422.2 639.2 422.2 639.6 422.2 639.9 422.2 640.3 422.2 640.6 422.2 641.0 422.2 641.4 422.2 641.7 422.2 642.1 422.2 642.4 422.2 642.8 422.2 643.1 422.2 643.5 422.2 643.8 422.2 644.2 422.2 644.5 422.2 644.9 422.2 645.3 422.2 645.6 422.2 646.0 422.2 646.3 422.2 646.7 422.2 647.0 422.2 647.4 422.2 647.7 422.2 648.1 422.2 648.4 422.2 648.8 422.2 649.2 422.2 649.5 422.2 649.9 422.2 650.2 422.2 650.6 422.2 650.9 422.2 651.3 422.2 651.6 422.2 652.0 422.2 652.3 422.2 652.7 422.2 653.1 422.2 653.4 422.2 653.8 422.2 654.1 422.2 654.5 422.2 654.8 422.2 655.2 422.2 655.5 422.2 655.9 422.2 656.2 422.2 656.6 422.2 656.9 422.2 657.3 422.2 657.7 422.2 658.0 422.2 658.4 422.2 658.7 422.2 659.1 422.2 659.4 422.2 659.8 422.2 660.1 422.2 660.5 422.2 660.8 422.2 661.2 422.2 661.6 422.2 661.9 422.2 662.3 422.2 662.6 422.2 663.0 422.2 663.3 422.2 663.7 422.2 664.0 422.2 664.4 422.2 664.7 422.2 665.1 422.2" fill="none" stroke="#10a9ea" stroke-width="0.5" stroke-opacity="0.2"/>
<path d="M523.70 422.20 L524.05 422.19 L524.41 422.19 L524.76 422.19 L525.12 422.19 L525.47 422.19 L525.83 422.19 L526.18 422.18 L526.54 422.18 L526.89 422.18 L527.24 422.18 L527.60 422.17 L527.95 422.17 L528.31 422.17 L528.66 422.17 L529.02 422.16 L529.37 422.16 L529.72 422.16 L530.08 422.15 L530.43 422.15 L530.79 422.14 L531.14 422.14 L531.50 422.14 L531.85 422.13 L532.21 422.13 L532.56 422.12 L532.91 422.12 L533.27 422.11 L533.62 422.11 L533.98 422.10 L534.33 422.10 L534.69 422.09 L535.04 422.08 L535.39 422.08 L535.75 422.07 L536.10 422.06 L536.46 422.06 L536.81 422.05 L537.17 422.04 L537.52 422.04 L537.88 422.03 L538.23 422.02 L538.58 422.01 L538.94 422.01 L539.29 422.00 L539.65 421.99 L540.00 421.98 L540.36 421.97 L540.71 421.96 L541.06 421.95 L541.42 421.94 L541.77 421.93 L542.13 421.92 L542.48 421.91 L542.84 421.90 L543.19 421.89 L543.55 421.88 L543.90 421.87 L544.25 421.86 L544.61 421.85 L544.96 421.84 L545.32 421.83 L545.67 421.81 L546.03 421.80 L546.38 421.79 L546.74 421.78 L547.09 421.76 L547.44 421.75 L547.80 421.74 L548.15 421.73 L548.51 421.71 L548.86 421.70 L549.22 421.68 L549.57 421.67 L549.92 421.65 L550.28 421.64 L550.63 421.62 L550.99 421.61 L551.34 421.59 L551.70 421.58 L552.05 421.56 L552.41 421.55 L552.76 421.53 L553.11 421.51 L553.47 421.50 L553.82 421.48 L554.18 421.46 L554.53 421.44 L554.89 421.42 L555.24 421.41 L555.59 421.39 L555.95 421.37 L556.30 421.35 L556.66 421.33 L557.01 421.31 L557.37 421.29 L557.72 421.27 L558.08 421.25 L558.43 421.23 L558.78 421.21 L559.14 421.19 L559.49 421.17 L559.85 421.15 L560.20 421.12 L560.56 421.10 L560.91 421.08 L561.26 421.06 L561.62 421.03 L561.97 421.01 L562.33 420.99 L562.68 420.96 L563.04 420.94 L563.39 420.91 L563.75 420.89 L564.10 420.86 L564.45 420.84 L564.81 420.81 L565.16 420.79 L565.52 420.76 L565.87 420.74 L566.23 420.71 L566.58 420.68 L566.94 420.63 L567.29 420.57 L567.64 420.50 L568.00 420.41 L568.35 420.30 L568.71 420.19 L569.06 420.06 L569.42 419.92 L569.77 419.77 L570.12 419.61 L570.48 419.44 L570.83 419.26 L571.19 419.08 L571.54 418.88 L571.90 418.68 L572.25 418.48 L572.61 418.27 L572.96 418.05 L573.31 417.83 L573.67 417.61 L574.02 417.38 L574.38 417.15 L574.73 416.92 L575.09 416.69 L575.44 416.45 L575.79 416.19 L576.15 415.91 L576.50 415.62 L576.86 415.30 L577.21 414.97 L577.57 414.63 L577.92 414.26 L578.28 413.88 L578.63 413.49 L578.98 413.08 L579.34 412.66 L579.69 412.22 L580.05 411.77 L580.40 411.31 L580.76 410.82 L581.11 410.27 L581.46 409.66 L581.82 409.01 L582.17 408.32 L582.53 407.60 L582.88 406.86 L583.24 406.12 L583.59 405.37 L583.95 404.63 L584.30 403.90 L584.65 403.19 L585.01 402.52 L585.36 401.89 L585.72 401.30 L586.07 400.71 L586.43 400.12 L586.78 399.54 L587.14 398.97 L587.49 398.40 L587.84 397.85 L588.20 397.30 L588.55 396.77 L588.91 396.25 L589.26 395.75 L589.62 395.26 L589.97 394.80 L590.32 394.35 L590.68 393.93 L591.03 393.53 L591.39 393.13 L591.74 392.72 L592.10 392.31 L592.45 391.90 L592.81 391.50 L593.16 391.12 L593.51 390.76 L593.87 390.42 L594.22 390.11 L594.58 389.84 L594.93 389.60 L595.29 389.41 L595.64 389.27 L595.99 389.17 L596.35 389.10 L596.70 389.02 L597.06 388.96 L597.41 388.90 L597.77 388.84 L598.12 388.80 L598.48 388.76 L598.83 388.73 L599.18 388.71 L599.54 388.70 L599.89 388.70 L600.25 388.71 L600.60 388.72 L600.96 388.74 L601.31 388.76 L601.66 388.79 L602.02 388.83 L602.37 388.87 L602.73 388.91 L603.08 388.96 L603.44 389.01 L603.79 389.06 L604.15 389.12 L604.50 389.18 L604.85 389.26 L605.21 389.40 L605.56 389.59 L605.92 389.84 L606.27 390.13 L606.63 390.47 L606.98 390.84 L607.34 391.24 L607.69 391.67 L608.04 392.11 L608.40 392.57 L608.75 393.04 L609.11 393.51 L609.46 393.98 L609.82 394.44 L610.17 394.89 L610.52 395.37 L610.88 395.88 L611.23 396.42 L611.59 396.99 L611.94 397.57 L612.30 398.17 L612.65 398.79 L613.01 399.41 L613.36 400.05 L613.71 400.68 L614.07 401.32 L614.42 401.95 L614.78 402.58 L615.13 403.20 L615.49 403.80 L615.84 404.41 L616.19 405.03 L616.55 405.67 L616.90 406.31 L617.26 406.95 L617.61 407.60 L617.97 408.24 L618.32 408.87 L618.68 409.48 L619.03 410.08 L619.38 410.66 L619.74 411.22 L620.09 411.74 L620.45 412.24 L620.80 412.71 L621.16 413.18 L621.51 413.64 L621.86 414.09 L622.22 414.53 L622.57 414.97 L622.93 415.38 L623.28 415.79 L623.64 416.18 L623.99 416.56 L624.35 416.91 L624.70 417.25 L625.05 417.57 L625.41 417.87 L625.76 418.15 L626.12 418.41 L626.47 418.67 L626.83 418.93 L627.18 419.19 L627.54 419.43 L627.89 419.67 L628.24 419.90 L628.60 420.12 L628.95 420.32 L629.31 420.51 L629.66 420.68 L630.02 420.84 L630.37 420.97 L630.72 421.08 L631.08 421.17 L631.43 421.24 L631.79 421.30 L632.14 421.36 L632.50 421.42 L632.85 421.48 L633.21 421.53 L633.56 421.59 L633.91 421.64 L634.27 421.69 L634.62 421.74 L634.98 421.78 L635.33 421.83 L635.69 421.87 L636.04 421.91 L636.39 421.94 L636.75 421.98 L637.10 422.01 L637.46 422.04 L637.81 422.07 L638.17 422.09 L638.52 422.12 L638.88 422.14 L639.23 422.15 L639.58 422.17 L639.94 422.18 L640.29 422.19 L640.65 422.20 L641.00 422.20 L641.36 422.20 L641.71 422.20 L642.06 422.20 L642.42 422.20 L642.77 422.20 L643.13 422.20 L643.48 422.20 L643.84 422.20 L644.19 422.20 L644.55 422.20 L644.90 422.20 L645.25 422.20 L645.61 422.20 L645.96 422.20 L646.32 422.20 L646.67 422.20 L647.03 422.20 L647.38 422.20 L647.74 422.20 L648.09 422.20 L648.44 422.20 L648.80 422.20 L649.15 422.20 L649.51 422.20 L649.86 422.20 L650.22 422.20 L650.57 422.20 L650.92 422.20 L651.28 422.20 L651.63 422.20 L651.99 422.20 L652.34 422.20 L652.70 422.20 L653.05 422.20 L653.41 422.20 L653.76 422.20 L654.11 422.20 L654.47 422.20 L654.82 422.20 L655.18 422.20 L655.53 422.20 L655.89 422.20 L656.24 422.20 L656.59 422.20 L656.95 422.20 L657.30 422.20 L657.66 422.20 L658.01 422.20 L658.37 422.20 L658.72 422.20 L659.08 422.20 L659.43 422.20 L659.78 422.20 L660.14 422.20 L660.49 422.20 L660.85 422.20 L661.20 422.20 L661.56 422.20 L661.91 422.20 L662.26 422.20 L662.62 422.20 L662.97 422.20 L663.33 422.20 L663.68 422.20 L664.04 422.20 L664.39 422.20 L664.75 422.20 L665.10 422.20 L665.10 422.20 L664.75 422.20 L664.39 422.20 L664.04 422.20 L663.68 422.20 L663.33 422.20 L662.97 422.20 L662.62 422.20 L662.26 422.20 L661.91 422.20 L661.56 422.20 L661.20 422.20 L660.85 422.20 L660.49 422.20 L660.14 422.20 L659.78 422.20 L659.43 422.20 L659.08 422.20 L658.72 422.20 L658.37 422.20 L658.01 422.20 L657.66 422.20 L657.30 422.20 L656.95 422.20 L656.59 422.20 L656.24 422.20 L655.89 422.20 L655.53 422.20 L655.18 422.20 L654.82 422.20 L654.47 422.20 L654.11 422.20 L653.76 422.20 L653.41 422.20 L653.05 422.20 L652.70 422.20 L652.34 422.20 L651.99 422.20 L651.63 422.20 L651.28 422.20 L650.92 422.20 L650.57 422.20 L650.22 422.20 L649.86 422.20 L649.51 422.20 L649.15 422.20 L648.80 422.20 L648.44 422.20 L648.09 422.20 L647.74 422.20 L647.38 422.20 L647.03 422.20 L646.67 422.20 L646.32 422.20 L645.96 422.20 L645.61 422.20 L645.25 422.20 L644.90 422.20 L644.55 422.20 L644.19 422.20 L643.84 422.20 L643.48 422.20 L643.13 422.20 L642.77 422.20 L642.42 422.20 L642.06 422.20 L641.71 422.20 L641.36 422.20 L641.00 422.20 L640.65 422.20 L640.29 422.20 L639.94 422.20 L639.58 422.19 L639.23 422.19 L638.88 422.19 L638.52 422.19 L638.17 422.18 L637.81 422.18 L637.46 422.17 L637.10 422.17 L636.75 422.16 L636.39 422.15 L636.04 422.15 L635.69 422.14 L635.33 422.13 L634.98 422.12 L634.62 422.11 L634.27 422.10 L633.91 422.09 L633.56 422.08 L633.21 422.07 L632.85 422.06 L632.50 422.05 L632.14 422.03 L631.79 422.02 L631.43 422.01 L631.08 421.99 L630.72 421.97 L630.37 421.93 L630.02 421.88 L629.66 421.83 L629.31 421.76 L628.95 421.69 L628.60 421.61 L628.24 421.52 L627.89 421.42 L627.54 421.32 L627.18 421.22 L626.83 421.11 L626.47 421.00 L626.12 420.89 L625.76 420.78 L625.41 420.66 L625.05 420.52 L624.70 420.37 L624.35 420.20 L623.99 420.03 L623.64 419.84 L623.28 419.64 L622.93 419.43 L622.57 419.21 L622.22 418.98 L621.86 418.74 L621.51 418.50 L621.16 418.25 L620.80 417.99 L620.45 417.72 L620.09 417.44 L619.74 417.13 L619.38 416.79 L619.03 416.43 L618.68 416.05 L618.32 415.65 L617.97 415.24 L617.61 414.82 L617.26 414.40 L616.90 413.97 L616.55 413.53 L616.19 413.11 L615.84 412.68 L615.49 412.27 L615.13 411.85 L614.78 411.43 L614.42 410.99 L614.07 410.55 L613.71 410.10 L613.36 409.65 L613.01 409.20 L612.65 408.75 L612.30 408.30 L611.94 407.86 L611.59 407.43 L611.23 407.01 L610.88 406.61 L610.52 406.22 L610.17 405.85 L609.82 405.50 L609.46 405.13 L609.11 404.76 L608.75 404.38 L608.40 404.01 L608.04 403.64 L607.69 403.27 L607.34 402.92 L606.98 402.59 L606.63 402.29 L606.27 402.01 L605.92 401.76 L605.56 401.55 L605.21 401.38 L604.85 401.26 L604.50 401.18 L604.15 401.12 L603.79 401.06 L603.44 401.01 L603.08 400.96 L602.73 400.91 L602.37 400.87 L602.02 400.83 L601.66 400.80 L601.31 400.77 L600.96 400.74 L600.60 400.72 L600.25 400.71 L599.89 400.70 L599.54 400.70 L599.18 400.71 L598.83 400.73 L598.48 400.76 L598.12 400.80 L597.77 400.84 L597.41 400.90 L597.06 400.96 L596.70 401.03 L596.35 401.10 L595.99 401.17 L595.64 401.26 L595.29 401.40 L594.93 401.58 L594.58 401.80 L594.22 402.05 L593.87 402.33 L593.51 402.64 L593.16 402.96 L592.81 403.30 L592.45 403.65 L592.10 404.01 L591.74 404.37 L591.39 404.72 L591.03 405.06 L590.68 405.39 L590.32 405.74 L589.97 406.09 L589.62 406.46 L589.26 406.83 L588.91 407.22 L588.55 407.61 L588.20 408.01 L587.84 408.42 L587.49 408.83 L587.14 409.24 L586.78 409.66 L586.43 410.08 L586.07 410.50 L585.72 410.92 L585.36 411.33 L585.01 411.77 L584.65 412.23 L584.30 412.71 L583.95 413.20 L583.59 413.70 L583.24 414.19 L582.88 414.68 L582.53 415.16 L582.17 415.62 L581.82 416.06 L581.46 416.47 L581.11 416.84 L580.76 417.18 L580.40 417.46 L580.05 417.73 L579.69 417.99 L579.34 418.25 L578.98 418.49 L578.63 418.72 L578.28 418.95 L577.92 419.16 L577.57 419.37 L577.21 419.56 L576.86 419.73 L576.50 419.90 L576.15 420.04 L575.79 420.18 L575.44 420.30 L575.09 420.40 L574.73 420.49 L574.38 420.58 L574.02 420.67 L573.67 420.75 L573.31 420.83 L572.96 420.91 L572.61 420.99 L572.25 421.07 L571.90 421.14 L571.54 421.21 L571.19 421.28 L570.83 421.34 L570.48 421.40 L570.12 421.46 L569.77 421.51 L569.42 421.56 L569.06 421.60 L568.71 421.64 L568.35 421.68 L568.00 421.71 L567.64 421.74 L567.29 421.76 L566.94 421.78 L566.58 421.79 L566.23 421.80 L565.87 421.81 L565.52 421.82 L565.16 421.82 L564.81 421.83 L564.45 421.84 L564.10 421.84 L563.75 421.85 L563.39 421.86 L563.04 421.87 L562.68 421.87 L562.33 421.88 L561.97 421.88 L561.62 421.89 L561.26 421.90 L560.91 421.90 L560.56 421.91 L560.20 421.92 L559.85 421.92 L559.49 421.93 L559.14 421.93 L558.78 421.94 L558.43 421.94 L558.08 421.95 L557.72 421.96 L557.37 421.96 L557.01 421.97 L556.66 421.97 L556.30 421.98 L555.95 421.98 L555.59 421.99 L555.24 421.99 L554.89 422.00 L554.53 422.00 L554.18 422.01 L553.82 422.01 L553.47 422.02 L553.11 422.02 L552.76 422.02 L552.41 422.03 L552.05 422.03 L551.70 422.04 L551.34 422.04 L550.99 422.05 L550.63 422.05 L550.28 422.05 L549.92 422.06 L549.57 422.06 L549.22 422.07 L548.86 422.07 L548.51 422.07 L548.15 422.08 L547.80 422.08 L547.44 422.08 L547.09 422.09 L546.74 422.09 L546.38 422.09 L546.03 422.10 L545.67 422.10 L545.32 422.10 L544.96 422.11 L544.61 422.11 L544.25 422.11 L543.90 422.12 L543.55 422.12 L543.19 422.12 L542.84 422.12 L542.48 422.13 L542.13 422.13 L541.77 422.13 L541.42 422.13 L541.06 422.14 L540.71 422.14 L540.36 422.14 L540.00 422.14 L539.65 422.15 L539.29 422.15 L538.94 422.15 L538.58 422.15 L538.23 422.15 L537.88 422.16 L537.52 422.16 L537.17 422.16 L536.81 422.16 L536.46 422.16 L536.10 422.17 L535.75 422.17 L535.39 422.17 L535.04 422.17 L534.69 422.17 L534.33 422.17 L533.98 422.17 L533.62 422.18 L533.27 422.18 L532.91 422.18 L532.56 422.18 L532.21 422.18 L531.85 422.18 L531.50 422.18 L531.14 422.18 L530.79 422.19 L530.43 422.19 L530.08 422.19 L529.72 422.19 L529.37 422.19 L529.02 422.19 L528.66 422.19 L528.31 422.19 L527.95 422.19 L527.60 422.19 L527.24 422.19 L526.89 422.19 L526.54 422.20 L526.18 422.20 L525.83 422.20 L525.47 422.20 L525.12 422.20 L524.76 422.20 L524.41 422.20 L524.05 422.20 L523.70 422.20 Z" fill="#10a9ea" fill-opacity="0.38"/>
<path d="M523.7 422.2 524.1 422.2 524.4 422.2 524.8 422.2 525.1 422.2 525.5 422.2 525.8 422.2 526.2 422.2 526.5 422.2 526.9 422.2 527.2 422.1 527.6 422.1 528.0 422.1 528.3 422.1 528.7 422.1 529.0 422.1 529.4 422.1 529.7 422.1 530.1 422.1 530.4 422.1 530.8 422.1 531.1 422.1 531.5 422.1 531.9 422.1 532.2 422.0 532.6 422.0 532.9 422.0 533.3 422.0 533.6 422.0 534.0 422.0 534.3 422.0 534.7 422.0 535.0 422.0 535.4 421.9 535.7 421.9 536.1 421.9 536.5 421.9 536.8 421.9 537.2 421.9 537.5 421.9 537.9 421.9 538.2 421.8 538.6 421.8 538.9 421.8 539.3 421.8 539.6 421.8 540.0 421.8 540.4 421.8 540.7 421.7 541.1 421.7 541.4 421.7 541.8 421.7 542.1 421.7 542.5 421.7 542.8 421.6 543.2 421.6 543.5 421.6 543.9 421.6 544.3 421.6 544.6 421.5 545.0 421.5 545.3 421.5 545.7 421.5 546.0 421.5 546.4 421.4 546.7 421.4 547.1 421.4 547.4 421.4 547.8 421.4 548.2 421.3 548.5 421.3 548.9 421.3 549.2 421.3 549.6 421.2 549.9 421.2 550.3 421.2 550.6 421.1 551.0 421.1 551.3 421.0 551.7 420.9 552.1 420.9 552.4 420.8 552.8 420.7 553.1 420.7 553.5 420.6 553.8 420.5 554.2 420.4 554.5 420.3 554.9 420.3 555.2 420.2 555.6 420.1 555.9 420.0 556.3 419.9 556.7 419.8 557.0 419.7 557.4 419.7 557.7 419.6 558.1 419.5 558.4 419.4 558.8 419.3 559.1 419.2 559.5 419.1 559.8 419.0 560.2 418.9 560.6 418.8 560.9 418.7 561.3 418.6 561.6 418.5 562.0 418.4 562.3 418.3 562.7 418.1 563.0 418.0 563.4 417.9 563.7 417.8 564.1 417.7 564.5 417.6 564.8 417.5 565.2 417.4 565.5 417.2 565.9 417.1 566.2 417.0 566.6 416.9 566.9 416.8 567.3 416.7 567.6 416.6 568.0 416.5 568.4 416.4 568.7 416.3 569.1 416.2 569.4 416.1 569.8 416.0 570.1 415.9 570.5 415.8 570.8 415.7 571.2 415.6 571.5 415.5 571.9 415.4 572.3 415.3 572.6 415.2 573.0 415.1 573.3 415.0 573.7 414.9 574.0 414.7 574.4 414.6 574.7 414.5 575.1 414.4 575.4 414.3 575.8 414.1 576.1 414.0 576.5 413.9 576.9 413.7 577.2 413.6 577.6 413.5 577.9 413.3 578.3 413.2 578.6 413.0 579.0 412.9 579.3 412.7 579.7 412.6 580.0 412.4 580.4 412.3 580.8 412.1 581.1 412.0 581.5 411.8 581.8 411.7 582.2 411.5 582.5 411.4 582.9 411.3 583.2 411.1 583.6 411.0 583.9 410.8 584.3 410.7 584.7 410.6 585.0 410.4 585.4 410.3 585.7 410.1 586.1 409.9 586.4 409.8 586.8 409.6 587.1 409.5 587.5 409.3 587.8 409.1 588.2 409.0 588.6 408.8 588.9 408.6 589.3 408.5 589.6 408.3 590.0 408.1 590.3 408.0 590.7 407.8 591.0 407.7 591.4 407.6 591.7 407.4 592.1 407.3 592.5 407.2 592.8 407.1 593.2 407.0 593.5 406.9 593.9 406.8 594.2 406.7 594.6 406.6 594.9 406.6 595.3 406.6 595.6 406.5 596.0 406.5 596.3 406.5 596.7 406.5 597.1 406.5 597.4 406.6 597.8 406.6 598.1 406.7 598.5 406.8 598.8 406.9 599.2 407.0 599.5 407.1 599.9 407.2 600.2 407.3 600.6 407.4 601.0 407.5 601.3 407.6 601.7 407.7 602.0 407.8 602.4 407.9 602.7 408.0 603.1 408.0 603.4 408.1 603.8 408.2 604.1 408.2 604.5 408.2 604.9 408.2 605.2 408.2 605.6 408.2 605.9 408.2 606.3 408.2 606.6 408.2 607.0 408.2 607.3 408.2 607.7 408.2 608.0 408.2 608.4 408.2 608.8 408.2 609.1 408.2 609.5 408.2 609.8 408.2 610.2 408.2 610.5 408.2 610.9 408.2 611.2 408.2 611.6 408.2 611.9 408.2 612.3 408.2 612.7 408.2 613.0 408.2 613.4 408.2 613.7 408.2 614.1 408.2 614.4 408.2 614.8 408.2 615.1 408.3 615.5 408.3 615.8 408.4 616.2 408.4 616.5 408.5 616.9 408.6 617.3 408.6 617.6 408.7 618.0 408.8 618.3 408.9 618.7 409.0 619.0 409.1 619.4 409.2 619.7 409.3 620.1 409.4 620.4 409.5 620.8 409.6 621.2 409.7 621.5 409.7 621.9 409.8 622.2 409.9 622.6 410.0 622.9 410.1 623.3 410.2 623.6 410.3 624.0 410.4 624.3 410.5 624.7 410.6 625.1 410.7 625.4 410.7 625.8 410.8 626.1 410.9 626.5 411.0 626.8 411.1 627.2 411.2 627.5 411.4 627.9 411.5 628.2 411.6 628.6 411.7 629.0 411.8 629.3 411.9 629.7 412.0 630.0 412.2 630.4 412.3 630.7 412.4 631.1 412.5 631.4 412.7 631.8 412.8 632.1 413.0 632.5 413.1 632.9 413.3 633.2 413.5 633.6 413.6 633.9 413.8 634.3 414.0 634.6 414.2 635.0 414.4 635.3 414.6 635.7 414.8 636.0 415.0 636.4 415.2 636.7 415.4 637.1 415.5 637.5 415.7 637.8 415.9 638.2 416.1 638.5 416.3 638.9 416.5 639.2 416.7 639.6 416.8 639.9 417.0 640.3 417.1 640.6 417.3 641.0 417.5 641.4 417.6 641.7 417.8 642.1 417.9 642.4 418.1 642.8 418.3 643.1 418.4 643.5 418.6 643.8 418.7 644.2 418.9 644.5 419.0 644.9 419.2 645.3 419.3 645.6 419.5 646.0 419.6 646.3 419.7 646.7 419.9 647.0 420.0 647.4 420.1 647.7 420.2 648.1 420.3 648.4 420.4 648.8 420.5 649.2 420.6 649.5 420.7 649.9 420.8 650.2 420.9 650.6 421.0 650.9 421.1 651.3 421.2 651.6 421.3 652.0 421.4 652.3 421.5 652.7 421.6 653.1 421.6 653.4 421.7 653.8 421.8 654.1 421.8 654.5 421.9 654.8 421.9 655.2 422.0 655.5 422.0 655.9 422.0 656.2 422.0 656.6 422.0 656.9 422.0 657.3 422.1 657.7 422.1 658.0 422.1 658.4 422.1 658.7 422.1 659.1 422.1 659.4 422.1 659.8 422.1 660.1 422.1 660.5 422.1 660.8 422.1 661.2 422.2 661.6 422.2 661.9 422.2 662.3 422.2 662.6 422.2 663.0 422.2 663.3 422.2 663.7 422.2 664.0 422.2 664.4 422.2 664.7 422.2 665.1 422.2" fill="none" stroke="#e8333d" stroke-width="1.1"/>
<path d="M523.7 422.2 524.1 422.2 524.4 422.2 524.8 422.2 525.1 422.2 525.5 422.2 525.8 422.2 526.2 422.2 526.5 422.2 526.9 422.2 527.2 422.2 527.6 422.2 528.0 422.2 528.3 422.2 528.7 422.2 529.0 422.2 529.4 422.2 529.7 422.2 530.1 422.2 530.4 422.2 530.8 422.2 531.1 422.2 531.5 422.2 531.9 422.2 532.2 422.2 532.6 422.2 532.9 422.2 533.3 422.1 533.6 422.1 534.0 422.1 534.3 422.1 534.7 422.1 535.0 422.1 535.4 422.1 535.7 422.1 536.1 422.1 536.5 422.1 536.8 422.1 537.2 422.1 537.5 422.1 537.9 422.1 538.2 422.1 538.6 422.1 538.9 422.1 539.3 422.1 539.6 422.1 540.0 422.1 540.4 422.1 540.7 422.1 541.1 422.1 541.4 422.0 541.8 422.0 542.1 422.0 542.5 422.0 542.8 422.0 543.2 422.0 543.5 422.0 543.9 422.0 544.3 422.0 544.6 422.0 545.0 422.0 545.3 422.0 545.7 422.0 546.0 422.0 546.4 422.0 546.7 421.9 547.1 421.9 547.4 421.9 547.8 421.9 548.2 421.9 548.5 421.9 548.9 421.9 549.2 421.9 549.6 421.9 549.9 421.9 550.3 421.9 550.6 421.9 551.0 421.8 551.3 421.8 551.7 421.8 552.1 421.8 552.4 421.8 552.8 421.8 553.1 421.8 553.5 421.8 553.8 421.8 554.2 421.8 554.5 421.7 554.9 421.7 555.2 421.7 555.6 421.7 555.9 421.7 556.3 421.7 556.7 421.7 557.0 421.7 557.4 421.7 557.7 421.6 558.1 421.6 558.4 421.6 558.8 421.6 559.1 421.6 559.5 421.6 559.8 421.6 560.2 421.6 560.6 421.5 560.9 421.5 561.3 421.5 561.6 421.5 562.0 421.5 562.3 421.5 562.7 421.5 563.0 421.4 563.4 421.4 563.7 421.4 564.1 421.4 564.5 421.4 564.8 421.4 565.2 421.4 565.5 421.3 565.9 421.3 566.2 421.3 566.6 421.3 566.9 421.3 567.3 421.2 567.6 421.2 568.0 421.1 568.4 421.1 568.7 421.0 569.1 420.9 569.4 420.8 569.8 420.7 570.1 420.6 570.5 420.5 570.8 420.4 571.2 420.3 571.5 420.2 571.9 420.0 572.3 419.9 572.6 419.8 573.0 419.6 573.3 419.5 573.7 419.3 574.0 419.2 574.4 419.0 574.7 418.9 575.1 418.7 575.4 418.5 575.8 418.3 576.1 418.1 576.5 417.9 576.9 417.7 577.2 417.4 577.6 417.1 577.9 416.8 578.3 416.5 578.6 416.2 579.0 415.9 579.3 415.6 579.7 415.2 580.0 414.9 580.4 414.5 580.8 414.1 581.1 413.6 581.5 413.2 581.8 412.6 582.2 412.1 582.5 411.5 582.9 410.8 583.2 410.2 583.6 409.6 583.9 409.0 584.3 408.4 584.7 407.8 585.0 407.2 585.4 406.7 585.7 406.2 586.1 405.7 586.4 405.2 586.8 404.7 587.1 404.2 587.5 403.7 587.8 403.2 588.2 402.7 588.6 402.3 588.9 401.8 589.3 401.4 589.6 400.9 590.0 400.5 590.3 400.1 590.7 399.7 591.0 399.3 591.4 399.0 591.7 398.6 592.1 398.2 592.5 397.8 592.8 397.4 593.2 397.0 593.5 396.6 593.9 396.3 594.2 396.0 594.6 395.7 594.9 395.5 595.3 395.3 595.6 395.2 596.0 395.1 596.3 395.0 596.7 395.0 597.1 394.9 597.4 394.9 597.8 394.8 598.1 394.8 598.5 394.7 598.8 394.7 599.2 394.7 599.5 394.7 599.9 394.7 600.2 394.7 600.6 394.7 601.0 394.7 601.3 394.8 601.7 394.8 602.0 394.8 602.4 394.8 602.7 394.9 603.1 394.9 603.4 394.9 603.8 395.0 604.1 395.0 604.5 395.1 604.9 395.2 605.2 395.3 605.6 395.5 605.9 395.7 606.3 396.0 606.6 396.3 607.0 396.7 607.3 397.0 607.7 397.4 608.0 397.9 608.4 398.3 608.8 398.7 609.1 399.2 609.5 399.6 609.8 400.1 610.2 400.5 610.5 400.9 610.9 401.4 611.2 401.9 611.6 402.4 611.9 402.9 612.3 403.4 612.7 404.0 613.0 404.5 613.4 405.1 613.7 405.6 614.1 406.2 614.4 406.7 614.8 407.2 615.1 407.8 615.5 408.3 615.8 408.8 616.2 409.3 616.5 409.9 616.9 410.4 617.3 410.9 617.6 411.5 618.0 412.0 618.3 412.5 618.7 413.0 619.0 413.5 619.4 414.0 619.7 414.4 620.1 414.8 620.4 415.2 620.8 415.6 621.2 415.9 621.5 416.3 621.9 416.6 622.2 417.0 622.6 417.3 622.9 417.6 623.3 417.9 623.6 418.2 624.0 418.4 624.3 418.7 624.7 418.9 625.1 419.2 625.4 419.4 625.8 419.6 626.1 419.8 626.5 419.9 626.8 420.1 627.2 420.3 627.5 420.5 627.9 420.7 628.2 420.8 628.6 421.0 629.0 421.1 629.3 421.2 629.7 421.4 630.0 421.5 630.4 421.6 630.7 421.6 631.1 421.7 631.4 421.7 631.8 421.8 632.1 421.8 632.5 421.8 632.9 421.8 633.2 421.9 633.6 421.9 633.9 421.9 634.3 422.0 634.6 422.0 635.0 422.0 635.3 422.0 635.7 422.0 636.0 422.1 636.4 422.1 636.7 422.1 637.1 422.1 637.5 422.1 637.8 422.1 638.2 422.2 638.5 422.2 638.9 422.2 639.2 422.2 639.6 422.2 639.9 422.2 640.3 422.2 640.6 422.2 641.0 422.2 641.4 422.2 641.7 422.2 642.1 422.2 642.4 422.2 642.8 422.2 643.1 422.2 643.5 422.2 643.8 422.2 644.2 422.2 644.5 422.2 644.9 422.2 645.3 422.2 645.6 422.2 646.0 422.2 646.3 422.2 646.7 422.2 647.0 422.2 647.4 422.2 647.7 422.2 648.1 422.2 648.4 422.2 648.8 422.2 649.2 422.2 649.5 422.2 649.9 422.2 650.2 422.2 650.6 422.2 650.9 422.2 651.3 422.2 651.6 422.2 652.0 422.2 652.3 422.2 652.7 422.2 653.1 422.2 653.4 422.2 653.8 422.2 654.1 422.2 654.5 422.2 654.8 422.2 655.2 422.2 655.5 422.2 655.9 422.2 656.2 422.2 656.6 422.2 656.9 422.2 657.3 422.2 657.7 422.2 658.0 422.2 658.4 422.2 658.7 422.2 659.1 422.2 659.4 422.2 659.8 422.2 660.1 422.2 660.5 422.2 660.8 422.2 661.2 422.2 661.6 422.2 661.9 422.2 662.3 422.2 662.6 422.2 663.0 422.2 663.3 422.2 663.7 422.2 664.0 422.2 664.4 422.2 664.7 422.2 665.1 422.2" fill="none" stroke="#10a9ea" stroke-width="1.3"/>
</svg></body></html>
